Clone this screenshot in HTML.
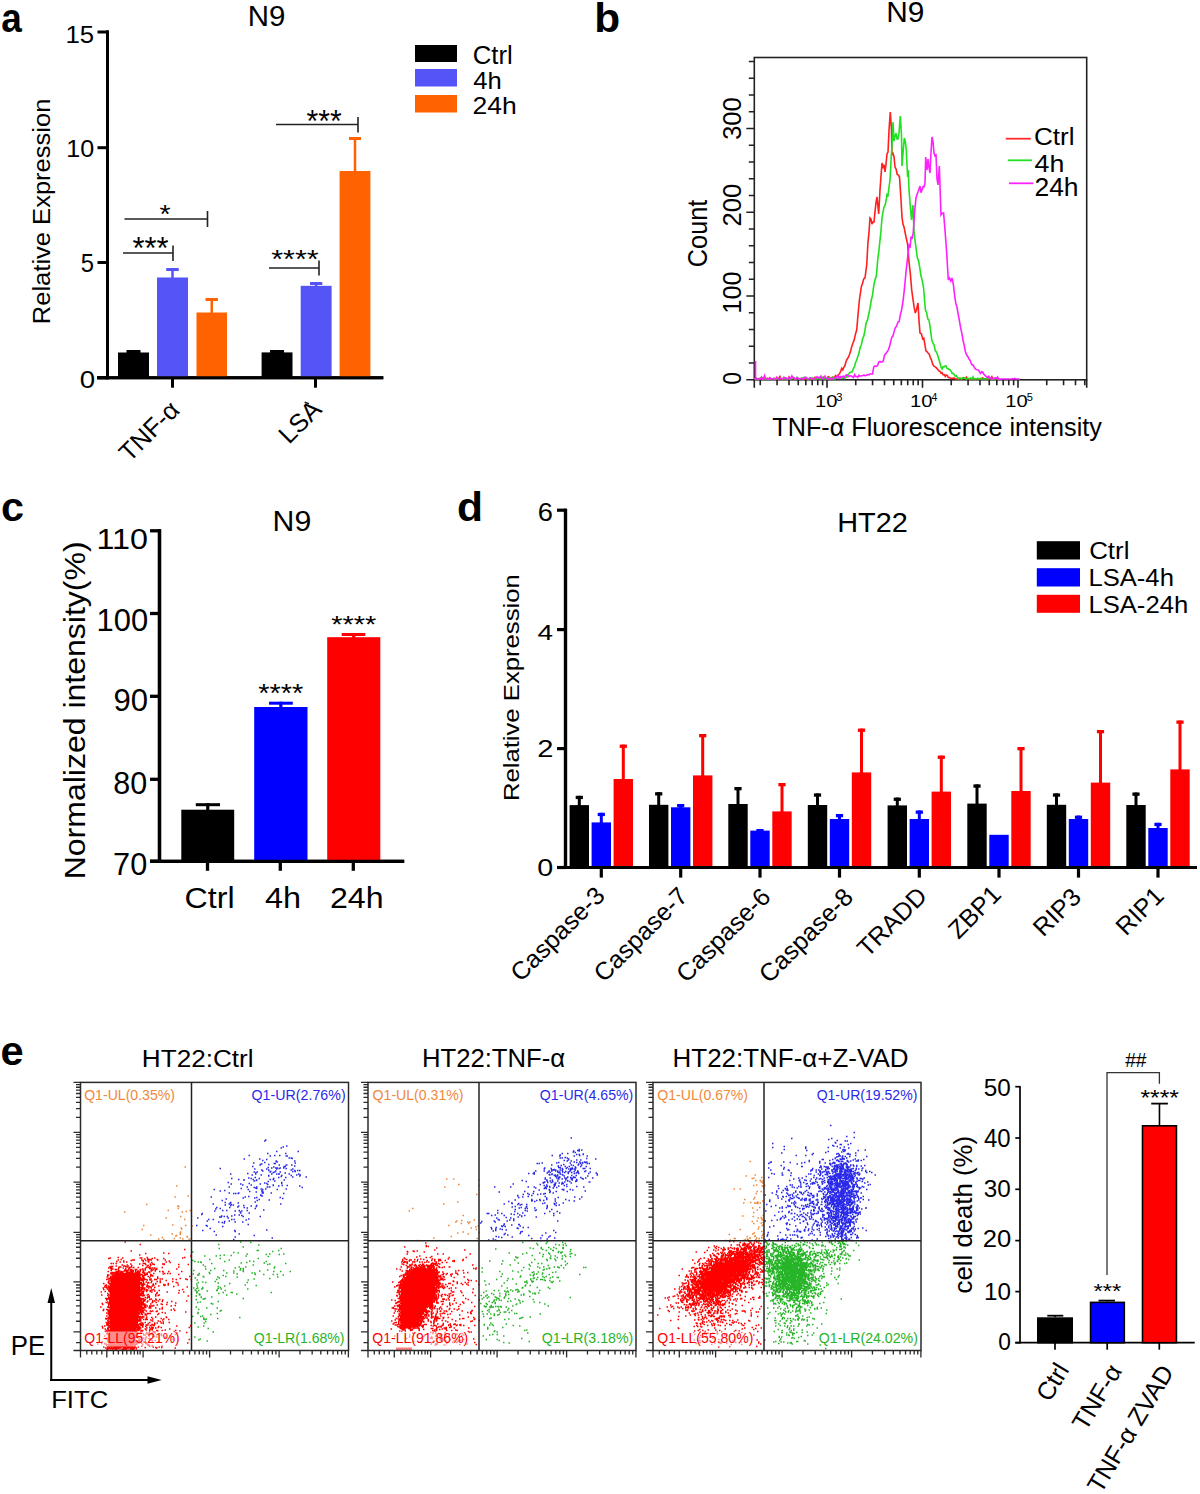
<!DOCTYPE html>
<html><head><meta charset="utf-8"><style>
html,body{margin:0;padding:0;background:#fff;width:1200px;height:1494px;overflow:hidden}
svg{display:block}
text{font-family:"Liberation Sans",sans-serif}
</style></head><body>
<svg width="1200" height="1494" viewBox="0 0 1200 1494">
<rect width="1200" height="1494" fill="#fff"/>
<text transform="translate(1.20 32.36) scale(0.913 1)" font-size="40.50" font-weight="bold" fill="#000">a</text>
<text transform="translate(594.14 32.38) scale(1.047 1)" font-size="40.50" font-weight="bold" fill="#000">b</text>
<text transform="translate(1.04 520.53) scale(1.024 1)" font-size="40.50" font-weight="bold" fill="#000">c</text>
<text transform="translate(456.89 520.68) scale(1.052 1)" font-size="40.50" font-weight="bold" fill="#000">d</text>
<text transform="translate(0.48 1065.48) scale(1.027 1)" font-size="40.50" font-weight="bold" fill="#000">e</text>
<text transform="translate(247.87 26.08) scale(0.988 1)" font-size="29.79" fill="#000">N9</text>
<line x1="107.50" y1="30.50" x2="107.50" y2="379.30" stroke="#000" stroke-width="3.00"/>
<line x1="97.00" y1="377.80" x2="383.30" y2="377.80" stroke="#000" stroke-width="3.00"/>
<line x1="97.50" y1="32.00" x2="107.50" y2="32.00" stroke="#000" stroke-width="3.00"/>
<line x1="97.50" y1="147.70" x2="107.50" y2="147.70" stroke="#000" stroke-width="3.00"/>
<line x1="97.50" y1="262.50" x2="107.50" y2="262.50" stroke="#000" stroke-width="3.00"/>
<line x1="97.50" y1="377.80" x2="107.50" y2="377.80" stroke="#000" stroke-width="3.00"/>
<text transform="translate(65.50 42.82) scale(1.072 1)" font-size="24.03" fill="#000">15</text>
<text transform="translate(66.25 157.32) scale(1.049 1)" font-size="23.97" fill="#000">10</text>
<text transform="translate(80.79 272.11) scale(0.941 1)" font-size="25.32" fill="#000">5</text>
<text transform="translate(79.82 388.32) scale(1.182 1)" font-size="23.40" fill="#000">0</text>
<line x1="172.50" y1="377.80" x2="172.50" y2="387.70" stroke="#000" stroke-width="3.00"/>
<line x1="315.50" y1="377.80" x2="315.50" y2="387.70" stroke="#000" stroke-width="3.00"/>
<text transform="translate(49.59 324.21) rotate(-90) scale(1.079 1)" font-size="23.66" fill="#000">Relative Expression</text>
<rect x="132.25" y="350.00" width="2.50" height="3.50" fill="#000"/>
<rect x="126.50" y="350.00" width="14.00" height="3.00" fill="#000"/>
<rect x="118.00" y="352.50" width="31.00" height="25.30" fill="#000"/>
<rect x="171.25" y="268.00" width="2.50" height="10.50" fill="#5454F7"/>
<rect x="166.25" y="268.00" width="12.50" height="3.00" fill="#5454F7"/>
<rect x="157.00" y="277.50" width="31.00" height="100.30" fill="#5454F7"/>
<rect x="210.50" y="298.00" width="2.50" height="15.50" fill="#FF6200"/>
<rect x="205.50" y="298.00" width="12.50" height="3.00" fill="#FF6200"/>
<rect x="196.50" y="312.50" width="30.50" height="65.30" fill="#FF6200"/>
<rect x="275.80" y="350.00" width="2.50" height="3.40" fill="#000"/>
<rect x="270.05" y="350.00" width="14.00" height="3.00" fill="#000"/>
<rect x="261.60" y="352.40" width="30.90" height="25.40" fill="#000"/>
<rect x="314.90" y="282.00" width="2.50" height="4.80" fill="#5454F7"/>
<rect x="310.00" y="282.00" width="12.30" height="3.00" fill="#5454F7"/>
<rect x="300.70" y="285.80" width="30.90" height="92.00" fill="#5454F7"/>
<rect x="353.75" y="137.00" width="2.50" height="35.00" fill="#FF6200"/>
<rect x="349.00" y="137.00" width="12.00" height="3.00" fill="#FF6200"/>
<rect x="339.60" y="171.00" width="30.80" height="206.80" fill="#FF6200"/>
<line x1="123.00" y1="253.00" x2="173.00" y2="253.00" stroke="#222" stroke-width="1.60"/>
<line x1="173.00" y1="245.50" x2="173.00" y2="261.00" stroke="#222" stroke-width="1.60"/>
<line x1="124.50" y1="219.00" x2="207.50" y2="219.00" stroke="#222" stroke-width="1.60"/>
<line x1="207.50" y1="211.00" x2="207.50" y2="227.00" stroke="#222" stroke-width="1.60"/>
<line x1="269.00" y1="268.00" x2="319.00" y2="268.00" stroke="#222" stroke-width="1.60"/>
<line x1="319.00" y1="260.50" x2="319.00" y2="275.60" stroke="#222" stroke-width="1.60"/>
<line x1="276.00" y1="124.50" x2="358.00" y2="124.50" stroke="#222" stroke-width="1.60"/>
<line x1="358.00" y1="117.00" x2="358.00" y2="132.50" stroke="#222" stroke-width="1.60"/>
<text transform="translate(132.46 258.92) scale(0.971 1)" font-size="31.88" fill="#000">***</text>
<text transform="translate(159.50 222.93) scale(1.095 1)" font-size="26.09" fill="#000">*</text>
<text transform="translate(271.17 268.14) scale(1.185 1)" font-size="25.80" fill="#000">****</text>
<text transform="translate(306.47 131.92) scale(0.944 1)" font-size="31.88" fill="#000">***</text>
<line x1="107.50" y1="30.50" x2="107.50" y2="379.30" stroke="#000" stroke-width="3.00"/>
<line x1="97.00" y1="377.80" x2="383.30" y2="377.80" stroke="#000" stroke-width="3.00"/>
<rect x="415.00" y="45.00" width="42.00" height="17.00" fill="#000"/>
<rect x="415.00" y="69.00" width="42.00" height="17.50" fill="#5454F7"/>
<rect x="415.00" y="95.00" width="42.00" height="17.50" fill="#FF6200"/>
<text transform="translate(472.65 64.01) scale(1.034 1)" font-size="24.93" fill="#000">Ctrl</text>
<text transform="translate(473.30 89.06) scale(1.054 1)" font-size="24.31" fill="#000">4h</text>
<text transform="translate(472.61 114.06) scale(1.092 1)" font-size="24.31" fill="#000">24h</text>
<text transform="translate(129.50 463.08) rotate(-45)" font-size="25.50" fill="#000">TNF-α</text>
<text transform="translate(289.01 445.05) rotate(-45)" font-size="25.50" fill="#000">LSA</text>
<path d="M304.6 402.3 L309 403.7" stroke="#222" stroke-width="1.7" fill="none"/>
<text transform="translate(886.29 22.48)" font-size="29.83" fill="#000">N9</text>
<rect x="754.30" y="57.50" width="332.40" height="322.30" fill="none" stroke="#222" stroke-width="1.6"/>
<path d="M746.30 379.80H754.30M748.80 363.05H754.30M748.80 346.30H754.30M748.80 329.55H754.30M748.80 312.80H754.30M746.30 296.05H754.30M748.80 279.30H754.30M748.80 262.55H754.30M748.80 245.80H754.30M748.80 229.05H754.30M746.30 212.30H754.30M748.80 195.55H754.30M748.80 178.80H754.30M748.80 162.05H754.30M748.80 145.30H754.30M746.30 128.55H754.30M748.80 111.80H754.30M748.80 95.05H754.30M748.80 78.30H754.30M748.80 61.55H754.30" stroke="#222" stroke-width="1.6" fill="none"/>
<path d="M760.25 379.80V385.30M777.07 379.80V385.30M789.00 379.80V385.30M798.25 379.80V385.30M805.81 379.80V385.30M812.21 379.80V385.30M817.75 379.80V385.30M822.63 379.80V385.30M827.00 379.80V387.80M855.75 379.80V385.30M872.57 379.80V385.30M884.50 379.80V385.30M893.75 379.80V385.30M901.31 379.80V385.30M907.71 379.80V385.30M913.25 379.80V385.30M918.13 379.80V385.30M922.50 379.80V387.80M951.25 379.80V385.30M968.07 379.80V385.30M980.00 379.80V385.30M989.25 379.80V385.30M996.81 379.80V385.30M1003.21 379.80V385.30M1008.75 379.80V385.30M1013.63 379.80V385.30M1018.00 379.80V387.80M1046.75 379.80V385.30M1063.57 379.80V385.30M1075.50 379.80V385.30M1084.75 379.80V385.30M754.30 379.80V387.80M1086.70 379.80V387.80" stroke="#222" stroke-width="1.6" fill="none"/>
<text transform="translate(741.05 139.83) rotate(-90) scale(0.971 1)" font-size="26.24" fill="#000">300</text>
<text transform="translate(741.05 226.47) rotate(-90) scale(0.974 1)" font-size="26.24" fill="#000">200</text>
<text transform="translate(741.05 313.67) rotate(-90) scale(0.967 1)" font-size="26.24" fill="#000">100</text>
<text transform="translate(740.81 384.67) rotate(-90) scale(0.879 1)" font-size="25.89" fill="#000">0</text>
<text transform="translate(706.50 267.13) rotate(-90) scale(0.927 1)" font-size="27.23" fill="#000">Count</text>
<text transform="translate(814.93 406.88) scale(1.295 1)" font-size="15.60" fill="#000">10</text>
<text transform="translate(836.32 400.91) scale(0.985 1)" font-size="11.35" fill="#000">3</text>
<text transform="translate(909.93 406.88) scale(1.295 1)" font-size="15.60" fill="#000">10</text>
<text transform="translate(931.51 401.03) scale(0.899 1)" font-size="11.68" fill="#000">4</text>
<text transform="translate(1005.23 406.88) scale(1.295 1)" font-size="15.60" fill="#000">10</text>
<text transform="translate(1026.63 400.91) scale(0.961 1)" font-size="11.51" fill="#000">5</text>
<text transform="translate(772.35 435.91) scale(0.989 1)" font-size="25.48" fill="#000">TNF-α Fluorescence intensity</text>
<line x1="1005.80" y1="138.70" x2="1030.80" y2="138.70" stroke="#FF2A2A" stroke-width="1.80"/>
<line x1="1007.80" y1="160.30" x2="1032.00" y2="160.30" stroke="#22E022" stroke-width="1.80"/>
<line x1="1009.00" y1="183.30" x2="1033.30" y2="183.30" stroke="#FF22FF" stroke-width="1.80"/>
<text transform="translate(1033.93 145.12) scale(1.072 1)" font-size="24.38" fill="#000">Ctrl</text>
<text transform="translate(1034.56 171.76) scale(1.090 1)" font-size="24.58" fill="#000">4h</text>
<text transform="translate(1034.41 196.36) scale(1.059 1)" font-size="25.00" fill="#000">24h</text>
<path d="M754.5 379.0 755.5 379.0 756.5 378.2 757.5 379.0 758.6 379.0 759.6 379.0 760.6 378.6 761.6 378.5 762.6 378.4 763.6 379.0 764.6 378.7 765.7 379.0 766.7 378.5 767.7 378.3 768.7 379.0 769.7 378.5 770.7 378.4 771.7 379.0 772.8 379.0 773.8 378.2 774.8 379.0 775.8 379.0 776.8 379.0 777.8 379.0 778.8 378.0 779.9 376.4 780.9 379.0 781.9 378.8 782.9 379.0 783.9 379.0 784.9 378.8 785.9 379.0 787.0 379.0 788.0 378.6 789.0 377.0 790.0 379.0 791.0 379.0 792.0 378.3 793.0 378.5 794.0 379.0 795.0 379.0 796.0 378.8 797.0 377.7 798.0 379.0 799.0 378.8 800.0 379.0 801.0 378.7 802.0 378.7 803.0 378.8 804.0 379.0 805.0 379.0 806.0 377.9 807.0 379.0 808.0 379.0 809.0 379.0 810.0 379.0 811.0 379.0 812.0 379.0 813.0 379.0 814.0 378.6 815.0 377.4 816.0 378.9 817.0 378.6 818.0 378.3 819.0 377.6 820.0 378.5 821.0 377.3 822.1 378.1 823.1 377.8 824.1 377.9 825.2 378.8 826.2 379.0 827.2 378.1 828.2 376.6 829.3 377.4 830.3 378.4 831.3 378.2 832.4 377.1 833.4 378.2 834.4 377.5 835.5 375.6 836.5 377.0 837.5 375.5 838.6 374.7 839.6 373.6 840.7 371.3 841.7 368.3 842.8 370.0 843.8 367.3 844.9 365.8 846.0 361.6 847.1 359.2 848.2 357.5 849.3 355.0 850.5 351.6 851.8 346.4 853.0 343.0 854.2 339.9 855.5 333.9 856.7 330.0 858.0 314.8 859.4 300.0 861.3 287.0 862.5 283.5 863.8 278.7 865.0 278.0 866.8 264.0 867.9 242.9 868.9 233.7 870.0 218.0 871.0 219.1 872.0 224.1 873.0 222.0 874.0 222.0 875.0 211.7 876.0 202.7 877.0 197.0 878.7 214.0 880.0 190.0 881.0 176.1 882.0 163.0 883.0 168.4 884.0 164.7 885.0 172.0 886.0 164.4 887.0 154.0 888.0 152.0 889.1 128.5 890.3 112.0 891.5 130.0 892.0 155.0 893.0 153.5 894.0 156.7 895.0 167.0 896.1 169.1 897.2 174.4 898.4 175.0 899.5 177.0 900.8 196.4 902.0 217.0 903.0 224.4 904.0 226.9 905.0 232.0 906.0 237.0 907.6 244.0 909.0 262.0 910.4 274.4 911.7 290.0 912.9 298.6 914.1 307.2 915.3 313.0 916.6 309.2 918.0 303.0 919.0 320.6 920.0 333.0 921.4 333.7 922.7 339.0 923.8 338.3 924.8 343.8 925.9 350.8 926.9 351.5 928.0 353.0 929.1 354.0 930.3 357.5 931.4 359.8 932.6 364.0 933.7 366.0 934.8 366.6 935.9 367.4 937.0 368.6 938.1 369.7 939.2 371.0 940.2 371.5 941.2 373.3 942.2 372.8 943.2 374.9 944.3 374.6 945.3 376.5 946.3 375.0 947.3 375.3 948.3 377.5 949.3 377.6 950.3 377.9 951.3 378.5 952.3 378.5 953.3 378.1 954.3 378.0 955.3 378.9 956.3 379.0 957.3 379.0 958.3 379.0 959.3 379.2 960.3 378.2 961.3 379.0 962.4 378.8 963.4 377.7 964.4 378.1 965.4 379.0 966.4 377.2 967.4 379.0 968.5 379.0 969.5 379.0 970.5 378.7 971.5 379.0 972.5 379.0 973.5 378.7 974.6 379.0 975.6 379.0 976.6 378.8 977.6 379.0 978.6 379.0 979.6 379.0 980.7 379.0 981.7 379.0 982.7 377.8 983.7 378.6 984.7 378.8 985.8 379.0 986.8 379.0 987.8 378.2 988.8 379.0 989.8 379.0 990.8 378.5 991.9 376.7 992.9 379.0 993.9 379.0 994.9 378.7 995.9 379.0 996.9 378.0 998.0 379.0 999.0 379.0 1000.0 379.5" fill="none" stroke="#FF2020" stroke-width="1.6" stroke-linejoin="miter" stroke-miterlimit="3"/>
<path d="M754.5 379.0 755.5 379.0 756.5 379.0 757.5 378.6 758.5 379.0 759.6 379.0 760.6 377.9 761.6 378.7 762.6 378.3 763.6 379.0 764.6 379.0 765.6 379.0 766.6 379.0 767.6 378.7 768.7 379.0 769.7 379.0 770.7 379.0 771.7 379.0 772.7 379.0 773.7 379.0 774.7 379.0 775.7 379.0 776.7 378.8 777.8 379.0 778.8 378.6 779.8 378.0 780.8 378.2 781.8 379.0 782.8 379.0 783.8 377.3 784.8 379.0 785.8 379.0 786.9 378.9 787.9 379.0 788.9 378.3 789.9 379.0 790.9 378.7 791.9 378.8 792.9 378.2 793.9 377.9 794.9 379.0 796.0 379.0 797.0 377.3 798.0 378.3 799.0 379.0 800.0 379.0 801.0 378.4 802.0 378.0 803.0 378.7 804.0 377.7 805.0 377.1 806.0 377.8 807.0 379.0 808.0 379.0 809.0 379.0 810.0 377.7 811.0 378.9 812.0 377.8 813.0 379.0 814.0 378.5 815.0 378.5 816.0 379.0 817.0 379.0 818.0 378.9 819.0 378.5 820.0 378.8 821.0 379.0 822.0 379.0 823.0 377.1 824.0 379.0 825.0 379.0 826.0 378.5 827.0 379.0 828.0 378.5 829.0 377.8 830.0 378.5 831.0 378.9 832.1 378.5 833.1 377.1 834.2 379.0 835.2 379.0 836.3 377.8 837.3 378.5 838.4 378.3 839.4 377.3 840.5 377.0 841.5 377.7 842.6 378.5 843.6 377.6 844.7 378.5 845.7 377.6 846.8 376.9 847.8 374.6 848.9 374.0 849.9 372.4 851.0 372.2 852.0 372.0 853.2 369.2 854.4 366.9 855.5 362.7 856.7 360.0 857.9 356.3 859.0 353.1 860.1 347.8 861.3 345.0 862.5 339.0 863.8 336.2 865.0 330.0 866.2 322.5 867.4 320.4 868.6 315.0 870.0 308.2 871.3 300.0 872.5 295.1 873.8 285.3 875.0 280.0 876.4 275.6 877.7 260.0 878.9 250.8 880.0 240.0 881.0 230.5 882.0 218.2 883.0 212.2 884.0 207.0 885.0 205.5 886.0 201.0 887.0 194.6 888.0 195.4 889.0 187.5 890.0 180.0 891.2 157.9 892.5 137.0 893.0 122.0 894.0 141.0 895.0 136.6 896.0 133.2 897.0 139.0 898.0 139.0 899.0 133.0 900.3 116.0 901.5 135.0 902.0 166.0 903.1 152.2 904.3 138.0 905.3 141.2 906.3 150.0 907.6 177.0 908.3 170.0 909.0 190.0 910.2 204.9 911.5 220.0 913.0 205.0 914.0 232.0 915.1 240.6 916.3 250.0 917.4 258.0 918.5 260.6 919.7 267.2 920.8 275.0 922.2 280.3 923.6 288.0 925.4 310.0 926.6 312.4 927.8 319.0 929.0 320.0 930.4 329.1 931.8 340.0 932.9 342.9 934.1 345.1 935.2 350.7 936.4 352.0 937.5 354.7 938.7 358.8 939.9 362.7 941.0 367.0 942.0 369.1 943.0 366.6 944.0 366.8 945.0 366.0 946.0 365.8 947.1 368.5 948.1 368.6 949.2 369.6 950.2 370.0 951.2 371.3 952.2 373.4 953.2 373.4 954.2 374.5 955.3 376.2 956.3 375.6 957.3 377.3 958.3 378.5 959.3 378.0 960.3 378.5 961.4 379.0 962.4 377.7 963.5 378.3 964.5 378.1 965.6 378.2 966.6 379.0 967.7 377.9 968.8 378.6 969.8 379.0 970.9 378.0 971.9 379.0 973.0 376.9 974.0 379.0 975.0 379.0 976.0 379.0 977.0 378.8 978.0 378.2 979.0 379.0 980.0 378.9 981.0 378.2 982.0 378.9 983.0 379.0 984.0 379.0 985.0 379.0 986.0 378.7 987.0 377.4 988.0 379.0 989.0 378.1 990.0 378.2 991.0 379.0 992.0 379.0 993.0 378.5 994.0 379.0 995.0 379.0 996.0 378.0 997.0 379.0 998.0 379.0 999.0 379.0 1000.0 379.5" fill="none" stroke="#20E020" stroke-width="1.6" stroke-linejoin="miter" stroke-miterlimit="3"/>
<path d="M754.5 379.0 755.5 379.0 756.5 379.0 757.5 379.0 758.5 379.0 759.6 378.5 760.6 379.0 761.6 377.0 762.6 379.0 763.6 378.1 764.6 375.7 765.6 379.0 766.6 379.0 767.6 378.6 768.7 379.0 769.7 377.8 770.7 379.0 771.7 379.0 772.7 379.0 773.7 379.0 774.7 379.0 775.7 378.8 776.7 377.3 777.8 379.0 778.8 379.0 779.8 378.5 780.8 378.2 781.8 379.0 782.8 378.9 783.8 378.4 784.8 377.7 785.8 377.8 786.9 378.9 787.9 379.0 788.9 378.1 789.9 378.7 790.9 378.0 791.9 375.9 792.9 377.6 793.9 377.6 794.9 379.0 796.0 378.8 797.0 377.9 798.0 378.1 799.0 379.0 800.0 378.5 801.0 378.5 802.0 378.5 803.0 379.0 804.0 377.7 805.0 378.6 806.0 377.3 807.0 378.2 808.0 379.0 809.0 378.9 810.0 377.8 811.0 378.1 812.0 379.0 813.0 378.5 814.0 379.0 815.0 379.0 816.0 377.8 817.0 376.7 818.0 378.2 819.0 377.3 820.0 377.5 821.0 376.2 822.0 379.0 823.0 378.9 824.0 377.0 825.0 376.1 826.0 378.6 827.0 378.4 828.0 378.7 829.0 379.0 830.0 379.0 831.0 378.4 832.0 379.0 833.0 379.0 834.0 378.0 835.0 377.7 836.0 378.0 837.0 376.2 838.0 376.1 839.1 378.3 840.1 376.6 841.1 378.3 842.1 376.7 843.2 376.3 844.2 377.6 845.2 375.8 846.2 375.1 847.3 374.9 848.3 376.7 849.3 376.0 850.4 375.8 851.4 375.9 852.5 376.8 853.5 377.5 854.6 374.6 855.6 376.4 856.7 376.5 857.7 377.5 858.8 375.3 859.8 376.1 860.9 376.0 861.9 375.7 863.0 375.5 864.0 375.0 865.0 375.7 866.1 375.5 867.1 374.7 868.2 374.5 869.2 374.8 870.3 373.9 871.3 374.0 872.5 374.0 873.8 367.0 875.0 366.0 876.2 366.4 877.5 365.7 878.7 362.0 879.9 361.4 881.0 362.2 882.1 361.9 883.3 361.0 884.5 355.2 885.8 353.5 887.0 352.0 888.2 350.1 889.4 347.1 890.6 342.0 891.8 337.1 892.9 336.2 894.1 331.6 895.2 328.0 896.6 326.0 898.0 322.0 899.2 321.5 900.4 314.3 901.6 310.0 903.0 301.5 904.3 290.0 906.2 270.0 907.6 257.9 909.0 245.0 910.1 246.4 911.1 236.5 912.2 239.0 913.3 232.0 914.6 211.8 916.0 198.0 917.0 194.4 918.0 192.0 919.0 188.9 920.0 186.1 921.0 192.6 922.0 190.0 923.0 186.7 924.0 186.8 925.0 183.0 925.7 157.0 927.0 170.0 928.0 159.0 929.0 167.7 930.0 173.0 931.0 152.4 932.0 137.0 933.0 141.5 934.0 153.0 935.0 155.8 936.0 155.0 937.0 178.6 938.0 185.0 939.3 166.0 941.0 215.0 942.3 213.3 943.6 213.0 945.0 230.0 946.5 250.0 948.3 280.0 949.5 278.1 950.8 281.2 952.0 278.0 953.4 284.7 954.8 297.0 955.9 303.7 957.0 307.0 958.2 314.3 959.3 320.0 960.5 327.2 961.8 333.2 963.0 340.0 964.2 345.2 965.5 352.0 966.7 355.0 967.8 356.4 968.9 358.9 970.0 360.1 971.1 363.5 972.2 365.0 973.2 365.1 974.3 367.4 975.3 368.9 976.4 369.4 977.4 369.8 978.5 370.1 979.5 372.0 980.5 373.4 981.6 371.7 982.6 372.0 983.7 374.0 984.7 375.1 985.8 376.2 986.8 377.0 987.9 378.0 988.9 376.4 990.0 378.6 991.1 377.7 992.2 379.0 993.2 378.5 994.3 378.3 995.4 377.9 996.5 378.3 997.6 377.0 998.6 379.0 999.7 379.5 1000.7 379.0 1001.7 379.0 1002.7 379.0 1003.8 379.0 1004.8 379.0 1005.8 379.0 1006.8 379.0 1007.8 379.0 1008.8 379.0 1009.9 379.0 1010.9 379.0 1011.9 379.0 1012.9 378.6 1013.9 379.0 1014.9 378.4 1015.9 379.0 1017.0 379.0 1018.0 379.0 1019.0 379.0 1020.0 379.5" fill="none" stroke="#FF20FF" stroke-width="1.6" stroke-linejoin="miter" stroke-miterlimit="3"/>
<line x1="755.50" y1="361.00" x2="755.50" y2="379.50" stroke="#FF20FF" stroke-width="1.60"/>
<text transform="translate(272.50 531.48) scale(1.022 1)" font-size="29.65" fill="#000">N9</text>
<line x1="159.50" y1="529.20" x2="159.50" y2="863.00" stroke="#000" stroke-width="3.30"/>
<line x1="150.00" y1="861.30" x2="404.20" y2="861.30" stroke="#000" stroke-width="3.30"/>
<line x1="150.00" y1="530.80" x2="159.50" y2="530.80" stroke="#000" stroke-width="3.30"/>
<line x1="150.00" y1="613.50" x2="159.50" y2="613.50" stroke="#000" stroke-width="3.30"/>
<line x1="150.00" y1="696.30" x2="159.50" y2="696.30" stroke="#000" stroke-width="3.30"/>
<line x1="150.00" y1="779.30" x2="159.50" y2="779.30" stroke="#000" stroke-width="3.30"/>
<line x1="150.00" y1="861.30" x2="159.50" y2="861.30" stroke="#000" stroke-width="3.30"/>
<text transform="translate(96.49 548.97) scale(1.075 1)" font-size="30.07" fill="#000">110</text>
<text transform="translate(96.61 630.57)" font-size="30.92" fill="#000">100</text>
<text transform="translate(113.52 711.07) scale(1.005 1)" font-size="30.92" fill="#000">90</text>
<text transform="translate(113.25 794.27) scale(0.977 1)" font-size="31.21" fill="#000">80</text>
<text transform="translate(113.09 875.07) scale(0.982 1)" font-size="31.21" fill="#000">70</text>
<line x1="207.50" y1="861.30" x2="207.50" y2="870.80" stroke="#000" stroke-width="3.30"/>
<line x1="280.30" y1="861.30" x2="280.30" y2="870.80" stroke="#000" stroke-width="3.30"/>
<line x1="353.30" y1="861.30" x2="353.30" y2="870.80" stroke="#000" stroke-width="3.30"/>
<rect x="206.15" y="803.20" width="3.20" height="7.50" fill="#000"/>
<rect x="195.80" y="803.20" width="24.20" height="3.00" fill="#000"/>
<rect x="181.30" y="809.70" width="52.90" height="51.60" fill="#000"/>
<rect x="279.25" y="701.70" width="3.20" height="6.30" fill="#0000FF"/>
<rect x="269.00" y="701.70" width="23.80" height="3.00" fill="#0000FF"/>
<rect x="254.20" y="707.00" width="53.30" height="154.30" fill="#0000FF"/>
<rect x="352.15" y="633.00" width="3.20" height="5.20" fill="#FF0000"/>
<rect x="341.70" y="633.00" width="23.60" height="3.00" fill="#FF0000"/>
<rect x="327.20" y="637.20" width="53.10" height="224.10" fill="#FF0000"/>
<line x1="159.50" y1="529.20" x2="159.50" y2="863.00" stroke="#000" stroke-width="3.30"/>
<line x1="150.00" y1="861.30" x2="404.20" y2="861.30" stroke="#000" stroke-width="3.30"/>
<text transform="translate(258.19 702.34) scale(1.146 1)" font-size="25.22" fill="#000">****</text>
<text transform="translate(331.19 632.54) scale(1.187 1)" font-size="24.35" fill="#000">****</text>
<text transform="translate(184.61 907.78) scale(1.103 1)" font-size="29.18" fill="#000">Ctrl</text>
<text transform="translate(264.91 907.58) scale(1.075 1)" font-size="30.14" fill="#000">4h</text>
<text transform="translate(330.01 907.58) scale(1.065 1)" font-size="30.14" fill="#000">24h</text>
<text transform="translate(85.21 879.34) rotate(-90) scale(1.056 1)" font-size="30.32" fill="#000">Normalized intensity(%)</text>
<text transform="translate(837.21 531.87) scale(1.058 1)" font-size="27.34" fill="#000">HT22</text>
<line x1="565.50" y1="508.80" x2="565.50" y2="869.00" stroke="#000" stroke-width="3.20"/>
<line x1="557.00" y1="867.50" x2="1197.00" y2="867.50" stroke="#000" stroke-width="3.20"/>
<line x1="557.00" y1="510.20" x2="565.50" y2="510.20" stroke="#000" stroke-width="3.20"/>
<line x1="557.00" y1="629.60" x2="565.50" y2="629.60" stroke="#000" stroke-width="3.20"/>
<line x1="557.00" y1="748.60" x2="565.50" y2="748.60" stroke="#000" stroke-width="3.20"/>
<line x1="557.00" y1="867.50" x2="565.50" y2="867.50" stroke="#000" stroke-width="3.20"/>
<text transform="translate(537.87 521.41) scale(1.073 1)" font-size="25.39" fill="#000">6</text>
<text transform="translate(537.43 639.76) scale(1.240 1)" font-size="22.48" fill="#000">4</text>
<text transform="translate(537.37 757.06) scale(1.190 1)" font-size="24.46" fill="#000">2</text>
<text transform="translate(537.28 875.82) scale(1.191 1)" font-size="24.11" fill="#000">0</text>
<text transform="translate(518.56 801.12) rotate(-90) scale(1.148 1)" font-size="22.37" fill="#000">Relative Expression</text>
<rect x="1036.80" y="541.20" width="43.20" height="18.30" fill="#000"/>
<rect x="1036.80" y="568.20" width="43.20" height="18.30" fill="#0000FF"/>
<rect x="1036.80" y="594.80" width="43.20" height="18.00" fill="#FF0000"/>
<text transform="translate(1089.14 558.52) scale(1.081 1)" font-size="23.97" fill="#000">Ctrl</text>
<text transform="translate(1088.38 586.02) scale(1.070 1)" font-size="23.97" fill="#000">LSA-4h</text>
<text transform="translate(1088.38 612.82) scale(1.053 1)" font-size="24.38" fill="#000">LSA-24h</text>
<rect x="577.80" y="795.80" width="3.00" height="10.30" fill="#000"/>
<rect x="575.70" y="795.80" width="7.20" height="3.30" fill="#000"/>
<rect x="569.60" y="805.10" width="19.40" height="62.40" fill="#000"/>
<rect x="599.80" y="812.80" width="3.00" height="10.60" fill="#0000FF"/>
<rect x="597.70" y="812.80" width="7.20" height="3.30" fill="#0000FF"/>
<rect x="591.60" y="822.40" width="19.40" height="45.10" fill="#0000FF"/>
<rect x="621.80" y="744.60" width="3.00" height="35.40" fill="#FF0000"/>
<rect x="619.70" y="744.60" width="7.20" height="3.30" fill="#FF0000"/>
<rect x="613.60" y="779.00" width="19.40" height="88.50" fill="#FF0000"/>
<line x1="601.30" y1="867.50" x2="601.30" y2="877.60" stroke="#000" stroke-width="3.20"/>
<rect x="657.20" y="792.20" width="3.00" height="13.60" fill="#000"/>
<rect x="655.10" y="792.20" width="7.20" height="3.30" fill="#000"/>
<rect x="649.00" y="804.80" width="19.40" height="62.70" fill="#000"/>
<rect x="679.20" y="804.00" width="3.00" height="4.30" fill="#0000FF"/>
<rect x="677.10" y="804.00" width="7.20" height="3.30" fill="#0000FF"/>
<rect x="671.00" y="807.30" width="19.40" height="60.20" fill="#0000FF"/>
<rect x="701.20" y="734.00" width="3.00" height="42.40" fill="#FF0000"/>
<rect x="699.10" y="734.00" width="7.20" height="3.30" fill="#FF0000"/>
<rect x="693.00" y="775.40" width="19.40" height="92.10" fill="#FF0000"/>
<line x1="680.70" y1="867.50" x2="680.70" y2="877.60" stroke="#000" stroke-width="3.20"/>
<rect x="736.50" y="787.00" width="3.00" height="18.00" fill="#000"/>
<rect x="734.40" y="787.00" width="7.20" height="3.30" fill="#000"/>
<rect x="728.30" y="804.00" width="19.40" height="63.50" fill="#000"/>
<rect x="758.50" y="829.00" width="3.00" height="2.60" fill="#0000FF"/>
<rect x="756.40" y="829.00" width="7.20" height="3.30" fill="#0000FF"/>
<rect x="750.30" y="830.60" width="19.40" height="36.90" fill="#0000FF"/>
<rect x="780.50" y="783.00" width="3.00" height="29.40" fill="#FF0000"/>
<rect x="778.40" y="783.00" width="7.20" height="3.30" fill="#FF0000"/>
<rect x="772.30" y="811.40" width="19.40" height="56.10" fill="#FF0000"/>
<line x1="760.00" y1="867.50" x2="760.00" y2="877.60" stroke="#000" stroke-width="3.20"/>
<rect x="816.00" y="793.40" width="3.00" height="12.60" fill="#000"/>
<rect x="813.90" y="793.40" width="7.20" height="3.30" fill="#000"/>
<rect x="807.80" y="805.00" width="19.40" height="62.50" fill="#000"/>
<rect x="838.00" y="814.00" width="3.00" height="6.00" fill="#0000FF"/>
<rect x="835.90" y="814.00" width="7.20" height="3.30" fill="#0000FF"/>
<rect x="829.80" y="819.00" width="19.40" height="48.50" fill="#0000FF"/>
<rect x="860.00" y="728.60" width="3.00" height="44.80" fill="#FF0000"/>
<rect x="857.90" y="728.60" width="7.20" height="3.30" fill="#FF0000"/>
<rect x="851.80" y="772.40" width="19.40" height="95.10" fill="#FF0000"/>
<line x1="839.50" y1="867.50" x2="839.50" y2="877.60" stroke="#000" stroke-width="3.20"/>
<rect x="895.80" y="797.60" width="3.00" height="8.80" fill="#000"/>
<rect x="893.70" y="797.60" width="7.20" height="3.30" fill="#000"/>
<rect x="887.60" y="805.40" width="19.40" height="62.10" fill="#000"/>
<rect x="917.80" y="810.50" width="3.00" height="9.50" fill="#0000FF"/>
<rect x="915.70" y="810.50" width="7.20" height="3.30" fill="#0000FF"/>
<rect x="909.60" y="819.00" width="19.40" height="48.50" fill="#0000FF"/>
<rect x="939.80" y="755.60" width="3.00" height="37.00" fill="#FF0000"/>
<rect x="937.70" y="755.60" width="7.20" height="3.30" fill="#FF0000"/>
<rect x="931.60" y="791.60" width="19.40" height="75.90" fill="#FF0000"/>
<line x1="919.30" y1="867.50" x2="919.30" y2="877.60" stroke="#000" stroke-width="3.20"/>
<rect x="975.50" y="784.40" width="3.00" height="20.20" fill="#000"/>
<rect x="973.40" y="784.40" width="7.20" height="3.30" fill="#000"/>
<rect x="967.30" y="803.60" width="19.40" height="63.90" fill="#000"/>
<rect x="989.30" y="834.80" width="19.40" height="32.70" fill="#0000FF"/>
<rect x="1019.50" y="747.00" width="3.00" height="45.00" fill="#FF0000"/>
<rect x="1017.40" y="747.00" width="7.20" height="3.30" fill="#FF0000"/>
<rect x="1011.30" y="791.00" width="19.40" height="76.50" fill="#FF0000"/>
<line x1="999.00" y1="867.50" x2="999.00" y2="877.60" stroke="#000" stroke-width="3.20"/>
<rect x="1055.00" y="793.40" width="3.00" height="12.40" fill="#000"/>
<rect x="1052.90" y="793.40" width="7.20" height="3.30" fill="#000"/>
<rect x="1046.80" y="804.80" width="19.40" height="62.70" fill="#000"/>
<rect x="1077.00" y="815.60" width="3.00" height="4.40" fill="#0000FF"/>
<rect x="1074.90" y="815.60" width="7.20" height="3.30" fill="#0000FF"/>
<rect x="1068.80" y="819.00" width="19.40" height="48.50" fill="#0000FF"/>
<rect x="1099.00" y="730.00" width="3.00" height="53.60" fill="#FF0000"/>
<rect x="1096.90" y="730.00" width="7.20" height="3.30" fill="#FF0000"/>
<rect x="1090.80" y="782.60" width="19.40" height="84.90" fill="#FF0000"/>
<line x1="1078.50" y1="867.50" x2="1078.50" y2="877.60" stroke="#000" stroke-width="3.20"/>
<rect x="1134.50" y="792.50" width="3.00" height="13.50" fill="#000"/>
<rect x="1132.40" y="792.50" width="7.20" height="3.30" fill="#000"/>
<rect x="1126.30" y="805.00" width="19.40" height="62.50" fill="#000"/>
<rect x="1156.50" y="822.80" width="3.00" height="6.20" fill="#0000FF"/>
<rect x="1154.40" y="822.80" width="7.20" height="3.30" fill="#0000FF"/>
<rect x="1148.30" y="828.00" width="19.40" height="39.50" fill="#0000FF"/>
<rect x="1178.50" y="720.50" width="3.00" height="49.90" fill="#FF0000"/>
<rect x="1176.40" y="720.50" width="7.20" height="3.30" fill="#FF0000"/>
<rect x="1170.30" y="769.40" width="19.40" height="98.10" fill="#FF0000"/>
<line x1="1158.00" y1="867.50" x2="1158.00" y2="877.60" stroke="#000" stroke-width="3.20"/>
<line x1="565.50" y1="508.80" x2="565.50" y2="869.00" stroke="#000" stroke-width="3.20"/>
<line x1="557.00" y1="867.50" x2="1197.00" y2="867.50" stroke="#000" stroke-width="3.20"/>
<text transform="translate(520.81 982.71) rotate(-45)" font-size="25.00" fill="#000">Caspase-3</text>
<text transform="translate(603.96 983.19) rotate(-45)" font-size="25.00" fill="#000">Caspase-7</text>
<text transform="translate(686.54 983.81) rotate(-45)" font-size="25.00" fill="#000">Caspase-6</text>
<text transform="translate(769.20 984.16) rotate(-45)" font-size="25.00" fill="#000">Caspase-8</text>
<text transform="translate(867.55 958.33) rotate(-45)" font-size="25.00" fill="#000">TRADD</text>
<text transform="translate(958.45 940.09) rotate(-45)" font-size="25.00" fill="#000">ZBP1</text>
<text transform="translate(1043.21 937.85) rotate(-45)" font-size="25.00" fill="#000">RIP3</text>
<text transform="translate(1126.04 936.68) rotate(-45)" font-size="25.00" fill="#000">RIP1</text>
<text transform="translate(141.84 1066.81) scale(1.054 1)" font-size="24.79" fill="#000">HT22:Ctrl</text>
<path d="M110 1347 L110 1285 L112 1276 L116 1273 L138 1273 L140 1277 L140 1300 L137.5 1322 L133 1347 Z" fill="#FF0000"/>
<path d="M135.5 1326h1.5M126.5 1271h1.5M135.5 1342.5h1.5M134.5 1307h1.5M110 1328h1.5M114.5 1347h1.5M137.5 1325.5h1.5M134 1325.5h1.5M107.5 1322.5h1.5M131 1272h1.5M107.5 1271.5h1.5M122.5 1346h1.5M139 1300.5h1.5M134.5 1337.5h1.5M125.5 1271h1.5M111 1299h1.5M141 1283.5h1.5M109.5 1338h1.5M133.5 1341h1.5M139.5 1295.5h1.5M137.5 1320.5h1.5M110 1278.5h1.5M117 1345.5h1.5M133 1349.5h1.5M140 1328h1.5M113 1304.5h1.5M130.5 1271h1.5M110.5 1337h1.5M109.5 1321h1.5M138.5 1309h1.5M137 1320.5h1.5M116.5 1348h1.5M113 1286.5h1.5M114 1276.5h1.5M129.5 1273h1.5M112 1311.5h1.5M110.5 1323.5h1.5M134 1275.5h1.5M110.5 1301.5h1.5M140 1299.5h1.5M126.5 1265h1.5M131 1338.5h1.5M139.5 1309h1.5M108.5 1288.5h1.5M133.5 1342h1.5M135.5 1333h1.5M119.5 1273.5h1.5M108 1290h1.5M139 1305h1.5M109.5 1318h1.5M112 1308h1.5M109.5 1345.5h1.5M137 1330h1.5M137.5 1302.5h1.5M141 1311.5h1.5M133.5 1328.5h1.5M131 1269.5h1.5M140.5 1287.5h1.5M111 1321h1.5M107 1325.5h1.5M138.5 1304.5h1.5M134 1276.5h1.5M144 1288h1.5M137 1325h1.5M141.5 1299h1.5M140.5 1285h1.5M140 1282.5h1.5M109 1288.5h1.5M110 1341.5h1.5M127 1272h1.5M111.5 1305.5h1.5M117 1276h1.5M133 1337.5h1.5M107.5 1299h1.5M110 1335h1.5M109.5 1293h1.5M110.5 1290h1.5M140.5 1305.5h1.5M135.5 1283h1.5M131.5 1328h1.5M139.5 1307h1.5M122 1273.5h1.5M134.5 1335h1.5M109 1314h1.5M112 1341.5h1.5M112 1331h1.5M136 1318h1.5M132 1273h1.5M108.5 1313.5h1.5M137 1274.5h1.5M108 1318h1.5M136 1310.5h1.5M127.5 1278.5h1.5M112 1277h1.5M110.5 1288.5h1.5M140.5 1299h1.5M111.5 1279.5h1.5M109 1332.5h1.5M108.5 1323.5h1.5M115 1348h1.5M131 1347h1.5M138.5 1309h1.5M109.5 1291.5h1.5M114 1347.5h1.5M139.5 1333h1.5M137 1318h1.5M128.5 1272.5h1.5M111 1293.5h1.5M110 1327h1.5M126 1343.5h1.5M130.5 1272.5h1.5M108.5 1307.5h1.5M111.5 1287.5h1.5M138.5 1290.5h1.5M113.5 1313.5h1.5M136 1344.5h1.5M140 1324.5h1.5M139.5 1316.5h1.5M122 1274.5h1.5M137 1295.5h1.5M143 1291h1.5M143 1301h1.5M107.5 1330h1.5M121.5 1273h1.5M112.5 1338h1.5M137.5 1271h1.5M111.5 1282.5h1.5M108.5 1318h1.5M109.5 1326h1.5M144 1289.5h1.5M109.5 1309h1.5M122.5 1346.5h1.5M138.5 1291.5h1.5M111 1282h1.5M140 1290.5h1.5M110 1342.5h1.5M122 1342h1.5M130 1272h1.5M136.5 1329h1.5M111 1330h1.5M137.5 1275.5h1.5M136.5 1275h1.5M123 1346h1.5M141.5 1286.5h1.5M132.5 1276h1.5M104.5 1291.5h1.5M108 1281h1.5M139 1273h1.5M123.5 1271h1.5M115.5 1346.5h1.5M134 1335.5h1.5M128 1343h1.5M109.5 1317.5h1.5M140 1279.5h1.5M108.5 1326h1.5M140 1307h1.5M107 1293.5h1.5M138 1305h1.5M138 1314h1.5M136.5 1326h1.5M111.5 1325.5h1.5M130 1349h1.5M109.5 1303.5h1.5M114.5 1344h1.5M137.5 1281h1.5M116.5 1272.5h1.5M132 1335.5h1.5M136.5 1332.5h1.5M108.5 1283.5h1.5M117.5 1345h1.5M115 1290.5h1.5M141 1274.5h1.5M109.5 1295h1.5M116.5 1344h1.5M106 1309.5h1.5M107.5 1341h1.5M125 1276h1.5M112.5 1348.5h1.5M129.5 1348h1.5M139 1320h1.5M132.5 1348h1.5M129.5 1344.5h1.5M137 1276.5h1.5M110.5 1283.5h1.5M137 1327h1.5M141 1307.5h1.5M116.5 1272.5h1.5M113.5 1327.5h1.5M140 1321h1.5M109 1291.5h1.5M122 1343.5h1.5M112 1303h1.5M108 1323.5h1.5M133 1335.5h1.5M111.5 1317h1.5M114 1311h1.5M142 1292h1.5M135 1344.5h1.5M110 1308h1.5M108 1287.5h1.5M138 1328h1.5M137 1274h1.5M108.5 1319h1.5M108.5 1348h1.5M111 1301.5h1.5M112.5 1316.5h1.5M134.5 1309h1.5M110 1323.5h1.5M135.5 1274h1.5M143 1312.5h1.5M140.5 1287.5h1.5M109 1303h1.5M136.5 1333.5h1.5M135 1313h1.5M135.5 1317h1.5M110 1316.5h1.5M111.5 1324.5h1.5M123.5 1341.5h1.5M115.5 1275.5h1.5M104 1287h1.5M133 1275h1.5M138 1305h1.5M109.5 1291.5h1.5M121.5 1349.5h1.5M108.5 1341h1.5M140 1280h1.5M140.5 1301h1.5M110.5 1322.5h1.5M109.5 1321h1.5M118 1270.5h1.5M118.5 1347.5h1.5M141 1295.5h1.5M124 1348.5h1.5M141.5 1331.5h1.5M129.5 1274h1.5M137.5 1327h1.5M107.5 1348.5h1.5M110.5 1324h1.5M137 1336.5h1.5M135.5 1331.5h1.5M107 1302h1.5M144 1279.5h1.5M139 1292h1.5M132.5 1343.5h1.5M139 1294.5h1.5M117 1275h1.5M113 1275.5h1.5M121 1276h1.5M142.5 1304.5h1.5M130 1346h1.5M129.5 1269.5h1.5M110 1299h1.5M111 1301h1.5M138.5 1324h1.5M138 1328h1.5M109.5 1326h1.5M106 1334h1.5M142.5 1288.5h1.5M110.5 1316.5h1.5M133.5 1339h1.5M109 1287h1.5M106 1323h1.5M127 1346.5h1.5M111.5 1311.5h1.5M112.5 1290.5h1.5M109.5 1316h1.5M108.5 1326h1.5M110.5 1344.5h1.5M110 1337.5h1.5M109 1317.5h1.5M106.5 1339.5h1.5M143 1288.5h1.5M144 1310h1.5M119 1273h1.5M109.5 1284h1.5M139 1277h1.5M133.5 1343.5h1.5M136 1343h1.5M111.5 1340h1.5M109.5 1309.5h1.5M108 1297h1.5M110.5 1298h1.5M139 1280h1.5M118.5 1275.5h1.5M108.5 1338h1.5M110.5 1278h1.5M139.5 1277.5h1.5M115 1330.5h1.5M134 1336h1.5M109.5 1338h1.5M124.5 1346h1.5M113 1327.5h1.5M139.5 1339.5h1.5M133 1348h1.5M116 1345.5h1.5M134 1332.5h1.5M139 1327h1.5M137 1297.5h1.5M133.5 1323h1.5M110 1323h1.5M140 1274.5h1.5M139 1275h1.5M138.5 1339h1.5M129.5 1277h1.5M116.5 1274.5h1.5M140.5 1300.5h1.5M111.5 1293h1.5M112 1316.5h1.5M134.5 1273.5h1.5M120 1273h1.5M108.5 1299h1.5M112 1273h1.5M113.5 1273h1.5M112 1280h1.5M113.5 1272.5h1.5M142 1309.5h1.5M109.5 1290h1.5M115.5 1347h1.5M131 1347.5h1.5M134.5 1274h1.5M112.5 1278h1.5M136.5 1280h1.5M132.5 1343.5h1.5M139 1298h1.5M133 1326h1.5M139.5 1278.5h1.5M139 1301h1.5M112.5 1290h1.5M133 1320h1.5M111 1308h1.5M141 1308h1.5M138 1340.5h1.5M111.5 1317.5h1.5M138 1298h1.5M109.5 1330h1.5M138.5 1316.5h1.5M113 1330h1.5M118.5 1345h1.5M111 1321h1.5M114.5 1345.5h1.5M134.5 1330.5h1.5M137 1289.5h1.5M135 1329.5h1.5M138 1329.5h1.5M119.5 1347.5h1.5M108 1295h1.5M138 1288.5h1.5M107.5 1328.5h1.5M141.5 1291.5h1.5M110 1313h1.5M141 1285h1.5M137 1284h1.5M131.5 1275.5h1.5M135 1277.5h1.5M139.5 1323.5h1.5M137 1329.5h1.5M136 1269.5h1.5M135 1294h1.5M121.5 1346h1.5M107 1320.5h1.5M109.5 1322.5h1.5M111 1331h1.5M140.5 1304h1.5M125.5 1270.5h1.5M136.5 1328.5h1.5M142 1303h1.5M110 1284.5h1.5M131 1347.5h1.5M136.5 1323h1.5M110.5 1293.5h1.5M112 1276h1.5M108.5 1286.5h1.5M116.5 1312h1.5M110.5 1316.5h1.5M124 1347h1.5M127.5 1275.5h1.5M115.5 1276h1.5M133 1321h1.5M141 1285h1.5M120 1345h1.5M137 1327h1.5M134.5 1275.5h1.5M110 1276.5h1.5M112.5 1346.5h1.5M135 1316h1.5M114.5 1348.5h1.5M106.5 1324h1.5M134 1343.5h1.5M139.5 1298h1.5M109 1326h1.5M141 1289h1.5M138.5 1305.5h1.5M111 1340.5h1.5M130.5 1273.5h1.5M140 1333.5h1.5M110 1293h1.5M132.5 1271.5h1.5M127 1273h1.5M110.5 1286h1.5M126 1343.5h1.5M137 1328.5h1.5M109.5 1321.5h1.5M113 1348h1.5M131.5 1345.5h1.5M106.5 1289h1.5M133.5 1341h1.5M108.5 1327.5h1.5M109 1347.5h1.5M139 1307h1.5M138.5 1298.5h1.5M107 1328h1.5M127.5 1348h1.5M109 1346.5h1.5M106 1300h1.5M107.5 1318h1.5M137 1321.5h1.5M110.5 1312.5h1.5M126.5 1347.5h1.5M142 1302.5h1.5M108.5 1335h1.5M111.5 1345.5h1.5M108 1337h1.5M138.5 1292h1.5M137 1328.5h1.5M112.5 1297h1.5M132.5 1345h1.5M112.5 1336h1.5M134 1330h1.5M124.5 1347h1.5M136.5 1325.5h1.5M138.5 1308h1.5M133.5 1340.5h1.5M107 1338.5h1.5M108 1307.5h1.5M109 1325.5h1.5M139.5 1271h1.5M139 1318.5h1.5M138.5 1298.5h1.5M133 1343h1.5M108.5 1315h1.5M136.5 1317h1.5M112.5 1310.5h1.5M114 1299h1.5M136 1313.5h1.5M111.5 1345.5h1.5M138.5 1292h1.5M107.5 1336h1.5M137.5 1297h1.5M108 1345h1.5M131.5 1347h1.5M135.5 1317h1.5M112.5 1313.5h1.5M107 1329.5h1.5M107.5 1314h1.5M115.5 1347h1.5M124.5 1271h1.5M138 1330.5h1.5M142.5 1295.5h1.5M140.5 1289h1.5M106.5 1318.5h1.5M121 1346.5h1.5M106 1287h1.5M139.5 1287.5h1.5M137.5 1310.5h1.5M139.5 1302.5h1.5M121 1346h1.5M110 1313.5h1.5M139.5 1274.5h1.5M119 1275h1.5M128.5 1268.5h1.5M110.5 1323.5h1.5M110.5 1319.5h1.5M111.5 1294.5h1.5M111 1286.5h1.5M119 1274.5h1.5M142.5 1295.5h1.5M138 1300.5h1.5M122.5 1276.5h1.5M118 1272.5h1.5M111.5 1304.5h1.5M137.5 1290.5h1.5M111.5 1285h1.5M110.5 1339.5h1.5M125 1271h1.5M131.5 1273h1.5M112 1299.5h1.5M137 1282h1.5M140 1283h1.5M138 1313.5h1.5M138.5 1302h1.5M139 1304h1.5M111 1283.5h1.5M136 1331h1.5M141 1279h1.5M126 1270.5h1.5M143 1299.5h1.5M112.5 1277h1.5M138.5 1276.5h1.5M137 1319.5h1.5M134 1346h1.5M124 1344.5h1.5M136 1269.5h1.5M141.5 1280.5h1.5M139 1327.5h1.5M111.5 1288.5h1.5M133.5 1338.5h1.5M132.5 1273.5h1.5M107.5 1324.5h1.5M106.5 1334h1.5M136.5 1337.5h1.5M107.5 1331.5h1.5M109.5 1290.5h1.5M107.5 1282.5h1.5M109 1310.5h1.5M109 1288h1.5M139 1319.5h1.5M111.5 1341.5h1.5M135 1336.5h1.5M133 1343h1.5M111.5 1276h1.5M111 1310.5h1.5M142.5 1285.5h1.5M108.5 1326h1.5M111.5 1272.5h1.5M116 1349.5h1.5M106.5 1349.5h1.5M136.5 1323h1.5M108.5 1283.5h1.5M141 1311h1.5M135 1312h1.5M114 1276h1.5M137 1303.5h1.5M110 1342.5h1.5M108.5 1304h1.5M137 1277.5h1.5M107.5 1310h1.5M109 1310.5h1.5M133 1336h1.5M140 1284h1.5M130.5 1337h1.5M112.5 1344.5h1.5M112 1316.5h1.5M127 1271.5h1.5M117 1271.5h1.5M109.5 1331h1.5M136 1323.5h1.5M125.5 1273h1.5M131 1275h1.5M109.5 1317h1.5M110 1315h1.5M125.5 1348.5h1.5M106 1338.5h1.5M113.5 1302.5h1.5M110.5 1288.5h1.5M136 1272.5h1.5M138.5 1289h1.5M137 1271.5h1.5M108 1327.5h1.5M111 1300.5h1.5M135 1341.5h1.5M140 1300.5h1.5M140.5 1301.5h1.5M138 1310.5h1.5M136 1322.5h1.5M111 1336h1.5M109.5 1278h1.5M140 1277.5h1.5M113.5 1282h1.5M131.5 1343.5h1.5M136 1273h1.5M140.5 1325.5h1.5M134 1339.5h1.5M139.5 1275h1.5M128 1345.5h1.5M140.5 1289.5h1.5M131 1337.5h1.5M112.5 1274.5h1.5M138 1272h1.5M143 1277.5h1.5M111.5 1325.5h1.5M118 1274.5h1.5M125 1349h1.5M138 1298.5h1.5M112 1313.5h1.5M115 1279h1.5M107 1307h1.5M111.5 1343h1.5M124.5 1344.5h1.5M129.5 1270.5h1.5M112.5 1293h1.5M141 1293h1.5M109 1341.5h1.5M108.5 1290h1.5M135.5 1316h1.5M140.5 1299.5h1.5M113 1346.5h1.5M142 1296h1.5M134.5 1272.5h1.5M136.5 1320.5h1.5M124.5 1346.5h1.5M138.5 1313h1.5M117 1347h1.5M132 1325.5h1.5M134.5 1345h1.5M107.5 1325h1.5M140 1319.5h1.5M126 1272h1.5M138.5 1284h1.5M140 1304h1.5M116 1349h1.5M113 1348.5h1.5M112 1288.5h1.5M134 1321.5h1.5M138 1317.5h1.5M109.5 1281h1.5M109.5 1321.5h1.5M113 1336.5h1.5M135 1327h1.5M136.5 1274h1.5M115 1347.5h1.5M132 1272.5h1.5M114.5 1347h1.5M121 1274.5h1.5M137.5 1330h1.5M108 1330.5h1.5M140 1283.5h1.5M140.5 1330.5h1.5M125.5 1349.5h1.5M135.5 1340.5h1.5M109 1340.5h1.5M112 1274h1.5M110.5 1339.5h1.5M110.5 1328.5h1.5M139 1306h1.5M144.5 1315h1.5M135 1324.5h1.5M131.5 1345.5h1.5M137 1319.5h1.5M135.5 1333h1.5M108 1335h1.5M110.5 1302.5h1.5M140.5 1294.5h1.5M135.5 1340.5h1.5M109 1344h1.5M142 1277h1.5M140.5 1310h1.5M116 1337.5h1.5M117 1271.5h1.5M128.5 1344.5h1.5M138.5 1303.5h1.5M110.5 1300.5h1.5M135 1342.5h1.5M112.5 1278h1.5M138.5 1342h1.5M106 1286h1.5M136 1290h1.5M117.5 1272h1.5M114.5 1294.5h1.5M134 1345h1.5M108 1310.5h1.5M110.5 1326.5h1.5M110.5 1280h1.5M138 1313h1.5M134.5 1332h1.5M110.5 1348.5h1.5M112.5 1288h1.5M119 1274h1.5M111.5 1319h1.5M141.5 1289.5h1.5M137 1312h1.5M140 1291h1.5M115.5 1269.5h1.5M127 1345.5h1.5M137.5 1271.5h1.5M107.5 1321h1.5M112.5 1277h1.5M115 1334.5h1.5M111 1305h1.5M107 1347h1.5M126.5 1270.5h1.5M140 1298.5h1.5M109 1279h1.5M125 1271h1.5M115 1349h1.5M138.5 1320.5h1.5M136.5 1279h1.5M110 1293.5h1.5M128 1347h1.5M111.5 1295.5h1.5M112.5 1280.5h1.5M128.5 1347.5h1.5M142.5 1279.5h1.5M132.5 1318h1.5M140.5 1290h1.5M141 1304.5h1.5M111.5 1288h1.5M106 1298.5h1.5M111 1281.5h1.5M111.5 1318.5h1.5M133.5 1338.5h1.5M107 1295.5h1.5M139 1280h1.5M139 1329.5h1.5M139 1328.5h1.5M127 1274h1.5M135 1278h1.5M113 1343.5h1.5M140 1309h1.5M138 1333h1.5M131.5 1349h1.5M142 1327h1.5M109 1310h1.5M139 1282.5h1.5M104 1326h1.5M140.5 1301.5h1.5M123 1347h1.5M142 1275.5h1.5M126.5 1273.5h1.5M113 1340h1.5M119 1348h1.5M109.5 1327.5h1.5M115 1338.5h1.5M111 1301.5h1.5M112.5 1334h1.5M124 1274h1.5M134.5 1279h1.5M110.5 1288h1.5M108 1333.5h1.5M110.5 1325h1.5M114.5 1273.5h1.5M116 1337h1.5M141 1313h1.5M113.5 1306h1.5M105.5 1287.5h1.5M119 1271h1.5M121 1271.5h1.5M113.5 1348.5h1.5M111.5 1326.5h1.5M133.5 1343.5h1.5M107.5 1342h1.5M139 1275h1.5M138.5 1276.5h1.5M114 1279.5h1.5M123.5 1274h1.5M142 1330.5h1.5M137 1338h1.5M108 1297.5h1.5M108 1283h1.5M109.5 1303h1.5M133 1267.5h1.5M140 1307h1.5M110 1302h1.5M110 1284h1.5M120.5 1346h1.5M111.5 1336h1.5M126.5 1274.5h1.5M141 1314h1.5M105.5 1319h1.5M106.5 1338.5h1.5M108 1317.5h1.5M125 1346.5h1.5M108.5 1346.5h1.5M109 1312h1.5M110.5 1339.5h1.5M108 1321.5h1.5M140.5 1295h1.5M105 1298.5h1.5M138 1289.5h1.5M136.5 1287h1.5M136.5 1343.5h1.5M108.5 1344.5h1.5M135.5 1336h1.5M136 1295h1.5M113.5 1314h1.5M137 1328.5h1.5M138.5 1340.5h1.5M110 1301h1.5M122.5 1349.5h1.5M126.5 1273h1.5M139.5 1290.5h1.5M111 1347.5h1.5M114 1276h1.5M135.5 1335h1.5M108 1286h1.5M137.5 1336.5h1.5M139 1291h1.5M111.5 1306.5h1.5M120 1272h1.5M111.5 1283h1.5M109 1332h1.5M112 1340h1.5M107 1275h1.5M107 1340.5h1.5M109.5 1312h1.5M136.5 1315h1.5M137.5 1316h1.5M139.5 1319h1.5M109 1284h1.5M132.5 1348.5h1.5M138 1291h1.5M105.5 1322.5h1.5M111.5 1318h1.5M143 1308.5h1.5M110.5 1313h1.5M138.5 1274h1.5M112 1349h1.5M113 1346h1.5M112 1342h1.5M113 1345.5h1.5M142.5 1294h1.5M109.5 1317.5h1.5M134.5 1347h1.5M142 1280.5h1.5M142.5 1298.5h1.5M113.5 1294h1.5M112 1336.5h1.5M138.5 1294.5h1.5M110.5 1291h1.5M140 1303h1.5M134.5 1341h1.5M111 1339.5h1.5M139.5 1295h1.5M109.5 1297.5h1.5M137.5 1347h1.5M110 1296.5h1.5M142.5 1293h1.5M142.5 1284h1.5M118 1273.5h1.5M139 1309.5h1.5M136 1313h1.5M141.5 1287h1.5M138.5 1324h1.5M112.5 1348.5h1.5M122 1272h1.5M138.5 1280h1.5M106 1345.5h1.5M132.5 1330h1.5M139 1272h1.5M120.5 1272h1.5M105.5 1330.5h1.5M118 1273h1.5M142 1312h1.5M112.5 1315.5h1.5M118 1348h1.5M106 1313h1.5M115 1309.5h1.5M137 1343h1.5M127 1348h1.5M108 1303h1.5M135 1276h1.5M136 1320.5h1.5M133 1347h1.5M115.5 1276.5h1.5M139.5 1279h1.5M138.5 1321h1.5M136 1322.5h1.5M137.5 1329.5h1.5M136.5 1284.5h1.5M112.5 1327h1.5M124.5 1349.5h1.5M132.5 1347h1.5M136 1331h1.5M112.5 1325.5h1.5M108 1306.5h1.5M139.5 1317h1.5M106.5 1344.5h1.5M113 1346h1.5M110 1273h1.5M138 1317.5h1.5M115.5 1271.5h1.5M113.5 1285h1.5M139 1293.5h1.5M143 1291.5h1.5M118.5 1273h1.5M140 1290h1.5M122.5 1347h1.5M134 1275.5h1.5M109.5 1308h1.5M115.5 1273h1.5M118.5 1273h1.5M108 1319h1.5M113 1314.5h1.5M142.5 1307.5h1.5M111.5 1286h1.5M116.5 1343h1.5M113 1297.5h1.5M110 1326.5h1.5M138 1320h1.5M132.5 1347.5h1.5M108 1291h1.5M109 1304h1.5M109 1311h1.5M139 1276h1.5M108 1286.5h1.5M140.5 1288h1.5M108 1278.5h1.5M115.5 1295.5h1.5M120 1267h1.5M117.5 1313.5h1.5M136 1277.5h1.5M138.5 1316.5h1.5M133 1283h1.5M111.5 1328h1.5M137 1333.5h1.5M112 1318h1.5M139.5 1325h1.5M111.5 1272.5h1.5M136 1334h1.5M109.5 1302h1.5M107.5 1311.5h1.5M135.5 1275.5h1.5M112.5 1345h1.5M117 1308h1.5M133.5 1312h1.5M134 1336h1.5M104.5 1329h1.5M130.5 1343.5h1.5M134.5 1336.5h1.5M139.5 1310h1.5M139.5 1308h1.5M142 1287.5h1.5M135.5 1306.5h1.5M127 1339h1.5M114 1333.5h1.5M105.5 1285h1.5M101.5 1326.5h1.5M126 1344.5h1.5M121.5 1274h1.5M136.5 1304.5h1.5M138 1333h1.5M107 1348h1.5M115 1321.5h1.5M132.5 1335.5h1.5M104.5 1344h1.5M134 1332h1.5M114.5 1272.5h1.5M137 1305.5h1.5M144.5 1275h1.5M110 1300h1.5M110.5 1314h1.5M106 1325h1.5M116 1335h1.5M144 1301h1.5M115.5 1275h1.5M109 1300.5h1.5M132.5 1311.5h1.5M140 1312.5h1.5M142.5 1281.5h1.5M125.5 1347h1.5M117.5 1269.5h1.5M136.5 1341.5h1.5M106.5 1332.5h1.5M134.5 1316.5h1.5M139.5 1342.5h1.5M150 1287h1.5M155 1296h1.5M113 1276h1.5M141 1312h1.5M136.5 1334h1.5M111.5 1348.5h1.5M132 1275h1.5M109.5 1332h1.5M136 1304.5h1.5M108.5 1316.5h1.5M106.5 1298.5h1.5M113.5 1285.5h1.5M141.5 1314.5h1.5M111.5 1306.5h1.5M107 1310h1.5M104 1343.5h1.5M139 1314h1.5M101 1343.5h1.5M111 1344.5h1.5M142 1279h1.5M102.5 1288h1.5M143 1295h1.5M118 1268h1.5M121.5 1345h1.5M103 1283.5h1.5M135 1308h1.5M104 1336h1.5M124 1340.5h1.5M135.5 1316.5h1.5M137 1271.5h1.5M115.5 1306h1.5M133.5 1336h1.5M139.5 1324h1.5M107.5 1303.5h1.5M128 1276.5h1.5M125.5 1278h1.5M137.5 1329.5h1.5M145 1319.5h1.5M145 1307.5h1.5M140 1293.5h1.5M101 1295h1.5M110.5 1270.5h1.5M109.5 1341h1.5M129 1326h1.5M132.5 1267.5h1.5M130 1270.5h1.5M112.5 1304.5h1.5M113.5 1310.5h1.5M134 1295h1.5M105.5 1302.5h1.5M111.5 1337h1.5M138.5 1320.5h1.5M107.5 1279h1.5M115.5 1279.5h1.5M124 1266h1.5M140 1332h1.5M112 1281h1.5M145.5 1318.5h1.5M120 1347.5h1.5M134 1305.5h1.5M132.5 1270.5h1.5M139.5 1307h1.5M129.5 1271.5h1.5M117 1278.5h1.5M138.5 1276.5h1.5M108 1275h1.5M104.5 1331.5h1.5M110.5 1269h1.5M108 1331.5h1.5M124 1270h1.5M146.5 1280h1.5M128.5 1340h1.5M115.5 1338h1.5M135 1295h1.5M131 1270.5h1.5M113 1340h1.5M113 1300h1.5M109.5 1321.5h1.5M111 1307h1.5M120.5 1298h1.5M123.5 1288.5h1.5M142.5 1280.5h1.5M113.5 1342h1.5M108 1312.5h1.5M113 1328h1.5M140.5 1287.5h1.5M115 1281.5h1.5M136.5 1287.5h1.5M114 1295.5h1.5M108.5 1343h1.5M111.5 1328.5h1.5M110.5 1318.5h1.5M108.5 1318.5h1.5M113.5 1337.5h1.5M138 1296h1.5M138.5 1293h1.5M115 1341.5h1.5M102 1328h1.5M114 1299.5h1.5M139 1298h1.5M123 1275.5h1.5M110.5 1274h1.5M106 1316h1.5M97 1344h1.5M112 1269h1.5M140.5 1301.5h1.5M105 1348h1.5M105.5 1338h1.5M118.5 1347h1.5M138.5 1287h1.5M139 1311h1.5M102.5 1310.5h1.5M137 1279h1.5M136 1309.5h1.5M128 1268h1.5M108.5 1317.5h1.5M111.5 1308.5h1.5M130.5 1341h1.5M112 1340h1.5M136 1305.5h1.5M107.5 1341.5h1.5M101.5 1341.5h1.5M105 1318.5h1.5M142.5 1302h1.5M108.5 1326h1.5M137.5 1292h1.5M143 1305h1.5M145.5 1282h1.5M106 1279.5h1.5M147 1313.5h1.5M140 1280h1.5M100 1307h1.5M138 1279.5h1.5M133.5 1347.5h1.5M144 1306h1.5M138.5 1273h1.5M109.5 1289h1.5M105 1344h1.5M112 1301h1.5M116.5 1339h1.5M117 1301.5h1.5M136 1327.5h1.5M112.5 1310.5h1.5M110.5 1290h1.5M131.5 1283h1.5M110.5 1283.5h1.5M134 1336h1.5M116.5 1345h1.5M138 1343h1.5M110 1309h1.5M140 1336h1.5M113.5 1325.5h1.5M123 1348h1.5M135 1275h1.5M114.5 1281.5h1.5M103 1309.5h1.5M103 1347h1.5M120.5 1305h1.5M140.5 1323h1.5M113 1320.5h1.5M143 1280h1.5M109 1302h1.5M140 1278.5h1.5M114.5 1289h1.5M116.5 1295.5h1.5M145.5 1290.5h1.5M111.5 1311.5h1.5M130.5 1267h1.5M135 1300.5h1.5M111 1329h1.5M144 1273h1.5M138 1333.5h1.5M146.5 1306h1.5M132.5 1314.5h1.5M146.5 1314h1.5M135.5 1348h1.5M135 1297.5h1.5M103 1289.5h1.5M115.5 1329.5h1.5M138.5 1295.5h1.5M109.5 1334h1.5M113.5 1296h1.5M110 1333.5h1.5M132 1277.5h1.5M118 1317.5h1.5M133.5 1286.5h1.5M135.5 1337h1.5M134 1342h1.5M112 1288.5h1.5M133.5 1286.5h1.5M138.5 1289h1.5M128.5 1274h1.5M141.5 1302h1.5M112 1304.5h1.5M115 1324h1.5M137.5 1333h1.5M134 1296h1.5M101.5 1303.5h1.5M136.5 1319.5h1.5M112 1333.5h1.5M132.5 1329.5h1.5M140.5 1284h1.5M109 1332h1.5M118.5 1335h1.5M131.5 1324h1.5M114.5 1293h1.5M135.5 1349h1.5M137 1320.5h1.5M129 1313h1.5M111 1295h1.5M132 1316.5h1.5M130.5 1347.5h1.5M109.5 1330.5h1.5M120.5 1278h1.5M111 1297h1.5M114 1273h1.5M144.5 1329h1.5M135 1271h1.5M152.5 1284h1.5M107 1276.5h1.5M117 1324h1.5M122 1287.5h1.5M141 1343h1.5M144 1284.5h1.5M121.5 1278h1.5M136 1332.5h1.5M106 1331.5h1.5M107.5 1288h1.5M114.5 1308h1.5M109.5 1348.5h1.5M137 1314.5h1.5M137 1291h1.5M115.5 1345.5h1.5M120 1311h1.5M135.5 1305h1.5M118 1277.5h1.5M131 1343.5h1.5M136.5 1323.5h1.5M121 1271.5h1.5M144.5 1322.5h1.5M108 1339h1.5M138.5 1272.5h1.5M136.5 1299h1.5M108 1305h1.5M111.5 1332h1.5M143.5 1304.5h1.5M138 1326.5h1.5M149.5 1290.5h1.5M137 1273h1.5M142 1293.5h1.5M111.5 1316.5h1.5M102 1304.5h1.5M104.5 1285.5h1.5M140.5 1294h1.5M129 1276h1.5M100.5 1292h1.5M143 1342h1.5M117 1271.5h1.5M127.5 1270h1.5M123 1273.5h1.5M108 1306h1.5M139.5 1311.5h1.5M130 1286h1.5M117 1347.5h1.5M116.5 1337.5h1.5M128.5 1340.5h1.5M134 1312.5h1.5M132.5 1339h1.5M122 1346.5h1.5M106.5 1277h1.5M136 1297h1.5M139 1293h1.5M113 1294h1.5M161.5 1330.5h1.5M161.5 1267.5h1.5M151.5 1270h1.5M145 1264.5h1.5M140.5 1302.5h1.5M142 1265.5h1.5M160.5 1323h1.5M141 1307.5h1.5M140.5 1333h1.5M147 1283h1.5M166 1304.5h1.5M156 1268.5h1.5M164.5 1337.5h1.5M146 1274h1.5M149 1267h1.5M147.5 1276.5h1.5M156.5 1330.5h1.5M147.5 1267.5h1.5M158 1313.5h1.5M147 1325h1.5M146 1325.5h1.5M150.5 1275h1.5M143.5 1263.5h1.5M150 1276h1.5M151.5 1321h1.5M151 1290h1.5M140.5 1298.5h1.5M152 1268h1.5M159 1309h1.5M150 1274.5h1.5M152 1319h1.5M150 1264.5h1.5M161 1346h1.5M146.5 1319.5h1.5M145 1274.5h1.5M148 1259.5h1.5M150.5 1288h1.5M148.5 1272h1.5M149 1277.5h1.5M152 1336.5h1.5M140.5 1312.5h1.5M148.5 1308h1.5M151 1281h1.5M161.5 1346h1.5M148 1261h1.5M154 1324h1.5M188.5 1327.5h1.5M152 1264h1.5M164 1273.5h1.5M156.5 1292.5h1.5M148.5 1336h1.5M149.5 1306.5h1.5M143 1317h1.5M151.5 1328.5h1.5M148.5 1332.5h1.5M147 1301h1.5M143 1304h1.5M149 1322.5h1.5M172 1281.5h1.5M143 1335h1.5M150.5 1260h1.5M144 1275.5h1.5M145.5 1330h1.5M140.5 1288.5h1.5M168 1271.5h1.5M141.5 1275h1.5M150.5 1306h1.5M150.5 1334h1.5M153.5 1264.5h1.5M142.5 1260.5h1.5M162 1300h1.5M146.5 1344h1.5M148 1283h1.5M142 1344.5h1.5M143 1338h1.5M141 1283.5h1.5M140 1331.5h1.5M168 1319.5h1.5M140.5 1304h1.5M148.5 1296h1.5M173.5 1331.5h1.5M149 1329.5h1.5M142 1326h1.5M174.5 1348h1.5M157.5 1301h1.5M140.5 1330.5h1.5M161 1335.5h1.5M157 1277h1.5M165.5 1262h1.5M155 1294.5h1.5M143 1335h1.5M155 1284h1.5M157.5 1321h1.5M163 1258.5h1.5M147 1290h1.5M148 1313.5h1.5M150.5 1269.5h1.5M149.5 1338.5h1.5M148 1272h1.5M144.5 1340h1.5M142.5 1277.5h1.5M155 1347.5h1.5M161.5 1312.5h1.5M150 1265.5h1.5M149.5 1264h1.5M178 1264.5h1.5M156.5 1311h1.5M149 1331h1.5M147.5 1294.5h1.5M146.5 1298h1.5M152 1311h1.5M152 1306h1.5M162 1320h1.5M143.5 1300.5h1.5M162.5 1322h1.5M156 1348h1.5M146 1289.5h1.5M144 1259h1.5M156 1269.5h1.5M150 1308h1.5M142.5 1289h1.5M148 1342.5h1.5M157 1314.5h1.5M156.5 1305h1.5M151.5 1330h1.5M156.5 1281.5h1.5M153 1332h1.5M151.5 1258.5h1.5M144.5 1314h1.5M157.5 1342h1.5M150 1329h1.5M160.5 1335h1.5M156 1293.5h1.5M140.5 1332h1.5M148.5 1307.5h1.5M146.5 1313.5h1.5M144.5 1263.5h1.5M152 1276h1.5M144 1307.5h1.5M142.5 1263.5h1.5M142.5 1324.5h1.5M142.5 1333.5h1.5M151.5 1341h1.5M178 1267h1.5M145.5 1342.5h1.5M163.5 1264h1.5M142.5 1300.5h1.5M145.5 1333.5h1.5M163.5 1264.5h1.5M156.5 1259.5h1.5M157 1260h1.5M160.5 1304h1.5M179 1331h1.5M155 1269.5h1.5M142 1269h1.5M161.5 1309h1.5M159.5 1279h1.5M162.5 1323.5h1.5M145 1343.5h1.5M151 1327h1.5M141 1337h1.5M145 1305h1.5M148 1333h1.5M146.5 1274.5h1.5M162 1264h1.5M146 1317h1.5M145 1338.5h1.5M150 1320h1.5M141 1343.5h1.5M151.5 1286h1.5M146.5 1302h1.5M190.5 1325h1.5M149.5 1280h1.5M141 1307h1.5M141.5 1317.5h1.5M141 1346h1.5M145.5 1325h1.5M144.5 1268.5h1.5M186 1301h1.5M142.5 1311h1.5M154.5 1271h1.5M147 1297h1.5M155 1283.5h1.5M144.5 1268.5h1.5M141 1304h1.5M143 1273h1.5M145.5 1311h1.5M169.5 1273.5h1.5M156.5 1323h1.5M143 1275.5h1.5M148 1338.5h1.5M145 1260.5h1.5M140.5 1305h1.5M142 1287h1.5M157 1278.5h1.5M152 1300.5h1.5M146.5 1334h1.5M154.5 1340.5h1.5M163.5 1285.5h1.5M162.5 1272h1.5M142 1323h1.5M174 1310.5h1.5M142.5 1276h1.5M158 1326.5h1.5M141.5 1304.5h1.5M143 1317h1.5M158.5 1290.5h1.5M144.5 1297.5h1.5M144 1274h1.5M176 1326h1.5M142.5 1272h1.5M152.5 1328h1.5M164.5 1330h1.5M152.5 1325h1.5M147 1259.5h1.5M140.5 1282.5h1.5M155.5 1300h1.5M155.5 1311.5h1.5M151.5 1340.5h1.5M151 1292h1.5M156 1337h1.5M142 1272.5h1.5M146 1291.5h1.5M169.5 1262.5h1.5M141 1325h1.5M181 1271.5h1.5M159.5 1281h1.5M146 1328h1.5M149 1306h1.5M156.5 1259.5h1.5M141 1258h1.5M150 1304h1.5M153 1285.5h1.5M162.5 1274h1.5M164.5 1313h1.5M179.5 1278.5h1.5M150.5 1311.5h1.5M166.5 1292h1.5M144 1275h1.5M151 1270.5h1.5M154 1279.5h1.5M148 1260.5h1.5M152 1285.5h1.5M172.5 1339h1.5M154.5 1333h1.5M149.5 1291.5h1.5M170.5 1310h1.5M173 1309h1.5M151.5 1332.5h1.5M149 1279.5h1.5M163 1284.5h1.5M177.5 1285h1.5M147.5 1261.5h1.5M148.5 1286.5h1.5M164.5 1337h1.5M149.5 1340h1.5M150 1268h1.5M155 1299h1.5M142 1292.5h1.5M152 1302h1.5M141.5 1308h1.5M141 1260h1.5M160.5 1334h1.5M151.5 1345.5h1.5M140.5 1317h1.5M151 1317.5h1.5M153 1305.5h1.5M143 1288h1.5M143 1271.5h1.5M141 1310.5h1.5M148 1262h1.5M154 1332h1.5M187.5 1296h1.5M143.5 1295.5h1.5M154 1287.5h1.5M147 1345h1.5M153 1273.5h1.5M159 1271.5h1.5M146.5 1273h1.5M141 1317.5h1.5M161 1347.5h1.5M150.5 1279h1.5M172.5 1339.5h1.5M143 1283h1.5M142 1316.5h1.5M142.5 1261.5h1.5M165.5 1317h1.5M144.5 1306.5h1.5M145 1279.5h1.5M154 1332.5h1.5M148 1345.5h1.5M144.5 1299.5h1.5M145.5 1315h1.5M169 1329h1.5M155.5 1279.5h1.5M169 1336h1.5M177 1283h1.5M155 1328h1.5M154 1268h1.5M142 1284h1.5M150 1306h1.5M145 1305h1.5M174.5 1334.5h1.5M144.5 1347.5h1.5M145.5 1267.5h1.5M175.5 1282.5h1.5M154 1301h1.5M151.5 1302.5h1.5M144.5 1335h1.5M160.5 1327.5h1.5M149.5 1259.5h1.5M150.5 1299h1.5M149.5 1313.5h1.5M149 1299.5h1.5M144.5 1270h1.5M158.5 1295h1.5M146.5 1287h1.5M149.5 1311h1.5M161.5 1304.5h1.5M145.5 1337h1.5M176 1269h1.5M149 1268.5h1.5M146.5 1285h1.5M147.5 1297h1.5M141 1285h1.5M145 1326.5h1.5M147.5 1265.5h1.5M146.5 1295h1.5M152.5 1327.5h1.5M152 1334.5h1.5M141.5 1324h1.5M155 1308h1.5M141.5 1323h1.5M143 1319.5h1.5M141 1279h1.5M161.5 1307.5h1.5M157.5 1327.5h1.5M146 1286.5h1.5M155 1317h1.5M171 1301.5h1.5M142.5 1303.5h1.5M146.5 1266h1.5M141.5 1318h1.5M140 1336h1.5M142.5 1270.5h1.5M154 1291h1.5M151 1262.5h1.5M147.5 1260.5h1.5M152.5 1347h1.5M166.5 1302.5h1.5M151.5 1290h1.5M159.5 1282.5h1.5M149 1346h1.5M140.5 1280.5h1.5M147.5 1323.5h1.5M167.5 1283.5h1.5M153 1264.5h1.5M154 1258h1.5M163 1319h1.5M165.5 1280.5h1.5M151 1325h1.5M149 1327.5h1.5M154 1323h1.5M164.5 1260h1.5M159.5 1321.5h1.5M158.5 1347h1.5M142.5 1280h1.5M147.5 1282.5h1.5M157 1331h1.5M149 1272.5h1.5M149.5 1325.5h1.5M184 1257.5h1.5M146.5 1257.5h1.5M173 1286.5h1.5M176.5 1333h1.5M155.5 1302.5h1.5M154 1336.5h1.5M145 1253.5h1.5M175 1303h1.5M147.5 1286h1.5M190 1326h1.5M172 1279h1.5M186 1332.5h1.5M168.5 1261h1.5M151.5 1275.5h1.5M147 1259h1.5M182 1258h1.5M163 1253h1.5M146 1332.5h1.5M188.5 1339.5h1.5M184 1249.5h1.5M152 1321h1.5M160.5 1318.5h1.5M148 1344.5h1.5M167 1273.5h1.5M178.5 1290.5h1.5M175 1330.5h1.5M183 1292h1.5M153 1269.5h1.5M166 1317.5h1.5M156 1330.5h1.5M164.5 1285h1.5M185 1312h1.5M167.5 1285h1.5M178 1293h1.5M148.5 1297.5h1.5M168.5 1322.5h1.5M187 1343h1.5M182 1289.5h1.5M161.5 1279h1.5M150.5 1282.5h1.5M178 1274.5h1.5M168 1253.5h1.5M148 1288h1.5M175.5 1279.5h1.5M151.5 1324.5h1.5M141.5 1269.5h1.5M170.5 1306h1.5M149 1335h1.5M161.5 1301.5h1.5M187.5 1264.5h1.5M186.5 1279.5h1.5M144 1304h1.5M157.5 1295.5h1.5M153 1289.5h1.5M159 1299.5h1.5M162 1271.5h1.5M141 1306h1.5M143.5 1278.5h1.5M153.5 1325.5h1.5M150.5 1271h1.5M174.5 1305.5h1.5M158 1286h1.5M189 1276.5h1.5M139 1255h1.5M119.5 1262h1.5M116 1261.5h1.5M139 1264h1.5M133.5 1260h1.5M131 1265.5h1.5M109.5 1258h1.5M112.5 1263.5h1.5M129.5 1269.5h1.5M115 1269.5h1.5M115.5 1266h1.5M134.5 1269.5h1.5M117.5 1269.5h1.5M110.5 1266.5h1.5M109 1267h1.5M123 1262h1.5M129 1267.5h1.5M137.5 1267.5h1.5M112 1266.5h1.5M114.5 1269.5h1.5M126 1262h1.5M120.5 1259.5h1.5M124.5 1242h1.5M139.5 1258h1.5M126.5 1267h1.5M122 1258h1.5M110 1268h1.5M139.5 1244.5h1.5M125 1266.5h1.5M125 1269.5h1.5M139.5 1269.5h1.5M125 1268.5h1.5M123 1261h1.5M117.5 1260h1.5M130.5 1260.5h1.5M127.5 1266h1.5M115.5 1263.5h1.5M132 1260h1.5M130 1264h1.5M121.5 1265h1.5M108 1268h1.5M123 1266h1.5M108 1258.5h1.5M110.5 1263.5h1.5M122.5 1268h1.5M111 1268h1.5M117.5 1257.5h1.5M130.5 1251h1.5M118.5 1267h1.5M190.5 1279.5h1.5M190 1256h1.5M185 1279h1.5M186.5 1287h1.5" stroke="#FF0000" stroke-width="1.5" fill="none"/>
<path d="M141.5 1229.5h1.5M185.5 1211.5h1.5M191.5 1226h1.5M184.5 1167h1.5M181.5 1212h1.5M146 1204.5h1.5M180 1216.5h1.5M176 1186h1.5M176 1235.5h1.5M167.5 1210.5h1.5M186.5 1237h1.5M189.5 1210.5h1.5M179.5 1233h1.5M188.5 1239h1.5M177.5 1208.5h1.5M158 1239h1.5M178 1206.5h1.5M175 1236h1.5M172 1225h1.5M163 1239.5h1.5M173.5 1238.5h1.5M179.5 1234.5h1.5M180 1232h1.5M186.5 1236.5h1.5M179.5 1238h1.5M161.5 1237.5h1.5M180.5 1228h1.5M182 1239h1.5M174.5 1197h1.5M187.5 1196h1.5M189 1239h1.5M165.5 1218h1.5M184 1219.5h1.5M185 1225.5h1.5M150 1235h1.5M143 1225.5h1.5M177 1206h1.5M171.5 1234h1.5M124 1212h1.5M181 1229h1.5" stroke="#F0883A" stroke-width="1.5" fill="none"/>
<path d="M280.5 1148h1.5M255.5 1206.5h1.5M259.5 1165h1.5M278.5 1168.5h1.5M221 1216h1.5M283.5 1180h1.5M248.5 1183.5h1.5M235 1193.5h1.5M223.5 1216.5h1.5M248.5 1213h1.5M219.5 1191h1.5M261 1191h1.5M212.5 1204h1.5M298 1174h1.5M255 1173h1.5M273.5 1163.5h1.5M260.5 1175h1.5M244.5 1197h1.5M274 1181h1.5M243.5 1207.5h1.5M283 1167.5h1.5M224 1190.5h1.5M233.5 1219.5h1.5M202 1230.5h1.5M268.5 1200h1.5M240.5 1188.5h1.5M227.5 1182.5h1.5M237.5 1203h1.5M285.5 1189h1.5M285.5 1168.5h1.5M253.5 1187.5h1.5M255 1174h1.5M238.5 1234h1.5M201.5 1213.5h1.5M216 1207.5h1.5M239.5 1212h1.5M245.5 1220h1.5M261.5 1196h1.5M292 1177h1.5M260.5 1195.5h1.5M279.5 1168h1.5M243 1180h1.5M232.5 1205h1.5M197 1218h1.5M213.5 1231.5h1.5M246.5 1210.5h1.5M263 1210h1.5M243 1205.5h1.5M281.5 1185.5h1.5M222 1210.5h1.5M224.5 1205h1.5M261.5 1193h1.5M229.5 1203h1.5M234.5 1211h1.5M253.5 1172h1.5M279 1155.5h1.5M246.5 1208h1.5M234.5 1222h1.5M248 1178h1.5M256.5 1200.5h1.5M286.5 1156h1.5M283 1168h1.5M234.5 1231.5h1.5M215.5 1235h1.5M278 1186h1.5M301.5 1187.5h1.5M215 1209h1.5M251.5 1175h1.5M275.5 1161h1.5M230.5 1204.5h1.5M265 1140h1.5M212.5 1219.5h1.5M253.5 1181h1.5M297 1170.5h1.5M284.5 1173h1.5M196 1225.5h1.5M292 1171.5h1.5M281 1182.5h1.5M233 1193.5h1.5M250.5 1185h1.5M243.5 1159h1.5M274 1155.5h1.5M262 1171h1.5M267.5 1181.5h1.5M256.5 1172h1.5M219.5 1208.5h1.5M276 1151.5h1.5M209.5 1228.5h1.5M238.5 1210.5h1.5M254 1198h1.5M220.5 1217h1.5M259 1159h1.5M214 1211h1.5M230 1202.5h1.5M206.5 1221h1.5M279.5 1172h1.5M241 1215.5h1.5M228.5 1193h1.5M258.5 1199.5h1.5M294 1170.5h1.5M225.5 1199h1.5M299 1170.5h1.5M229 1207.5h1.5M230.5 1184h1.5M290.5 1170h1.5M294.5 1163h1.5M230 1205.5h1.5M256 1188.5h1.5M285 1153.5h1.5M231 1219.5h1.5M283.5 1166.5h1.5M218 1222h1.5M221.5 1222.5h1.5M264 1162.5h1.5M221.5 1200.5h1.5M248.5 1155.5h1.5M288.5 1174h1.5M259.5 1164.5h1.5M266 1183.5h1.5M280.5 1176.5h1.5M222 1226.5h1.5M282.5 1147h1.5M219 1217h1.5M282 1198.5h1.5M299 1186h1.5M296 1175h1.5M266.5 1187h1.5M240 1184h1.5M294.5 1171.5h1.5M291.5 1158.5h1.5M241 1211h1.5M224.5 1202.5h1.5M271 1174h1.5M255.5 1192h1.5M226.5 1216.5h1.5M260 1195h1.5M238 1193h1.5M238 1179.5h1.5M247.5 1224.5h1.5M253.5 1235.5h1.5M292 1169h1.5M228.5 1187h1.5M262.5 1193h1.5M248 1219h1.5M254 1169h1.5M206.5 1226h1.5M260.5 1189h1.5M270.5 1193h1.5M247.5 1189.5h1.5M210.5 1197h1.5M285 1177.5h1.5M299.5 1175h1.5M242.5 1198h1.5M224 1221.5h1.5M258.5 1178.5h1.5M250.5 1178.5h1.5M254.5 1208.5h1.5M294 1166h1.5M272.5 1185h1.5M279.5 1197.5h1.5M243.5 1180h1.5M246.5 1187h1.5M238 1206h1.5M237.5 1193.5h1.5M281 1183.5h1.5M205.5 1225.5h1.5M201 1214.5h1.5M248 1196.5h1.5M237 1207h1.5M256 1205.5h1.5M262 1191.5h1.5M256 1197.5h1.5M281 1175.5h1.5M268 1176h1.5M254.5 1177.5h1.5M262 1189.5h1.5M288.5 1158h1.5M259.5 1216.5h1.5M234 1230.5h1.5M240 1213h1.5M267 1187h1.5M255 1188h1.5M247 1173.5h1.5M268 1175.5h1.5M294 1161h1.5M267 1184.5h1.5M223.5 1223h1.5M276.5 1189.5h1.5M275.5 1161.5h1.5M252.5 1179.5h1.5M283 1193.5h1.5M290.5 1175.5h1.5M228.5 1204h1.5M226 1210.5h1.5M256 1187h1.5M276 1174h1.5M234 1215h1.5M291 1165h1.5M254.5 1202h1.5M231 1178.5h1.5M255.5 1180.5h1.5M242 1222h1.5M231 1216h1.5M238.5 1215h1.5M280 1204h1.5M230 1174h1.5M305.5 1177h1.5M219.5 1168.5h1.5M242.5 1216.5h1.5M284.5 1166.5h1.5M264 1141h1.5M269 1187h1.5M299 1176h1.5M227.5 1218h1.5M228.5 1221h1.5M208 1219.5h1.5M213.5 1189.5h1.5M250.5 1206h1.5M234.5 1237h1.5M286.5 1185.5h1.5M267 1153.5h1.5M242 1185h1.5M253 1163h1.5M274 1172h1.5M264 1183h1.5M274.5 1163.5h1.5M262 1160.5h1.5M269.5 1172h1.5M275 1171h1.5M273 1167h1.5M278.5 1174h1.5M272.5 1172.5h1.5M267.5 1167.5h1.5M273.5 1163.5h1.5M275 1168h1.5M268 1170h1.5M261 1164h1.5M276 1169h1.5M276.5 1162h1.5M285.5 1156h1.5M261 1170h1.5M265 1189h1.5M285.5 1165h1.5M272.5 1185.5h1.5M268 1170.5h1.5M286 1165h1.5M290.5 1158h1.5M266 1169h1.5M256 1180h1.5M283.5 1166.5h1.5M268 1164.5h1.5M278 1174h1.5M276 1168.5h1.5M269.5 1179.5h1.5M249 1191.5h1.5M286 1146h1.5M270 1171.5h1.5M273 1178.5h1.5M276.5 1168h1.5M278.5 1165h1.5M297.5 1151.5h1.5M266 1159.5h1.5M272.5 1179.5h1.5M252 1166.5h1.5M278 1177.5h1.5M271 1168h1.5M259.5 1184h1.5M269.5 1156h1.5M266 1230h1.5M233 1239.5h1.5M271.5 1238h1.5" stroke="#2A2AE8" stroke-width="1.5" fill="none"/>
<path d="M242.5 1298.5h1.5M192.5 1274h1.5M200.5 1262.5h1.5M197 1302.5h1.5M194.5 1290h1.5M199 1294h1.5M197 1275h1.5M203 1326h1.5M196.5 1280h1.5M204 1319.5h1.5M212.5 1332h1.5M219.5 1255.5h1.5M192 1260.5h1.5M216.5 1313.5h1.5M216 1290.5h1.5M208.5 1272.5h1.5M218.5 1248.5h1.5M251.5 1273h1.5M219.5 1311h1.5M204 1256h1.5M247.5 1280h1.5M203 1318h1.5M257.5 1258.5h1.5M194 1261.5h1.5M228.5 1260h1.5M192 1252h1.5M219.5 1258.5h1.5M218 1244.5h1.5M233 1252.5h1.5M253.5 1279h1.5M217.5 1301.5h1.5M263 1274.5h1.5M226 1295h1.5M214 1268.5h1.5M216.5 1290h1.5M257.5 1250.5h1.5M234.5 1268h1.5M206 1308h1.5M219.5 1287.5h1.5M220.5 1310.5h1.5M267.5 1256.5h1.5M217 1318.5h1.5M278 1250.5h1.5M245 1267h1.5M230.5 1255.5h1.5M274 1267h1.5M193 1288h1.5M256.5 1250.5h1.5M212 1304h1.5M273.5 1268h1.5M246.5 1282.5h1.5M197 1288h1.5M265.5 1254.5h1.5M196 1293h1.5M211 1297h1.5M272.5 1274.5h1.5M236.5 1277h1.5M282.5 1275h1.5M254.5 1274.5h1.5M246 1262.5h1.5M224.5 1290.5h1.5M216.5 1308h1.5M289.5 1271.5h1.5M210.5 1303.5h1.5M239.5 1270h1.5M216 1279.5h1.5M220.5 1289h1.5M255.5 1285.5h1.5M265.5 1261.5h1.5M263.5 1263h1.5M269 1254h1.5M217 1277h1.5M233 1271h1.5M195.5 1296h1.5M269 1278.5h1.5M218.5 1278h1.5M242.5 1268.5h1.5M203 1277h1.5M269 1264h1.5M273 1271.5h1.5M280 1271.5h1.5M199 1295h1.5M283 1254h1.5M214.5 1281.5h1.5M224 1286h1.5M217.5 1286.5h1.5M217.5 1283h1.5M242.5 1270h1.5M217.5 1288.5h1.5M226 1273h1.5M249 1261h1.5M276.5 1274.5h1.5M270.5 1292.5h1.5M237.5 1253h1.5M198.5 1273.5h1.5M258 1245h1.5M196.5 1292h1.5M222.5 1292.5h1.5M202.5 1299h1.5M252.5 1265h1.5M229 1283.5h1.5M245.5 1256h1.5M222.5 1275.5h1.5M233 1273h1.5M223.5 1255h1.5M224 1261.5h1.5M254 1273h1.5M242.5 1271.5h1.5M204.5 1298.5h1.5M240 1242h1.5M211 1263.5h1.5M199.5 1302h1.5M244.5 1285h1.5M209 1259.5h1.5M259 1271h1.5M209 1273.5h1.5M267 1270h1.5M239 1317.5h1.5M267 1264.5h1.5M215.5 1256h1.5M200.5 1297.5h1.5M238.5 1267h1.5M280.5 1248.5h1.5M218 1293.5h1.5M250 1242.5h1.5M231.5 1292.5h1.5M205 1282.5h1.5M242.5 1247h1.5M247 1289h1.5M240 1268.5h1.5M277 1277h1.5M230.5 1292.5h1.5M246.5 1254h1.5M225 1276.5h1.5M198.5 1294.5h1.5M236 1294h1.5M278.5 1254.5h1.5M236.5 1274h1.5M202 1287.5h1.5M253 1261.5h1.5M285 1263.5h1.5M272 1251.5h1.5M240.5 1263h1.5M223 1270.5h1.5M203 1319h1.5M195.5 1291h1.5M204.5 1266.5h1.5M196 1288.5h1.5M197.5 1282.5h1.5M200 1262h1.5M195.5 1307h1.5M210 1270.5h1.5M196.5 1286h1.5M192 1316.5h1.5M194 1323h1.5M196 1284h1.5M201 1289h1.5M202 1282h1.5M206.5 1341h1.5M194.5 1278h1.5M202.5 1276.5h1.5M195.5 1299.5h1.5M198 1275h1.5M205 1269h1.5M210 1314.5h1.5M197 1313.5h1.5M202 1316h1.5M197.5 1327h1.5M202 1288.5h1.5M199.5 1339h1.5M203.5 1323h1.5M207.5 1328.5h1.5M205 1321.5h1.5M206.5 1291h1.5M200.5 1297h1.5M193 1270.5h1.5M203.5 1299h1.5M202.5 1265h1.5M197.5 1262h1.5M198 1340h1.5M205.5 1319h1.5M206 1308h1.5M198 1290.5h1.5M198 1309.5h1.5M194 1337h1.5M200 1316.5h1.5M197.5 1312.5h1.5" stroke="#28B428" stroke-width="1.5" fill="none"/>
<rect x="106.00" y="1347.50" width="29.00" height="3.00" fill="#FF0000" opacity="0.5"/>
<text transform="translate(84.16 1099.82) scale(1.016 1)" font-size="13.87" fill="#F0883A">Q1-UL(0.35%)</text>
<text transform="translate(251.55 1099.82) scale(1.026 1)" font-size="13.87" fill="#2A2AE8">Q1-UR(2.76%)</text>
<rect x="84.0" y="1331.5" width="96.2" height="15.0" fill="#fff" opacity="0.55"/>
<text transform="translate(84.26 1342.60)" font-size="13.98" fill="#FF0000">Q1-LL(95.21%)</text>
<text transform="translate(253.83 1342.74) scale(1.024 1)" font-size="13.76" fill="#28B428">Q1-LR(1.68%)</text>
<rect x="80.50" y="1082.40" width="268.00" height="268.10" fill="none" stroke="#2a2a2a" stroke-width="1.5"/>
<line x1="191.50" y1="1082.40" x2="191.50" y2="1350.50" stroke="#222" stroke-width="1.50"/>
<line x1="80.50" y1="1240.80" x2="348.50" y2="1240.80" stroke="#222" stroke-width="1.50"/>
<path d="M73.5 1082.40H80.5M73.5 1132.40H80.5M73.5 1182.10H80.5M73.5 1232.30H80.5M73.5 1281.90H80.5M73.5 1331.80H80.5M73.5 1350.50H80.5M76.0 1117.35H80.5M76.0 1108.54H80.5M76.0 1102.30H80.5M76.0 1097.45H80.5M76.0 1093.49H80.5M76.0 1090.15H80.5M76.0 1087.25H80.5M76.0 1084.69H80.5M76.0 1167.14H80.5M76.0 1158.39H80.5M76.0 1152.18H80.5M76.0 1147.36H80.5M76.0 1143.43H80.5M76.0 1140.10H80.5M76.0 1137.22H80.5M76.0 1134.67H80.5M76.0 1217.19H80.5M76.0 1208.35H80.5M76.0 1202.08H80.5M76.0 1197.21H80.5M76.0 1193.24H80.5M76.0 1189.88H80.5M76.0 1186.96H80.5M76.0 1184.40H80.5M76.0 1266.97H80.5M76.0 1258.23H80.5M76.0 1252.04H80.5M76.0 1247.23H80.5M76.0 1243.30H80.5M76.0 1239.98H80.5M76.0 1237.11H80.5M76.0 1234.57H80.5M76.0 1285.00H80.5M76.0 1287.90H80.5M76.0 1291.25H80.5M76.0 1295.40H80.5M76.0 1300.40H80.5M76.0 1305.80H80.5M76.0 1312.90H80.5M76.0 1321.25H80.5M76.0 1342.60H80.5" stroke="#2a2a2a" stroke-width="1.3" fill="none"/>
<path d="M80.50 1350.5V1357.5M106.80 1350.5V1357.5M143.10 1350.5V1357.5M209.60 1350.5V1357.5M279.10 1350.5V1357.5M348.40 1350.5V1357.5M86.80 1350.5V1354.5M91.80 1350.5V1354.5M96.80 1350.5V1354.5M101.80 1350.5V1354.5M113.40 1350.5V1354.5M118.40 1350.5V1354.5M122.60 1350.5V1354.5M126.80 1350.5V1354.5M130.90 1350.5V1354.5M134.30 1350.5V1354.5M137.60 1350.5V1354.5M140.10 1350.5V1354.5M163.12 1350.5V1354.5M174.83 1350.5V1354.5M183.14 1350.5V1354.5M189.58 1350.5V1354.5M194.85 1350.5V1354.5M199.30 1350.5V1354.5M203.16 1350.5V1354.5M206.56 1350.5V1354.5M230.52 1350.5V1354.5M242.76 1350.5V1354.5M251.44 1350.5V1354.5M258.18 1350.5V1354.5M263.68 1350.5V1354.5M268.33 1350.5V1354.5M272.36 1350.5V1354.5M275.92 1350.5V1354.5M299.96 1350.5V1354.5M312.16 1350.5V1354.5M320.82 1350.5V1354.5M327.54 1350.5V1354.5M333.03 1350.5V1354.5M337.67 1350.5V1354.5M341.68 1350.5V1354.5M345.23 1350.5V1354.5" stroke="#2a2a2a" stroke-width="1.3" fill="none"/>
<text transform="translate(421.88 1066.81) scale(0.990 1)" font-size="25.96" fill="#000">HT22:TNF-α</text>
<path d="M401 1327 L400.5 1292 L403 1281 L409 1272 L420 1268 L431 1269 L436 1276 L435 1289 L429 1303 L422 1316 L417 1327 Z" fill="#FF0000"/>
<path d="M416.5 1325h1.5M430 1299.5h1.5M416 1328h1.5M414 1327h1.5M402.5 1330h1.5M399.5 1308h1.5M424 1315.5h1.5M426.5 1313.5h1.5M434 1291.5h1.5M402 1286.5h1.5M406.5 1326h1.5M399.5 1291.5h1.5M432 1267h1.5M435.5 1269h1.5M401 1304h1.5M424.5 1306.5h1.5M400 1313h1.5M432.5 1299h1.5M421 1322h1.5M409.5 1277h1.5M431.5 1304.5h1.5M402.5 1298h1.5M426.5 1318h1.5M412 1327h1.5M403 1301h1.5M433 1296.5h1.5M435 1270.5h1.5M436 1268h1.5M430.5 1300.5h1.5M429.5 1271h1.5M434.5 1283.5h1.5M403.5 1285h1.5M413.5 1270h1.5M417 1323h1.5M403.5 1312h1.5M435 1285h1.5M402.5 1297.5h1.5M419 1318h1.5M437.5 1280h1.5M413.5 1265.5h1.5M403.5 1286h1.5M421.5 1271h1.5M405 1327h1.5M431.5 1271h1.5M429 1265.5h1.5M429 1307.5h1.5M412 1270.5h1.5M420.5 1269h1.5M408.5 1276h1.5M398.5 1305h1.5M433 1301h1.5M415.5 1323h1.5M416.5 1324.5h1.5M417.5 1321h1.5M424.5 1268.5h1.5M399 1282.5h1.5M435 1290.5h1.5M407.5 1325h1.5M427.5 1301h1.5M430 1269.5h1.5M431 1296h1.5M425 1314.5h1.5M412 1325.5h1.5M434 1308.5h1.5M417 1270h1.5M400.5 1285.5h1.5M430.5 1268h1.5M410 1277h1.5M412.5 1328h1.5M430.5 1271.5h1.5M429.5 1269h1.5M412.5 1275h1.5M435.5 1290h1.5M433 1268.5h1.5M400.5 1307h1.5M418 1323.5h1.5M409 1273.5h1.5M421.5 1268.5h1.5M397.5 1298.5h1.5M435.5 1275.5h1.5M430 1297.5h1.5M422 1327.5h1.5M402 1318.5h1.5M406.5 1327h1.5M430.5 1299.5h1.5M402 1282.5h1.5M401 1296h1.5M402 1282h1.5M416.5 1322h1.5M402 1278.5h1.5M427.5 1266h1.5M429 1302h1.5M417.5 1322.5h1.5M431.5 1294h1.5M429.5 1307.5h1.5M402 1299.5h1.5M417.5 1322h1.5M405.5 1285h1.5M399 1306.5h1.5M404 1324.5h1.5M401 1294h1.5M398.5 1302h1.5M431.5 1286.5h1.5M405.5 1275h1.5M402 1305.5h1.5M437 1283h1.5M425 1307h1.5M421.5 1313h1.5M398.5 1304.5h1.5M435 1279h1.5M420 1313h1.5M401.5 1304h1.5M404.5 1294h1.5M405 1326h1.5M436 1270h1.5M401.5 1290.5h1.5M427 1303h1.5M404 1328h1.5M402.5 1292.5h1.5M432 1290h1.5M398.5 1293h1.5M401 1323.5h1.5M431 1305h1.5M423.5 1265.5h1.5M409.5 1329.5h1.5M436.5 1272.5h1.5M402 1303h1.5M421.5 1269.5h1.5M405 1295.5h1.5M419.5 1325.5h1.5M428 1298h1.5M405 1273h1.5M438.5 1272h1.5M431 1296.5h1.5M423 1309h1.5M403.5 1314.5h1.5M397.5 1324.5h1.5M400 1312.5h1.5M413 1272.5h1.5M429.5 1266.5h1.5M400 1306h1.5M415 1269.5h1.5M421 1267.5h1.5M401 1310h1.5M414.5 1325.5h1.5M434 1283h1.5M413.5 1269.5h1.5M432.5 1265.5h1.5M403.5 1277h1.5M418 1324h1.5M436 1279.5h1.5M429 1269h1.5M412.5 1326.5h1.5M419 1317.5h1.5M417 1312h1.5M404 1293h1.5M403.5 1306h1.5M433 1296h1.5M423.5 1271h1.5M432 1301.5h1.5M426 1311.5h1.5M403 1283.5h1.5M406.5 1279.5h1.5M428.5 1266.5h1.5M399.5 1285h1.5M432.5 1293.5h1.5M429 1301h1.5M429.5 1268h1.5M430.5 1303.5h1.5M435 1270h1.5M425.5 1300.5h1.5M401 1288.5h1.5M429 1303h1.5M427 1302h1.5M401 1283.5h1.5M435 1279h1.5M420 1320.5h1.5M400.5 1288.5h1.5M432 1305h1.5M410 1328.5h1.5M416 1320h1.5M415 1268h1.5M433 1280h1.5M399 1326.5h1.5M435.5 1276.5h1.5M401 1307.5h1.5M403.5 1319.5h1.5M426 1311.5h1.5M415.5 1268h1.5M398.5 1287.5h1.5M406.5 1274h1.5M424 1306.5h1.5M426.5 1270.5h1.5M417.5 1322.5h1.5M429 1307h1.5M401.5 1325h1.5M424 1324.5h1.5M397.5 1285h1.5M427 1293h1.5M403 1321.5h1.5M401.5 1329h1.5M398 1282.5h1.5M432.5 1291.5h1.5M419.5 1316.5h1.5M401 1301h1.5M421.5 1320h1.5M401.5 1321.5h1.5M423 1267.5h1.5M426 1271h1.5M410 1274h1.5M439 1283h1.5M412.5 1322h1.5M409 1276.5h1.5M434 1282.5h1.5M416.5 1323h1.5M427 1306.5h1.5M400.5 1323h1.5M410.5 1330h1.5M403.5 1319.5h1.5M430 1279h1.5M437.5 1276h1.5M424 1311.5h1.5M404 1302h1.5M399 1298.5h1.5M428 1305.5h1.5M403 1301.5h1.5M426.5 1269.5h1.5M428 1305h1.5M434.5 1293h1.5M401 1294.5h1.5M403 1277.5h1.5M409 1328.5h1.5M420.5 1268.5h1.5M395.5 1318.5h1.5M402.5 1291.5h1.5M408 1267h1.5M400 1328h1.5M405 1281.5h1.5M400.5 1322.5h1.5M429 1270h1.5M398 1309.5h1.5M400 1287h1.5M401.5 1327.5h1.5M429.5 1295h1.5M403 1314h1.5M421.5 1268h1.5M401 1298h1.5M396.5 1305.5h1.5M434 1279.5h1.5M433.5 1267h1.5M429 1305h1.5M419.5 1325.5h1.5M403.5 1287.5h1.5M414.5 1323.5h1.5M426.5 1272h1.5M403 1287h1.5M419.5 1322.5h1.5M400 1322.5h1.5M437.5 1281h1.5M429 1300h1.5M399 1286h1.5M420.5 1323h1.5M408.5 1289.5h1.5M418 1318h1.5M398.5 1313.5h1.5M399.5 1300h1.5M409.5 1274.5h1.5M420.5 1320h1.5M402.5 1305h1.5M419 1325h1.5M401 1292h1.5M425 1268.5h1.5M408 1276h1.5M399.5 1309h1.5M411 1325.5h1.5M419.5 1267.5h1.5M430.5 1293.5h1.5M434 1280h1.5M434 1270.5h1.5M429.5 1287.5h1.5M416 1328h1.5M431 1298h1.5M433.5 1273h1.5M437.5 1290.5h1.5M438 1286.5h1.5M422 1264h1.5M437.5 1286h1.5M423.5 1266h1.5M424.5 1311h1.5M404 1329.5h1.5M407.5 1326h1.5M422 1312.5h1.5M435.5 1281h1.5M426.5 1307.5h1.5M401 1295h1.5M429.5 1268.5h1.5M400.5 1288h1.5M400.5 1324h1.5M410.5 1327h1.5M419 1321h1.5M435 1269.5h1.5M398 1285h1.5M434.5 1299.5h1.5M420 1271h1.5M425.5 1312.5h1.5M400.5 1328h1.5M406.5 1273h1.5M402 1284h1.5M402 1284h1.5M403 1308h1.5M413.5 1269h1.5M403 1324h1.5M405 1310.5h1.5M401.5 1284.5h1.5M400 1303.5h1.5M426 1301h1.5M402 1313h1.5M414 1325.5h1.5M400 1287.5h1.5M394 1306h1.5M401 1325h1.5M431.5 1299.5h1.5M399.5 1285.5h1.5M432 1270.5h1.5M399 1311.5h1.5M402 1325h1.5M399.5 1309.5h1.5M417 1267.5h1.5M422.5 1325h1.5M402 1291h1.5M404.5 1283h1.5M423 1311h1.5M402 1282h1.5M400 1325h1.5M419 1269.5h1.5M400.5 1320.5h1.5M413.5 1323.5h1.5M435 1291h1.5M436 1279h1.5M401 1294h1.5M428.5 1300h1.5M434.5 1297h1.5M399.5 1320h1.5M417 1326h1.5M434.5 1279.5h1.5M419 1311h1.5M402 1284.5h1.5M405 1305h1.5M429.5 1296.5h1.5M423 1314h1.5M416.5 1269h1.5M399.5 1320.5h1.5M425.5 1318h1.5M400.5 1291h1.5M404.5 1275h1.5M436.5 1283h1.5M400 1315h1.5M400.5 1319h1.5M402.5 1320.5h1.5M413.5 1326.5h1.5M402.5 1276h1.5M437 1290.5h1.5M405 1326h1.5M433 1295h1.5M432 1273.5h1.5M428 1272.5h1.5M406 1270.5h1.5M437.5 1284.5h1.5M404.5 1324.5h1.5M423 1311.5h1.5M414.5 1268.5h1.5M407.5 1274.5h1.5M419.5 1325h1.5M399.5 1301h1.5M420.5 1317.5h1.5M400.5 1287.5h1.5M433.5 1300.5h1.5M424.5 1310h1.5M428 1268.5h1.5M403.5 1295h1.5M420 1321.5h1.5M410 1269h1.5M411.5 1274.5h1.5M431.5 1271h1.5M421 1267.5h1.5M431.5 1295.5h1.5M398 1310h1.5M420 1269.5h1.5M417 1325h1.5M400 1317.5h1.5M424 1267.5h1.5M436 1290h1.5M416.5 1323h1.5M439 1280.5h1.5M423.5 1318.5h1.5M400.5 1288.5h1.5M405.5 1274.5h1.5M407.5 1328h1.5M418 1326h1.5M437 1274.5h1.5M425 1270.5h1.5M421.5 1262h1.5M402.5 1315h1.5M418.5 1329h1.5M422.5 1317.5h1.5M424.5 1272h1.5M400 1282.5h1.5M409 1273.5h1.5M403.5 1306.5h1.5M434.5 1306.5h1.5M436.5 1277.5h1.5M404 1287h1.5M432 1290h1.5M405 1326.5h1.5M400.5 1302h1.5M424 1266.5h1.5M432 1271h1.5M402 1301.5h1.5M430.5 1274.5h1.5M437 1287h1.5M405.5 1298h1.5M400 1300.5h1.5M420.5 1320.5h1.5M404.5 1280.5h1.5M432.5 1285.5h1.5M433 1286.5h1.5M418 1318h1.5M428 1302.5h1.5M423 1318.5h1.5M437.5 1287h1.5M423 1267h1.5M414.5 1271.5h1.5M411 1272h1.5M416 1270.5h1.5M399.5 1308.5h1.5M419 1272h1.5M411 1267h1.5M399.5 1318.5h1.5M399.5 1285h1.5M427.5 1305h1.5M435 1278.5h1.5M427 1312h1.5M432 1276.5h1.5M419.5 1325h1.5M423 1314h1.5M403.5 1310h1.5M403 1328.5h1.5M402.5 1321.5h1.5M433 1277h1.5M426 1311h1.5M406.5 1271.5h1.5M433 1282h1.5M408 1272h1.5M402 1322.5h1.5M401 1328h1.5M399 1308h1.5M400 1307.5h1.5M435.5 1283h1.5M429 1276.5h1.5M422.5 1264.5h1.5M433.5 1295.5h1.5M403.5 1322.5h1.5M401 1285h1.5M427 1311h1.5M415 1328h1.5M423 1268.5h1.5M400.5 1310.5h1.5M425.5 1312.5h1.5M417 1328h1.5M414 1272.5h1.5M401.5 1289h1.5M400 1316h1.5M435 1282.5h1.5M417 1326.5h1.5M427.5 1291.5h1.5M410 1275h1.5M438 1288h1.5M421 1318.5h1.5M425 1272.5h1.5M422.5 1316.5h1.5M413.5 1271.5h1.5M412 1273h1.5M439.5 1279h1.5M427 1269.5h1.5M402 1327.5h1.5M432.5 1269h1.5M414 1271h1.5M414.5 1270h1.5M435 1274.5h1.5M409 1271h1.5M435.5 1298.5h1.5M411 1269.5h1.5M417.5 1267.5h1.5M436 1286.5h1.5M401.5 1320h1.5M436.5 1291h1.5M432 1265.5h1.5M423.5 1266.5h1.5M429.5 1297.5h1.5M428 1303h1.5M421 1316.5h1.5M409.5 1273.5h1.5M407.5 1278.5h1.5M433.5 1298.5h1.5M439 1277h1.5M437 1287h1.5M434 1277.5h1.5M428 1311h1.5M401 1297h1.5M437 1277h1.5M402 1302h1.5M418.5 1265.5h1.5M433 1290h1.5M430.5 1272.5h1.5M411 1271h1.5M419.5 1320h1.5M424.5 1309.5h1.5M426.5 1270h1.5M411.5 1329.5h1.5M420 1270.5h1.5M425 1312h1.5M400 1300.5h1.5M401.5 1284.5h1.5M411 1278h1.5M400 1308h1.5M434 1270.5h1.5M401.5 1295h1.5M436 1286h1.5M402 1300h1.5M404.5 1309h1.5M403 1327.5h1.5M438.5 1290.5h1.5M411 1330.5h1.5M430.5 1274.5h1.5M399 1319.5h1.5M438.5 1276.5h1.5M435.5 1276.5h1.5M403.5 1326h1.5M420.5 1320.5h1.5M438 1295.5h1.5M429.5 1305h1.5M427 1267.5h1.5M434.5 1285h1.5M402 1290h1.5M408 1326.5h1.5M412.5 1272.5h1.5M400.5 1297h1.5M402.5 1320.5h1.5M429.5 1287h1.5M403.5 1328.5h1.5M416 1324.5h1.5M432.5 1297.5h1.5M403.5 1324.5h1.5M426.5 1303.5h1.5M408 1276.5h1.5M434 1281.5h1.5M404 1311h1.5M403.5 1294.5h1.5M420 1267h1.5M398.5 1294.5h1.5M405.5 1325h1.5M403 1328.5h1.5M408.5 1273h1.5M431.5 1303h1.5M418 1271.5h1.5M402 1307h1.5M404 1274.5h1.5M401 1289.5h1.5M407.5 1277.5h1.5M401.5 1292.5h1.5M399 1311.5h1.5M401.5 1290h1.5M415.5 1323h1.5M401 1313h1.5M405 1280h1.5M431 1274.5h1.5M413.5 1275h1.5M432.5 1268.5h1.5M398 1319h1.5M432.5 1289h1.5M435 1277h1.5M433.5 1292.5h1.5M434.5 1277.5h1.5M420.5 1272.5h1.5M409 1269.5h1.5M401.5 1292h1.5M430.5 1266h1.5M405 1320.5h1.5M408 1276.5h1.5M434 1299h1.5M402 1308.5h1.5M403.5 1315.5h1.5M434.5 1288.5h1.5M412.5 1270h1.5M424.5 1309h1.5M412 1325h1.5M411 1326h1.5M416.5 1268.5h1.5M400 1288h1.5M435.5 1284.5h1.5M436.5 1285.5h1.5M432 1288h1.5M403.5 1274.5h1.5M403 1318h1.5M397.5 1292h1.5M398.5 1306.5h1.5M403 1306.5h1.5M414 1324h1.5M399.5 1325h1.5M436.5 1283.5h1.5M410 1327h1.5M409 1271h1.5M432.5 1273h1.5M432 1298h1.5M402.5 1275h1.5M428.5 1272h1.5M423 1314h1.5M428.5 1302.5h1.5M426 1314h1.5M401.5 1326.5h1.5M409.5 1274.5h1.5M427.5 1305.5h1.5M436.5 1282h1.5M433.5 1294h1.5M425 1305h1.5M427.5 1306h1.5M418 1325.5h1.5M411.5 1270.5h1.5M433 1293h1.5M404 1283.5h1.5M442 1284h1.5M430 1305h1.5M422 1310.5h1.5M420 1269.5h1.5M432.5 1269.5h1.5M406 1275h1.5M402.5 1302h1.5M399.5 1287.5h1.5M413.5 1328h1.5M404 1282h1.5M404 1327.5h1.5M402.5 1286.5h1.5M429.5 1301h1.5M434.5 1278h1.5M433.5 1296.5h1.5M436 1291h1.5M427.5 1300.5h1.5M413 1328.5h1.5M434.5 1277.5h1.5M398 1316.5h1.5M404.5 1282h1.5M429 1300.5h1.5M431 1263.5h1.5M440 1276.5h1.5M437 1282.5h1.5M408.5 1272h1.5M424.5 1310h1.5M429 1302.5h1.5M428.5 1302.5h1.5M427.5 1306h1.5M423 1329.5h1.5M438.5 1282.5h1.5M409 1327h1.5M397 1311.5h1.5M437.5 1288.5h1.5M427 1299.5h1.5M423 1271h1.5M399 1282h1.5M433.5 1272h1.5M410.5 1271h1.5M417.5 1324h1.5M407 1266.5h1.5M395.5 1303h1.5M440.5 1279.5h1.5M413 1269h1.5M403 1310.5h1.5M436.5 1277.5h1.5M433 1272.5h1.5M401.5 1297h1.5M436.5 1282h1.5M436 1281.5h1.5M425.5 1311h1.5M405.5 1270.5h1.5M401.5 1292h1.5M404.5 1327h1.5M439.5 1275.5h1.5M400.5 1323.5h1.5M422.5 1319h1.5M401.5 1298.5h1.5M424 1309h1.5M430 1296.5h1.5M407 1326h1.5M405 1328h1.5M400 1285h1.5M425.5 1310.5h1.5M404.5 1279h1.5M435.5 1289.5h1.5M435.5 1279h1.5M403 1318h1.5M403 1328h1.5M399 1315.5h1.5M402 1306h1.5M404 1285.5h1.5M418 1328h1.5M433.5 1270.5h1.5M424.5 1315h1.5M421 1319.5h1.5M429 1304h1.5M418 1273h1.5M419.5 1322.5h1.5M426.5 1304h1.5M429 1306.5h1.5M418.5 1324.5h1.5M437.5 1283h1.5M431.5 1275.5h1.5M421 1326h1.5M425.5 1270h1.5M426 1316h1.5M398 1323h1.5M403.5 1325.5h1.5M431 1274h1.5M400 1316h1.5M406.5 1325.5h1.5M398.5 1327h1.5M428.5 1301.5h1.5M398.5 1287.5h1.5M408 1328.5h1.5M410.5 1268h1.5M401 1324h1.5M402 1321.5h1.5M436.5 1279.5h1.5M403.5 1323h1.5M404.5 1331.5h1.5M404 1275h1.5M427.5 1269h1.5M401 1313.5h1.5M433 1275h1.5M435 1282.5h1.5M400 1283h1.5M436 1290h1.5M418 1328.5h1.5M400 1326.5h1.5M403 1295h1.5M404 1295.5h1.5M401 1307.5h1.5M399 1297h1.5M432.5 1287.5h1.5M400 1307h1.5M428.5 1303.5h1.5M415 1324.5h1.5M412 1325.5h1.5M435.5 1288h1.5M396 1295.5h1.5M401 1314.5h1.5M399.5 1288h1.5M407 1326h1.5M410.5 1326.5h1.5M412.5 1276.5h1.5M405.5 1277.5h1.5M433.5 1272h1.5M404 1281h1.5M404.5 1325.5h1.5M401.5 1296.5h1.5M413.5 1272h1.5M421.5 1266h1.5M400 1309h1.5M416 1269h1.5M418.5 1326h1.5M401 1309h1.5M436 1281.5h1.5M415.5 1271.5h1.5M403.5 1297.5h1.5M400 1327h1.5M402 1282.5h1.5M403 1319.5h1.5M411 1271.5h1.5M420.5 1312h1.5M430 1301.5h1.5M407 1325.5h1.5M417 1269.5h1.5M426 1297h1.5M429 1294.5h1.5M396.5 1292.5h1.5M408 1283h1.5M429.5 1273.5h1.5M422 1309.5h1.5M424.5 1271.5h1.5M402 1289h1.5M403.5 1322h1.5M399 1306.5h1.5M408 1326.5h1.5M423 1313.5h1.5M421 1319.5h1.5M424.5 1311.5h1.5M401.5 1295.5h1.5M434 1288.5h1.5M430 1304h1.5M432 1302h1.5M401.5 1281.5h1.5M405.5 1297h1.5M405 1275h1.5M428 1268h1.5M435.5 1271h1.5M421.5 1318h1.5M428.5 1311.5h1.5M432 1297h1.5M399.5 1287h1.5M426.5 1266h1.5M406.5 1278h1.5M401.5 1293h1.5M399.5 1328h1.5M406 1275h1.5M402.5 1288h1.5M436.5 1277h1.5M403 1321h1.5M401 1280h1.5M402 1319h1.5M434.5 1291h1.5M435 1277.5h1.5M407 1278h1.5M400.5 1300.5h1.5M405 1327.5h1.5M433 1277h1.5M434 1297h1.5M433 1273.5h1.5M424 1315h1.5M418.5 1320.5h1.5M412 1272h1.5M430.5 1297h1.5M402.5 1290.5h1.5M437.5 1294h1.5M415 1269.5h1.5M394.5 1325h1.5M405 1327.5h1.5M419.5 1324h1.5M406.5 1281h1.5M406.5 1327.5h1.5M402.5 1276h1.5M423.5 1270h1.5M418 1319.5h1.5M404 1278h1.5M425 1270h1.5M436 1292.5h1.5M403.5 1303h1.5M415.5 1265.5h1.5M404.5 1281h1.5M431 1294h1.5M400 1306.5h1.5M400 1288.5h1.5M427 1298.5h1.5M403.5 1302.5h1.5M417 1271.5h1.5M429 1303.5h1.5M429.5 1308h1.5M397.5 1317h1.5M421 1319.5h1.5M431.5 1303.5h1.5M410.5 1273h1.5M427.5 1305h1.5M430.5 1302.5h1.5M436 1283h1.5M435.5 1274.5h1.5M430.5 1307h1.5M400 1328.5h1.5M436.5 1280h1.5M419.5 1311h1.5M426 1300h1.5M423 1321.5h1.5M408 1322h1.5M396.5 1296h1.5M405 1299h1.5M437.5 1280h1.5M423 1271h1.5M435 1277h1.5M427 1312.5h1.5M414.5 1325.5h1.5M421 1269.5h1.5M431 1301.5h1.5M399.5 1295.5h1.5M433 1275.5h1.5M400.5 1320h1.5M427.5 1265.5h1.5M436.5 1272h1.5M429.5 1304h1.5M434 1292h1.5M409.5 1265.5h1.5M400 1327h1.5M404.5 1312.5h1.5M402 1326h1.5M410 1330.5h1.5M408.5 1277h1.5M402.5 1289h1.5M423.5 1270.5h1.5M432.5 1296h1.5M410.5 1274h1.5M400.5 1315.5h1.5M418.5 1273.5h1.5M400 1285h1.5M407 1277.5h1.5M399.5 1305.5h1.5M412.5 1333.5h1.5M425 1274.5h1.5M435.5 1300.5h1.5M441.5 1274.5h1.5M422.5 1305.5h1.5M427.5 1321h1.5M395.5 1322.5h1.5M402 1312h1.5M419 1276h1.5M414 1333h1.5M413 1275h1.5M409.5 1323h1.5M430 1276.5h1.5M399 1276.5h1.5M419.5 1324h1.5M434.5 1281.5h1.5M406.5 1262h1.5M394.5 1320h1.5M391.5 1308h1.5M393.5 1313h1.5M421 1266.5h1.5M436.5 1279.5h1.5M403 1287.5h1.5M398.5 1315h1.5M397.5 1290.5h1.5M400.5 1267h1.5M402 1323.5h1.5M418.5 1276h1.5M393.5 1323h1.5M428.5 1286.5h1.5M414.5 1324.5h1.5M423 1310.5h1.5M422 1313h1.5M411.5 1323h1.5M429 1285h1.5M396 1325h1.5M403 1322.5h1.5M431 1306.5h1.5M422 1321h1.5M418.5 1330.5h1.5M426.5 1269.5h1.5M421 1314h1.5M391 1300h1.5M435.5 1281.5h1.5M408 1271h1.5M442 1299h1.5M438.5 1292h1.5M411 1277h1.5M396 1286h1.5M405.5 1281h1.5M425 1289.5h1.5M435.5 1295h1.5M435.5 1297.5h1.5M412.5 1299h1.5M412.5 1315h1.5M426 1296.5h1.5M400.5 1321h1.5M403 1277h1.5M424 1274h1.5M408.5 1267h1.5M392.5 1307.5h1.5M394 1287h1.5M403.5 1314h1.5M408 1313h1.5M402 1279.5h1.5M426 1315.5h1.5M430 1273.5h1.5M410.5 1260h1.5M428 1294.5h1.5M435 1279.5h1.5M396 1309h1.5M400 1287h1.5M402.5 1291h1.5M432.5 1283.5h1.5M424 1267.5h1.5M411.5 1264h1.5M436.5 1272.5h1.5M400.5 1326h1.5M409 1278.5h1.5M430 1268.5h1.5M431 1256.5h1.5M434 1291.5h1.5M422 1300.5h1.5M440 1311h1.5M404 1296.5h1.5M413.5 1269h1.5M420 1310h1.5M413.5 1268.5h1.5M408 1317.5h1.5M410.5 1267h1.5M428.5 1270.5h1.5M421.5 1269.5h1.5M419.5 1264.5h1.5M418 1318.5h1.5M397 1302.5h1.5M434.5 1275h1.5M443 1288.5h1.5M418.5 1320.5h1.5M430 1282.5h1.5M406 1321h1.5M421 1320.5h1.5M406.5 1270.5h1.5M434.5 1318h1.5M397.5 1319h1.5M405.5 1293h1.5M432 1291.5h1.5M406.5 1281.5h1.5M433 1292h1.5M405 1314h1.5M425.5 1302.5h1.5M428 1270h1.5M440 1284h1.5M402.5 1323.5h1.5M436 1301.5h1.5M431.5 1265.5h1.5M437 1287h1.5M403.5 1291h1.5M393 1308.5h1.5M416.5 1268.5h1.5M423 1322h1.5M397 1290.5h1.5M428.5 1299.5h1.5M398 1322.5h1.5M423 1292h1.5M400 1281h1.5M431 1260.5h1.5M405.5 1273.5h1.5M398 1301.5h1.5M418 1268.5h1.5M407.5 1272h1.5M436.5 1274h1.5M401.5 1325.5h1.5M425 1272.5h1.5M409 1337h1.5M421 1268.5h1.5M395 1303.5h1.5M396.5 1285.5h1.5M414.5 1264.5h1.5M409.5 1272.5h1.5M415 1320h1.5M437.5 1296.5h1.5M435 1272.5h1.5M424 1262.5h1.5M421.5 1272.5h1.5M431 1282.5h1.5M396.5 1302.5h1.5M403 1299.5h1.5M414.5 1285.5h1.5M407 1303h1.5M430.5 1298h1.5M399 1331h1.5M402.5 1303h1.5M417 1335.5h1.5M394 1336h1.5M428 1262h1.5M426.5 1260.5h1.5M429 1303.5h1.5M402 1327h1.5M416 1267h1.5M394.5 1309h1.5M428.5 1273.5h1.5M402.5 1324h1.5M427 1307h1.5M401.5 1329.5h1.5M423 1300.5h1.5M437 1278.5h1.5M431 1306h1.5M424.5 1293h1.5M417 1272h1.5M402 1290h1.5M438 1266.5h1.5M392 1282h1.5M422.5 1278h1.5M400.5 1308.5h1.5M434.5 1277h1.5M401.5 1293.5h1.5M405 1275h1.5M439 1267.5h1.5M398.5 1287h1.5M410 1327.5h1.5M423 1266h1.5M405.5 1271h1.5M403 1325.5h1.5M419.5 1323.5h1.5M434.5 1285h1.5M419 1262h1.5M402.5 1280h1.5M423 1295h1.5M409 1335h1.5M412 1274h1.5M412.5 1307.5h1.5M397 1306.5h1.5M401 1323h1.5M425.5 1309.5h1.5M409 1319h1.5M398 1324.5h1.5M428 1316h1.5M414 1299h1.5M402.5 1330h1.5M403 1275.5h1.5M405 1262h1.5M432.5 1295.5h1.5M407 1319h1.5M415.5 1315h1.5M391 1321h1.5M429 1308h1.5M430 1300h1.5M412.5 1268h1.5M405.5 1320h1.5M427.5 1319.5h1.5M433.5 1289.5h1.5M410 1321.5h1.5M404.5 1301h1.5M407 1279.5h1.5M415 1271.5h1.5M432.5 1298.5h1.5M421.5 1307.5h1.5M409.5 1327h1.5M401.5 1280h1.5M438 1266.5h1.5M398.5 1314h1.5M401.5 1290h1.5M415.5 1271.5h1.5M440.5 1286h1.5M432 1273.5h1.5M418 1271h1.5M428.5 1290.5h1.5M425.5 1324.5h1.5M407.5 1298.5h1.5M411 1275h1.5M423.5 1300.5h1.5M422.5 1310.5h1.5M422 1318.5h1.5M400 1298.5h1.5M421 1275h1.5M423 1336.5h1.5M418 1278.5h1.5M420.5 1268h1.5M406 1327h1.5M397 1306.5h1.5M425 1302h1.5M420.5 1318h1.5M398 1305.5h1.5M434 1295h1.5M419.5 1273.5h1.5M413 1323h1.5M424 1335h1.5M422.5 1326.5h1.5M412 1305h1.5M425 1311h1.5M412 1333h1.5M435 1287.5h1.5M434 1281h1.5M398 1321h1.5M416 1325.5h1.5M404 1325h1.5M399.5 1269.5h1.5M413 1341.5h1.5M415.5 1324h1.5M404.5 1330.5h1.5M420.5 1275.5h1.5M400 1298h1.5M429 1274.5h1.5M397 1302h1.5M420.5 1313h1.5M434.5 1283h1.5M419 1274.5h1.5M404 1326.5h1.5M413 1271.5h1.5M417 1327h1.5M430.5 1307.5h1.5M398 1321h1.5M403.5 1301.5h1.5M417 1271.5h1.5M402.5 1310h1.5M408 1325.5h1.5M425.5 1295.5h1.5M394.5 1311h1.5M428 1315h1.5M401.5 1271h1.5M403.5 1288.5h1.5M442.5 1274.5h1.5M390.5 1329h1.5M423 1259.5h1.5M420 1325h1.5M406 1338.5h1.5M403.5 1274.5h1.5M428.5 1290h1.5M400 1283.5h1.5M450 1274.5h1.5M399.5 1291.5h1.5M445 1284.5h1.5M394.5 1300.5h1.5M401 1331.5h1.5M409.5 1321h1.5M407 1277h1.5M424.5 1317h1.5M404.5 1315h1.5M422 1312.5h1.5M398.5 1291h1.5M411 1308h1.5M437.5 1280h1.5M425 1274h1.5M438.5 1267h1.5M431.5 1259h1.5M403 1308h1.5M406.5 1324.5h1.5M433 1286h1.5M434 1288.5h1.5M395 1322.5h1.5M404 1261.5h1.5M434.5 1284.5h1.5M435 1289h1.5M431 1317.5h1.5M419.5 1269.5h1.5M440.5 1278h1.5M438 1283.5h1.5M396 1269h1.5M400.5 1317.5h1.5M404 1326.5h1.5M424 1311.5h1.5M400.5 1288.5h1.5M437 1278.5h1.5M437.5 1272.5h1.5M413.5 1274h1.5M422.5 1309h1.5M427.5 1290.5h1.5M392.5 1324h1.5M428.5 1311.5h1.5M434.5 1270h1.5M406.5 1268h1.5M427 1295.5h1.5M427.5 1297h1.5M404 1293.5h1.5M397 1326.5h1.5M427 1289h1.5M433.5 1288.5h1.5M398.5 1315h1.5M400.5 1275.5h1.5M419 1266.5h1.5M435.5 1291h1.5M431 1269.5h1.5M418 1310h1.5M398.5 1289h1.5M437.5 1298h1.5M417.5 1315h1.5M428 1306h1.5M423 1311.5h1.5M420 1323.5h1.5M392.5 1316h1.5M436 1336h1.5M436.5 1343h1.5M441.5 1262.5h1.5M450.5 1327h1.5M439.5 1314h1.5M431 1280.5h1.5M470.5 1313.5h1.5M433.5 1269h1.5M439 1264h1.5M475.5 1344.5h1.5M470 1313.5h1.5M442.5 1280h1.5M448.5 1297h1.5M458 1340.5h1.5M435.5 1296h1.5M448.5 1336.5h1.5M435 1333.5h1.5M450.5 1288h1.5M437.5 1318.5h1.5M435 1315.5h1.5M456.5 1325h1.5M432.5 1290h1.5M446 1262.5h1.5M430 1273h1.5M439.5 1311.5h1.5M460 1325.5h1.5M454.5 1324h1.5M441 1309h1.5M436.5 1265.5h1.5M434 1259.5h1.5M432.5 1326h1.5M431 1306h1.5M435.5 1326h1.5M432.5 1272h1.5M450 1293.5h1.5M430 1338h1.5M455 1273h1.5M433.5 1263.5h1.5M459 1315h1.5M448.5 1309.5h1.5M433 1341h1.5M445.5 1337h1.5M438 1259.5h1.5M436 1300h1.5M448.5 1336h1.5M451.5 1295.5h1.5M441.5 1341.5h1.5M431 1315h1.5M430.5 1267.5h1.5M471 1302.5h1.5M442.5 1318.5h1.5M435.5 1263.5h1.5M442.5 1288h1.5M441.5 1320.5h1.5M430.5 1271.5h1.5M431.5 1288.5h1.5M436.5 1318h1.5M436 1303h1.5M445 1341h1.5M431 1338.5h1.5M436.5 1299h1.5M436.5 1272h1.5M448 1325h1.5M435 1279h1.5M467.5 1331.5h1.5M432 1309h1.5M461 1292.5h1.5M432 1306.5h1.5M459.5 1304.5h1.5M439.5 1338.5h1.5M431.5 1338.5h1.5M444.5 1260.5h1.5M442 1338h1.5M472 1292.5h1.5M432.5 1264.5h1.5M436 1328h1.5M435 1331.5h1.5M441.5 1287.5h1.5M437.5 1303h1.5M430.5 1328.5h1.5M445.5 1274.5h1.5M436.5 1312.5h1.5M474.5 1295.5h1.5M435 1273h1.5M451 1330.5h1.5M441.5 1286h1.5M463 1339.5h1.5M433.5 1307.5h1.5M431.5 1303h1.5M432.5 1295h1.5M431.5 1293h1.5M445.5 1329h1.5M435.5 1317h1.5M455.5 1325.5h1.5M441.5 1294.5h1.5M470.5 1280.5h1.5M436 1265.5h1.5M434 1325.5h1.5M448.5 1294h1.5M430 1302.5h1.5M430 1295.5h1.5M442.5 1317.5h1.5M445.5 1311h1.5M456 1342.5h1.5M435.5 1270h1.5M439 1308h1.5M434 1263.5h1.5M432 1328.5h1.5M451 1311.5h1.5M447 1295.5h1.5M468 1328h1.5M435 1297.5h1.5M433.5 1278h1.5M433.5 1299h1.5M430.5 1264h1.5M445.5 1336h1.5M430 1321.5h1.5M437 1324h1.5M439 1334h1.5M440.5 1327h1.5M430 1268.5h1.5M433 1290.5h1.5M449.5 1339.5h1.5M453.5 1340.5h1.5M459 1325h1.5M450.5 1276h1.5M435.5 1275h1.5M448.5 1334.5h1.5M458 1270.5h1.5M453.5 1309h1.5M432 1291h1.5M434 1284.5h1.5M432.5 1317h1.5M458.5 1341.5h1.5M441.5 1325.5h1.5M435.5 1300.5h1.5M432.5 1296.5h1.5M431 1337h1.5M449 1308.5h1.5M431.5 1301h1.5M443 1317.5h1.5M434.5 1278.5h1.5M432 1263.5h1.5M430 1332.5h1.5M436.5 1311h1.5M438 1272.5h1.5M466 1284h1.5M436.5 1344h1.5M432.5 1313h1.5M444 1313.5h1.5M430.5 1264.5h1.5M474 1342.5h1.5M461 1335.5h1.5M449.5 1305.5h1.5M467.5 1285h1.5M439 1318.5h1.5M456.5 1330.5h1.5M439.5 1326.5h1.5M441.5 1313.5h1.5M443 1286h1.5M441 1301.5h1.5M444.5 1329h1.5M432 1278h1.5M433 1321h1.5M441 1296.5h1.5M441.5 1329h1.5M436.5 1270.5h1.5M432 1287h1.5M453 1281.5h1.5M434 1318.5h1.5M454 1324h1.5M467.5 1299.5h1.5M433.5 1269.5h1.5M434.5 1319h1.5M436 1344.5h1.5M450 1325.5h1.5M453.5 1277.5h1.5M430.5 1312h1.5M438 1283.5h1.5M462 1260.5h1.5M443 1273.5h1.5M443.5 1267h1.5M434 1275h1.5M438 1327h1.5M448 1283.5h1.5M449.5 1324h1.5M460 1340.5h1.5M431.5 1308h1.5M445.5 1300h1.5M442.5 1323.5h1.5M432 1266.5h1.5M440.5 1295.5h1.5M440.5 1301.5h1.5M432 1330.5h1.5M436 1329h1.5M468.5 1332h1.5M462 1318.5h1.5M452 1304h1.5M436 1330h1.5M439.5 1334h1.5M478.5 1300h1.5M466.5 1344h1.5M456.5 1334h1.5M436.5 1302.5h1.5M433 1264h1.5M432.5 1277.5h1.5M430.5 1325.5h1.5M441.5 1267.5h1.5M443.5 1299h1.5M471.5 1310.5h1.5M444 1334.5h1.5M433.5 1331.5h1.5M453 1324.5h1.5M434 1293.5h1.5M462.5 1270.5h1.5M431 1316.5h1.5M434.5 1274h1.5M436.5 1343.5h1.5M430 1306h1.5M435.5 1314h1.5M437 1317h1.5M434 1330h1.5M449 1296h1.5M441.5 1301.5h1.5M446.5 1273.5h1.5M446 1311.5h1.5M430 1283.5h1.5M433.5 1302h1.5M460 1324.5h1.5M462.5 1259.5h1.5M440 1307h1.5M437 1273h1.5M438 1282.5h1.5M438 1261h1.5M467 1272.5h1.5M430.5 1344h1.5M443.5 1345h1.5M436 1320.5h1.5M461.5 1311h1.5M448 1325.5h1.5M439 1336h1.5M449 1303h1.5M435.5 1319.5h1.5M446 1343.5h1.5M470.5 1280.5h1.5M454 1298.5h1.5M431.5 1289.5h1.5M453 1292h1.5M445 1321h1.5M460 1291h1.5M439.5 1340h1.5M440 1326.5h1.5M453.5 1260.5h1.5M435.5 1329h1.5M442.5 1325h1.5M463 1303h1.5M431 1301h1.5M446 1330.5h1.5M442 1272h1.5M452 1285h1.5M475.5 1281h1.5M436 1317.5h1.5M430.5 1273.5h1.5M430.5 1314h1.5M435 1298.5h1.5M436 1300h1.5M473 1339h1.5M435.5 1336.5h1.5M451.5 1274h1.5M430.5 1317.5h1.5M442.5 1276.5h1.5M439 1329.5h1.5M431 1313.5h1.5M456.5 1283.5h1.5M441.5 1279.5h1.5M433.5 1295.5h1.5M445.5 1327.5h1.5M449 1327.5h1.5M434 1261h1.5M433 1284.5h1.5M445 1295h1.5M458 1309h1.5M455 1271h1.5M439.5 1287h1.5M440.5 1335h1.5M443 1299.5h1.5M430.5 1322.5h1.5M448.5 1300h1.5M447.5 1298.5h1.5M470 1312h1.5M436 1279.5h1.5M435 1344h1.5M438 1333.5h1.5M433.5 1322h1.5M433 1270h1.5M440 1260.5h1.5M456.5 1273.5h1.5M455.5 1339.5h1.5M436 1329h1.5M431 1303.5h1.5M431.5 1342.5h1.5M433 1271h1.5M446.5 1306.5h1.5M436.5 1274h1.5M462 1284.5h1.5M443 1340h1.5M432 1333.5h1.5M430.5 1267h1.5M444 1279.5h1.5M430.5 1309.5h1.5M437.5 1263.5h1.5M434.5 1306h1.5M438.5 1309h1.5M439.5 1283.5h1.5M449.5 1283.5h1.5M434 1278h1.5M451.5 1292h1.5M436.5 1309h1.5M430 1284h1.5M436 1319h1.5M448.5 1267h1.5M434 1264h1.5M433 1323h1.5M455 1321h1.5M452.5 1281h1.5M472.5 1289h1.5M433.5 1341.5h1.5M449 1267h1.5M434 1274h1.5M462.5 1295.5h1.5M467.5 1282.5h1.5M447 1314.5h1.5M431 1318h1.5M442 1304h1.5M431.5 1311h1.5M431 1295.5h1.5M433 1324h1.5M453.5 1261.5h1.5M438.5 1285h1.5M473 1317.5h1.5M446.5 1286.5h1.5M434.5 1265h1.5M455 1288h1.5M433.5 1320h1.5M432.5 1268.5h1.5M435.5 1321h1.5M463 1325.5h1.5M430.5 1279h1.5M443.5 1328h1.5M436.5 1276.5h1.5M458.5 1337h1.5M451.5 1319.5h1.5M432 1263h1.5M436.5 1327.5h1.5M430.5 1302h1.5M432.5 1297.5h1.5M444 1294.5h1.5M443.5 1311h1.5M471.5 1321h1.5M440 1336h1.5M432 1281.5h1.5M443 1313h1.5M447.5 1317.5h1.5M434.5 1316.5h1.5M467 1279.5h1.5M463 1273h1.5M452 1261h1.5M439 1260h1.5M475.5 1268h1.5M448.5 1257.5h1.5M434.5 1345h1.5M435.5 1271.5h1.5M455.5 1334.5h1.5M458 1306.5h1.5M467.5 1317h1.5M442.5 1301.5h1.5M455 1330h1.5M453.5 1328h1.5M468 1280.5h1.5M470 1321.5h1.5M435 1336h1.5M474 1325.5h1.5M464 1250h1.5M452 1342h1.5M473.5 1319.5h1.5M456.5 1310h1.5M435.5 1279.5h1.5M461.5 1333.5h1.5M462 1302h1.5M467 1312.5h1.5M457 1274.5h1.5M433 1286h1.5M439.5 1259.5h1.5M449.5 1314h1.5M448.5 1288.5h1.5M447 1322h1.5M435 1270h1.5M436 1248h1.5M445 1328h1.5M452.5 1295h1.5M435.5 1338.5h1.5M460.5 1283.5h1.5M459 1344.5h1.5M465 1298.5h1.5M432 1297.5h1.5M453.5 1300.5h1.5M457 1341.5h1.5M441.5 1278.5h1.5M459 1319h1.5M474 1306.5h1.5M444 1334h1.5M450.5 1290.5h1.5M464.5 1282.5h1.5M447.5 1259h1.5M456.5 1282h1.5M432.5 1332.5h1.5M444 1287.5h1.5M474 1319h1.5M442.5 1254h1.5M455.5 1303h1.5M475 1269h1.5M436 1280h1.5M463 1335h1.5M478 1284.5h1.5M457 1341.5h1.5M465.5 1257.5h1.5M444.5 1332.5h1.5M442 1278.5h1.5M443.5 1277h1.5M469.5 1254h1.5M473 1268.5h1.5M478.5 1320.5h1.5M471 1311h1.5M472 1265h1.5M440 1316h1.5M463.5 1277h1.5M444 1345h1.5M463 1318.5h1.5M441.5 1304.5h1.5M470.5 1332h1.5M449 1304.5h1.5M421 1265.5h1.5M409 1265h1.5M426 1262h1.5M414 1259.5h1.5M401.5 1264h1.5M431 1265.5h1.5M402 1261h1.5M425.5 1245.5h1.5M406 1259.5h1.5M416.5 1261h1.5M432.5 1264.5h1.5M403.5 1258h1.5M425.5 1265.5h1.5M423.5 1252h1.5M406.5 1251.5h1.5M430.5 1266h1.5M417 1259.5h1.5M416.5 1251h1.5M413.5 1251.5h1.5M414.5 1266h1.5M420 1259h1.5M404 1247h1.5M416 1257h1.5M425 1243h1.5M419 1256h1.5M406.5 1254h1.5M414 1262h1.5M425.5 1257.5h1.5M434 1250h1.5M421 1266h1.5M425.5 1246.5h1.5M403 1262.5h1.5M436.5 1265h1.5M412 1262h1.5M413.5 1261.5h1.5M408.5 1261h1.5M403 1264.5h1.5M430 1265h1.5M409 1260h1.5M410.5 1265h1.5M407 1252h1.5M437 1254h1.5M429.5 1257.5h1.5M435.5 1262h1.5M432.5 1265.5h1.5M434.5 1264h1.5M418 1265.5h1.5M406.5 1263.5h1.5M412.5 1251h1.5M411 1265h1.5M427.5 1246.5h1.5M401 1262h1.5M405.5 1265.5h1.5M426 1265h1.5M404.5 1259h1.5M402 1259.5h1.5M404 1262h1.5M426 1265.5h1.5" stroke="#FF0000" stroke-width="1.5" fill="none"/>
<path d="M433 1238h1.5M417 1240.5h1.5M476 1194.5h1.5M412 1208.5h1.5M443 1204h1.5M475.5 1229.5h1.5M473.5 1220h1.5M477.5 1226h1.5M468 1223.5h1.5M450.5 1236.5h1.5M478 1180h1.5M408.5 1211h1.5M476.5 1238.5h1.5M475 1227h1.5M461 1220.5h1.5M467 1222h1.5M444 1187h1.5M458 1184.5h1.5M478 1185.5h1.5M446 1179h1.5M456 1221h1.5M462.5 1232h1.5M478.5 1232.5h1.5M457 1202h1.5M467.5 1234h1.5M460.5 1223.5h1.5M448 1225.5h1.5M453 1179h1.5M457 1233h1.5M462.5 1215.5h1.5M470.5 1228h1.5M455 1222h1.5M469 1222h1.5" stroke="#F0883A" stroke-width="1.5" fill="none"/>
<path d="M585 1171h1.5M588 1173.5h1.5M535.5 1210h1.5M561.5 1182.5h1.5M524.5 1210.5h1.5M571.5 1178.5h1.5M584 1171.5h1.5M488 1240h1.5M592 1178h1.5M536 1200.5h1.5M539.5 1184.5h1.5M531 1201h1.5M587 1176h1.5M532.5 1173.5h1.5M559.5 1155h1.5M576 1186.5h1.5M574 1197h1.5M548.5 1171h1.5M558 1186h1.5M544 1188h1.5M567.5 1173.5h1.5M552.5 1193h1.5M566.5 1158h1.5M573.5 1156h1.5M537 1194.5h1.5M526 1204.5h1.5M549.5 1172.5h1.5M557.5 1197.5h1.5M503.5 1215.5h1.5M494.5 1222h1.5M513 1220.5h1.5M554.5 1185h1.5M566.5 1191.5h1.5M544.5 1179h1.5M572.5 1152h1.5M582 1162.5h1.5M524.5 1208.5h1.5M547.5 1172h1.5M558 1162.5h1.5M503 1225.5h1.5M543.5 1182.5h1.5M573 1151h1.5M572 1190h1.5M557 1175h1.5M522.5 1227.5h1.5M565 1180h1.5M574.5 1177.5h1.5M505.5 1217.5h1.5M494 1187h1.5M552.5 1170h1.5M564 1178h1.5M555.5 1191.5h1.5M561.5 1153.5h1.5M586.5 1163.5h1.5M553.5 1169.5h1.5M519 1215h1.5M544.5 1193.5h1.5M582.5 1179h1.5M535.5 1217h1.5M570.5 1183h1.5M501 1237.5h1.5M514.5 1209.5h1.5M551 1170h1.5M568 1169h1.5M516.5 1228h1.5M554.5 1199h1.5M566 1186.5h1.5M498 1237h1.5M551.5 1155.5h1.5M584.5 1191h1.5M581 1165h1.5M555.5 1205.5h1.5M512.5 1184h1.5M574 1177.5h1.5M518 1203.5h1.5M576 1181h1.5M569 1181.5h1.5M543 1200.5h1.5M517 1196h1.5M543 1194h1.5M520.5 1207.5h1.5M542 1203.5h1.5M517.5 1228.5h1.5M526.5 1208.5h1.5M577 1150.5h1.5M564 1182h1.5M540 1238h1.5M556.5 1211.5h1.5M492.5 1231h1.5M595.5 1173h1.5M540 1194h1.5M561.5 1174.5h1.5M545.5 1188.5h1.5M505.5 1230h1.5M581 1150h1.5M588.5 1182h1.5M553.5 1186.5h1.5M551 1174.5h1.5M596.5 1175h1.5M567 1153.5h1.5M551.5 1180h1.5M527.5 1196.5h1.5M501 1213.5h1.5M538.5 1163.5h1.5M556.5 1176h1.5M561.5 1189.5h1.5M518.5 1224.5h1.5M557 1221h1.5M519.5 1233.5h1.5M578 1173.5h1.5M557 1171h1.5M553 1213.5h1.5M543.5 1188.5h1.5M528.5 1194.5h1.5M578 1164h1.5M488 1213.5h1.5M570 1168.5h1.5M490.5 1227.5h1.5M504.5 1233.5h1.5M498.5 1220h1.5M563.5 1160.5h1.5M525.5 1181.5h1.5M539.5 1200.5h1.5M549.5 1191.5h1.5M532.5 1193.5h1.5M579 1162h1.5M589.5 1168.5h1.5M562.5 1203h1.5M542.5 1182.5h1.5M577.5 1172h1.5M507 1235h1.5M522 1197h1.5M495.5 1227.5h1.5M565.5 1178.5h1.5M486.5 1213.5h1.5M501.5 1226.5h1.5M495 1229h1.5M492.5 1239h1.5M527.5 1187h1.5M549 1190.5h1.5M527.5 1227.5h1.5M511.5 1237h1.5M503.5 1204h1.5M524 1215.5h1.5M561.5 1174.5h1.5M526.5 1211h1.5M549.5 1178h1.5M533.5 1174h1.5M558 1179h1.5M494.5 1240h1.5M504.5 1226.5h1.5M546 1199.5h1.5M513 1219h1.5M521 1216.5h1.5M563 1189.5h1.5M549 1186.5h1.5M561.5 1183.5h1.5M573.5 1201h1.5M495 1230.5h1.5M506.5 1221h1.5M503.5 1224h1.5M549 1187h1.5M550.5 1182.5h1.5M567 1181h1.5M493.5 1221h1.5M580 1166.5h1.5M527 1193.5h1.5M509 1220h1.5M575 1181.5h1.5M584.5 1162.5h1.5M528 1173.5h1.5M563 1190h1.5M501 1226h1.5M491 1215.5h1.5M585 1178h1.5M564.5 1157.5h1.5M596.5 1174h1.5M558.5 1183h1.5M536.5 1163.5h1.5M544.5 1196.5h1.5M586 1158.5h1.5M543.5 1185.5h1.5M573.5 1162h1.5M554.5 1184.5h1.5M531 1195.5h1.5M535 1171h1.5M583 1187h1.5M518.5 1208h1.5M553.5 1175.5h1.5M508 1201.5h1.5M503.5 1234.5h1.5M578.5 1149.5h1.5M562.5 1183.5h1.5M549.5 1181h1.5M514.5 1206.5h1.5M517 1195.5h1.5M555 1176.5h1.5M571 1175.5h1.5M499.5 1229h1.5M542.5 1183h1.5M548.5 1189.5h1.5M554.5 1201h1.5M544 1168h1.5M525.5 1207h1.5M551.5 1174h1.5M481 1221.5h1.5M517.5 1217h1.5M580 1160h1.5M578.5 1151h1.5M558.5 1205h1.5M546.5 1207h1.5M510 1187h1.5M543.5 1171h1.5M589.5 1172h1.5M584 1162h1.5M568.5 1200.5h1.5M534.5 1210.5h1.5M563.5 1185.5h1.5M497 1210.5h1.5M511 1225h1.5M574.5 1152.5h1.5M534 1208h1.5M559.5 1170h1.5M495.5 1240.5h1.5M531 1238.5h1.5M514 1211.5h1.5M544 1203h1.5M497.5 1219.5h1.5M585.5 1166.5h1.5M561.5 1158h1.5M510 1218h1.5M517 1213.5h1.5M581 1197h1.5M533 1173.5h1.5M575 1168h1.5M551 1209.5h1.5M531 1199.5h1.5M574.5 1170h1.5M582.5 1154h1.5M518 1197.5h1.5M533.5 1172.5h1.5M559.5 1173.5h1.5M480 1223h1.5M549 1192.5h1.5M535 1188h1.5M556 1178h1.5M558 1177.5h1.5M513.5 1214.5h1.5M517 1204.5h1.5M524 1191.5h1.5M570 1177.5h1.5M555.5 1203h1.5M561 1184h1.5M547 1182.5h1.5M491 1229h1.5M541.5 1163h1.5M531.5 1200.5h1.5M519.5 1205h1.5M514.5 1200h1.5M544 1182h1.5M545 1187h1.5M553.5 1203.5h1.5M554 1204.5h1.5M533.5 1187h1.5M538.5 1190h1.5M546 1185h1.5M546.5 1205.5h1.5M584 1168.5h1.5M582.5 1168.5h1.5M495.5 1236.5h1.5M496 1218h1.5M521.5 1231.5h1.5M526 1206.5h1.5M511.5 1203.5h1.5M555 1183h1.5M544 1213.5h1.5M551 1182.5h1.5M519.5 1226h1.5M511.5 1207h1.5M562 1169.5h1.5M581.5 1178.5h1.5M511 1203h1.5M569.5 1189.5h1.5M566 1184.5h1.5M497 1213h1.5M567 1177h1.5M572.5 1165.5h1.5M501.5 1229.5h1.5M528 1235.5h1.5M521 1204.5h1.5M580 1177.5h1.5M534 1201.5h1.5M588.5 1163.5h1.5M561.5 1179h1.5M494.5 1215h1.5M571.5 1180h1.5M563.5 1176h1.5M570.5 1161h1.5M546 1208.5h1.5M556 1187.5h1.5M549 1187h1.5M520 1232h1.5M521.5 1180.5h1.5M565 1199.5h1.5M579 1155.5h1.5M522 1213h1.5M559.5 1174h1.5M522.5 1194.5h1.5M549 1211.5h1.5M559 1213h1.5M510.5 1214h1.5M546 1198h1.5M576.5 1172.5h1.5M553 1215.5h1.5M498.5 1192h1.5M521 1216h1.5M546.5 1181h1.5M570.5 1138h1.5M546.5 1186.5h1.5M579 1199h1.5M533 1191.5h1.5M518 1224.5h1.5M589 1182h1.5M552.5 1188h1.5M539 1199.5h1.5M544.5 1178h1.5M574.5 1167h1.5M569.5 1170.5h1.5M586.5 1156h1.5M582 1163h1.5M578.5 1154.5h1.5M565.5 1168.5h1.5M570.5 1178.5h1.5M573 1177h1.5M555 1171h1.5M565 1171.5h1.5M559.5 1167.5h1.5M576 1162.5h1.5M580 1163.5h1.5M573.5 1171.5h1.5M557.5 1179h1.5M586 1162h1.5M577 1171h1.5M569 1171.5h1.5M573.5 1173.5h1.5M552 1181.5h1.5M561.5 1170.5h1.5M576 1160h1.5M553.5 1185h1.5M543.5 1169h1.5M575 1167.5h1.5M568.5 1166.5h1.5M546.5 1173h1.5M557.5 1166h1.5M566.5 1167.5h1.5M567.5 1172h1.5M571 1172.5h1.5M562 1175h1.5M559 1156h1.5M572 1169h1.5M566.5 1161h1.5M558 1167.5h1.5M568 1159h1.5M557 1181h1.5M555 1170h1.5M577.5 1172.5h1.5M575.5 1173h1.5M562 1172h1.5M559 1177h1.5M558 1172.5h1.5M575.5 1175.5h1.5M575.5 1180.5h1.5M551 1165h1.5M569.5 1163h1.5M556 1163h1.5M550.5 1168.5h1.5M559 1172h1.5M570.5 1179h1.5M566.5 1158h1.5M571.5 1169h1.5M564 1172.5h1.5M564.5 1166.5h1.5M567 1180.5h1.5M554 1170h1.5M560.5 1165.5h1.5M546 1180h1.5M580 1163h1.5M559.5 1158h1.5M570 1170h1.5M558.5 1177h1.5M563 1164.5h1.5M572.5 1177.5h1.5M559.5 1168h1.5M566 1178h1.5M554.5 1183h1.5M559 1177.5h1.5M557 1172h1.5M576 1154.5h1.5M576 1179.5h1.5M567.5 1160h1.5M549 1175h1.5M567.5 1172.5h1.5M548.5 1174.5h1.5M556 1176h1.5M582.5 1154.5h1.5M551 1171h1.5M571.5 1168h1.5M554.5 1175h1.5M558 1178.5h1.5M595 1159h1.5M561.5 1168.5h1.5M553.5 1184.5h1.5M570.5 1165h1.5M577.5 1165h1.5M574 1169h1.5M553 1230.5h1.5M554 1238h1.5M549.5 1236h1.5M546.5 1239h1.5M545 1233h1.5M540 1240.5h1.5M555 1232.5h1.5M548 1237h1.5M541.5 1235.5h1.5" stroke="#2A2AE8" stroke-width="1.5" fill="none"/>
<path d="M490 1323h1.5M492.5 1325.5h1.5M500.5 1276.5h1.5M483.5 1325h1.5M481.5 1299h1.5M480.5 1295.5h1.5M508.5 1343h1.5M484 1281h1.5M496 1297.5h1.5M490.5 1307h1.5M489 1261h1.5M486.5 1295h1.5M494 1331h1.5M506.5 1280.5h1.5M485.5 1339.5h1.5M516 1313.5h1.5M483 1316.5h1.5M501 1264h1.5M495.5 1300h1.5M527 1333h1.5M516.5 1258h1.5M519 1326h1.5M524 1330.5h1.5M503 1342.5h1.5M494.5 1302.5h1.5M488 1297h1.5M565 1338.5h1.5M528.5 1341.5h1.5M529.5 1317h1.5M481.5 1272h1.5M493.5 1331.5h1.5M503 1336h1.5M485.5 1291h1.5M526 1330h1.5M579 1274.5h1.5M512.5 1325.5h1.5M512 1271h1.5M556.5 1277.5h1.5M558.5 1267.5h1.5M499 1271.5h1.5M521 1338.5h1.5M501.5 1274h1.5M481.5 1268h1.5M549 1288.5h1.5M547.5 1287.5h1.5M498.5 1340.5h1.5M569.5 1297.5h1.5M539.5 1314h1.5M514 1260h1.5M508.5 1253h1.5M522 1242.5h1.5M495 1249h1.5M540.5 1248.5h1.5M569.5 1251.5h1.5M555 1260.5h1.5M508 1298.5h1.5M493.5 1314h1.5M491.5 1302.5h1.5M521.5 1288h1.5M585 1267.5h1.5M549.5 1278h1.5M531.5 1272.5h1.5M549 1254h1.5M502 1261h1.5M508.5 1312.5h1.5M508 1308.5h1.5M552.5 1250.5h1.5M485 1296h1.5M517.5 1272h1.5M536 1279.5h1.5M557.5 1252.5h1.5M569.5 1254h1.5M560.5 1253h1.5M515.5 1304.5h1.5M537 1277.5h1.5M505 1312h1.5M529.5 1248h1.5M542 1249.5h1.5M507.5 1292h1.5M555 1272h1.5M533.5 1302h1.5M550 1258.5h1.5M499 1296h1.5M526 1253h1.5M569.5 1256.5h1.5M537.5 1263.5h1.5M547.5 1306h1.5M520 1276h1.5M519 1318.5h1.5M571 1253.5h1.5M528.5 1264.5h1.5M518.5 1291.5h1.5M523 1295h1.5M549.5 1258h1.5M557 1267h1.5M507 1310h1.5M498.5 1314.5h1.5M516.5 1289.5h1.5M501 1286h1.5M533.5 1274h1.5M532.5 1278.5h1.5M556.5 1257.5h1.5M524 1282h1.5M491 1307h1.5M505 1295.5h1.5M559 1281h1.5M543.5 1269.5h1.5M536.5 1287.5h1.5M495 1306.5h1.5M532.5 1248.5h1.5M523 1294h1.5M548 1253h1.5M550 1256h1.5M548 1247.5h1.5M530 1279.5h1.5M574.5 1255h1.5M529.5 1292h1.5M551.5 1282.5h1.5M502 1327.5h1.5M488.5 1284h1.5M539 1253h1.5M483 1292.5h1.5M553.5 1267h1.5M519.5 1277h1.5M505.5 1292h1.5M503.5 1298h1.5M532.5 1281.5h1.5M546.5 1242h1.5M491 1293.5h1.5M532.5 1276h1.5M565 1265h1.5M497 1306.5h1.5M550 1249h1.5M522 1254h1.5M558 1267.5h1.5M484.5 1307h1.5M523 1267.5h1.5M545.5 1243.5h1.5M545.5 1250.5h1.5M500.5 1300.5h1.5M486.5 1298h1.5M547.5 1265.5h1.5M533 1272h1.5M522 1317.5h1.5M522 1287.5h1.5M517 1292h1.5M534 1259.5h1.5M536 1274h1.5M543.5 1277.5h1.5M490 1314h1.5M534.5 1294h1.5M517 1257.5h1.5M529.5 1266h1.5M514 1313.5h1.5M564.5 1261.5h1.5M561.5 1258.5h1.5M529 1296.5h1.5M496 1279.5h1.5M541.5 1279.5h1.5M511 1310.5h1.5M493.5 1300h1.5M544 1304h1.5M542.5 1270h1.5M541.5 1274h1.5M506.5 1288h1.5M566.5 1263.5h1.5M499.5 1312.5h1.5M481.5 1311.5h1.5M538 1293h1.5M552 1272.5h1.5M555 1244.5h1.5M562 1248h1.5M514.5 1299h1.5M494.5 1303.5h1.5M541 1263.5h1.5M543 1267h1.5M521 1270.5h1.5M516.5 1257.5h1.5M496.5 1311h1.5M531 1262.5h1.5M517.5 1263h1.5M570 1249.5h1.5M546.5 1260.5h1.5M492.5 1307h1.5M493.5 1290.5h1.5M504 1291h1.5M510 1301h1.5M515 1290h1.5M545.5 1276.5h1.5M560.5 1265.5h1.5M504 1297h1.5M537 1245h1.5M486.5 1304.5h1.5M562.5 1248.5h1.5M499 1293.5h1.5M493 1294.5h1.5M530 1279h1.5M583 1267.5h1.5M507 1291h1.5M525.5 1282h1.5M507.5 1278.5h1.5M534 1293h1.5M548.5 1274.5h1.5M528.5 1291h1.5M539 1290.5h1.5M505 1294h1.5M564.5 1243.5h1.5M496.5 1332h1.5M542 1276.5h1.5M485 1285h1.5M564 1255h1.5M493 1301.5h1.5M519 1301h1.5M548.5 1268h1.5M531 1281h1.5M524.5 1286h1.5M531.5 1282h1.5M565 1256.5h1.5M508 1319h1.5M493.5 1315.5h1.5M560 1252.5h1.5M532 1293.5h1.5M539 1302.5h1.5M516 1304h1.5M533.5 1278h1.5M548.5 1268.5h1.5M507 1301.5h1.5M537.5 1272h1.5M520.5 1318h1.5M553 1247.5h1.5M522 1301.5h1.5M565.5 1245.5h1.5M540.5 1247.5h1.5M508 1294.5h1.5M562 1242.5h1.5M520.5 1295h1.5M561.5 1252h1.5M512 1279h1.5M550.5 1282h1.5M519.5 1303h1.5M557.5 1277.5h1.5M500.5 1307h1.5M554.5 1256h1.5M540 1279.5h1.5M552 1250.5h1.5M554 1259h1.5M558 1251.5h1.5M531.5 1255.5h1.5M526.5 1283h1.5M515.5 1284h1.5M529.5 1275h1.5M542 1273h1.5M563 1268h1.5M488.5 1301.5h1.5M487 1310.5h1.5M542 1256.5h1.5M494.5 1297h1.5M496.5 1298.5h1.5M512 1291h1.5M561.5 1259h1.5M546 1269h1.5M498 1290.5h1.5M549 1280.5h1.5M543.5 1280h1.5M542.5 1254.5h1.5M552 1277h1.5M498.5 1310.5h1.5M562.5 1247.5h1.5M561.5 1256h1.5M526 1281h1.5M505.5 1307h1.5M525 1285h1.5M537 1267h1.5M536 1243.5h1.5M505.5 1307h1.5M510 1290h1.5M518 1300h1.5M529.5 1285.5h1.5M546 1259.5h1.5M544.5 1280.5h1.5M500.5 1307h1.5M500 1306.5h1.5M488.5 1312h1.5M505.5 1324h1.5M528.5 1269h1.5M562.5 1245h1.5M480 1303.5h1.5M503.5 1312h1.5M558.5 1245h1.5M490.5 1305.5h1.5M555.5 1248.5h1.5M517.5 1290h1.5M503.5 1283h1.5M549 1268h1.5M509.5 1265h1.5M512 1306h1.5M552.5 1281.5h1.5M539 1268h1.5M504 1319.5h1.5M533 1275h1.5M532.5 1299.5h1.5M489 1307h1.5M515 1257h1.5M485.5 1303.5h1.5M487 1329h1.5M483.5 1306h1.5M491.5 1324.5h1.5M498.5 1300h1.5M486.5 1314h1.5M490 1307.5h1.5M497 1315h1.5M489 1318.5h1.5M496.5 1339.5h1.5M489 1335h1.5M489 1325h1.5M483 1297.5h1.5M482.5 1336h1.5M492 1334.5h1.5M496.5 1334.5h1.5M482.5 1314h1.5M498 1298.5h1.5M487 1327.5h1.5M488.5 1309.5h1.5M498 1307h1.5M498 1309.5h1.5M490.5 1318h1.5M485.5 1306.5h1.5M483.5 1324.5h1.5" stroke="#28B428" stroke-width="1.5" fill="none"/>
<rect x="396.00" y="1347.50" width="16.00" height="3.00" fill="#FF0000" opacity="0.5"/>
<text transform="translate(372.56 1099.82) scale(1.018 1)" font-size="13.87" fill="#F0883A">Q1-UL(0.31%)</text>
<text transform="translate(539.83 1099.82) scale(1.020 1)" font-size="13.87" fill="#2A2AE8">Q1-UR(4.65%)</text>
<rect x="372.0" y="1331.5" width="96.5" height="15.0" fill="#fff" opacity="0.55"/>
<text transform="translate(372.33 1342.60) scale(1.005 1)" font-size="13.98" fill="#FF0000">Q1-LL(91.86%)</text>
<text transform="translate(541.83 1342.74) scale(1.032 1)" font-size="13.76" fill="#28B428">Q1-LR(3.18%)</text>
<rect x="368.00" y="1082.40" width="268.00" height="268.10" fill="none" stroke="#2a2a2a" stroke-width="1.5"/>
<line x1="479.00" y1="1082.40" x2="479.00" y2="1350.50" stroke="#222" stroke-width="1.50"/>
<line x1="368.00" y1="1240.80" x2="636.00" y2="1240.80" stroke="#222" stroke-width="1.50"/>
<path d="M361.0 1082.40H368.0M361.0 1132.40H368.0M361.0 1182.10H368.0M361.0 1232.30H368.0M361.0 1281.90H368.0M361.0 1331.80H368.0M361.0 1350.50H368.0M363.5 1117.35H368.0M363.5 1108.54H368.0M363.5 1102.30H368.0M363.5 1097.45H368.0M363.5 1093.49H368.0M363.5 1090.15H368.0M363.5 1087.25H368.0M363.5 1084.69H368.0M363.5 1167.14H368.0M363.5 1158.39H368.0M363.5 1152.18H368.0M363.5 1147.36H368.0M363.5 1143.43H368.0M363.5 1140.10H368.0M363.5 1137.22H368.0M363.5 1134.67H368.0M363.5 1217.19H368.0M363.5 1208.35H368.0M363.5 1202.08H368.0M363.5 1197.21H368.0M363.5 1193.24H368.0M363.5 1189.88H368.0M363.5 1186.96H368.0M363.5 1184.40H368.0M363.5 1266.97H368.0M363.5 1258.23H368.0M363.5 1252.04H368.0M363.5 1247.23H368.0M363.5 1243.30H368.0M363.5 1239.98H368.0M363.5 1237.11H368.0M363.5 1234.57H368.0M363.5 1285.00H368.0M363.5 1287.90H368.0M363.5 1291.25H368.0M363.5 1295.40H368.0M363.5 1300.40H368.0M363.5 1305.80H368.0M363.5 1312.90H368.0M363.5 1321.25H368.0M363.5 1342.60H368.0" stroke="#2a2a2a" stroke-width="1.3" fill="none"/>
<path d="M368.00 1350.5V1357.5M394.30 1350.5V1357.5M430.60 1350.5V1357.5M497.10 1350.5V1357.5M566.60 1350.5V1357.5M635.90 1350.5V1357.5M374.30 1350.5V1354.5M379.30 1350.5V1354.5M384.30 1350.5V1354.5M389.30 1350.5V1354.5M400.90 1350.5V1354.5M405.90 1350.5V1354.5M410.10 1350.5V1354.5M414.30 1350.5V1354.5M418.40 1350.5V1354.5M421.80 1350.5V1354.5M425.10 1350.5V1354.5M427.60 1350.5V1354.5M450.62 1350.5V1354.5M462.33 1350.5V1354.5M470.64 1350.5V1354.5M477.08 1350.5V1354.5M482.35 1350.5V1354.5M486.80 1350.5V1354.5M490.66 1350.5V1354.5M494.06 1350.5V1354.5M518.02 1350.5V1354.5M530.26 1350.5V1354.5M538.94 1350.5V1354.5M545.68 1350.5V1354.5M551.18 1350.5V1354.5M555.83 1350.5V1354.5M559.86 1350.5V1354.5M563.42 1350.5V1354.5M587.46 1350.5V1354.5M599.66 1350.5V1354.5M608.32 1350.5V1354.5M615.04 1350.5V1354.5M620.53 1350.5V1354.5M625.17 1350.5V1354.5M629.18 1350.5V1354.5M632.73 1350.5V1354.5" stroke="#2a2a2a" stroke-width="1.3" fill="none"/>
<text transform="translate(672.57 1066.81)" font-size="25.96" fill="#000">HT22:TNF-α+Z-VAD</text>
<path d="M703.5 1279h1.5M713.5 1280.5h1.5M719 1271h1.5M714.5 1271h1.5M725.5 1281h1.5M700 1290.5h1.5M746.5 1256h1.5M719 1283.5h1.5M707.5 1282.5h1.5M699 1271.5h1.5M716.5 1265.5h1.5M728.5 1279h1.5M755.5 1252.5h1.5M742.5 1263.5h1.5M709.5 1264h1.5M747 1247.5h1.5M749.5 1260.5h1.5M709 1284.5h1.5M712.5 1273h1.5M725 1270h1.5M747 1263.5h1.5M697.5 1293.5h1.5M721 1274h1.5M733 1277h1.5M737.5 1256.5h1.5M721 1270h1.5M695.5 1289.5h1.5M748 1241h1.5M723.5 1272h1.5M725 1263h1.5M694.5 1279h1.5M742.5 1251.5h1.5M724 1290.5h1.5M713 1282h1.5M746 1267h1.5M699 1282h1.5M737 1281h1.5M709 1277h1.5M733.5 1271.5h1.5M732 1259.5h1.5M716 1279h1.5M744 1256.5h1.5M719.5 1266h1.5M756 1252.5h1.5M742 1260.5h1.5M719.5 1261.5h1.5M693 1303.5h1.5M726 1272.5h1.5M699.5 1280h1.5M749 1271.5h1.5M716.5 1283h1.5M726.5 1269h1.5M753 1249h1.5M746.5 1261h1.5M729.5 1281h1.5M728.5 1268h1.5M752 1265h1.5M732 1268.5h1.5M726 1276h1.5M731 1273.5h1.5M725.5 1284.5h1.5M739.5 1267h1.5M737 1274h1.5M740.5 1260h1.5M741.5 1262.5h1.5M760.5 1258h1.5M723 1293.5h1.5M691.5 1299h1.5M720 1291.5h1.5M725 1264.5h1.5M716.5 1270.5h1.5M717.5 1273.5h1.5M712.5 1282h1.5M726.5 1261.5h1.5M697.5 1292h1.5M736 1271h1.5M739.5 1276h1.5M751.5 1278h1.5M687 1296h1.5M732 1266h1.5M734.5 1262.5h1.5M710 1276h1.5M724 1279.5h1.5M714.5 1275.5h1.5M733 1264.5h1.5M739 1254h1.5M706 1286.5h1.5M727 1262h1.5M754.5 1269.5h1.5M719.5 1288h1.5M688.5 1304.5h1.5M713.5 1287.5h1.5M707.5 1282h1.5M709.5 1279.5h1.5M754.5 1251.5h1.5M758 1246.5h1.5M742.5 1245.5h1.5M717 1271.5h1.5M750.5 1256.5h1.5M683.5 1286.5h1.5M711 1289h1.5M736.5 1261.5h1.5M717.5 1282.5h1.5M707 1287h1.5M729 1266h1.5M731 1268.5h1.5M727 1258h1.5M738.5 1272h1.5M732 1272.5h1.5M726 1279h1.5M720.5 1264h1.5M731 1253h1.5M727 1266.5h1.5M717 1278h1.5M714 1283h1.5M722.5 1267.5h1.5M747.5 1258.5h1.5M740.5 1274h1.5M750 1260.5h1.5M713 1266.5h1.5M732 1276.5h1.5M716 1246.5h1.5M742.5 1268.5h1.5M723 1281.5h1.5M731.5 1261h1.5M740 1250h1.5M722.5 1271.5h1.5M711.5 1283h1.5M751 1265.5h1.5M729 1253.5h1.5M702.5 1287.5h1.5M721.5 1269h1.5M756.5 1252h1.5M737 1272.5h1.5M735.5 1287.5h1.5M706 1278.5h1.5M714.5 1292h1.5M735 1260h1.5M715 1290h1.5M736 1277h1.5M725 1276h1.5M726.5 1265h1.5M716.5 1266h1.5M735.5 1271.5h1.5M743.5 1265.5h1.5M728 1283h1.5M744.5 1271h1.5M748 1255.5h1.5M733.5 1272.5h1.5M700 1277.5h1.5M702 1285.5h1.5M712.5 1266.5h1.5M726 1270h1.5M752 1272h1.5M729 1262.5h1.5M735 1265h1.5M716.5 1269h1.5M715.5 1276h1.5M739.5 1266.5h1.5M757.5 1256.5h1.5M730 1265.5h1.5M704.5 1279.5h1.5M702 1263.5h1.5M713.5 1293h1.5M728.5 1265.5h1.5M722.5 1255.5h1.5M734 1277h1.5M714.5 1262h1.5M722.5 1284.5h1.5M722.5 1260.5h1.5M715.5 1268h1.5M705 1280.5h1.5M740 1273h1.5M713.5 1270h1.5M734 1270h1.5M729 1271h1.5M722.5 1274h1.5M725.5 1280.5h1.5M762 1249h1.5M725 1273.5h1.5M716 1284h1.5M729.5 1264.5h1.5M739 1262.5h1.5M709 1285h1.5M732 1275.5h1.5M737.5 1262.5h1.5M716 1277h1.5M732 1271h1.5M728.5 1268h1.5M738 1257h1.5M706 1285.5h1.5M735.5 1261.5h1.5M694.5 1282h1.5M726 1255h1.5M702 1291h1.5M717.5 1270h1.5M709.5 1268h1.5M729 1261.5h1.5M716.5 1280h1.5M717 1270.5h1.5M692 1296h1.5M723 1268h1.5M706.5 1283.5h1.5M732.5 1267.5h1.5M754.5 1258.5h1.5M725 1278h1.5M725 1272h1.5M742 1252h1.5M729.5 1279h1.5M727.5 1266.5h1.5M686 1276.5h1.5M760 1251.5h1.5M715.5 1280.5h1.5M707 1280h1.5M702.5 1273.5h1.5M682 1285h1.5M737 1254.5h1.5M737 1272h1.5M723 1270h1.5M724.5 1268h1.5M752 1270.5h1.5M739.5 1242.5h1.5M716.5 1277h1.5M724.5 1256h1.5M700 1299h1.5M708.5 1268.5h1.5M707 1286.5h1.5M711 1282.5h1.5M700.5 1271.5h1.5M749.5 1259h1.5M716.5 1272.5h1.5M751 1260h1.5M741 1256h1.5M726.5 1274h1.5M714.5 1277.5h1.5M716 1281h1.5M704 1290h1.5M728.5 1267.5h1.5M730 1265h1.5M715 1282.5h1.5M732 1262.5h1.5M713.5 1277.5h1.5M721 1287.5h1.5M729.5 1268.5h1.5M711.5 1287h1.5M711 1274.5h1.5M738.5 1266h1.5M681.5 1298.5h1.5M724.5 1268.5h1.5M719.5 1259h1.5M672.5 1296.5h1.5M715.5 1248.5h1.5M702 1269h1.5M728 1287h1.5M720 1273.5h1.5M738 1263h1.5M724 1280h1.5M733 1268.5h1.5M720.5 1271.5h1.5M738 1260h1.5M740.5 1252h1.5M750 1259.5h1.5M710 1286h1.5M713 1279.5h1.5M715.5 1276.5h1.5M742 1265h1.5M701 1277.5h1.5M730 1271h1.5M719 1289.5h1.5M735 1259h1.5M711 1278.5h1.5M723.5 1283.5h1.5M740.5 1261.5h1.5M738.5 1270h1.5M726.5 1274h1.5M736 1268.5h1.5M708 1276h1.5M716.5 1270.5h1.5M702 1292.5h1.5M724.5 1260h1.5M719 1273.5h1.5M722.5 1263h1.5M703.5 1290h1.5M697.5 1287h1.5M718 1275h1.5M735 1279.5h1.5M701 1295h1.5M687.5 1308h1.5M699.5 1309.5h1.5M722.5 1284.5h1.5M740.5 1257.5h1.5M714.5 1270.5h1.5M735.5 1261h1.5M712.5 1284.5h1.5M707.5 1279.5h1.5M723 1267h1.5M722 1287h1.5M719 1272h1.5M723 1277h1.5M708.5 1286h1.5M721 1258h1.5M760 1261.5h1.5M706 1273.5h1.5M722 1260.5h1.5M745 1254h1.5M748 1249h1.5M727.5 1281h1.5M719.5 1277h1.5M740 1256.5h1.5M697 1276.5h1.5M735.5 1268h1.5M740.5 1258.5h1.5M690.5 1273h1.5M727.5 1272.5h1.5M696.5 1282.5h1.5M756 1257h1.5M706 1272.5h1.5M714 1275.5h1.5M757.5 1248.5h1.5M704 1284.5h1.5M723 1261h1.5M735.5 1275h1.5M723 1265.5h1.5M708.5 1267.5h1.5M723 1275.5h1.5M717 1294h1.5M730 1252h1.5M690.5 1285h1.5M754 1260.5h1.5M751.5 1254.5h1.5M715.5 1266.5h1.5M729 1267h1.5M726.5 1284.5h1.5M727.5 1281.5h1.5M708.5 1306h1.5M720.5 1280.5h1.5M736.5 1259.5h1.5M741.5 1268.5h1.5M709 1275.5h1.5M724.5 1271h1.5M750 1261h1.5M725.5 1276.5h1.5M687 1290.5h1.5M733.5 1276h1.5M733.5 1279h1.5M736.5 1259.5h1.5M723.5 1276h1.5M722.5 1286.5h1.5M706.5 1286h1.5M735 1262h1.5M714.5 1277.5h1.5M735.5 1260h1.5M711 1291h1.5M735 1274h1.5M745.5 1277.5h1.5M739.5 1255.5h1.5M729.5 1263.5h1.5M710.5 1268h1.5M721.5 1278.5h1.5M718.5 1266h1.5M707 1302h1.5M726 1263.5h1.5M740.5 1280.5h1.5M723 1247.5h1.5M716 1267h1.5M712.5 1282h1.5M689 1294h1.5M740 1254h1.5M700 1286.5h1.5M716 1272h1.5M706 1288h1.5M729.5 1259h1.5M709 1283h1.5M708.5 1283.5h1.5M748.5 1255.5h1.5M705 1287.5h1.5M720.5 1273h1.5M735 1271h1.5M724.5 1271h1.5M763.5 1257h1.5M738.5 1263.5h1.5M711.5 1290h1.5M724 1267h1.5M716 1268.5h1.5M744.5 1265h1.5M727 1270h1.5M704 1266h1.5M697.5 1282.5h1.5M710 1283.5h1.5M737 1262.5h1.5M744.5 1251.5h1.5M721.5 1273h1.5M743 1261h1.5M719.5 1260h1.5M713.5 1288.5h1.5M694.5 1303h1.5M729.5 1262h1.5M718 1293h1.5M747 1256h1.5M723.5 1266.5h1.5M723.5 1266.5h1.5M730 1284h1.5M718 1266.5h1.5M701.5 1287.5h1.5M712 1282h1.5M699.5 1294h1.5M706.5 1284h1.5M725.5 1286.5h1.5M735 1282.5h1.5M739 1275h1.5M722 1276.5h1.5M748 1264.5h1.5M731.5 1264h1.5M726 1281h1.5M744 1253.5h1.5M708 1274.5h1.5M734 1257h1.5M740 1266.5h1.5M721 1288h1.5M706.5 1298.5h1.5M721 1255.5h1.5M754.5 1261h1.5M713 1270.5h1.5M707.5 1304.5h1.5M703.5 1274h1.5M722 1259h1.5M711.5 1289h1.5M730 1264.5h1.5M722.5 1269h1.5M720 1268h1.5M712 1274.5h1.5M716 1286.5h1.5M733 1257.5h1.5M703.5 1284h1.5M756 1242h1.5M721.5 1274.5h1.5M720.5 1270.5h1.5M745 1262.5h1.5M740.5 1266.5h1.5M745.5 1272h1.5M756 1272h1.5M741.5 1254.5h1.5M741 1267h1.5M752.5 1245h1.5M730.5 1261.5h1.5M731.5 1265h1.5M726.5 1258h1.5M738 1264.5h1.5M734.5 1282.5h1.5M719 1278.5h1.5M726.5 1272h1.5M761.5 1248h1.5M722 1290h1.5M712.5 1265.5h1.5M706.5 1272h1.5M692.5 1289.5h1.5M727.5 1280h1.5M737 1269h1.5M712.5 1287.5h1.5M749 1259.5h1.5M726 1259.5h1.5M749 1271.5h1.5M727 1264.5h1.5M719.5 1271h1.5M720.5 1280h1.5M733 1275.5h1.5M726.5 1262.5h1.5M713.5 1274h1.5M728 1285.5h1.5M760 1256h1.5M720.5 1262h1.5M724.5 1264.5h1.5M745 1244h1.5M727 1262.5h1.5M726.5 1276.5h1.5M741 1260.5h1.5M734 1259.5h1.5M732 1275.5h1.5M727.5 1265h1.5M723.5 1281.5h1.5M702 1278h1.5M732.5 1262.5h1.5M705 1296.5h1.5M704.5 1282.5h1.5M712.5 1277h1.5M712 1286h1.5M730 1277h1.5M722.5 1292h1.5M685.5 1283h1.5M755.5 1256h1.5M731.5 1271h1.5M735 1267.5h1.5M711 1287.5h1.5M741 1274h1.5M755 1255h1.5M710.5 1296.5h1.5M708.5 1285h1.5M718 1272h1.5M738 1265h1.5M729.5 1261.5h1.5M718 1269h1.5M720 1273.5h1.5M754 1250.5h1.5M694 1304h1.5M731 1266.5h1.5M713 1271h1.5M756.5 1251h1.5M696 1293h1.5M745 1260h1.5M705 1275.5h1.5M715 1291.5h1.5M716 1262h1.5M731 1268.5h1.5M712.5 1270.5h1.5M710.5 1290.5h1.5M730 1272.5h1.5M729.5 1271.5h1.5M715.5 1276h1.5M749.5 1268h1.5M702.5 1284h1.5M746 1274.5h1.5M750.5 1247.5h1.5M745.5 1258.5h1.5M744.5 1265.5h1.5M705 1289h1.5M741 1261h1.5M713.5 1265h1.5M736.5 1266h1.5M707 1280h1.5M724.5 1267h1.5M717 1261h1.5M746.5 1257.5h1.5M695.5 1268.5h1.5M743.5 1264.5h1.5M731 1275h1.5M739 1264h1.5M718 1272h1.5M737 1276h1.5M728.5 1282.5h1.5M732 1270.5h1.5M749 1248.5h1.5M760.5 1247.5h1.5M711.5 1261h1.5M725 1261.5h1.5M726 1260h1.5M756.5 1256h1.5M742.5 1244h1.5M725 1266h1.5M714.5 1273.5h1.5M703.5 1274h1.5M717 1277.5h1.5M744.5 1261h1.5M737.5 1250h1.5M719.5 1281h1.5M726 1263h1.5M737.5 1258.5h1.5M713 1283.5h1.5M722 1268.5h1.5M710.5 1271.5h1.5M722 1283h1.5M732 1275.5h1.5M730 1262.5h1.5M692.5 1284h1.5M709.5 1274.5h1.5M744.5 1267.5h1.5M758 1243h1.5M757.5 1264.5h1.5M722 1277.5h1.5M744.5 1258h1.5M719 1269.5h1.5M684.5 1298h1.5M707.5 1273h1.5M725 1258.5h1.5M739.5 1266.5h1.5M717 1276h1.5M707 1289.5h1.5M728 1271.5h1.5M730 1262.5h1.5M702.5 1294.5h1.5M733.5 1261h1.5M736 1275.5h1.5M741 1256h1.5M693.5 1280h1.5M724.5 1284.5h1.5M709.5 1276h1.5M711.5 1275.5h1.5M718.5 1264h1.5M741.5 1259.5h1.5M756.5 1263.5h1.5M715.5 1274h1.5M705 1276.5h1.5M724 1272h1.5M706.5 1304h1.5M720 1275h1.5M712.5 1277h1.5M718 1276h1.5M727 1277h1.5M730.5 1274h1.5M725 1273.5h1.5M724 1281h1.5M729 1267.5h1.5M720.5 1273.5h1.5M724.5 1271.5h1.5M718 1283h1.5M745 1274h1.5M716.5 1283h1.5M695.5 1298h1.5M695.5 1281.5h1.5M727 1264.5h1.5M709.5 1277h1.5M732.5 1258h1.5M721.5 1270h1.5M741 1268.5h1.5M697.5 1298.5h1.5M714.5 1280h1.5M710 1284.5h1.5M715.5 1275.5h1.5M705.5 1297h1.5M725 1262h1.5M707 1283h1.5M735 1254.5h1.5M742.5 1259.5h1.5M706.5 1279h1.5M747.5 1244h1.5M715.5 1286h1.5M724.5 1264.5h1.5M744.5 1268h1.5M727 1264.5h1.5M717.5 1279h1.5M707.5 1294.5h1.5M751.5 1252h1.5M735 1275.5h1.5M763 1260.5h1.5M693.5 1289h1.5M730.5 1263.5h1.5M760.5 1263h1.5M709.5 1280h1.5M710.5 1279h1.5M724 1280.5h1.5M698.5 1265h1.5M693 1283h1.5M714 1280.5h1.5M701 1276h1.5M704 1275h1.5M712.5 1274.5h1.5M731.5 1258.5h1.5M716 1272.5h1.5M737 1262h1.5M737 1253.5h1.5M721 1269h1.5M703 1285h1.5M749.5 1248h1.5M716.5 1265h1.5M696.5 1283h1.5M715 1274.5h1.5M713.5 1264h1.5M715.5 1282h1.5M700 1284.5h1.5M725.5 1264h1.5M723.5 1258.5h1.5M740.5 1264.5h1.5M729.5 1278.5h1.5M716 1271.5h1.5M754.5 1268.5h1.5M712 1279h1.5M741 1260h1.5M737 1270.5h1.5M716.5 1281h1.5M719 1264.5h1.5M704.5 1278.5h1.5M743.5 1268h1.5M738.5 1266.5h1.5M732 1269h1.5M733 1270.5h1.5M697 1282.5h1.5M711.5 1290h1.5M750.5 1255.5h1.5M743 1264h1.5M749 1257.5h1.5M700.5 1286h1.5M732 1265h1.5M735 1264.5h1.5M709.5 1271.5h1.5M718.5 1277.5h1.5M688 1288.5h1.5M688 1290h1.5M739 1251.5h1.5M747.5 1282.5h1.5M749 1257h1.5M733 1254h1.5M697.5 1289.5h1.5M735 1274.5h1.5M715 1279.5h1.5M726 1269.5h1.5M719.5 1267.5h1.5M729.5 1270h1.5M719.5 1281h1.5M744 1265h1.5M707 1284h1.5M709 1282.5h1.5M714 1290h1.5M742 1270.5h1.5M740.5 1259h1.5M724 1287.5h1.5M715.5 1265.5h1.5M741.5 1262h1.5M750.5 1257h1.5M730 1282h1.5M696 1285h1.5M700 1268h1.5M736.5 1259h1.5M741 1264.5h1.5M732.5 1262.5h1.5M711.5 1281h1.5M739 1261.5h1.5M707.5 1272h1.5M725 1266.5h1.5M722 1271.5h1.5M717.5 1278.5h1.5M741.5 1278.5h1.5M743 1274h1.5M703.5 1271h1.5M727.5 1277.5h1.5M740.5 1272h1.5M686.5 1307.5h1.5M723.5 1258.5h1.5M737 1265h1.5M734.5 1274h1.5M725 1258h1.5M715 1263.5h1.5M740.5 1273.5h1.5M700.5 1281.5h1.5M707.5 1279h1.5M729 1264.5h1.5M739.5 1271.5h1.5M738 1253h1.5M753 1266h1.5M749.5 1254h1.5M707.5 1274h1.5M705.5 1284h1.5M743.5 1271h1.5M715.5 1277h1.5M719.5 1269h1.5M738 1266.5h1.5M728 1272.5h1.5M737 1269h1.5M713.5 1287h1.5M726.5 1266.5h1.5M729.5 1271.5h1.5M738 1253.5h1.5M746.5 1257.5h1.5M713.5 1274h1.5M700 1272h1.5M743.5 1277h1.5M693 1283.5h1.5M736.5 1263.5h1.5M737.5 1262.5h1.5M713.5 1277h1.5M679.5 1291h1.5M745 1269h1.5M749.5 1259.5h1.5M683.5 1292.5h1.5M753 1268h1.5M746 1255.5h1.5M702 1286h1.5M730.5 1281.5h1.5M728 1269.5h1.5M727 1273.5h1.5M731.5 1260.5h1.5M712 1292h1.5M703 1300h1.5M689.5 1289h1.5M740.5 1261.5h1.5M703.5 1289h1.5M724 1270h1.5M713.5 1278.5h1.5M724 1293.5h1.5M718.5 1272.5h1.5M722 1289h1.5M698 1292h1.5M714 1265.5h1.5M711.5 1283h1.5M710.5 1283h1.5M753.5 1254h1.5M696 1282.5h1.5M718 1273h1.5M728 1272.5h1.5M753 1253h1.5M709.5 1292h1.5M746 1259.5h1.5M722.5 1278.5h1.5M712 1261.5h1.5M737 1271.5h1.5M745 1251.5h1.5M729 1271h1.5M726 1272h1.5M725.5 1273h1.5M741.5 1271.5h1.5M710.5 1279h1.5M714.5 1273h1.5M697 1290h1.5M731.5 1266h1.5M725.5 1274.5h1.5M746 1254h1.5M704 1284h1.5M751 1244h1.5M739.5 1272h1.5M686 1300.5h1.5M733 1263.5h1.5M710.5 1275.5h1.5M717.5 1273.5h1.5M714.5 1275h1.5M739 1251.5h1.5M699.5 1298.5h1.5M719 1271.5h1.5M723 1274.5h1.5M717.5 1281h1.5M706.5 1280.5h1.5M691.5 1303.5h1.5M724 1278h1.5M734 1270.5h1.5M725.5 1274.5h1.5M703 1275h1.5M719.5 1269h1.5M749.5 1259h1.5M711 1278h1.5M726 1270h1.5M729 1269.5h1.5M692 1273.5h1.5M720 1279.5h1.5M723 1283.5h1.5M729 1281h1.5M747.5 1266h1.5M704 1285h1.5M745.5 1260.5h1.5M727.5 1257h1.5M753 1246h1.5M689 1291.5h1.5M678.5 1292h1.5M700 1287.5h1.5M712.5 1287h1.5M710 1283.5h1.5M715.5 1301h1.5M732 1265.5h1.5M717 1271.5h1.5M708 1275.5h1.5M750 1250h1.5M683.5 1288h1.5M738.5 1260.5h1.5M726.5 1281h1.5M713.5 1284.5h1.5M715 1283h1.5M716.5 1274.5h1.5M741 1268h1.5M719.5 1271h1.5M753 1258.5h1.5M715 1272h1.5M741.5 1261.5h1.5M721.5 1274.5h1.5M729.5 1268h1.5M749.5 1267h1.5M738.5 1275h1.5M727 1276h1.5M745 1267.5h1.5M742 1266h1.5M754.5 1247.5h1.5M720.5 1272.5h1.5M709.5 1263.5h1.5M743 1250.5h1.5M721 1261h1.5M731 1260.5h1.5M705.5 1285.5h1.5M710 1276h1.5M730 1275h1.5M706 1274.5h1.5M726.5 1275h1.5M744 1249.5h1.5M723.5 1283h1.5M753 1244.5h1.5M713 1282.5h1.5M711 1273.5h1.5M734.5 1279h1.5M708 1295.5h1.5M716 1280.5h1.5M752 1256.5h1.5M722 1280h1.5M723 1277h1.5M724 1279.5h1.5M696.5 1281h1.5M700 1287h1.5M695.5 1284.5h1.5M711.5 1293.5h1.5M702 1274.5h1.5M735 1280h1.5M722 1273h1.5M749 1263.5h1.5M729 1263.5h1.5M726 1258.5h1.5M719.5 1288h1.5M747.5 1260.5h1.5M686.5 1285.5h1.5M712 1278.5h1.5M702 1284h1.5M755.5 1255.5h1.5M723.5 1263h1.5M691.5 1282h1.5M696 1291h1.5M726.5 1261.5h1.5M732.5 1279.5h1.5M760 1255.5h1.5M724 1278.5h1.5M738.5 1244.5h1.5M746.5 1252.5h1.5M713.5 1275.5h1.5M725 1261.5h1.5M721.5 1278.5h1.5M729 1272h1.5M721.5 1280h1.5M746 1267h1.5M735 1273h1.5M749.5 1279.5h1.5M744 1258h1.5M707.5 1280.5h1.5M720.5 1279h1.5M717 1287h1.5M694 1277h1.5M718.5 1268h1.5M700.5 1281.5h1.5M711.5 1280.5h1.5M711.5 1275.5h1.5M728 1278.5h1.5M749.5 1257h1.5M727 1268.5h1.5M733.5 1269h1.5M738.5 1245.5h1.5M721.5 1276.5h1.5M719.5 1266.5h1.5M705.5 1291h1.5M704 1269h1.5M740 1265.5h1.5M718.5 1267.5h1.5M727 1281h1.5M690.5 1280h1.5M713.5 1278.5h1.5M718.5 1281.5h1.5M743.5 1262h1.5M734.5 1267.5h1.5M719 1264h1.5M701 1274.5h1.5M722.5 1275h1.5M700 1288h1.5M705 1275h1.5M709 1272h1.5M733.5 1264.5h1.5M736 1260.5h1.5M725 1288h1.5M702 1298h1.5M755 1259h1.5M724.5 1284.5h1.5M715.5 1271h1.5M715 1272.5h1.5M712.5 1289.5h1.5M711 1280h1.5M700 1288h1.5M700 1277h1.5M726.5 1280h1.5M733.5 1270.5h1.5M720.5 1271.5h1.5M735 1260h1.5M743 1270.5h1.5M707 1277h1.5M709 1268.5h1.5M721.5 1285.5h1.5M712 1291.5h1.5M725.5 1290h1.5M712 1278.5h1.5M706 1277.5h1.5M748.5 1260.5h1.5M736 1252.5h1.5M731 1259h1.5M702.5 1288h1.5M728 1270h1.5M739.5 1269.5h1.5M744 1248.5h1.5M757 1267.5h1.5M711 1265.5h1.5M699 1284h1.5M758 1250h1.5M711 1274.5h1.5M705.5 1292h1.5M731 1286h1.5M738 1270.5h1.5M715.5 1268h1.5M704 1273h1.5M737.5 1259.5h1.5M740.5 1262.5h1.5M714.5 1268h1.5M728 1267.5h1.5M736 1257.5h1.5M741 1275.5h1.5M732 1274h1.5M741.5 1277.5h1.5M733 1272.5h1.5M720 1267.5h1.5M709 1293h1.5M710 1287.5h1.5M734.5 1273h1.5M712 1272.5h1.5M729 1266h1.5M711.5 1297.5h1.5M706.5 1274.5h1.5M725 1282.5h1.5M692.5 1303h1.5M710 1283.5h1.5M721 1292h1.5M723 1266h1.5M719.5 1276h1.5M729 1273h1.5M718.5 1263.5h1.5M721 1279.5h1.5M715.5 1283.5h1.5M723.5 1270.5h1.5M737 1248h1.5M717.5 1287h1.5M726.5 1274.5h1.5M743 1271h1.5M733 1274.5h1.5M734 1270.5h1.5M707.5 1280h1.5M710.5 1270h1.5M694.5 1287.5h1.5M720 1275.5h1.5M734 1267h1.5M716 1269h1.5M738.5 1262h1.5M716 1275.5h1.5M709.5 1276.5h1.5M713.5 1276.5h1.5M736.5 1267.5h1.5M755 1263h1.5M759 1254h1.5M731 1263h1.5M735 1259h1.5M705.5 1297.5h1.5M705 1288.5h1.5M714 1288.5h1.5M747.5 1261.5h1.5M745 1258.5h1.5M709 1282h1.5M720.5 1272h1.5M698 1292.5h1.5M690.5 1271h1.5M715 1271h1.5M697 1262h1.5M709 1280h1.5M715 1281.5h1.5M749.5 1260h1.5M745.5 1268h1.5M708.5 1286h1.5M739 1258.5h1.5M713 1284h1.5M694.5 1281.5h1.5M714.5 1282h1.5M732 1276h1.5M704.5 1276h1.5M729.5 1261.5h1.5M706.5 1267h1.5M735 1278.5h1.5M711 1289.5h1.5M716 1261.5h1.5M705 1275.5h1.5M720.5 1278h1.5M749 1243h1.5M712 1271.5h1.5M703 1286.5h1.5M716.5 1260.5h1.5M719.5 1264h1.5M729.5 1280h1.5M732.5 1268h1.5M715.5 1278h1.5M735.5 1269h1.5M723 1274.5h1.5M699 1281.5h1.5M739.5 1269.5h1.5M731.5 1280.5h1.5M731.5 1265h1.5M709.5 1294.5h1.5M744.5 1275h1.5M691 1268h1.5M742 1266h1.5M720.5 1263h1.5M723.5 1274h1.5M738 1265h1.5M734.5 1264h1.5M746.5 1263h1.5M710 1293.5h1.5M746.5 1261.5h1.5M735.5 1279.5h1.5M701.5 1297.5h1.5M720.5 1284h1.5M721 1263h1.5M720 1284h1.5M718 1270.5h1.5M716 1283h1.5M732 1263h1.5M724.5 1273h1.5M703 1278.5h1.5M737.5 1249.5h1.5M730 1265h1.5M716 1295h1.5M703.5 1275.5h1.5M717.5 1269h1.5M724.5 1273h1.5M727.5 1268.5h1.5M715 1283.5h1.5M720 1270h1.5M748.5 1255h1.5M747.5 1268h1.5M748.5 1262.5h1.5M723.5 1271.5h1.5M711 1261h1.5M737 1265.5h1.5M737.5 1262.5h1.5M729.5 1256h1.5M694.5 1269h1.5M718.5 1268.5h1.5M710 1284h1.5M711 1267.5h1.5M703 1279.5h1.5M720.5 1273h1.5M745.5 1257.5h1.5M753.5 1249h1.5M735.5 1274h1.5M749.5 1267h1.5M719.5 1275h1.5M681.5 1298h1.5M746 1266h1.5M729.5 1283.5h1.5M714.5 1271.5h1.5M711.5 1270h1.5M735.5 1267h1.5M732.5 1262.5h1.5M714 1259h1.5M730.5 1268.5h1.5M705 1283.5h1.5M727 1286h1.5M707.5 1285.5h1.5M703.5 1280.5h1.5M728 1267.5h1.5M725.5 1274h1.5M719.5 1283h1.5M718.5 1274.5h1.5M731 1269.5h1.5M736 1267h1.5M730.5 1265h1.5M700 1274.5h1.5M703 1301.5h1.5M692 1303.5h1.5M715 1288.5h1.5M686 1294.5h1.5M751.5 1260.5h1.5M710.5 1263.5h1.5M707.5 1295h1.5M718 1275.5h1.5M723.5 1260.5h1.5M729 1265h1.5M726.5 1265h1.5M696 1286.5h1.5M736.5 1267.5h1.5M728 1277.5h1.5M721 1274.5h1.5M720 1283h1.5M726.5 1265.5h1.5M703.5 1295h1.5M712 1280.5h1.5M749 1251h1.5M742 1260.5h1.5M738.5 1280.5h1.5M719.5 1275h1.5M712.5 1287.5h1.5M719 1284.5h1.5M698.5 1293.5h1.5M716 1283.5h1.5M721.5 1269h1.5M714 1271h1.5M734 1256.5h1.5M721 1277h1.5M751 1254.5h1.5M721 1276.5h1.5M684.5 1287h1.5M715 1271.5h1.5M700.5 1295h1.5M729 1270h1.5M712.5 1280h1.5M731.5 1264.5h1.5M728 1262h1.5M730.5 1278h1.5M750 1267h1.5M729 1269h1.5M709 1265.5h1.5M701 1285.5h1.5M728 1282h1.5M743 1253.5h1.5M736 1260h1.5M738.5 1269.5h1.5M743 1255.5h1.5M733.5 1249h1.5M745.5 1257.5h1.5M715.5 1259h1.5M723 1285h1.5M720 1281h1.5M729 1278.5h1.5M723.5 1264h1.5M731.5 1281.5h1.5M732 1266h1.5M739 1265h1.5M739.5 1269h1.5M689 1298.5h1.5M719.5 1270.5h1.5M714.5 1264.5h1.5M699 1299.5h1.5M722 1252h1.5M718 1284h1.5M724.5 1283h1.5M736 1252h1.5M720 1270.5h1.5M695 1278h1.5M708 1276.5h1.5M733 1275.5h1.5M735.5 1271h1.5M722 1278.5h1.5M719.5 1271h1.5M694 1295h1.5M713.5 1266h1.5M702.5 1277.5h1.5M744 1270h1.5M745 1244h1.5M695 1278h1.5M747.5 1260.5h1.5M726.5 1272.5h1.5M718.5 1265.5h1.5M732 1265h1.5M706 1288.5h1.5M718 1278h1.5M725.5 1279h1.5M724 1264h1.5M731 1270.5h1.5M737 1273h1.5M716.5 1283h1.5M694.5 1290h1.5M725.5 1284h1.5M724 1277.5h1.5M693 1289h1.5M720 1297h1.5M713 1279.5h1.5M719.5 1260.5h1.5M717 1280.5h1.5M716 1256.5h1.5M718.5 1284.5h1.5M739 1273.5h1.5M712.5 1291h1.5M730 1282.5h1.5M715.5 1259h1.5M736.5 1260h1.5M712 1267h1.5M749 1251h1.5M748.5 1252h1.5M714 1290.5h1.5M722.5 1272.5h1.5M700.5 1283h1.5M726 1259h1.5M713 1275h1.5M731 1280.5h1.5M716 1271h1.5M719.5 1272h1.5M719.5 1275.5h1.5M741 1264.5h1.5M746.5 1267h1.5M729 1272h1.5M738 1253h1.5M764 1241.5h1.5M713 1268h1.5M708 1291h1.5M760 1243.5h1.5M730.5 1269.5h1.5M750 1275h1.5M748.5 1254h1.5M735.5 1270h1.5M719 1265.5h1.5M715.5 1288h1.5M744 1257h1.5M733.5 1276.5h1.5M693.5 1288h1.5M759 1252h1.5M705.5 1285h1.5M730.5 1245h1.5M725.5 1267.5h1.5M697 1290.5h1.5M721.5 1273.5h1.5M714 1269.5h1.5M697 1283.5h1.5M739.5 1264h1.5M718.5 1266h1.5M720.5 1280.5h1.5M730.5 1263.5h1.5M677.5 1296h1.5M712 1271.5h1.5M720.5 1281.5h1.5M727.5 1278.5h1.5M697.5 1286.5h1.5M689.5 1290.5h1.5M711.5 1291.5h1.5M735 1274h1.5M712.5 1270.5h1.5M707.5 1285h1.5M756 1255h1.5M717 1275h1.5M732 1285h1.5M746 1260h1.5M727 1272.5h1.5M730.5 1264h1.5M714 1287.5h1.5M728 1277.5h1.5M753.5 1257.5h1.5M743 1288h1.5M723 1263h1.5M725.5 1285h1.5M699 1281.5h1.5M741.5 1258h1.5M726.5 1280h1.5M706 1270.5h1.5M703 1291h1.5M725.5 1265h1.5M703.5 1283h1.5M739.5 1254.5h1.5M708 1271.5h1.5M719 1278h1.5M760.5 1250.5h1.5M726.5 1278h1.5M733.5 1261h1.5M762.5 1247h1.5M730 1273h1.5M736 1278h1.5M717.5 1283.5h1.5M731 1276.5h1.5M719 1272h1.5M737.5 1266.5h1.5M715.5 1289.5h1.5M736 1263.5h1.5M717.5 1279.5h1.5M728.5 1255h1.5M733 1272h1.5M685.5 1299h1.5M738 1268h1.5M736 1261h1.5M699 1272h1.5M745 1264.5h1.5M740.5 1254.5h1.5M731.5 1254h1.5M710 1282.5h1.5M742 1275.5h1.5M716.5 1269h1.5M706 1277.5h1.5M741.5 1258.5h1.5M727 1276.5h1.5M714.5 1275.5h1.5M711 1276.5h1.5M721.5 1266.5h1.5M730 1270.5h1.5M717.5 1268.5h1.5M723.5 1267.5h1.5M729.5 1278.5h1.5M712 1299.5h1.5M724.5 1275.5h1.5M716 1287.5h1.5M720.5 1271h1.5M713 1276.5h1.5M731.5 1268.5h1.5M720.5 1268h1.5M709 1277.5h1.5M734.5 1271h1.5M737.5 1263.5h1.5M729.5 1267h1.5M694 1289.5h1.5M713.5 1269.5h1.5M715 1279h1.5M702 1280h1.5M743.5 1245h1.5M716 1266.5h1.5M710.5 1279h1.5M710 1286.5h1.5M750 1262.5h1.5M735.5 1252h1.5M722 1277.5h1.5M746 1273.5h1.5M745.5 1266h1.5M720 1276.5h1.5M709 1282.5h1.5M693 1287.5h1.5M726 1279h1.5M738.5 1254h1.5M759.5 1250.5h1.5M721.5 1259h1.5M718 1285.5h1.5M727.5 1271h1.5M722 1260.5h1.5M728 1282h1.5M741.5 1259.5h1.5M745 1247h1.5M715.5 1294.5h1.5M732.5 1264h1.5M720 1267.5h1.5M729.5 1270h1.5M719.5 1264.5h1.5M726.5 1266h1.5M712.5 1290.5h1.5M734 1263h1.5M724.5 1275.5h1.5M722.5 1285h1.5M688.5 1292.5h1.5M734 1258h1.5M722.5 1278.5h1.5M744 1247.5h1.5M697 1281h1.5M692 1279.5h1.5M712.5 1290.5h1.5M719 1275.5h1.5M710.5 1286.5h1.5M752 1246h1.5M754.5 1255.5h1.5M726 1274.5h1.5M738 1279.5h1.5M735 1269.5h1.5M720.5 1282h1.5M708.5 1283h1.5M729 1271h1.5M719.5 1273h1.5M724.5 1269.5h1.5M725.5 1266.5h1.5M757 1248.5h1.5M731 1261.5h1.5M742.5 1266.5h1.5M727 1261h1.5M718.5 1291h1.5M714 1284.5h1.5M712.5 1288.5h1.5M708.5 1273.5h1.5M710 1276.5h1.5M731 1268h1.5M705.5 1284h1.5M707.5 1288.5h1.5M738 1263h1.5M735.5 1280h1.5M717.5 1268h1.5M729 1258.5h1.5M718 1270.5h1.5M711 1278h1.5M743.5 1269h1.5M741 1264h1.5M710 1260h1.5M721 1253.5h1.5M691 1292h1.5M726.5 1266.5h1.5M751.5 1258h1.5M725.5 1283.5h1.5M752.5 1258h1.5M708.5 1277h1.5M699.5 1287.5h1.5M705 1281.5h1.5M720.5 1256.5h1.5M700.5 1282.5h1.5M721 1269.5h1.5M716.5 1270.5h1.5M697.5 1284.5h1.5M719 1272.5h1.5M727.5 1273.5h1.5M733 1260.5h1.5M703 1297h1.5M726.5 1262h1.5M733 1275.5h1.5M754 1254.5h1.5M737 1253h1.5M722 1270.5h1.5M736.5 1278.5h1.5M724.5 1263.5h1.5M709.5 1296h1.5M734.5 1269h1.5M719.5 1277.5h1.5M709 1285h1.5M703 1282.5h1.5M700 1258.5h1.5M714.5 1270h1.5M720.5 1274.5h1.5M755 1254.5h1.5M731.5 1271.5h1.5M740.5 1265.5h1.5M731.5 1273.5h1.5M692 1311.5h1.5M751.5 1256h1.5M705 1295h1.5M714.5 1283h1.5M711.5 1300h1.5M700 1288h1.5M688 1295h1.5M721.5 1284h1.5M721.5 1284h1.5M705.5 1281.5h1.5M721.5 1278h1.5M733 1272.5h1.5M731 1273.5h1.5M710.5 1284h1.5M744 1244h1.5M735 1271h1.5M751.5 1260.5h1.5M727.5 1273.5h1.5M710 1277.5h1.5M707.5 1296h1.5M728 1261.5h1.5M733.5 1276.5h1.5M737 1255.5h1.5M673 1308.5h1.5M711.5 1285.5h1.5M744.5 1268.5h1.5M758.5 1261h1.5M759 1261.5h1.5M748.5 1256h1.5M712.5 1301.5h1.5M730 1279h1.5M718.5 1284h1.5M681.5 1296h1.5M724 1276h1.5M737.5 1253.5h1.5M740 1272.5h1.5M711 1269h1.5M757.5 1256.5h1.5M717 1262h1.5M711 1286h1.5M722 1256h1.5M728 1255h1.5M747.5 1258.5h1.5M720.5 1283.5h1.5M735.5 1276.5h1.5M726 1272h1.5M720.5 1277h1.5M750.5 1250.5h1.5M731.5 1259.5h1.5M690 1296h1.5M730 1267.5h1.5M700 1290h1.5M725 1263.5h1.5M700.5 1285h1.5M736.5 1267.5h1.5M710 1282.5h1.5M734 1255h1.5M730.5 1279.5h1.5M707.5 1293h1.5M750.5 1253h1.5M722.5 1282h1.5M711.5 1259h1.5M724.5 1276h1.5M733 1258.5h1.5M723.5 1281h1.5M716.5 1263h1.5M744 1257h1.5M736.5 1251.5h1.5M724 1276.5h1.5M717.5 1265.5h1.5M690 1307.5h1.5M733 1276.5h1.5M742 1265.5h1.5M720.5 1278.5h1.5M748.5 1257h1.5M750 1242h1.5M701 1295.5h1.5M718.5 1294h1.5M753 1267.5h1.5M735 1256.5h1.5M702.5 1299.5h1.5M705.5 1298.5h1.5M735 1264h1.5M733.5 1270h1.5M726.5 1283h1.5M748 1258h1.5M719.5 1287h1.5M692 1297h1.5M733 1258.5h1.5M740 1261h1.5M719 1284h1.5M709.5 1289.5h1.5M692 1295.5h1.5M722.5 1268h1.5M730 1267.5h1.5M744 1264h1.5M733 1269h1.5M715 1275h1.5M727.5 1268h1.5M743 1260.5h1.5M724.5 1259h1.5M737.5 1258h1.5M713 1293.5h1.5M739.5 1270.5h1.5M731 1266.5h1.5M722.5 1280h1.5M742.5 1259h1.5M758 1248h1.5M693.5 1276.5h1.5M694 1288h1.5M723 1279h1.5M727 1277.5h1.5M725 1271.5h1.5M720 1287h1.5M699.5 1290.5h1.5M724 1279h1.5M723.5 1272.5h1.5M725 1283.5h1.5M732 1284.5h1.5M728.5 1269h1.5M724 1277h1.5M714.5 1279.5h1.5M725.5 1274h1.5M731.5 1270.5h1.5M732 1281h1.5M741.5 1284h1.5M729 1277.5h1.5M717.5 1288.5h1.5M714 1282.5h1.5M721.5 1277.5h1.5M717 1269.5h1.5M725.5 1284.5h1.5M726.5 1259h1.5M738.5 1254.5h1.5M738.5 1267.5h1.5M742 1277h1.5M712.5 1285h1.5M742.5 1254h1.5M710.5 1278.5h1.5M723.5 1259.5h1.5M727.5 1257h1.5M748 1261h1.5M759 1255.5h1.5M715.5 1270.5h1.5M728 1269h1.5M740 1253h1.5M763 1258h1.5M728 1285.5h1.5M711.5 1282h1.5M710 1297.5h1.5M690.5 1281h1.5M719 1287h1.5M740.5 1262.5h1.5M740.5 1260h1.5M738 1278h1.5M716.5 1270h1.5M735 1271.5h1.5M730 1277h1.5M721 1275h1.5M731.5 1269.5h1.5M752.5 1257h1.5M721 1278.5h1.5M744 1266h1.5M730 1254.5h1.5M687.5 1307h1.5M731.5 1267h1.5M743.5 1276.5h1.5M751.5 1262.5h1.5M706 1277h1.5M686.5 1302h1.5M747.5 1267.5h1.5M734.5 1263.5h1.5M711 1273h1.5M717.5 1267.5h1.5M748 1244.5h1.5M713 1262h1.5M729 1269h1.5M714 1270h1.5M722 1268.5h1.5M729.5 1286h1.5M729 1273.5h1.5M713 1272h1.5M734 1288h1.5M720.5 1277.5h1.5M699 1263.5h1.5M720.5 1295.5h1.5M740.5 1276h1.5M708.5 1261h1.5M707 1286.5h1.5M728 1269.5h1.5M719 1283.5h1.5M717 1279.5h1.5M726 1267.5h1.5M707.5 1279h1.5M760 1258.5h1.5M738 1256h1.5M704.5 1294.5h1.5M739.5 1263h1.5M712 1267h1.5M743.5 1270h1.5M709.5 1274.5h1.5M742 1254.5h1.5M753.5 1252h1.5M717.5 1276.5h1.5M722 1283.5h1.5M743.5 1269h1.5M725 1267h1.5M722 1269.5h1.5M752.5 1262.5h1.5M718.5 1267h1.5M750.5 1256h1.5M728 1283h1.5M714 1275.5h1.5M715 1266h1.5M726 1264h1.5M711.5 1274h1.5M710.5 1273h1.5M727.5 1268.5h1.5M734.5 1286.5h1.5M724 1277.5h1.5M736 1264h1.5M728.5 1269h1.5M725 1266h1.5M716 1277.5h1.5M697 1303h1.5M761 1249.5h1.5M739.5 1271.5h1.5M705.5 1292.5h1.5M726 1291h1.5M724.5 1280h1.5M730 1288h1.5M720 1285h1.5M736 1267.5h1.5M725 1265.5h1.5M685 1307h1.5M720.5 1284.5h1.5M735 1275.5h1.5M727.5 1248h1.5M733 1263h1.5M746 1263h1.5M733 1263.5h1.5M707 1279h1.5M691.5 1288h1.5M693.5 1279h1.5M728 1274h1.5M721.5 1269h1.5M707 1280.5h1.5M710 1280.5h1.5M701.5 1293h1.5M716 1280.5h1.5M740 1264.5h1.5M729 1250.5h1.5M720 1284.5h1.5M740 1278h1.5M754 1255.5h1.5M716 1268.5h1.5M714.5 1274.5h1.5M710.5 1272.5h1.5M737.5 1278.5h1.5M738.5 1260h1.5M742.5 1263h1.5M723 1272h1.5M723.5 1278.5h1.5M723.5 1266h1.5M712 1282.5h1.5M730 1265.5h1.5M710 1292h1.5M733.5 1248h1.5M745.5 1256h1.5M732 1277h1.5M756 1260.5h1.5M722.5 1260.5h1.5M693.5 1299.5h1.5M743 1252.5h1.5M717 1271.5h1.5M718.5 1285h1.5M726.5 1268h1.5M729 1259.5h1.5M722 1274.5h1.5M737 1261h1.5M716.5 1274h1.5M708.5 1287.5h1.5M730.5 1271.5h1.5M722 1271.5h1.5M748 1265.5h1.5M749.5 1259h1.5M745 1254.5h1.5M725.5 1281.5h1.5M737 1261h1.5M705.5 1282h1.5M719.5 1290.5h1.5M733.5 1259h1.5M703.5 1278.5h1.5M714 1277h1.5M738.5 1254h1.5M758.5 1241h1.5M707.5 1298h1.5M745.5 1256.5h1.5M732 1270.5h1.5M721 1262.5h1.5M679 1293.5h1.5M762 1264h1.5M715.5 1269h1.5M730.5 1271.5h1.5M724 1249.5h1.5M717.5 1269.5h1.5M742.5 1264.5h1.5M727.5 1274h1.5M724 1276h1.5M737.5 1266h1.5M734.5 1277.5h1.5M694 1284.5h1.5M721.5 1267h1.5M722.5 1284.5h1.5M714 1262h1.5M717 1277h1.5M727 1275h1.5M731.5 1266h1.5M702 1282h1.5M712.5 1277h1.5M737 1267h1.5M736.5 1260.5h1.5M752 1260h1.5M728.5 1274.5h1.5M704 1266h1.5M717 1283.5h1.5M725 1270.5h1.5M702 1269h1.5M747 1255h1.5M714 1272.5h1.5M748.5 1264h1.5M712.5 1290h1.5M719 1269.5h1.5M716 1270.5h1.5M705 1291.5h1.5M723 1278.5h1.5M731 1272.5h1.5M686 1289h1.5M728.5 1258h1.5M724.5 1259h1.5M731 1282h1.5M729.5 1252h1.5M745.5 1274h1.5M703 1289.5h1.5M750 1253.5h1.5M738 1255.5h1.5M720 1252.5h1.5M708 1282.5h1.5M712.5 1268h1.5M717 1279.5h1.5M723 1273.5h1.5M735 1262h1.5M743 1251h1.5M761 1258h1.5M717 1274h1.5M730 1273.5h1.5M737 1251.5h1.5M722.5 1254h1.5M727 1283h1.5M693.5 1277.5h1.5M733.5 1278.5h1.5M721.5 1256.5h1.5M696 1291h1.5M705 1285.5h1.5M725.5 1267h1.5M757 1256h1.5M748 1264.5h1.5M720.5 1272.5h1.5M722 1279.5h1.5M720 1290h1.5M712.5 1281.5h1.5M718.5 1271.5h1.5M758.5 1245.5h1.5M716 1271h1.5M724.5 1271h1.5M703.5 1281.5h1.5M738.5 1272h1.5M724.5 1272h1.5M716 1273h1.5M702 1272h1.5M716 1285.5h1.5M715.5 1274.5h1.5M723 1284h1.5M709.5 1284h1.5M723 1273h1.5M728.5 1269.5h1.5M737 1263h1.5M753.5 1253.5h1.5M698 1294.5h1.5M730.5 1268h1.5M711 1261.5h1.5M698 1303.5h1.5M718 1284.5h1.5M693 1283h1.5M735 1264h1.5M733 1266h1.5M717.5 1270h1.5M709.5 1294h1.5M746 1248.5h1.5M704 1282h1.5M729 1267h1.5M732 1266h1.5M732 1288.5h1.5M722 1288h1.5M750.5 1259.5h1.5M692 1293h1.5M715.5 1277.5h1.5M709.5 1288.5h1.5M745.5 1268.5h1.5M713.5 1269.5h1.5M737 1279h1.5M727 1274h1.5M718 1271.5h1.5M734.5 1264h1.5M733 1271h1.5M732 1271.5h1.5M706 1275.5h1.5M723 1272.5h1.5M716 1279h1.5M744 1269.5h1.5M742.5 1248.5h1.5M703.5 1283h1.5M724.5 1269.5h1.5M713.5 1276h1.5M726.5 1258.5h1.5M763.5 1246.5h1.5M739.5 1257h1.5M734 1266.5h1.5M737.5 1261.5h1.5M744 1245.5h1.5M740.5 1262.5h1.5M715 1295.5h1.5M730 1274.5h1.5M737.5 1276.5h1.5M747 1259.5h1.5M716 1272.5h1.5M741.5 1253.5h1.5M716 1275h1.5M729 1267h1.5M706.5 1293.5h1.5M725.5 1289h1.5M734.5 1276.5h1.5M740 1273.5h1.5M734.5 1267.5h1.5M752.5 1275.5h1.5M722.5 1280h1.5M726 1275h1.5M716 1258h1.5M724.5 1280.5h1.5M715 1286h1.5M726.5 1269h1.5M742 1266.5h1.5M735 1274h1.5M720.5 1259.5h1.5M710.5 1265h1.5M738.5 1270.5h1.5M742 1265h1.5M734 1251.5h1.5M716.5 1264.5h1.5M724.5 1286h1.5M745 1264.5h1.5M717 1267.5h1.5M731.5 1277h1.5M724.5 1257.5h1.5M718 1259h1.5M734.5 1259h1.5M707 1290.5h1.5M734.5 1267.5h1.5M763.5 1252h1.5M715.5 1282.5h1.5M724.5 1283h1.5M730.5 1271.5h1.5M700 1288h1.5M719 1266h1.5M722 1277h1.5M718 1263h1.5M717.5 1272h1.5M727.5 1270.5h1.5M715.5 1273.5h1.5M729 1277.5h1.5M734.5 1278h1.5M749 1269h1.5M753.5 1267h1.5M707.5 1288.5h1.5M750 1267.5h1.5M714 1284.5h1.5M733 1283h1.5M697.5 1282.5h1.5M694 1292.5h1.5M762 1247h1.5M728 1274.5h1.5M723.5 1275.5h1.5M727 1262.5h1.5M725.5 1277.5h1.5M745 1270h1.5M731 1270.5h1.5M734 1260h1.5M713 1278h1.5M704.5 1288.5h1.5M738.5 1256h1.5M728.5 1263.5h1.5M715.5 1296h1.5M702 1275h1.5M728.5 1271.5h1.5M743.5 1277.5h1.5M708.5 1277h1.5M755 1260.5h1.5M735 1259.5h1.5M746 1265h1.5M725 1266.5h1.5M732.5 1281h1.5M702.5 1279h1.5M712 1276.5h1.5M727.5 1278h1.5M732 1267.5h1.5M731 1273h1.5M700 1297h1.5M708.5 1278h1.5M729.5 1268h1.5M732.5 1267.5h1.5M725.5 1285h1.5M737 1266h1.5M732.5 1260h1.5M756 1241.5h1.5M724.5 1269h1.5M716.5 1272.5h1.5M716 1288h1.5M708 1291.5h1.5M733.5 1262.5h1.5M732.5 1265h1.5M701 1277h1.5M737.5 1268.5h1.5M726.5 1267h1.5M719.5 1272h1.5M695 1291.5h1.5M733 1266.5h1.5M749.5 1246.5h1.5M713.5 1280h1.5M720.5 1257.5h1.5M735 1267h1.5M688 1294.5h1.5M708.5 1278h1.5M703.5 1289h1.5M754.5 1254.5h1.5M689 1297.5h1.5M716 1267h1.5M733.5 1273.5h1.5M706 1269h1.5M687.5 1289.5h1.5M719.5 1270.5h1.5M715 1283h1.5M732.5 1268h1.5M735 1259h1.5M703.5 1280.5h1.5M705.5 1265.5h1.5M719.5 1285h1.5M739.5 1266.5h1.5M732 1279.5h1.5M702.5 1277.5h1.5M743 1260h1.5M715 1283h1.5M713 1271.5h1.5M711 1283.5h1.5M733.5 1279.5h1.5M718 1273h1.5M752 1262.5h1.5M720 1260.5h1.5M706 1274h1.5M722.5 1268.5h1.5M744.5 1244.5h1.5M705.5 1286h1.5M722 1250h1.5M694 1289h1.5M754.5 1269h1.5M716.5 1275.5h1.5M712.5 1285h1.5M755 1263.5h1.5M720 1267h1.5M730 1280.5h1.5M710 1265h1.5M717 1274h1.5M694.5 1293.5h1.5M740 1278h1.5M704.5 1291h1.5M742.5 1264.5h1.5M703 1276.5h1.5M726 1271.5h1.5M720 1286h1.5M709.5 1264.5h1.5M722 1277.5h1.5M731 1270.5h1.5M744.5 1248.5h1.5M723 1286.5h1.5M691 1293h1.5M749.5 1266h1.5M738 1269h1.5M712 1292h1.5M699 1278h1.5M728.5 1264.5h1.5M729 1272.5h1.5M755.5 1255.5h1.5M716.5 1283h1.5M714 1287h1.5M726.5 1274h1.5M685 1277h1.5M706 1299.5h1.5M707.5 1289h1.5M712.5 1277.5h1.5M730 1283h1.5M735.5 1268h1.5M743 1254h1.5M745.5 1266h1.5M738.5 1261.5h1.5M713 1271.5h1.5M706.5 1275h1.5M729 1266.5h1.5M733 1270.5h1.5M702 1276.5h1.5M717 1269.5h1.5M716 1292.5h1.5M706.5 1301.5h1.5M733 1275h1.5M741 1266.5h1.5M747.5 1247h1.5M718 1268.5h1.5M693 1286.5h1.5M754.5 1250.5h1.5M729 1271.5h1.5M724.5 1273h1.5M734.5 1261h1.5M702.5 1289.5h1.5M710 1276h1.5M720 1271h1.5M742 1259h1.5M744.5 1260.5h1.5M723 1274h1.5M703.5 1288h1.5M742.5 1269h1.5M695 1277h1.5M720.5 1286.5h1.5M724.5 1264.5h1.5M697 1283.5h1.5M715 1286h1.5M736.5 1254.5h1.5M739.5 1268h1.5M704 1284.5h1.5M730.5 1269.5h1.5M696 1291.5h1.5M741 1275h1.5M710.5 1276h1.5M721.5 1276h1.5M728 1274.5h1.5M706.5 1287h1.5M711 1279h1.5M747 1244.5h1.5M714 1267h1.5M731 1277h1.5M726.5 1269.5h1.5M747.5 1259.5h1.5M740.5 1267.5h1.5M675.5 1303h1.5M702.5 1278.5h1.5M747 1253.5h1.5M750 1242.5h1.5M709 1288.5h1.5M719.5 1277.5h1.5M721.5 1272.5h1.5M719.5 1276.5h1.5M741.5 1275h1.5M719 1271.5h1.5M721 1287h1.5M728 1252.5h1.5M688 1288h1.5M727.5 1269.5h1.5M732 1265.5h1.5M750.5 1261.5h1.5M730 1278.5h1.5M696 1289.5h1.5M729 1274.5h1.5M694 1289h1.5M732.5 1270.5h1.5M747 1264h1.5M725.5 1277h1.5M721 1275h1.5M737 1263h1.5M734 1274h1.5M741 1272h1.5M718.5 1280h1.5M734.5 1271h1.5M742 1245h1.5M757 1267h1.5M736 1269.5h1.5M720 1274.5h1.5M738.5 1268.5h1.5M738.5 1268h1.5M742.5 1267h1.5M710 1288.5h1.5M755 1251.5h1.5M745.5 1250h1.5M721 1268.5h1.5M754 1267.5h1.5M727 1280.5h1.5M751.5 1254h1.5M729 1275h1.5M710.5 1282h1.5M758 1245.5h1.5M740.5 1266h1.5M722 1275h1.5M755.5 1256.5h1.5M742.5 1274.5h1.5M715 1268.5h1.5M754 1253.5h1.5M736 1257.5h1.5M726 1261h1.5M722.5 1267h1.5M708 1279.5h1.5M681 1289.5h1.5M738.5 1265.5h1.5M708 1287h1.5M712 1286h1.5M720.5 1271h1.5M733 1289h1.5M712 1281.5h1.5M733 1257.5h1.5M695 1285.5h1.5M735.5 1261.5h1.5M724 1280h1.5M710 1280h1.5M700 1290.5h1.5M731 1274.5h1.5M704 1283.5h1.5M701.5 1284.5h1.5M747.5 1254h1.5M698.5 1282.5h1.5M691.5 1281.5h1.5M729.5 1255.5h1.5M729.5 1269h1.5M716 1279h1.5M711.5 1287.5h1.5M710.5 1277h1.5M718.5 1282h1.5M722.5 1249.5h1.5M721 1258.5h1.5M718 1275h1.5M720 1279h1.5M733 1259.5h1.5M710.5 1280.5h1.5M696 1286h1.5M740.5 1248h1.5M716 1272h1.5M755.5 1247h1.5M711.5 1270.5h1.5M725.5 1273.5h1.5M713 1288h1.5M732 1274.5h1.5M719.5 1277h1.5M726.5 1283.5h1.5M726 1271h1.5M714 1273.5h1.5M731.5 1274.5h1.5M713 1280.5h1.5M728.5 1272h1.5M691.5 1285h1.5M701 1287h1.5M707 1278.5h1.5M702.5 1282.5h1.5M708 1289h1.5M732.5 1267.5h1.5M710.5 1262.5h1.5M713 1272h1.5M730.5 1273h1.5M734.5 1276.5h1.5M712 1274.5h1.5M742 1261.5h1.5M727.5 1286.5h1.5M733 1264.5h1.5M718 1288h1.5M727.5 1270h1.5M739 1270h1.5M737 1271.5h1.5M734 1270.5h1.5M719 1291.5h1.5M704.5 1287.5h1.5M701 1286h1.5M715 1279h1.5M726 1262.5h1.5M729 1281h1.5M698.5 1281h1.5M739 1263h1.5M730.5 1277h1.5M708.5 1277.5h1.5M712 1277h1.5M739.5 1246.5h1.5M698.5 1276.5h1.5M745 1253h1.5M712 1265.5h1.5M723 1280.5h1.5M728 1268.5h1.5M696.5 1287h1.5M722.5 1264h1.5M738.5 1270.5h1.5M718 1282.5h1.5M727 1280.5h1.5M753.5 1243h1.5M742 1272h1.5M705.5 1279h1.5M713.5 1277.5h1.5M717 1274.5h1.5M730.5 1251h1.5M710.5 1287h1.5M729 1259.5h1.5M739 1274h1.5M719 1266h1.5M745.5 1273.5h1.5M709.5 1282h1.5M743 1261h1.5M696.5 1294h1.5M702.5 1274.5h1.5M700 1298.5h1.5M711.5 1283h1.5M734.5 1266.5h1.5M730.5 1271h1.5M723 1265.5h1.5M709.5 1280.5h1.5M723.5 1276h1.5M744 1262h1.5M701.5 1267h1.5M705.5 1272h1.5M712.5 1281.5h1.5M733 1283h1.5M740 1278.5h1.5M740.5 1271h1.5M713.5 1269h1.5M716.5 1277h1.5M709.5 1272.5h1.5M727 1261h1.5M693.5 1281.5h1.5M716 1268.5h1.5M722.5 1278.5h1.5M731 1261.5h1.5M700 1282.5h1.5M738.5 1270.5h1.5M735 1275.5h1.5M751 1250h1.5M748 1254h1.5M744 1265.5h1.5M687 1287.5h1.5M696 1274h1.5M747 1275.5h1.5M723 1280h1.5M750 1257h1.5M722.5 1270.5h1.5M736.5 1271.5h1.5M733.5 1269.5h1.5M716.5 1262.5h1.5M734 1254h1.5M737.5 1270h1.5M702.5 1280.5h1.5M759.5 1248.5h1.5M707 1290.5h1.5M703 1268.5h1.5M729 1260.5h1.5M726 1263.5h1.5M736.5 1265.5h1.5M682 1302.5h1.5M725 1284h1.5M733.5 1272.5h1.5M709 1275h1.5M722 1270h1.5M746 1256.5h1.5M700 1280h1.5M739.5 1260.5h1.5M724.5 1281h1.5M699.5 1268h1.5M710.5 1283h1.5M713.5 1265h1.5M741.5 1262h1.5M732 1270.5h1.5M703.5 1288h1.5M744 1269.5h1.5M738 1267.5h1.5M695 1291h1.5M713 1290.5h1.5M739 1253.5h1.5M724 1274h1.5M732.5 1251.5h1.5M687 1296.5h1.5M682 1300.5h1.5M739 1273.5h1.5M714 1280h1.5M730 1257.5h1.5M740.5 1264h1.5M714.5 1279.5h1.5M725 1278.5h1.5M719 1277.5h1.5M710 1273h1.5M723 1264.5h1.5M740 1267h1.5M712 1281.5h1.5M704.5 1270.5h1.5M714 1278h1.5M733.5 1267.5h1.5M735 1256h1.5M724.5 1286.5h1.5M690 1290h1.5M705 1282.5h1.5M719 1280.5h1.5M723 1261h1.5M714 1278.5h1.5M746.5 1279h1.5M731.5 1258h1.5M723 1274h1.5M717 1280.5h1.5M688 1300h1.5M715.5 1276.5h1.5M743.5 1248h1.5M732 1274h1.5M720.5 1260h1.5M746 1256h1.5M714 1276h1.5M712.5 1268.5h1.5M724.5 1266.5h1.5M737.5 1268h1.5M750.5 1253h1.5M704.5 1271.5h1.5M763.5 1252.5h1.5M719.5 1290h1.5M741 1248.5h1.5M711 1279.5h1.5M705.5 1283h1.5M730.5 1255.5h1.5M733.5 1276h1.5M730.5 1267h1.5M716 1284.5h1.5M705.5 1286.5h1.5M729 1279h1.5M712 1275h1.5M705 1288.5h1.5M713.5 1271h1.5M713.5 1283.5h1.5M701.5 1277.5h1.5M738.5 1261h1.5M738.5 1259.5h1.5M724.5 1273h1.5M752.5 1265h1.5M741 1255.5h1.5M710.5 1287.5h1.5M752 1264.5h1.5M727 1276.5h1.5M737 1265h1.5M727.5 1270.5h1.5M708 1276.5h1.5M705.5 1269.5h1.5M726 1270h1.5M742 1271.5h1.5M752 1266.5h1.5M705.5 1271h1.5M745.5 1270.5h1.5M752 1258h1.5M692 1296h1.5M738.5 1274h1.5M751.5 1262h1.5M710 1272h1.5M729.5 1261h1.5M742 1245h1.5M735 1268h1.5M717 1268.5h1.5M687 1291h1.5M720 1284.5h1.5M712.5 1283.5h1.5M704.5 1289h1.5M695 1309.5h1.5M710 1256h1.5M708.5 1274.5h1.5M711.5 1277h1.5M709.5 1274h1.5M708 1290h1.5M743 1257.5h1.5M719 1265h1.5M726 1272.5h1.5M722 1277h1.5M725 1262h1.5M743 1257.5h1.5M754 1256.5h1.5M762 1258h1.5M725 1265h1.5M714.5 1283h1.5M724 1266.5h1.5M738 1263h1.5M734 1256.5h1.5M743 1264.5h1.5M748 1265h1.5M722 1272h1.5M752.5 1251h1.5M735 1261.5h1.5M688 1284.5h1.5M733.5 1272h1.5M735.5 1275h1.5M727.5 1263h1.5M734.5 1266.5h1.5M716.5 1281h1.5M723 1267.5h1.5M727 1283h1.5M748 1258h1.5M719 1262.5h1.5M757 1260h1.5M727.5 1249.5h1.5M724 1271h1.5M733.5 1261.5h1.5M722.5 1278.5h1.5M708.5 1277h1.5M732.5 1278.5h1.5M742 1270h1.5M731 1280.5h1.5M703 1303.5h1.5M762 1251.5h1.5M738 1262.5h1.5M718 1270.5h1.5M725.5 1276h1.5M739 1280h1.5M719.5 1261.5h1.5M746.5 1246.5h1.5M715.5 1280h1.5M725 1258.5h1.5M705.5 1271h1.5M739.5 1272.5h1.5M707.5 1291.5h1.5M737 1257.5h1.5M686.5 1287h1.5M720.5 1288h1.5M718 1267h1.5M721 1262h1.5M728.5 1260h1.5M711.5 1283.5h1.5M762.5 1267h1.5M704 1279.5h1.5M737.5 1273.5h1.5M688 1296h1.5M708 1265h1.5M699.5 1283h1.5M729 1277.5h1.5M734 1274h1.5M721.5 1267.5h1.5M724 1278.5h1.5M740.5 1260h1.5M710 1284h1.5M737 1274.5h1.5M710 1275h1.5M735 1261h1.5M721.5 1285h1.5M709.5 1300h1.5M717.5 1284h1.5M723.5 1275h1.5M723 1280.5h1.5M716 1272h1.5M754.5 1252.5h1.5M706.5 1270h1.5M753 1248h1.5M760 1252h1.5M727 1271.5h1.5M726.5 1268h1.5M721 1275.5h1.5M720.5 1276h1.5M718 1264h1.5M733.5 1272.5h1.5M722.5 1289.5h1.5M750 1263h1.5M738 1263h1.5M749.5 1269.5h1.5M735 1259.5h1.5M725.5 1276h1.5M737.5 1262.5h1.5M721 1288h1.5M702 1278h1.5M698 1280.5h1.5M750 1266.5h1.5M725 1276h1.5M719 1264.5h1.5M726.5 1263h1.5M717.5 1270h1.5M727 1273h1.5M712.5 1266.5h1.5M760.5 1250.5h1.5M730 1264.5h1.5M697.5 1288.5h1.5M721.5 1280h1.5M742.5 1267h1.5M748 1272.5h1.5M735 1274.5h1.5M724.5 1254.5h1.5M718 1268h1.5M724.5 1264.5h1.5M738 1271.5h1.5M751 1269h1.5M691 1282.5h1.5M728 1270h1.5M715 1260.5h1.5M710.5 1279.5h1.5M709.5 1276h1.5M729.5 1270.5h1.5M732 1262.5h1.5M746.5 1261h1.5M702 1285.5h1.5M720 1272.5h1.5M735 1270.5h1.5M734 1268.5h1.5M716.5 1257.5h1.5M739 1266.5h1.5M708.5 1284.5h1.5M739.5 1272.5h1.5M734 1268.5h1.5M738.5 1260h1.5M728.5 1263.5h1.5M736 1250h1.5M738 1263h1.5M737 1256.5h1.5M726 1271.5h1.5M727 1260.5h1.5M727 1253.5h1.5M706.5 1269.5h1.5M739.5 1265.5h1.5M737.5 1276.5h1.5M721 1279.5h1.5M725 1270.5h1.5M754.5 1271h1.5M720 1282h1.5M730.5 1270.5h1.5M727 1267h1.5M670 1320.5h1.5M711.5 1278h1.5M717 1269.5h1.5M728 1269h1.5M712.5 1280.5h1.5M727 1278h1.5M698 1281.5h1.5M733.5 1260h1.5M706.5 1278h1.5M722 1272.5h1.5M716.5 1268h1.5M742.5 1272h1.5M685.5 1283h1.5M747 1271h1.5M691.5 1300.5h1.5M748 1248.5h1.5M750 1253.5h1.5M726.5 1264h1.5M744 1266.5h1.5M759 1262.5h1.5M736.5 1291.5h1.5M749 1260.5h1.5M701 1273h1.5M696 1282h1.5M749 1260h1.5M713 1278h1.5M723 1280h1.5M710.5 1284h1.5M725.5 1263.5h1.5M749.5 1253h1.5M711 1288h1.5M726.5 1274h1.5M707.5 1290h1.5M726.5 1263h1.5M723.5 1261h1.5M710.5 1287.5h1.5M695.5 1278.5h1.5M724.5 1272.5h1.5M728.5 1265h1.5M736 1256.5h1.5M735.5 1266.5h1.5M739 1273h1.5M713.5 1273h1.5M687.5 1277.5h1.5M720.5 1273h1.5M702 1278.5h1.5M753 1261h1.5M701 1283h1.5M728.5 1263.5h1.5M709 1278.5h1.5M747 1267.5h1.5M713.5 1283h1.5M720 1265.5h1.5M714 1267.5h1.5M750 1269h1.5M714.5 1272.5h1.5M746.5 1268h1.5M704.5 1283h1.5M720 1268h1.5M727.5 1263.5h1.5M714.5 1277h1.5M690.5 1275.5h1.5M736.5 1257.5h1.5M725 1292h1.5M737 1257.5h1.5M683.5 1304.5h1.5M726.5 1274.5h1.5M715.5 1267.5h1.5M719.5 1281h1.5M716.5 1273.5h1.5M699 1289h1.5M709 1290h1.5M710.5 1278h1.5M759 1246.5h1.5M719 1280.5h1.5M699 1299.5h1.5M743 1264.5h1.5M666.5 1307h1.5M707 1293h1.5M743 1263h1.5M710 1294.5h1.5M727 1286h1.5M730.5 1272.5h1.5M722 1286h1.5M740 1274.5h1.5M727 1270h1.5M740 1274.5h1.5M741.5 1262h1.5M696 1297.5h1.5M700 1288h1.5M716.5 1264.5h1.5M739 1281.5h1.5M722 1280h1.5M714 1280.5h1.5M738 1276h1.5M733 1241.5h1.5M709.5 1281h1.5M692 1260h1.5M712 1280h1.5M711 1271.5h1.5M726 1273.5h1.5M721.5 1285.5h1.5M721.5 1266h1.5M704.5 1283h1.5M739.5 1254.5h1.5M734.5 1266h1.5M759 1252.5h1.5M715.5 1284h1.5M735.5 1261h1.5M706.5 1288h1.5M719 1262h1.5M725.5 1265h1.5M697 1286.5h1.5M750.5 1265.5h1.5M741 1263.5h1.5M734.5 1266h1.5M702 1278.5h1.5M719.5 1287.5h1.5M737.5 1253.5h1.5M723.5 1269h1.5M719 1270.5h1.5M747.5 1256.5h1.5M728.5 1271h1.5M707 1284h1.5M748 1269.5h1.5M698.5 1275h1.5M729.5 1278.5h1.5M733 1272.5h1.5M699 1283h1.5M686.5 1295h1.5M693 1304h1.5M750.5 1256h1.5M700 1291h1.5M757 1254.5h1.5M742 1256h1.5M709 1281h1.5M701 1307h1.5M730 1276h1.5M710 1267.5h1.5M743.5 1249.5h1.5M731.5 1271h1.5M722 1266.5h1.5M717.5 1267.5h1.5M740 1267h1.5M721.5 1268.5h1.5M754 1241h1.5M698 1288.5h1.5M724 1281.5h1.5M735 1265h1.5M734.5 1269.5h1.5M760.5 1250.5h1.5M713.5 1280.5h1.5M680 1300.5h1.5M745 1264h1.5M731.5 1273h1.5M748.5 1269h1.5M730 1265h1.5M689 1303.5h1.5M733.5 1267.5h1.5M716.5 1285.5h1.5M719.5 1274.5h1.5M725 1275.5h1.5M707 1288h1.5M709 1275.5h1.5M735 1256h1.5M739 1263h1.5M702 1298.5h1.5M731 1271h1.5M747 1270.5h1.5M730 1273.5h1.5M729 1266h1.5M698.5 1290.5h1.5M749.5 1260.5h1.5M710.5 1290.5h1.5M710.5 1262h1.5M737 1255h1.5M758.5 1260h1.5M722 1277.5h1.5M740 1287.5h1.5M728.5 1274.5h1.5M701.5 1271.5h1.5M719.5 1275.5h1.5M723.5 1259.5h1.5M731.5 1259.5h1.5M738 1271h1.5M713.5 1270h1.5M753.5 1260.5h1.5M732.5 1279.5h1.5M723 1267h1.5M707 1282h1.5M742.5 1272.5h1.5M729.5 1279.5h1.5M717 1269.5h1.5M700 1283h1.5M711 1298.5h1.5M731 1266.5h1.5M747.5 1245h1.5M730 1286h1.5M731.5 1289h1.5M742.5 1271.5h1.5M746.5 1257.5h1.5M715.5 1276.5h1.5M707 1282.5h1.5M731 1282.5h1.5M743.5 1280.5h1.5M683 1288h1.5M724 1285.5h1.5M716 1264h1.5M715 1267h1.5M709 1300h1.5M719 1277h1.5M721.5 1271.5h1.5M708.5 1279h1.5M735.5 1277h1.5M735 1254h1.5M742.5 1264h1.5M714.5 1280h1.5M734 1266h1.5M728.5 1261.5h1.5M735 1268h1.5M732 1260.5h1.5M743 1258.5h1.5M699.5 1278h1.5M719.5 1260.5h1.5M758.5 1259h1.5M761.5 1263h1.5M714.5 1270.5h1.5M677.5 1298.5h1.5M750 1247.5h1.5M718 1271h1.5M735.5 1276h1.5M692.5 1280.5h1.5M752 1260.5h1.5M726.5 1285.5h1.5M705 1292.5h1.5M725.5 1276.5h1.5M683 1296.5h1.5M736 1263.5h1.5M750 1266h1.5M711.5 1287.5h1.5M707.5 1283h1.5M731.5 1259.5h1.5M735 1260h1.5M717 1283h1.5M706.5 1275.5h1.5M742 1261.5h1.5M703 1293h1.5M711.5 1267.5h1.5M685.5 1305h1.5M704.5 1273.5h1.5M738 1270h1.5M714.5 1286.5h1.5M764 1258h1.5M745.5 1261h1.5M716.5 1276.5h1.5M726.5 1259.5h1.5M705.5 1271.5h1.5M728.5 1270h1.5M716.5 1284.5h1.5M703.5 1279h1.5M741 1269.5h1.5M711.5 1282h1.5M710 1279h1.5M728.5 1274h1.5M730.5 1270.5h1.5M707.5 1286h1.5M736 1270.5h1.5M715.5 1285.5h1.5M700 1283.5h1.5M714 1267h1.5M720 1276.5h1.5M692 1289.5h1.5M703 1304h1.5M728 1270.5h1.5M730.5 1273.5h1.5M734 1251.5h1.5M751 1265.5h1.5M722.5 1272h1.5M667 1298h1.5M737.5 1274h1.5M736 1263.5h1.5M760.5 1257.5h1.5M726.5 1290h1.5M699.5 1274.5h1.5M714 1272h1.5M721 1281h1.5M723.5 1272.5h1.5M715.5 1257h1.5M697 1286h1.5M709 1279.5h1.5M747 1256h1.5M698.5 1281.5h1.5M759 1263h1.5M727.5 1255.5h1.5M730.5 1271h1.5M722 1268h1.5M715.5 1272h1.5M710.5 1293h1.5M737.5 1260.5h1.5M731.5 1270.5h1.5M738 1263h1.5M722.5 1285.5h1.5M731.5 1259.5h1.5M735 1272.5h1.5M685 1289h1.5M722 1256h1.5M693.5 1289.5h1.5M734.5 1270h1.5M751 1255.5h1.5M712.5 1268h1.5M720.5 1280.5h1.5M737.5 1265.5h1.5M738.5 1274h1.5M731 1280h1.5M711.5 1279.5h1.5M719 1282h1.5M705.5 1281h1.5M695 1296h1.5M748.5 1264h1.5M741 1268.5h1.5M738 1268h1.5M732.5 1260.5h1.5M721 1274.5h1.5M712 1266h1.5M704 1287h1.5M739 1262h1.5M737.5 1285.5h1.5M745.5 1271.5h1.5M742 1266h1.5M761 1270h1.5M706.5 1292.5h1.5M700.5 1312.5h1.5M733.5 1288.5h1.5M708 1263h1.5M708.5 1302h1.5M759 1251.5h1.5M720.5 1282.5h1.5M695.5 1286.5h1.5M754.5 1255.5h1.5M702 1285.5h1.5M730 1247.5h1.5M740.5 1298.5h1.5M763.5 1259h1.5M754 1274.5h1.5M724 1289h1.5M748 1245h1.5M734.5 1275h1.5M723 1278h1.5M727.5 1279h1.5M745.5 1269.5h1.5M712.5 1273.5h1.5M713.5 1287.5h1.5M713 1296.5h1.5M736 1284h1.5M703.5 1279.5h1.5M743.5 1266h1.5M721.5 1288h1.5M726 1259h1.5M745.5 1258h1.5M746 1245.5h1.5M726 1273.5h1.5M687 1310h1.5M682 1300.5h1.5M739 1260.5h1.5M708.5 1297.5h1.5M714 1278.5h1.5M738.5 1252.5h1.5M717.5 1293h1.5M708 1311h1.5M722 1290h1.5M737 1266.5h1.5M711.5 1284.5h1.5M729 1261h1.5M706.5 1308h1.5M709 1291.5h1.5M716 1280h1.5M748 1260.5h1.5M712.5 1281h1.5M707.5 1279h1.5M721.5 1300.5h1.5M732.5 1267h1.5M730.5 1252h1.5M755.5 1273.5h1.5M737 1285.5h1.5M706.5 1283h1.5M728 1292.5h1.5M698.5 1281h1.5M730 1282.5h1.5M711.5 1294h1.5M754.5 1273h1.5M727.5 1273.5h1.5M754.5 1257.5h1.5M751 1285.5h1.5M731 1259.5h1.5M695.5 1292h1.5M737.5 1274h1.5M708 1272.5h1.5M743.5 1264h1.5M692 1298h1.5M699 1287.5h1.5M715.5 1270.5h1.5M707 1278h1.5M701 1278.5h1.5M706.5 1277h1.5M733.5 1273.5h1.5M755.5 1281.5h1.5M737 1274.5h1.5M738 1274h1.5M722 1278h1.5M706.5 1299.5h1.5M729 1293h1.5M735 1262h1.5M750 1242.5h1.5M733 1276.5h1.5M740.5 1262h1.5M677.5 1303h1.5M704.5 1263h1.5M715.5 1268.5h1.5M732 1268.5h1.5M757.5 1252h1.5M728 1271.5h1.5M688.5 1297.5h1.5M739 1275h1.5M706.5 1269h1.5M736 1275h1.5M735.5 1266h1.5M691.5 1305h1.5M729 1292h1.5M721.5 1278h1.5M725.5 1268.5h1.5M708 1286h1.5M702 1288.5h1.5M736 1289.5h1.5M720 1312.5h1.5M724 1303.5h1.5M747.5 1258h1.5M713 1291h1.5M704.5 1296.5h1.5M704 1292.5h1.5M749 1266h1.5M717.5 1288.5h1.5M689 1289h1.5M717.5 1291.5h1.5M732 1279h1.5M716 1272h1.5M745.5 1254h1.5M728.5 1272.5h1.5M728 1266.5h1.5M749.5 1278.5h1.5M741 1268h1.5M729.5 1310.5h1.5M707 1299.5h1.5M727 1274.5h1.5M721.5 1272h1.5M731 1276.5h1.5M734.5 1278h1.5M750.5 1247h1.5M706 1263.5h1.5M737 1280h1.5M710.5 1304.5h1.5M705 1285h1.5M733 1292h1.5M706 1292.5h1.5M739.5 1274.5h1.5M737 1278.5h1.5M720.5 1301.5h1.5M717.5 1278h1.5M743 1256.5h1.5M723 1268.5h1.5M722 1285h1.5M719 1275.5h1.5M723 1277h1.5M693 1300.5h1.5M722 1282.5h1.5M717.5 1276.5h1.5M741 1273h1.5M751 1266h1.5M721 1287h1.5M695.5 1323h1.5M739.5 1295.5h1.5M697.5 1279.5h1.5M730 1278h1.5M728.5 1276.5h1.5M700 1273h1.5M719 1263.5h1.5M692 1292.5h1.5M741 1292h1.5M748.5 1280h1.5M736 1274h1.5M711 1281h1.5M732.5 1259h1.5M739 1275h1.5M741.5 1276h1.5M750.5 1259.5h1.5M727 1265.5h1.5M713 1307.5h1.5M709 1295h1.5M738.5 1283h1.5M694.5 1308h1.5M716.5 1274h1.5M722.5 1291.5h1.5M734.5 1268.5h1.5M692.5 1283.5h1.5M728 1258h1.5M735 1305h1.5M734.5 1280h1.5M693 1281h1.5M734.5 1266.5h1.5M744.5 1265.5h1.5M723.5 1267h1.5M746 1270h1.5M703 1288h1.5M757.5 1273h1.5M693.5 1292h1.5M757.5 1254.5h1.5M733 1286h1.5M692 1286.5h1.5M724.5 1294h1.5M747.5 1272.5h1.5M727.5 1291h1.5M724 1286h1.5M751.5 1283h1.5M720.5 1276h1.5M756.5 1275h1.5M706.5 1275.5h1.5M737 1248.5h1.5M689.5 1297.5h1.5M716.5 1268h1.5M727 1278.5h1.5M724 1304h1.5M736 1284h1.5M684 1283.5h1.5M741 1290.5h1.5M702.5 1293h1.5M693 1288h1.5M722 1272h1.5M688 1283h1.5M687.5 1307h1.5M736 1277h1.5M709.5 1299.5h1.5M734.5 1270h1.5M714 1275h1.5M734.5 1291.5h1.5M741.5 1262.5h1.5M725 1262h1.5M730 1262h1.5M752 1297.5h1.5M727.5 1313h1.5M726 1266h1.5M720 1311h1.5M727 1267.5h1.5M719.5 1285.5h1.5M723 1282.5h1.5M748.5 1246.5h1.5M733 1270.5h1.5M718 1295h1.5M678.5 1275.5h1.5M724.5 1275h1.5M684.5 1280h1.5M761 1259h1.5M734.5 1299h1.5M751.5 1282.5h1.5M691 1282.5h1.5M735.5 1275h1.5M735.5 1248.5h1.5M740.5 1279.5h1.5M736.5 1263.5h1.5M726.5 1265.5h1.5M709 1273h1.5M705 1286.5h1.5M707 1278h1.5M707.5 1313.5h1.5M713.5 1288.5h1.5M695 1313.5h1.5M721.5 1273h1.5M718 1292.5h1.5M659 1308.5h1.5M718 1279.5h1.5M751 1283.5h1.5M730 1264.5h1.5M700.5 1302h1.5M756 1263.5h1.5M760.5 1287.5h1.5M730.5 1258.5h1.5M730 1291h1.5M725 1296h1.5M721.5 1283h1.5M715 1285h1.5M715.5 1261.5h1.5M705 1273h1.5M708.5 1277h1.5M746.5 1276h1.5M724 1260.5h1.5M711 1268h1.5M722 1287h1.5M743 1271h1.5M747 1265.5h1.5M721.5 1290h1.5M735.5 1263h1.5M726.5 1271.5h1.5M685 1308h1.5M698 1298h1.5M687 1291.5h1.5M720 1295.5h1.5M704.5 1276h1.5M726.5 1272.5h1.5M730 1260h1.5M740 1299h1.5M717.5 1283.5h1.5M684 1292h1.5M728 1270h1.5M735.5 1275h1.5M701.5 1305h1.5M692.5 1287.5h1.5M735 1290.5h1.5M702.5 1293h1.5M728 1283h1.5M741.5 1260.5h1.5M748.5 1278.5h1.5M758.5 1261.5h1.5M721 1272.5h1.5M691 1294.5h1.5M722.5 1276.5h1.5M724 1258h1.5M729.5 1299.5h1.5M744 1272h1.5M726.5 1270.5h1.5M690 1305h1.5M672 1306.5h1.5M718.5 1275h1.5M735.5 1257.5h1.5M762 1260.5h1.5M703 1291h1.5M736 1261.5h1.5M725.5 1280h1.5M698 1290.5h1.5M706.5 1300h1.5M705 1293h1.5M687.5 1286h1.5M696.5 1291h1.5M726.5 1280h1.5M686 1299.5h1.5M709.5 1293.5h1.5M715.5 1281.5h1.5M717 1304h1.5M694 1291.5h1.5M721.5 1275.5h1.5M695.5 1272h1.5M702 1279h1.5M711.5 1266.5h1.5M729.5 1260.5h1.5M706.5 1280h1.5M709 1282h1.5M691.5 1289h1.5M740.5 1266h1.5M710 1257h1.5M735 1261h1.5M743.5 1266.5h1.5M700 1270.5h1.5M748.5 1285h1.5M733.5 1288.5h1.5M716 1292h1.5M706 1282h1.5M715.5 1266h1.5M725.5 1272h1.5M680 1299.5h1.5M719.5 1291h1.5M735 1289h1.5M727.5 1267.5h1.5M718 1276.5h1.5M731 1273.5h1.5M709 1287h1.5M724 1264h1.5M717.5 1260.5h1.5M745.5 1270h1.5M745.5 1248.5h1.5M748.5 1273.5h1.5M715 1278h1.5M692 1280h1.5M699 1277h1.5M743 1245h1.5M726.5 1281h1.5M730.5 1278.5h1.5M736.5 1263h1.5M721 1275h1.5M758.5 1282h1.5M686 1275h1.5M738.5 1281.5h1.5M763 1261.5h1.5M758 1277h1.5M754.5 1269h1.5M696 1295h1.5M726 1274.5h1.5M729.5 1294h1.5M711 1296h1.5M722 1267h1.5M690 1277h1.5M730 1272.5h1.5M694 1272h1.5M728.5 1272h1.5M701.5 1279h1.5M719 1286.5h1.5M707.5 1272h1.5M726 1289.5h1.5M722 1279h1.5M709.5 1275h1.5M693 1275h1.5M746.5 1268.5h1.5M724.5 1280.5h1.5M723 1268h1.5M712 1278.5h1.5M732.5 1289.5h1.5M736.5 1250.5h1.5M716.5 1281.5h1.5M731.5 1269.5h1.5M716.5 1276h1.5M732.5 1252.5h1.5M701.5 1267.5h1.5M703 1295h1.5M725.5 1272h1.5M751 1277.5h1.5M721 1282h1.5M716 1290.5h1.5M708.5 1310.5h1.5M736 1253.5h1.5M708.5 1293h1.5M717.5 1288.5h1.5M723 1297.5h1.5M735.5 1301h1.5M724.5 1259h1.5M732 1280h1.5M687.5 1277h1.5M728.5 1292h1.5M739 1290h1.5M746.5 1262.5h1.5M753 1278h1.5M718 1278h1.5M709.5 1255h1.5M730.5 1282h1.5M726 1280.5h1.5M708 1261h1.5M751 1255h1.5M717 1299.5h1.5M741.5 1269.5h1.5M729 1258.5h1.5M727 1292h1.5M702 1278.5h1.5M723 1279h1.5M725 1258h1.5M677.5 1319.5h1.5M696.5 1287h1.5M685 1316h1.5M729.5 1277.5h1.5M714.5 1256h1.5M699.5 1287h1.5M705 1286h1.5M732 1285h1.5M692.5 1297.5h1.5M729 1261.5h1.5M720 1285.5h1.5M725.5 1285h1.5M721 1275h1.5M700 1296h1.5M717 1268.5h1.5M740 1283.5h1.5M704 1280.5h1.5M696 1273h1.5M757 1249.5h1.5M697.5 1279.5h1.5M709.5 1277.5h1.5M741.5 1249.5h1.5M694.5 1303.5h1.5M717.5 1278.5h1.5M732.5 1273.5h1.5M711.5 1266.5h1.5M684.5 1293.5h1.5M701.5 1295h1.5M683.5 1297.5h1.5M717.5 1281h1.5M726.5 1271h1.5M715.5 1299h1.5M723.5 1296h1.5M714.5 1283h1.5M719.5 1283h1.5M713.5 1285h1.5M757 1269.5h1.5M733.5 1253.5h1.5M699.5 1296h1.5M733 1264.5h1.5M716 1300.5h1.5M740.5 1280h1.5M709.5 1279.5h1.5M737.5 1264.5h1.5M703.5 1278h1.5M716.5 1293.5h1.5M695.5 1303.5h1.5M706 1286h1.5M717 1279h1.5M713 1278.5h1.5M718 1298.5h1.5M720.5 1277.5h1.5M706 1283.5h1.5M713 1294h1.5M693 1267.5h1.5M720.5 1275.5h1.5M715 1294.5h1.5M677.5 1328h1.5M737.5 1260h1.5M715.5 1289.5h1.5M727.5 1266.5h1.5M702.5 1319h1.5M740.5 1268.5h1.5M728 1282.5h1.5M723 1250.5h1.5M711.5 1279h1.5M722.5 1288h1.5M678.5 1289h1.5M709 1289h1.5M747 1283.5h1.5M720.5 1290h1.5M738 1275h1.5M718 1275.5h1.5M693.5 1282h1.5M727.5 1274h1.5M717 1290.5h1.5M711.5 1273h1.5M721 1290h1.5M702.5 1294h1.5M715.5 1272.5h1.5M706 1268h1.5M715 1265h1.5M741 1264.5h1.5M717 1297h1.5M696.5 1285h1.5M693.5 1314h1.5M705.5 1290h1.5M711 1285h1.5M721 1284h1.5M703.5 1293h1.5M697 1289h1.5M685 1297h1.5M715.5 1295h1.5M720.5 1281h1.5M708 1259.5h1.5M680.5 1301h1.5M725 1273.5h1.5M703 1287.5h1.5M719.5 1290.5h1.5M731.5 1265h1.5M721.5 1282h1.5M739 1289h1.5M727.5 1290h1.5M695 1287.5h1.5M680.5 1307h1.5M718 1247.5h1.5M728.5 1282h1.5M724.5 1261h1.5M736 1269.5h1.5M731.5 1270.5h1.5M735 1284.5h1.5M719 1284h1.5M744.5 1262h1.5M703.5 1299.5h1.5M756.5 1273h1.5M720.5 1248.5h1.5M705 1281.5h1.5M732 1294h1.5M713.5 1313h1.5M709 1276.5h1.5M743 1277h1.5M729 1264h1.5M724.5 1263h1.5M705 1288h1.5M711.5 1299h1.5M708.5 1284h1.5M710 1299.5h1.5M715 1298h1.5M739 1261.5h1.5M718.5 1274.5h1.5M730.5 1270.5h1.5M713 1284.5h1.5M690 1298h1.5M734.5 1272h1.5M737 1263.5h1.5M705.5 1274.5h1.5M725 1302h1.5M723 1270h1.5M692 1277h1.5M709.5 1296.5h1.5M707 1275.5h1.5M708.5 1295.5h1.5M715.5 1274h1.5M728.5 1303h1.5M753.5 1277.5h1.5M686.5 1299.5h1.5M712 1292h1.5M743.5 1268.5h1.5M700 1284h1.5M737.5 1278h1.5M724.5 1278.5h1.5M723.5 1281h1.5M738.5 1276h1.5M721 1278.5h1.5M714.5 1273h1.5M709 1294h1.5M712 1295.5h1.5M725 1287h1.5M738.5 1279h1.5M714.5 1288.5h1.5M726 1255.5h1.5M744 1274.5h1.5M730.5 1268.5h1.5M724.5 1289.5h1.5M696 1281.5h1.5M717.5 1290h1.5M703 1288h1.5M713 1271h1.5M668 1300h1.5M729 1280h1.5M734 1278.5h1.5M704 1279h1.5M727 1272.5h1.5M741 1271h1.5M743 1258.5h1.5M754 1284.5h1.5M725 1283h1.5M708.5 1299h1.5M740 1260.5h1.5M734 1274h1.5M733.5 1281.5h1.5M730 1271h1.5M743.5 1279h1.5M710.5 1286h1.5M690.5 1306.5h1.5M743 1261.5h1.5M722.5 1275.5h1.5M715 1286h1.5M704.5 1286.5h1.5M707 1296h1.5M723 1272h1.5M720.5 1276.5h1.5M740.5 1260.5h1.5M729 1264.5h1.5M743 1278.5h1.5M750.5 1279h1.5M734 1287h1.5M745.5 1248.5h1.5M700.5 1273h1.5M732.5 1252h1.5M680 1291h1.5M689 1303.5h1.5M690 1277h1.5M720.5 1279.5h1.5M680.5 1296h1.5M717.5 1276.5h1.5M721.5 1294h1.5M760.5 1249h1.5M694 1293.5h1.5M724.5 1276h1.5M746 1292h1.5M685 1296h1.5M747.5 1255h1.5M740 1275h1.5M756.5 1281h1.5M717 1258.5h1.5M720.5 1308h1.5M696.5 1301.5h1.5M664.5 1298h1.5M738.5 1268h1.5M709 1276h1.5M686.5 1310.5h1.5M706.5 1268.5h1.5M725 1284h1.5M718 1282.5h1.5M717.5 1272h1.5M726.5 1285h1.5M745.5 1273.5h1.5M712 1293.5h1.5M725.5 1266.5h1.5M716 1291h1.5M736.5 1245h1.5M759.5 1269h1.5M723.5 1274.5h1.5M724.5 1268h1.5M708.5 1267.5h1.5M701.5 1322.5h1.5M723.5 1280h1.5M715.5 1271.5h1.5M715.5 1283.5h1.5M712.5 1274.5h1.5M731.5 1274.5h1.5M733 1280.5h1.5M716.5 1279.5h1.5M744 1251.5h1.5M688 1307.5h1.5M702.5 1277h1.5M737 1266.5h1.5M708 1312.5h1.5M689.5 1298.5h1.5M686 1305h1.5M713.5 1294.5h1.5M729 1291.5h1.5M703 1269.5h1.5M724 1273.5h1.5M679.5 1292h1.5M716 1302.5h1.5M732.5 1267h1.5M718 1254.5h1.5M712.5 1290h1.5M721 1272h1.5M722.5 1282.5h1.5M726 1287h1.5M730 1279.5h1.5M759 1265h1.5M750.5 1251h1.5M689.5 1297.5h1.5M725.5 1295.5h1.5M698.5 1292.5h1.5M729.5 1275h1.5M720 1284.5h1.5M751 1279.5h1.5M716.5 1271h1.5M744 1250h1.5M763.5 1269h1.5M754 1266.5h1.5M674 1296h1.5M723 1269h1.5M718.5 1288.5h1.5M710.5 1270h1.5M741 1272.5h1.5M720.5 1288.5h1.5M731 1290h1.5M732 1289.5h1.5M687.5 1306.5h1.5M708 1276h1.5M748.5 1272.5h1.5M686.5 1310.5h1.5M728 1265h1.5M695.5 1275h1.5M713.5 1281.5h1.5M738 1271.5h1.5M702 1294.5h1.5M710.5 1273.5h1.5M694 1304.5h1.5M733 1278.5h1.5M708 1289.5h1.5M688.5 1287h1.5M723 1281h1.5M683 1289.5h1.5M719.5 1292.5h1.5M706 1290.5h1.5M724 1273.5h1.5M718 1263h1.5M717 1300.5h1.5M755 1268h1.5M731.5 1248.5h1.5M701 1288h1.5M737.5 1273h1.5M727.5 1274.5h1.5M681.5 1269h1.5M742 1257.5h1.5M687.5 1306.5h1.5M733.5 1281h1.5M737 1256.5h1.5M702 1287h1.5M724.5 1249.5h1.5M729 1286h1.5M742.5 1274.5h1.5M754 1262h1.5M739.5 1251.5h1.5M698 1317.5h1.5M701.5 1287.5h1.5M736 1279.5h1.5M743 1267.5h1.5M705 1298.5h1.5M724 1253h1.5M737 1260h1.5M737.5 1275h1.5M723 1283.5h1.5M723.5 1286.5h1.5M657 1315h1.5M709.5 1281.5h1.5M708.5 1298.5h1.5M697 1300.5h1.5M735 1274h1.5M736 1281.5h1.5M720 1275h1.5M734 1278.5h1.5M728 1252h1.5M711 1271.5h1.5M736 1278.5h1.5M711.5 1275.5h1.5M731.5 1270.5h1.5M759 1277.5h1.5M741.5 1268.5h1.5M757.5 1258.5h1.5M707.5 1279h1.5M707.5 1288h1.5M721.5 1260h1.5M713.5 1286.5h1.5M733.5 1270.5h1.5M718.5 1264.5h1.5M703 1290h1.5M732 1274.5h1.5M703 1287.5h1.5M753.5 1265h1.5M711.5 1271.5h1.5M707.5 1288h1.5M729.5 1281h1.5M726.5 1270.5h1.5M723.5 1304.5h1.5M702.5 1274h1.5M687.5 1296.5h1.5M735.5 1262h1.5M749.5 1260.5h1.5M738 1258h1.5M707 1289h1.5M729 1271.5h1.5M730 1281h1.5M691.5 1293.5h1.5M708 1281h1.5M726 1269h1.5M681 1302h1.5M703.5 1297h1.5M723.5 1249h1.5M708 1292h1.5M698.5 1304h1.5M740.5 1264.5h1.5M692 1267.5h1.5M748.5 1287.5h1.5M754.5 1254.5h1.5M705 1300.5h1.5M721.5 1285h1.5M727.5 1276h1.5M747 1276h1.5M705.5 1277h1.5M670.5 1307h1.5M702.5 1296.5h1.5M713 1281h1.5M739 1272.5h1.5M729 1296h1.5M732.5 1266h1.5M718.5 1291h1.5M718 1266h1.5M746 1279.5h1.5M753 1278.5h1.5M726.5 1273h1.5M686 1302h1.5M731.5 1273h1.5M683 1300h1.5M727.5 1261.5h1.5M727 1281h1.5M753 1281h1.5M715 1285.5h1.5M729 1282.5h1.5M740 1285.5h1.5M678.5 1312h1.5M729 1270.5h1.5M677 1307h1.5M717.5 1303.5h1.5M723.5 1267h1.5M685 1310h1.5M733 1268.5h1.5M730.5 1268h1.5M747.5 1275h1.5M681 1286.5h1.5M687 1280.5h1.5M718 1266h1.5M714.5 1282.5h1.5M726 1290.5h1.5M753.5 1251.5h1.5M701.5 1297h1.5M750 1255h1.5M732.5 1260.5h1.5M714.5 1268h1.5M720.5 1278h1.5M743.5 1288h1.5M701.5 1265.5h1.5M719 1284.5h1.5M724 1275h1.5M750.5 1261.5h1.5M714.5 1273h1.5M689.5 1304h1.5M719.5 1266h1.5M719.5 1278h1.5M704 1279.5h1.5M727.5 1272h1.5M704.5 1278.5h1.5M724 1289h1.5M723.5 1274h1.5M735 1287.5h1.5M732 1275.5h1.5M732.5 1269.5h1.5M721.5 1272h1.5M693 1301.5h1.5M726 1272h1.5M736.5 1259.5h1.5M682.5 1295h1.5M693.5 1301.5h1.5M712.5 1297.5h1.5M734 1258.5h1.5M708.5 1294h1.5M728 1248h1.5M713.5 1255h1.5M717 1296h1.5M694 1290h1.5M718.5 1272h1.5M700.5 1286.5h1.5M727.5 1272.5h1.5M700 1284h1.5M707 1275h1.5M711 1294h1.5M706 1265.5h1.5M743.5 1270h1.5M692 1293h1.5M710 1295h1.5M713.5 1283h1.5M708.5 1267.5h1.5M752 1267.5h1.5M707.5 1290h1.5M740 1267.5h1.5M715 1275h1.5M688.5 1271h1.5M743 1260h1.5M744.5 1278h1.5M694.5 1284h1.5M754 1256.5h1.5M702 1277.5h1.5M727.5 1294.5h1.5M735.5 1272h1.5M760 1272h1.5M744 1300.5h1.5M723 1292h1.5M719 1292.5h1.5M719 1286.5h1.5M725.5 1266h1.5M718.5 1267.5h1.5M743.5 1276h1.5M727.5 1296.5h1.5M751.5 1261.5h1.5M728.5 1266.5h1.5M709.5 1272.5h1.5M711 1284h1.5M692.5 1305h1.5M740.5 1266h1.5M667.5 1310.5h1.5M690.5 1291h1.5M710 1297h1.5M703 1280.5h1.5M762.5 1257h1.5M742 1272h1.5M731.5 1288.5h1.5M720 1279h1.5M718.5 1293.5h1.5M737.5 1293.5h1.5M750.5 1278h1.5M693 1286.5h1.5M715 1300.5h1.5M696.5 1282.5h1.5M716 1318.5h1.5M721.5 1285.5h1.5M704.5 1302h1.5M681 1292h1.5M708 1290h1.5M715 1303h1.5M726.5 1266.5h1.5M738 1263h1.5M715 1294.5h1.5M678 1316.5h1.5M703 1281.5h1.5M755.5 1249.5h1.5M741 1269.5h1.5M727 1272h1.5M724.5 1297h1.5M736 1262.5h1.5M697.5 1286.5h1.5M747 1277.5h1.5M722 1257h1.5M743.5 1281.5h1.5M736 1295h1.5M699.5 1302h1.5M707.5 1301.5h1.5M743.5 1288h1.5M728 1269h1.5M710 1283h1.5M719 1298h1.5M736.5 1249h1.5M722 1279h1.5M708.5 1293h1.5M754.5 1269h1.5M742.5 1255.5h1.5M717 1271.5h1.5M727.5 1279h1.5M747.5 1279h1.5M729 1262.5h1.5M698 1300.5h1.5M750 1260h1.5M704 1317.5h1.5M731.5 1274.5h1.5M698.5 1294h1.5M737.5 1275h1.5M707.5 1287h1.5M719 1302h1.5M735 1263h1.5M700 1296h1.5M709 1281.5h1.5M693 1284h1.5M722.5 1274.5h1.5M689.5 1279.5h1.5M726.5 1270.5h1.5M748.5 1265h1.5M676.5 1294.5h1.5M710.5 1291.5h1.5M701.5 1293.5h1.5M695.5 1296h1.5M737 1288h1.5M721 1268.5h1.5M748.5 1258.5h1.5M732 1263.5h1.5M718 1270.5h1.5M732 1282.5h1.5M708 1280h1.5M723 1267h1.5M694 1301.5h1.5M718 1279h1.5M735 1278.5h1.5M711 1270.5h1.5M712 1292.5h1.5M720.5 1272h1.5M709.5 1294.5h1.5M721 1288.5h1.5M736 1265h1.5M740 1268.5h1.5M713 1255.5h1.5M697 1282.5h1.5M715.5 1284h1.5M725.5 1279.5h1.5M712 1294h1.5M754 1253h1.5M704 1281h1.5M719.5 1273h1.5M679 1287h1.5M748.5 1278h1.5M753 1261h1.5M699.5 1287.5h1.5M683 1283.5h1.5M729 1281h1.5M758.5 1253.5h1.5M694 1295h1.5M712.5 1278h1.5M720.5 1263.5h1.5M727.5 1283.5h1.5M750 1264h1.5M738.5 1262h1.5M723 1295h1.5M692 1292.5h1.5M741.5 1263h1.5M714 1280h1.5M730 1287.5h1.5M739 1267.5h1.5M744 1268.5h1.5M731.5 1259h1.5M756 1259.5h1.5M678 1328.5h1.5M718.5 1275.5h1.5M712 1290.5h1.5M700.5 1285h1.5M708.5 1283h1.5M716 1293.5h1.5M728.5 1279h1.5M732 1270.5h1.5M712 1308.5h1.5M748.5 1282.5h1.5M738 1262h1.5M668.5 1297h1.5M732.5 1270h1.5M698 1261h1.5M714.5 1269h1.5M712 1296h1.5M695.5 1283.5h1.5M730 1284.5h1.5M722 1297.5h1.5M687.5 1281.5h1.5M681.5 1283h1.5M721.5 1266h1.5M696 1300h1.5M743 1278.5h1.5M732.5 1259.5h1.5M729.5 1280h1.5M713 1286.5h1.5M693 1289h1.5M737 1288.5h1.5M747 1270.5h1.5M722 1277.5h1.5M688 1289.5h1.5M709 1294.5h1.5M743.5 1274h1.5M744 1265h1.5M701.5 1291h1.5M711 1294h1.5M713.5 1282.5h1.5M730 1263.5h1.5M731.5 1254.5h1.5M726.5 1274.5h1.5M728.5 1256h1.5M696 1305h1.5M713 1283h1.5M713.5 1295.5h1.5M728 1277.5h1.5M701.5 1298.5h1.5M698 1285.5h1.5M693.5 1294.5h1.5M743 1268h1.5M713 1285.5h1.5M723.5 1278.5h1.5M718 1267h1.5M712.5 1261.5h1.5M725.5 1261.5h1.5M729 1241.5h1.5M743.5 1243h1.5M699.5 1297h1.5M731 1268.5h1.5M733.5 1260.5h1.5M711.5 1281h1.5M699 1268h1.5M720 1278h1.5M734 1253.5h1.5M716 1298h1.5M730 1280.5h1.5M732.5 1277.5h1.5M756.5 1257h1.5M705.5 1297.5h1.5M709.5 1285h1.5M723 1267h1.5M714 1290h1.5M716 1295h1.5M696 1282h1.5M748.5 1241h1.5M731.5 1296.5h1.5M728.5 1292h1.5M733.5 1271h1.5M706 1261h1.5M716 1285h1.5M740 1299h1.5M730 1281.5h1.5M746.5 1269.5h1.5M719 1279.5h1.5M717 1287.5h1.5M721.5 1287h1.5M702.5 1293h1.5M749.5 1257.5h1.5M757.5 1257.5h1.5M720.5 1281h1.5M703 1264.5h1.5M751 1288h1.5M733.5 1278h1.5M724.5 1292h1.5M722 1282h1.5M687.5 1293.5h1.5M733.5 1283h1.5M729.5 1252.5h1.5M696 1303h1.5M712 1296.5h1.5M689 1298.5h1.5M723 1284h1.5M689.5 1274h1.5M727.5 1281.5h1.5M738.5 1263h1.5M739 1274h1.5M746 1262h1.5M687 1300h1.5M726 1282.5h1.5M689.5 1295.5h1.5M737 1267h1.5M726.5 1300.5h1.5M707.5 1304h1.5M739.5 1264h1.5M720 1279h1.5M721 1271h1.5M710.5 1281h1.5M713 1280h1.5M678.5 1308h1.5M699.5 1268.5h1.5M712 1280h1.5M742.5 1258h1.5M742 1283.5h1.5M708.5 1286.5h1.5M755.5 1259.5h1.5M726 1270.5h1.5M734 1270h1.5M683.5 1298.5h1.5M699 1295h1.5M706 1295h1.5M714.5 1267h1.5M715 1291h1.5M737.5 1256.5h1.5M711.5 1310.5h1.5M721.5 1280h1.5M708 1290h1.5M755.5 1260h1.5M741.5 1266h1.5M697 1285.5h1.5M700.5 1295h1.5M745.5 1265h1.5M710.5 1275.5h1.5M720.5 1263h1.5M704.5 1301.5h1.5M714 1279.5h1.5M722 1288h1.5M719.5 1270h1.5M706 1286h1.5M726.5 1275h1.5M719 1281h1.5M715.5 1272.5h1.5M739.5 1260.5h1.5M711 1258.5h1.5M710.5 1271.5h1.5M716.5 1313.5h1.5M733 1287h1.5M743.5 1277.5h1.5M727 1296.5h1.5M737.5 1269h1.5M725.5 1274.5h1.5M721.5 1278h1.5M739 1290.5h1.5M704.5 1304.5h1.5M721.5 1295.5h1.5M717 1287h1.5M707.5 1265h1.5M749 1248.5h1.5M716.5 1268h1.5M694 1294h1.5M702.5 1275.5h1.5M711.5 1266h1.5M722.5 1276.5h1.5M670 1305h1.5M723.5 1263.5h1.5M733.5 1276.5h1.5M701.5 1291.5h1.5M731.5 1260.5h1.5M724 1292h1.5M707 1294h1.5M699 1291h1.5M715 1251h1.5M713.5 1289.5h1.5M722 1271.5h1.5M703.5 1298.5h1.5M718 1288h1.5M725.5 1270h1.5M738 1260h1.5M752 1276.5h1.5M740 1264h1.5M725.5 1276h1.5M707 1305h1.5M715.5 1294.5h1.5M747 1270h1.5M705.5 1284.5h1.5M668.5 1311.5h1.5M735 1267h1.5M708 1283.5h1.5M744 1263.5h1.5M753.5 1250.5h1.5M722.5 1272.5h1.5M762 1254.5h1.5M759.5 1248.5h1.5M751 1261h1.5M730 1257.5h1.5M721.5 1265h1.5M717 1262h1.5M725.5 1290.5h1.5M724 1261h1.5M687.5 1307.5h1.5M745.5 1250.5h1.5M761.5 1252.5h1.5M674 1289h1.5M736.5 1270.5h1.5M742.5 1249.5h1.5M723.5 1277.5h1.5M716 1277.5h1.5M715 1285h1.5M728.5 1277.5h1.5M737 1253h1.5M692 1311h1.5M700.5 1287.5h1.5M705.5 1281h1.5M689.5 1292h1.5M733.5 1271h1.5M728 1268h1.5M735.5 1263h1.5M682 1308.5h1.5M732.5 1264h1.5M739 1256h1.5M744.5 1286.5h1.5M720.5 1276.5h1.5M728.5 1295.5h1.5M741 1344.5h1.5M736.5 1311h1.5M704 1252.5h1.5M740.5 1291h1.5M705.5 1268.5h1.5M692.5 1296h1.5M762 1271h1.5M694 1331h1.5M716.5 1319.5h1.5M738 1338.5h1.5M718.5 1266h1.5M719.5 1285.5h1.5M744 1328h1.5M735.5 1284h1.5M729.5 1284.5h1.5M756 1346.5h1.5M700 1324.5h1.5M726 1334h1.5M709 1287.5h1.5M694.5 1306h1.5M762.5 1292h1.5M745 1292h1.5M707.5 1259h1.5M721 1332h1.5M708.5 1286h1.5M741.5 1305.5h1.5M717 1333.5h1.5M758 1325h1.5M707 1266h1.5M717 1309h1.5M759 1296.5h1.5M755.5 1272.5h1.5M713 1250h1.5M727 1310h1.5M755.5 1325.5h1.5M740.5 1342h1.5M738 1282h1.5M739.5 1286.5h1.5M758.5 1262.5h1.5M729 1346.5h1.5M705 1332.5h1.5M726 1343.5h1.5M744.5 1296.5h1.5M727.5 1267.5h1.5M714.5 1304.5h1.5M740 1284h1.5M724.5 1281.5h1.5M761.5 1254.5h1.5M717.5 1253.5h1.5M743.5 1284.5h1.5M732 1340.5h1.5M697.5 1319.5h1.5M726 1323.5h1.5M694 1270h1.5M749 1321h1.5M745 1287.5h1.5M695.5 1252h1.5M728 1286.5h1.5M761 1259.5h1.5M712.5 1333h1.5M757 1331.5h1.5M703 1275.5h1.5M692.5 1308.5h1.5M730 1283h1.5M709 1261.5h1.5M755.5 1312h1.5M740.5 1323.5h1.5M741.5 1325h1.5M740.5 1261h1.5M741 1298.5h1.5M746 1248.5h1.5M740 1255h1.5M752 1254.5h1.5M732 1252h1.5M717 1280h1.5M725.5 1282.5h1.5M723.5 1317h1.5M716 1279.5h1.5M722 1260.5h1.5M719.5 1342.5h1.5M700 1335.5h1.5M752 1258.5h1.5M746.5 1283h1.5M716.5 1263h1.5M760 1344h1.5M760.5 1282.5h1.5M753.5 1256h1.5M694 1320h1.5M718.5 1318.5h1.5M725 1270.5h1.5M743.5 1279h1.5M737.5 1288.5h1.5M741 1273.5h1.5M747 1275.5h1.5M760.5 1328h1.5M731.5 1322.5h1.5M757 1316.5h1.5M750.5 1316h1.5M716.5 1299h1.5M750.5 1282h1.5M700.5 1319.5h1.5M703.5 1258h1.5M763.5 1260.5h1.5M723 1259h1.5M725 1320.5h1.5M760.5 1306.5h1.5M718 1292h1.5M709 1294.5h1.5M697.5 1330.5h1.5M729.5 1258.5h1.5M706.5 1285h1.5M696.5 1323.5h1.5M750.5 1313h1.5M715.5 1290.5h1.5M733.5 1269h1.5M699.5 1342.5h1.5M728.5 1287.5h1.5M737.5 1335.5h1.5M724.5 1325.5h1.5M716.5 1334h1.5M714.5 1247.5h1.5M700 1294.5h1.5M700.5 1272.5h1.5M727.5 1274h1.5M702 1273.5h1.5M708 1285.5h1.5M704 1288h1.5M750 1310.5h1.5M724.5 1276.5h1.5M732 1274h1.5M734 1283h1.5M720.5 1316h1.5M713.5 1246h1.5M719.5 1322h1.5M730.5 1280.5h1.5M718 1305h1.5M702 1323.5h1.5M758 1298h1.5M744.5 1312h1.5M697 1340h1.5M757 1249h1.5M704.5 1281.5h1.5M699 1340.5h1.5M704.5 1331.5h1.5M759 1309h1.5M708 1269.5h1.5M748.5 1279.5h1.5M738.5 1333.5h1.5M729.5 1317h1.5M718.5 1275h1.5M698.5 1259.5h1.5M743 1325.5h1.5M720.5 1305h1.5M730.5 1344.5h1.5M695.5 1287.5h1.5M748 1281.5h1.5M742 1275.5h1.5M730 1295h1.5M727.5 1279h1.5M716.5 1253.5h1.5M716.5 1278h1.5M697 1268.5h1.5M741.5 1329h1.5M695 1270h1.5M692 1293h1.5M694 1314.5h1.5M706.5 1261h1.5M733 1300h1.5M741 1332.5h1.5M722.5 1305.5h1.5M721.5 1295h1.5M733.5 1331.5h1.5M735 1342.5h1.5M753 1329.5h1.5M751 1287.5h1.5M751.5 1308.5h1.5M753 1299.5h1.5M755.5 1277h1.5M732 1290.5h1.5M735 1330.5h1.5M744.5 1276.5h1.5M706.5 1336.5h1.5M718 1347h1.5M757.5 1277.5h1.5M729.5 1258.5h1.5M695.5 1343.5h1.5M721 1263.5h1.5M703.5 1324.5h1.5M717.5 1250h1.5M731 1270h1.5M728.5 1272.5h1.5M727.5 1276.5h1.5M693.5 1340h1.5M724 1264h1.5M694 1263.5h1.5M721 1316.5h1.5M738.5 1343h1.5M701 1285.5h1.5M758 1325h1.5M737.5 1249h1.5M707.5 1330h1.5M720.5 1320h1.5M699 1337.5h1.5M693.5 1311h1.5M758 1342h1.5M740.5 1286h1.5M748 1320.5h1.5M737 1320h1.5M757.5 1273.5h1.5M756.5 1340h1.5M696 1325.5h1.5M705.5 1334.5h1.5M720.5 1283h1.5M716.5 1332h1.5M730 1278h1.5M711 1344.5h1.5M749.5 1248.5h1.5M692.5 1309h1.5M749 1257.5h1.5M720.5 1319.5h1.5M692.5 1283h1.5M753 1335h1.5M724 1335h1.5M744 1283.5h1.5M755 1328.5h1.5M694.5 1315.5h1.5M711 1289.5h1.5M700.5 1281h1.5M699 1267.5h1.5M760 1252.5h1.5M750 1299h1.5M718.5 1301h1.5M741.5 1291.5h1.5M758 1343h1.5M708 1247.5h1.5M693 1332.5h1.5M751.5 1327.5h1.5M744 1323.5h1.5M703.5 1299.5h1.5M727.5 1265.5h1.5M703.5 1334h1.5M735.5 1322h1.5M738.5 1331h1.5M712 1270h1.5M748 1302.5h1.5M726 1288.5h1.5M743 1311h1.5M738 1323h1.5M724.5 1263.5h1.5M713 1264h1.5M706.5 1250.5h1.5M745.5 1262h1.5M738 1270.5h1.5M712 1253.5h1.5M761.5 1282.5h1.5M750.5 1315h1.5M701 1327h1.5M703.5 1281.5h1.5M731 1254.5h1.5M699.5 1323.5h1.5M711 1305.5h1.5M729.5 1283h1.5M732 1320.5h1.5M714 1324h1.5M710.5 1309.5h1.5M708 1320.5h1.5M706 1304h1.5M721.5 1322h1.5M705 1317h1.5M703 1270.5h1.5M706 1318.5h1.5M714 1296.5h1.5M714.5 1305.5h1.5M721 1279h1.5M713 1307h1.5M699 1283h1.5M710 1305h1.5M714 1296h1.5M707.5 1298.5h1.5M717.5 1325h1.5M689.5 1315h1.5M713 1313.5h1.5M727 1293h1.5M724.5 1285h1.5M715.5 1301h1.5M714.5 1289h1.5M719 1330.5h1.5M703.5 1308h1.5M723.5 1300.5h1.5M729 1298h1.5M712.5 1289h1.5M715.5 1305h1.5M721 1295h1.5M706.5 1312.5h1.5M729.5 1315h1.5M734.5 1314h1.5M719.5 1316h1.5M730.5 1325h1.5M702 1318h1.5M717 1302h1.5M694.5 1280.5h1.5M710 1281.5h1.5M710 1316.5h1.5M707.5 1306.5h1.5M702 1310h1.5M719.5 1282h1.5M705.5 1284.5h1.5M719.5 1307.5h1.5M713.5 1303h1.5M717.5 1310.5h1.5M708.5 1295h1.5M713.5 1302h1.5M736.5 1299h1.5M717 1312.5h1.5M729.5 1292h1.5M728.5 1302.5h1.5M741.5 1311h1.5M700.5 1302h1.5M728.5 1306.5h1.5M713.5 1316.5h1.5M710 1301.5h1.5M703.5 1332.5h1.5M700.5 1307.5h1.5M719.5 1305h1.5M700 1289h1.5M719.5 1292.5h1.5M691 1311h1.5M704.5 1315h1.5M712 1301h1.5M714.5 1287h1.5M705 1301h1.5M701.5 1316.5h1.5M710.5 1282h1.5M708 1306.5h1.5M709 1311.5h1.5M720.5 1343.5h1.5M726.5 1279h1.5M710 1300.5h1.5M720.5 1290h1.5M708 1285h1.5M707.5 1296h1.5M710.5 1286h1.5M725 1312.5h1.5M698 1305.5h1.5M697 1326.5h1.5M732 1304h1.5M704.5 1294.5h1.5M709 1303.5h1.5M729 1320.5h1.5M724.5 1307.5h1.5M701.5 1292.5h1.5M714.5 1286h1.5M717.5 1318h1.5M720 1313h1.5M693.5 1326.5h1.5M697 1302.5h1.5M721 1310.5h1.5M700 1287.5h1.5M717 1313h1.5M702 1311.5h1.5M697.5 1315h1.5M704.5 1306.5h1.5M713 1323.5h1.5M716.5 1295.5h1.5M718 1339.5h1.5M722 1304h1.5M705 1295h1.5M721.5 1291h1.5M714 1328h1.5M715.5 1287.5h1.5M738 1333h1.5M719.5 1325.5h1.5M711 1316.5h1.5M709.5 1283.5h1.5M742.5 1282.5h1.5M717.5 1309.5h1.5M719.5 1303.5h1.5M713 1307h1.5M719.5 1305h1.5M713 1284h1.5M736 1313.5h1.5M716.5 1295h1.5M703 1319h1.5M712 1315h1.5M699 1329.5h1.5M724 1303.5h1.5M719 1317h1.5M699.5 1332h1.5M719.5 1293.5h1.5M702 1321h1.5M716.5 1312.5h1.5M714.5 1289h1.5M719.5 1302h1.5M714 1343h1.5M723.5 1320h1.5M744 1311h1.5M715.5 1294h1.5M709 1272h1.5M722.5 1284.5h1.5M724 1304.5h1.5M715.5 1304.5h1.5M729 1324.5h1.5M713.5 1290.5h1.5M724 1289.5h1.5M697 1313h1.5M727.5 1298.5h1.5M718.5 1298.5h1.5M722 1322.5h1.5M711 1288.5h1.5M698 1320h1.5M701.5 1311h1.5M722.5 1297h1.5M712 1321h1.5M705 1290.5h1.5M711.5 1325.5h1.5M731.5 1303.5h1.5M706 1322h1.5M695.5 1309h1.5M713.5 1325.5h1.5M729.5 1290h1.5M716 1296h1.5M711 1315h1.5M710.5 1308h1.5M724.5 1329h1.5M717 1307h1.5M702 1330.5h1.5M719.5 1307h1.5M715 1311h1.5M722.5 1319.5h1.5M731.5 1309h1.5M733.5 1322h1.5M713.5 1278.5h1.5M715 1330h1.5M705.5 1306.5h1.5M716 1320h1.5M709.5 1291h1.5M720.5 1293h1.5M694 1334.5h1.5M724 1335h1.5M723.5 1316h1.5M718 1302h1.5M719.5 1296h1.5M702 1299.5h1.5M728 1285.5h1.5M700.5 1314.5h1.5M709.5 1313h1.5M725 1312.5h1.5M707 1325.5h1.5M722 1305.5h1.5M714 1311h1.5M710.5 1279h1.5M722.5 1316h1.5M688.5 1313h1.5M733.5 1287h1.5M713 1302h1.5M732.5 1323h1.5M704.5 1310.5h1.5M739.5 1295h1.5M714 1313h1.5M707.5 1333h1.5M709 1283h1.5M708 1315.5h1.5M705 1310h1.5M720 1285.5h1.5M708 1310.5h1.5M721.5 1296.5h1.5M715.5 1300.5h1.5M722 1313.5h1.5M710 1312.5h1.5M709.5 1312.5h1.5M719 1343h1.5M710.5 1302.5h1.5M707 1288.5h1.5M709 1315.5h1.5M722 1309.5h1.5M710.5 1297h1.5M704 1296h1.5M700 1326.5h1.5M734 1274h1.5M717 1309.5h1.5M716.5 1295.5h1.5M725 1311.5h1.5M725.5 1293h1.5M699 1312h1.5M703.5 1322h1.5M690.5 1297.5h1.5M707 1299.5h1.5M717 1311.5h1.5M721 1317h1.5M712 1338.5h1.5M729.5 1300h1.5M712.5 1299.5h1.5M718 1289.5h1.5M705.5 1270.5h1.5M709.5 1322h1.5M712.5 1303.5h1.5M717 1289h1.5M714.5 1319h1.5M717.5 1320.5h1.5M728 1315.5h1.5M706 1299.5h1.5M735 1310h1.5M716 1291h1.5M713 1316.5h1.5M714 1296.5h1.5M711 1324h1.5M721.5 1313.5h1.5M719 1286h1.5M717 1322h1.5M711 1320.5h1.5M760.5 1264h1.5M753 1285h1.5M762 1284.5h1.5M763 1263h1.5M763.5 1260.5h1.5M764 1278h1.5M763.5 1264.5h1.5M759 1275h1.5M758 1257h1.5M757 1275.5h1.5M750.5 1276h1.5M763 1270.5h1.5M756 1281h1.5M764 1242h1.5M750.5 1261h1.5M757.5 1312h1.5M752 1289h1.5M763 1281h1.5M759 1298h1.5M763 1294h1.5M763 1271.5h1.5M753.5 1265.5h1.5M754 1247h1.5M753 1297.5h1.5M759.5 1252h1.5M763.5 1288h1.5M758 1283.5h1.5M759.5 1263h1.5M749 1247.5h1.5M756 1274h1.5M761.5 1279.5h1.5M761.5 1272h1.5M764 1340h1.5M759.5 1252h1.5" stroke="#FF0000" stroke-width="1.5" fill="none"/>
<path d="M728.5 1234.5h1.5M758.5 1238.5h1.5M761 1231.5h1.5M758 1240.5h1.5M761 1237.5h1.5M743 1240.5h1.5M755 1240.5h1.5M744.5 1239.5h1.5M746.5 1236.5h1.5M762 1225h1.5M762.5 1234h1.5M746.5 1239h1.5M752 1234h1.5M755.5 1240.5h1.5M749.5 1238h1.5M729.5 1240h1.5M749 1238h1.5M761.5 1235.5h1.5M747 1240h1.5M725 1240.5h1.5M733.5 1238.5h1.5M755 1239.5h1.5M734.5 1238.5h1.5M747.5 1239.5h1.5M757.5 1218h1.5M761 1238h1.5M754.5 1236h1.5M760.5 1191.5h1.5M749.5 1161.5h1.5M759 1207.5h1.5M745.5 1176h1.5M760.5 1223h1.5M754 1197.5h1.5M761 1218.5h1.5M754 1236.5h1.5M760.5 1217.5h1.5M753 1223.5h1.5M764 1185.5h1.5M761.5 1186h1.5M753 1212.5h1.5M754 1203h1.5M760.5 1182h1.5M762.5 1222.5h1.5M764 1220.5h1.5M761.5 1181h1.5M753 1178h1.5M744 1199.5h1.5M742 1216h1.5M753.5 1233h1.5M759.5 1203h1.5M755 1180.5h1.5M739.5 1229.5h1.5M762 1183h1.5M752.5 1216.5h1.5M757 1202h1.5M763 1234h1.5M756.5 1221h1.5M754.5 1175h1.5M753 1199h1.5M762.5 1186.5h1.5M755.5 1193.5h1.5M762 1201h1.5M756.5 1210h1.5M758 1227h1.5M759.5 1180.5h1.5M757 1203.5h1.5M763 1230.5h1.5M743 1203h1.5M763.5 1209h1.5M761.5 1225.5h1.5M751.5 1221.5h1.5M752 1208h1.5M756 1238h1.5M761 1177.5h1.5M751.5 1178.5h1.5M755.5 1203h1.5M753 1185.5h1.5M733.5 1189h1.5M756 1185h1.5M761.5 1220h1.5M750 1202.5h1.5M757.5 1229h1.5M756.5 1191.5h1.5M762.5 1215.5h1.5M739.5 1189h1.5" stroke="#F0883A" stroke-width="1.5" fill="none"/>
<path d="M769 1227h1.5M768.5 1239.5h1.5M766.5 1236h1.5M787 1230h1.5M777.5 1239h1.5M780.5 1239.5h1.5M782 1239.5h1.5M794 1235h1.5M789.5 1235h1.5M797 1236.5h1.5M780 1240h1.5M799.5 1232h1.5M811.5 1240h1.5M767 1234.5h1.5M777 1236h1.5M781.5 1239.5h1.5M782 1239h1.5M786 1224.5h1.5M816.5 1226h1.5M792 1235h1.5M786 1228.5h1.5M831 1228h1.5M785 1235h1.5M771 1220.5h1.5M779.5 1232.5h1.5M764.5 1221h1.5M783.5 1240h1.5M764.5 1240h1.5M830 1240.5h1.5M844 1235h1.5M837 1236.5h1.5M825 1236.5h1.5M843.5 1174h1.5M858 1169h1.5M833.5 1176h1.5M842.5 1223.5h1.5M845 1234h1.5M834.5 1215h1.5M838.5 1205h1.5M850 1161h1.5M857 1196.5h1.5M828 1184h1.5M842 1184h1.5M824.5 1202h1.5M835 1215h1.5M845 1204.5h1.5M846 1158h1.5M838.5 1198.5h1.5M837.5 1233.5h1.5M839 1171h1.5M861.5 1168.5h1.5M840 1180.5h1.5M835.5 1175.5h1.5M836.5 1222.5h1.5M826 1229h1.5M849.5 1211.5h1.5M842 1206.5h1.5M852.5 1160h1.5M847 1183h1.5M847.5 1186h1.5M846.5 1164.5h1.5M827.5 1197.5h1.5M852.5 1212.5h1.5M845 1220h1.5M838 1214h1.5M836.5 1193h1.5M839.5 1187.5h1.5M840.5 1194h1.5M835.5 1197h1.5M842 1174.5h1.5M844.5 1188.5h1.5M842.5 1184.5h1.5M849.5 1222h1.5M832.5 1212h1.5M852.5 1178h1.5M834 1217h1.5M830.5 1182h1.5M833 1217h1.5M835.5 1193.5h1.5M835 1226.5h1.5M834 1167.5h1.5M829.5 1216h1.5M847 1228.5h1.5M831 1194.5h1.5M860.5 1193h1.5M836.5 1199.5h1.5M845 1212h1.5M836 1186.5h1.5M838.5 1183h1.5M837.5 1192h1.5M838.5 1198h1.5M844.5 1189.5h1.5M850 1213.5h1.5M839.5 1184.5h1.5M849.5 1196.5h1.5M831 1223.5h1.5M835 1220h1.5M821 1191.5h1.5M850.5 1200h1.5M846 1179.5h1.5M844 1200h1.5M851.5 1218h1.5M847.5 1179h1.5M837 1165h1.5M831 1179.5h1.5M841 1172h1.5M840.5 1196.5h1.5M832 1235h1.5M830.5 1225.5h1.5M823 1196.5h1.5M831.5 1185h1.5M855.5 1192h1.5M832 1211h1.5M838 1203.5h1.5M833.5 1180h1.5M834.5 1218.5h1.5M839 1176h1.5M842.5 1202h1.5M845.5 1189h1.5M840.5 1209.5h1.5M833 1220.5h1.5M841 1174.5h1.5M832 1197.5h1.5M836.5 1217.5h1.5M838.5 1207h1.5M834 1199.5h1.5M851.5 1196.5h1.5M836.5 1180h1.5M841 1232.5h1.5M830 1199h1.5M827.5 1190.5h1.5M843 1163.5h1.5M837.5 1206.5h1.5M842 1208h1.5M833 1206.5h1.5M836 1216.5h1.5M822.5 1193.5h1.5M842 1231h1.5M841.5 1204.5h1.5M844 1229h1.5M838 1167.5h1.5M828 1215.5h1.5M843 1194h1.5M836.5 1204h1.5M842.5 1211h1.5M832 1159.5h1.5M833.5 1169h1.5M830 1236h1.5M823 1211h1.5M848.5 1222.5h1.5M843 1230.5h1.5M855.5 1193h1.5M844.5 1229.5h1.5M834 1194.5h1.5M836 1210.5h1.5M826 1233h1.5M845.5 1213.5h1.5M822 1176h1.5M853 1196h1.5M827 1205h1.5M846.5 1212h1.5M840 1226h1.5M835.5 1212.5h1.5M842 1197h1.5M838 1192h1.5M841.5 1193.5h1.5M847 1187.5h1.5M853.5 1186.5h1.5M848.5 1222h1.5M842.5 1202h1.5M835 1188h1.5M843 1199h1.5M850.5 1189.5h1.5M838 1161.5h1.5M846 1212.5h1.5M849 1224h1.5M847.5 1219h1.5M846 1217.5h1.5M826.5 1174.5h1.5M831 1229h1.5M834.5 1185.5h1.5M841 1171.5h1.5M844 1151h1.5M831.5 1204.5h1.5M831 1230h1.5M841.5 1226h1.5M844 1199.5h1.5M833 1221.5h1.5M847.5 1191h1.5M843.5 1209.5h1.5M850.5 1230.5h1.5M839.5 1172h1.5M826 1174h1.5M836.5 1234.5h1.5M853 1222h1.5M851 1183.5h1.5M829 1177h1.5M824.5 1174.5h1.5M837 1204h1.5M842 1184h1.5M845.5 1184.5h1.5M841 1174.5h1.5M849.5 1200.5h1.5M846.5 1172h1.5M842.5 1213h1.5M824.5 1227h1.5M831 1205h1.5M855.5 1222h1.5M829 1196h1.5M851 1181h1.5M838 1191h1.5M845.5 1164.5h1.5M846 1185.5h1.5M841 1195h1.5M846 1199.5h1.5M852.5 1223h1.5M834.5 1231.5h1.5M843.5 1204h1.5M848 1176h1.5M830 1200.5h1.5M835 1201h1.5M842.5 1228.5h1.5M833 1163h1.5M852 1202h1.5M847.5 1219.5h1.5M849 1191.5h1.5M836 1154h1.5M833 1201.5h1.5M835.5 1174h1.5M841.5 1231h1.5M840.5 1174h1.5M851 1182h1.5M853 1194h1.5M842 1236h1.5M830 1176h1.5M838.5 1197h1.5M862 1179.5h1.5M830.5 1178.5h1.5M843 1211.5h1.5M835.5 1200.5h1.5M856.5 1201h1.5M835.5 1182.5h1.5M837 1188h1.5M826.5 1203h1.5M842.5 1195.5h1.5M843 1206h1.5M830.5 1206.5h1.5M845.5 1163.5h1.5M852.5 1171.5h1.5M832 1204.5h1.5M845.5 1218h1.5M845.5 1188h1.5M842 1192.5h1.5M842.5 1201.5h1.5M837 1192h1.5M826 1219h1.5M843.5 1147h1.5M847.5 1199h1.5M833.5 1176.5h1.5M835.5 1178.5h1.5M834.5 1239h1.5M843 1213.5h1.5M834 1196h1.5M840.5 1214.5h1.5M840.5 1208h1.5M843.5 1193h1.5M838 1184.5h1.5M849.5 1193h1.5M843.5 1196.5h1.5M849.5 1154.5h1.5M843.5 1171h1.5M844 1196.5h1.5M829 1208h1.5M843 1194.5h1.5M840 1203.5h1.5M850.5 1193h1.5M849 1199h1.5M851.5 1194.5h1.5M835.5 1175h1.5M840.5 1182h1.5M852 1180h1.5M835.5 1213.5h1.5M850.5 1217h1.5M849.5 1198h1.5M854.5 1216.5h1.5M850 1219.5h1.5M831.5 1199h1.5M853 1216.5h1.5M840.5 1234.5h1.5M844 1217.5h1.5M844 1212.5h1.5M846 1230h1.5M852.5 1189.5h1.5M844 1229h1.5M840 1170h1.5M833.5 1180.5h1.5M837.5 1183h1.5M849 1193.5h1.5M851 1174h1.5M838 1202.5h1.5M847.5 1226.5h1.5M836.5 1223h1.5M827.5 1220h1.5M830.5 1210.5h1.5M850 1220.5h1.5M828 1189.5h1.5M846.5 1216h1.5M843 1149.5h1.5M850.5 1231.5h1.5M842.5 1205.5h1.5M845 1233.5h1.5M843 1195.5h1.5M844 1199.5h1.5M841 1159.5h1.5M845 1227h1.5M849 1222h1.5M840.5 1203.5h1.5M850.5 1220h1.5M853 1184.5h1.5M835.5 1192.5h1.5M833.5 1169.5h1.5M844.5 1209h1.5M843 1208h1.5M829.5 1189h1.5M838.5 1201h1.5M829.5 1178.5h1.5M837.5 1224.5h1.5M843 1223.5h1.5M840 1200h1.5M845 1196h1.5M836 1165.5h1.5M836 1219h1.5M851 1182h1.5M827 1221.5h1.5M841.5 1169h1.5M816 1178h1.5M837.5 1173.5h1.5M846.5 1181.5h1.5M842 1197.5h1.5M840.5 1215.5h1.5M845.5 1177h1.5M837.5 1184.5h1.5M846 1198h1.5M851 1204.5h1.5M828 1238.5h1.5M839.5 1148h1.5M828 1226h1.5M828.5 1231h1.5M841.5 1216.5h1.5M839 1212h1.5M843.5 1199h1.5M832.5 1208h1.5M826.5 1221.5h1.5M842.5 1210.5h1.5M820 1174h1.5M837 1215.5h1.5M839 1176.5h1.5M839.5 1178h1.5M831.5 1223.5h1.5M845 1212h1.5M851 1211h1.5M832.5 1216.5h1.5M832 1189h1.5M840.5 1196.5h1.5M826.5 1177.5h1.5M841 1186h1.5M850 1230h1.5M832 1201.5h1.5M853.5 1197h1.5M837.5 1220h1.5M839 1229h1.5M836 1189h1.5M847.5 1202.5h1.5M842 1156h1.5M838 1220h1.5M834.5 1216h1.5M843 1195.5h1.5M852 1192h1.5M839 1195h1.5M841.5 1217.5h1.5M829 1220h1.5M841.5 1212.5h1.5M860 1188h1.5M831 1204.5h1.5M844 1220h1.5M836.5 1181h1.5M828.5 1168.5h1.5M837.5 1197.5h1.5M857.5 1161h1.5M843.5 1183.5h1.5M843 1187.5h1.5M849.5 1223.5h1.5M840 1233h1.5M847 1232h1.5M840.5 1222h1.5M835 1180h1.5M858.5 1175h1.5M837.5 1156.5h1.5M834 1177h1.5M835.5 1207h1.5M845.5 1177h1.5M834.5 1225h1.5M854.5 1229h1.5M828 1227.5h1.5M856 1161h1.5M849.5 1205h1.5M838.5 1202.5h1.5M844.5 1226.5h1.5M850 1165.5h1.5M836 1202h1.5M853.5 1137.5h1.5M836 1165h1.5M830 1222.5h1.5M836.5 1146.5h1.5M826.5 1212.5h1.5M853.5 1199h1.5M856.5 1185h1.5M852.5 1228h1.5M840.5 1166h1.5M833 1146h1.5M846 1211h1.5M841.5 1197h1.5M852 1207h1.5M836.5 1203.5h1.5M857.5 1214.5h1.5M838 1199h1.5M844.5 1190.5h1.5M837 1199.5h1.5M853 1218h1.5M837.5 1220h1.5M841 1208h1.5M843 1151.5h1.5M816.5 1205h1.5M834 1162.5h1.5M834.5 1221.5h1.5M844 1218h1.5M844.5 1179h1.5M847 1213.5h1.5M840 1201.5h1.5M847.5 1183h1.5M849.5 1213h1.5M841 1235h1.5M830.5 1189.5h1.5M835.5 1208h1.5M850.5 1177.5h1.5M867.5 1185h1.5M844 1200h1.5M841.5 1182h1.5M849.5 1180.5h1.5M827 1174h1.5M852.5 1229h1.5M825 1218.5h1.5M825 1199.5h1.5M831.5 1220.5h1.5M845.5 1222.5h1.5M838.5 1195.5h1.5M829 1176.5h1.5M848.5 1208.5h1.5M842 1229h1.5M830.5 1216.5h1.5M831.5 1234h1.5M845.5 1222h1.5M857 1210h1.5M850.5 1193h1.5M831 1218.5h1.5M833.5 1230h1.5M849.5 1205.5h1.5M842.5 1223h1.5M843 1190.5h1.5M829 1222h1.5M840 1207h1.5M843.5 1215h1.5M833.5 1198h1.5M847.5 1192.5h1.5M847.5 1202h1.5M844 1226.5h1.5M839 1166.5h1.5M839 1181h1.5M824 1197.5h1.5M842.5 1223.5h1.5M832 1202h1.5M850 1187h1.5M845.5 1236.5h1.5M826 1206.5h1.5M850.5 1192h1.5M852 1214.5h1.5M855 1213.5h1.5M856 1207h1.5M830 1185.5h1.5M849 1223h1.5M838 1210.5h1.5M844.5 1169.5h1.5M833.5 1214.5h1.5M832 1178.5h1.5M829.5 1221.5h1.5M834 1229h1.5M836.5 1203h1.5M844.5 1163h1.5M842.5 1208h1.5M850 1178h1.5M834.5 1215h1.5M852.5 1186.5h1.5M831 1192.5h1.5M833 1209h1.5M832.5 1222.5h1.5M842.5 1223h1.5M821.5 1159.5h1.5M851.5 1183.5h1.5M829.5 1195.5h1.5M843 1196.5h1.5M844.5 1207.5h1.5M843 1231h1.5M841 1199h1.5M847.5 1212.5h1.5M834 1198h1.5M844.5 1186.5h1.5M836.5 1168h1.5M818 1191.5h1.5M842 1175h1.5M852 1176h1.5M848.5 1209.5h1.5M858.5 1212.5h1.5M829.5 1224.5h1.5M854.5 1159h1.5M846 1220h1.5M839.5 1144.5h1.5M838.5 1186.5h1.5M853 1198h1.5M837.5 1186.5h1.5M843.5 1201.5h1.5M834.5 1206h1.5M836.5 1140.5h1.5M846.5 1213h1.5M842.5 1190h1.5M840.5 1219h1.5M836 1220h1.5M829 1204h1.5M841 1223h1.5M833.5 1181.5h1.5M830 1187h1.5M843 1158.5h1.5M837.5 1214h1.5M840 1201.5h1.5M829 1197.5h1.5M841 1196h1.5M842 1193h1.5M837.5 1176h1.5M849 1172h1.5M850 1211.5h1.5M843 1197h1.5M834 1194h1.5M845.5 1209h1.5M847.5 1228h1.5M839.5 1204.5h1.5M837.5 1215h1.5M837.5 1190h1.5M839 1171.5h1.5M821 1226.5h1.5M845.5 1179h1.5M844.5 1219h1.5M835.5 1209.5h1.5M849 1167h1.5M845.5 1208.5h1.5M856 1213h1.5M837.5 1193h1.5M857 1192h1.5M845.5 1194.5h1.5M849.5 1226h1.5M841 1190.5h1.5M837.5 1160.5h1.5M842 1202h1.5M834.5 1158h1.5M842.5 1207.5h1.5M844 1177h1.5M844 1196h1.5M848 1177.5h1.5M850 1234.5h1.5M842 1209.5h1.5M847.5 1176.5h1.5M837 1204h1.5M857 1172.5h1.5M854 1195.5h1.5M840.5 1228h1.5M857 1209.5h1.5M850.5 1179h1.5M837 1169h1.5M837 1213h1.5M842.5 1239.5h1.5M857.5 1197h1.5M835.5 1226.5h1.5M851 1210h1.5M846.5 1212.5h1.5M833 1172h1.5M840.5 1195.5h1.5M843 1197h1.5M827.5 1151.5h1.5M847 1185h1.5M839 1187h1.5M833.5 1178.5h1.5M849 1194.5h1.5M846 1217.5h1.5M843.5 1218.5h1.5M841 1231.5h1.5M847.5 1222h1.5M833.5 1206h1.5M826.5 1232h1.5M836 1189h1.5M830 1199h1.5M848 1188h1.5M827.5 1147.5h1.5M833 1169.5h1.5M844 1196.5h1.5M841 1178h1.5M842 1167.5h1.5M840.5 1219h1.5M838 1210h1.5M825 1152.5h1.5M843.5 1224h1.5M829.5 1184.5h1.5M842 1210.5h1.5M836.5 1175.5h1.5M846 1203h1.5M838 1211.5h1.5M840 1197h1.5M839.5 1181h1.5M833.5 1188h1.5M841.5 1157h1.5M848.5 1200.5h1.5M832.5 1237h1.5M841.5 1169.5h1.5M853.5 1231h1.5M833.5 1192.5h1.5M837.5 1156.5h1.5M843.5 1219.5h1.5M846.5 1201h1.5M848.5 1174h1.5M855.5 1182h1.5M835.5 1187h1.5M836 1195.5h1.5M839 1203h1.5M834.5 1204h1.5M832.5 1217h1.5M847 1200h1.5M836 1207h1.5M834 1201h1.5M831 1138.5h1.5M836 1160.5h1.5M835 1170h1.5M834 1175.5h1.5M848.5 1199h1.5M849.5 1201h1.5M848.5 1193h1.5M854 1211h1.5M835 1214h1.5M841 1195.5h1.5M842 1217.5h1.5M824 1192h1.5M846.5 1205.5h1.5M832 1145.5h1.5M854.5 1195.5h1.5M853 1218.5h1.5M834.5 1142.5h1.5M837.5 1199h1.5M844.5 1174.5h1.5M842.5 1204h1.5M849 1193h1.5M844.5 1206.5h1.5M848 1181h1.5M816.5 1194.5h1.5M839 1173.5h1.5M829 1187h1.5M840 1202h1.5M822.5 1159.5h1.5M850 1195.5h1.5M841 1169.5h1.5M841 1191.5h1.5M836 1166.5h1.5M838 1218h1.5M839.5 1193h1.5M836 1231h1.5M844 1182h1.5M838 1224.5h1.5M818.5 1207h1.5M845.5 1183h1.5M842 1211.5h1.5M831 1219.5h1.5M843.5 1196.5h1.5M842 1216.5h1.5M859.5 1214h1.5M847.5 1204.5h1.5M856 1166.5h1.5M827 1203.5h1.5M846.5 1141h1.5M841 1196h1.5M847 1210h1.5M826.5 1175h1.5M834.5 1217h1.5M844 1185.5h1.5M842 1175.5h1.5M857.5 1213h1.5M847.5 1231.5h1.5M849 1200.5h1.5M839.5 1229.5h1.5M841 1183h1.5M856.5 1178.5h1.5M827 1223h1.5M835 1210h1.5M855.5 1168.5h1.5M840.5 1234h1.5M846.5 1196h1.5M860 1198h1.5M844 1238h1.5M849 1230.5h1.5M834 1228h1.5M842.5 1183h1.5M843 1204.5h1.5M856 1209h1.5M835 1176.5h1.5M840.5 1169h1.5M835.5 1194.5h1.5M837.5 1216.5h1.5M835 1143h1.5M827.5 1199.5h1.5M836.5 1171.5h1.5M856.5 1219h1.5M840.5 1205.5h1.5M839 1171h1.5M849 1219.5h1.5M825 1205h1.5M843.5 1192.5h1.5M838 1195h1.5M838.5 1186h1.5M833.5 1211.5h1.5M856.5 1235.5h1.5M847.5 1144.5h1.5M826 1224.5h1.5M854 1212.5h1.5M838.5 1231h1.5M847 1226h1.5M826 1208h1.5M855 1212h1.5M848.5 1201h1.5M842 1232.5h1.5M835.5 1182.5h1.5M837 1200.5h1.5M828 1217h1.5M839.5 1219.5h1.5M824 1219.5h1.5M851.5 1210h1.5M841 1220h1.5M851 1212h1.5M846 1238h1.5M847 1181.5h1.5M851 1197h1.5M841.5 1202.5h1.5M849 1240h1.5M841 1240h1.5M842.5 1232h1.5M842.5 1188.5h1.5M856.5 1186.5h1.5M836 1171h1.5M851 1234.5h1.5M844 1177.5h1.5M841 1193h1.5M833 1189h1.5M845 1186h1.5M843.5 1159h1.5M854.5 1191h1.5M848 1204.5h1.5M844 1174h1.5M835 1183h1.5M841 1230.5h1.5M844.5 1179.5h1.5M841.5 1198h1.5M838 1199.5h1.5M847 1183.5h1.5M838 1222.5h1.5M845 1229.5h1.5M852.5 1168.5h1.5M843.5 1188.5h1.5M831.5 1182h1.5M838.5 1193h1.5M836 1199.5h1.5M860.5 1160.5h1.5M850 1199.5h1.5M837.5 1153.5h1.5M847 1167h1.5M847.5 1240h1.5M830.5 1227h1.5M841 1152h1.5M831.5 1204h1.5M844 1163.5h1.5M841.5 1219h1.5M849 1190.5h1.5M844.5 1224.5h1.5M848 1220.5h1.5M842 1198h1.5M843 1182.5h1.5M850 1165h1.5M837 1199h1.5M845 1215h1.5M853 1202h1.5M835.5 1196.5h1.5M838.5 1212h1.5M832.5 1196h1.5M854 1204h1.5M832.5 1192h1.5M823 1198.5h1.5M854 1172.5h1.5M829.5 1185h1.5M848.5 1239h1.5M844.5 1170.5h1.5M838.5 1203h1.5M843 1164.5h1.5M849 1219.5h1.5M825 1169.5h1.5M833 1217h1.5M835 1209h1.5M839.5 1201.5h1.5M845 1206.5h1.5M841 1207.5h1.5M842.5 1195h1.5M837.5 1231.5h1.5M835.5 1218.5h1.5M855.5 1192h1.5M835.5 1190h1.5M841 1207.5h1.5M840.5 1190.5h1.5M856.5 1195.5h1.5M836 1219h1.5M848 1232.5h1.5M856.5 1208h1.5M838.5 1156h1.5M833.5 1205h1.5M831.5 1163.5h1.5M841.5 1218h1.5M839 1220.5h1.5M846 1226.5h1.5M847 1189.5h1.5M841.5 1236h1.5M834 1233.5h1.5M839.5 1205h1.5M834.5 1169.5h1.5M839 1230h1.5M835.5 1237h1.5M836.5 1175.5h1.5M843 1215.5h1.5M842.5 1203.5h1.5M854 1202h1.5M837 1174h1.5M851 1190h1.5M838.5 1224h1.5M857.5 1206h1.5M840 1200h1.5M837.5 1192h1.5M838 1221h1.5M840.5 1231.5h1.5M840 1191.5h1.5M851 1200.5h1.5M840 1201h1.5M852.5 1207h1.5M851 1194.5h1.5M849.5 1205.5h1.5M848 1222h1.5M833.5 1201.5h1.5M848.5 1225.5h1.5M851 1202.5h1.5M853.5 1185h1.5M829 1193.5h1.5M850.5 1175h1.5M829 1160.5h1.5M847 1166.5h1.5M845.5 1192.5h1.5M835 1177h1.5M842.5 1182.5h1.5M841 1209h1.5M846 1221.5h1.5M842.5 1176h1.5M844.5 1215h1.5M839.5 1193.5h1.5M861 1170.5h1.5M845 1224h1.5M838.5 1196h1.5M838 1200h1.5M848 1195.5h1.5M866 1189.5h1.5M852 1212.5h1.5M842 1234h1.5M828 1210h1.5M835.5 1190h1.5M837 1178h1.5M828 1209h1.5M840.5 1193h1.5M847 1210.5h1.5M837.5 1205.5h1.5M831 1192.5h1.5M835.5 1194.5h1.5M829.5 1212.5h1.5M834 1221h1.5M826.5 1197h1.5M826 1188.5h1.5M838.5 1186h1.5M837 1222.5h1.5M858.5 1208h1.5M834 1201.5h1.5M838 1220.5h1.5M843.5 1163.5h1.5M850 1222h1.5M853 1188h1.5M843.5 1173h1.5M840.5 1209h1.5M836 1208h1.5M842.5 1189.5h1.5M852 1194.5h1.5M842 1166.5h1.5M845 1189h1.5M848.5 1170h1.5M844.5 1150h1.5M846 1196h1.5M844 1186h1.5M833.5 1190h1.5M842.5 1213.5h1.5M843.5 1178.5h1.5M855.5 1207.5h1.5M836 1210h1.5M843 1196h1.5M838.5 1222.5h1.5M855 1153h1.5M851 1200.5h1.5M843 1231h1.5M820 1218.5h1.5M851.5 1184h1.5M830 1237.5h1.5M827 1209.5h1.5M849 1209h1.5M845.5 1194h1.5M844.5 1183.5h1.5M836.5 1201h1.5M828.5 1213.5h1.5M821 1208.5h1.5M844.5 1181.5h1.5M831 1190.5h1.5M846 1208h1.5M832 1202.5h1.5M843 1205h1.5M833 1203.5h1.5M848.5 1212.5h1.5M844.5 1238h1.5M842.5 1180.5h1.5M834.5 1204h1.5M829.5 1193h1.5M844.5 1227h1.5M828.5 1202.5h1.5M840.5 1201h1.5M842 1199.5h1.5M852 1228.5h1.5M858 1200h1.5M837.5 1177.5h1.5M837 1216.5h1.5M848 1215.5h1.5M835.5 1185h1.5M856.5 1181h1.5M852.5 1209.5h1.5M835 1173h1.5M835.5 1209.5h1.5M833.5 1236h1.5M839.5 1216h1.5M846 1237.5h1.5M837.5 1202.5h1.5M830 1202.5h1.5M850 1205h1.5M859.5 1212h1.5M836.5 1210.5h1.5M829.5 1181.5h1.5M831.5 1200.5h1.5M840.5 1227.5h1.5M840 1177h1.5M853.5 1132.5h1.5M841.5 1205h1.5M841 1211.5h1.5M842 1211.5h1.5M836 1166.5h1.5M840.5 1176.5h1.5M835 1226.5h1.5M853.5 1226.5h1.5M848.5 1201.5h1.5M849 1208h1.5M856.5 1179h1.5M846.5 1171h1.5M846.5 1160.5h1.5M831.5 1170.5h1.5M843 1208h1.5M860.5 1198h1.5M847 1203.5h1.5M846.5 1203.5h1.5M850 1176h1.5M821.5 1209.5h1.5M826.5 1230h1.5M836.5 1176h1.5M862.5 1199.5h1.5M839.5 1217h1.5M847.5 1226h1.5M830.5 1212.5h1.5M838.5 1179h1.5M841.5 1158.5h1.5M848.5 1193.5h1.5M837 1197h1.5M839.5 1226h1.5M832 1191h1.5M839.5 1175.5h1.5M842.5 1183.5h1.5M830 1212h1.5M853.5 1201h1.5M840 1197h1.5M837 1227h1.5M842 1150h1.5M850.5 1222h1.5M846 1136.5h1.5M841 1220.5h1.5M844 1204.5h1.5M848 1203h1.5M850.5 1203.5h1.5M841.5 1220.5h1.5M838 1175h1.5M841 1213.5h1.5M848.5 1221.5h1.5M840.5 1196h1.5M836.5 1205.5h1.5M828 1200.5h1.5M864 1165.5h1.5M842.5 1208.5h1.5M845 1178h1.5M845 1187.5h1.5M829.5 1222h1.5M846.5 1178h1.5M836.5 1186.5h1.5M828 1217.5h1.5M847.5 1192.5h1.5M841 1202.5h1.5M843 1169h1.5M845 1173h1.5M846.5 1175.5h1.5M830.5 1199.5h1.5M840.5 1202.5h1.5M834 1204.5h1.5M843.5 1227h1.5M842.5 1186h1.5M830 1165h1.5M843.5 1218h1.5M834 1206h1.5M839.5 1216.5h1.5M848 1148h1.5M849.5 1206h1.5M836.5 1188.5h1.5M841.5 1188.5h1.5M833.5 1183.5h1.5M832.5 1231h1.5M844 1213.5h1.5M832.5 1195h1.5M841.5 1185.5h1.5M837.5 1209.5h1.5M844.5 1169.5h1.5M843.5 1212.5h1.5M836.5 1184h1.5M844.5 1141h1.5M841 1237.5h1.5M820 1219h1.5M845.5 1167h1.5M845 1223h1.5M831.5 1183.5h1.5M841 1222.5h1.5M836.5 1199h1.5M835.5 1200.5h1.5M849.5 1202.5h1.5M838 1199h1.5M834.5 1177h1.5M850.5 1237.5h1.5M826.5 1213.5h1.5M848 1172h1.5M837 1186.5h1.5M856 1238h1.5M833.5 1166.5h1.5M847 1212.5h1.5M851 1175.5h1.5M847 1183h1.5M846 1199h1.5M856 1210.5h1.5M838.5 1203h1.5M840 1173.5h1.5M856.5 1237h1.5M839.5 1216h1.5M857.5 1228.5h1.5M838.5 1198h1.5M827.5 1218h1.5M851 1228.5h1.5M846.5 1208h1.5M833 1207.5h1.5M836 1212h1.5M835 1212h1.5M851.5 1208.5h1.5M843.5 1221h1.5M855 1197.5h1.5M845 1235h1.5M846.5 1154h1.5M835.5 1217.5h1.5M838 1233h1.5M856 1186.5h1.5M832.5 1191.5h1.5M837.5 1235.5h1.5M832.5 1217h1.5M852 1219h1.5M844.5 1196.5h1.5M856 1194.5h1.5M848.5 1196.5h1.5M826.5 1194h1.5M839.5 1196.5h1.5M835.5 1214.5h1.5M847 1193h1.5M838.5 1176h1.5M843 1231.5h1.5M852 1186h1.5M857 1191.5h1.5M833 1168.5h1.5M832.5 1207.5h1.5M839 1185.5h1.5M834 1175h1.5M834 1223.5h1.5M846.5 1188.5h1.5M835.5 1217.5h1.5M839 1209.5h1.5M856.5 1205h1.5M859 1174h1.5M844.5 1207h1.5M833 1218.5h1.5M844.5 1156.5h1.5M845 1217h1.5M839 1205h1.5M837 1197h1.5M849 1232h1.5M831 1188h1.5M848 1154h1.5M840.5 1193.5h1.5M835 1224h1.5M849 1206h1.5M836 1185.5h1.5M841.5 1189.5h1.5M841 1213h1.5M828.5 1182.5h1.5M840.5 1236h1.5M848 1200h1.5M844 1197.5h1.5M849.5 1210h1.5M851 1169h1.5M834.5 1206.5h1.5M826.5 1199h1.5M840.5 1205.5h1.5M855 1220h1.5M828 1235.5h1.5M853 1206h1.5M828 1196.5h1.5M844.5 1223h1.5M827 1182.5h1.5M850 1234.5h1.5M844.5 1226.5h1.5M844.5 1222h1.5M842 1211h1.5M831 1216.5h1.5M831 1216.5h1.5M837.5 1208.5h1.5M833.5 1188.5h1.5M844 1217.5h1.5M850 1173.5h1.5M829 1177.5h1.5M832.5 1236h1.5M851.5 1177h1.5M854.5 1229.5h1.5M828 1176.5h1.5M827.5 1198h1.5M841 1200.5h1.5M825 1167h1.5M843 1214.5h1.5M825 1170.5h1.5M849 1172h1.5M841 1169.5h1.5M847.5 1153.5h1.5M838.5 1221.5h1.5M846 1189.5h1.5M835.5 1194.5h1.5M830.5 1197.5h1.5M840.5 1190.5h1.5M849 1175.5h1.5M827.5 1188h1.5M842 1197.5h1.5M840 1174h1.5M833 1189h1.5M836.5 1225.5h1.5M843 1188h1.5M850 1210.5h1.5M830 1125.5h1.5M830.5 1213.5h1.5M848 1162h1.5M846.5 1214.5h1.5M852 1222h1.5M852 1211h1.5M844.5 1192h1.5M847.5 1169.5h1.5M840 1212.5h1.5M852.5 1189h1.5M848.5 1195.5h1.5M849 1181.5h1.5M847 1198h1.5M831.5 1196.5h1.5M851.5 1176.5h1.5M829 1209h1.5M827.5 1236h1.5M853.5 1224h1.5M841 1238.5h1.5M852 1187.5h1.5M852.5 1179h1.5M839.5 1159h1.5M842 1193h1.5M837.5 1196h1.5M836.5 1201h1.5M851.5 1175.5h1.5M848 1205h1.5M844 1199.5h1.5M835.5 1210h1.5M845 1181.5h1.5M830.5 1202h1.5M847 1223h1.5M850.5 1208.5h1.5M839 1200h1.5M831 1184.5h1.5M840.5 1194h1.5M841.5 1168.5h1.5M832 1218h1.5M834.5 1184.5h1.5M842 1178.5h1.5M850 1171h1.5M841 1183h1.5M842 1188.5h1.5M841 1228h1.5M835.5 1184h1.5M838.5 1234h1.5M840.5 1228.5h1.5M839.5 1227.5h1.5M844.5 1213h1.5M829.5 1163.5h1.5M849.5 1224.5h1.5M860.5 1166h1.5M845 1176.5h1.5M835 1188.5h1.5M844 1184.5h1.5M841.5 1219h1.5M850 1216h1.5M844.5 1196.5h1.5M836.5 1212.5h1.5M832.5 1202.5h1.5M832.5 1199h1.5M832.5 1191h1.5M835.5 1181.5h1.5M840.5 1144.5h1.5M826.5 1218.5h1.5M842 1183.5h1.5M849 1185.5h1.5M836.5 1182h1.5M856.5 1205.5h1.5M842.5 1210.5h1.5M826 1186.5h1.5M844.5 1200h1.5M858.5 1187.5h1.5M848.5 1218.5h1.5M842 1207.5h1.5M838.5 1154.5h1.5M844 1210h1.5M845.5 1201.5h1.5M849 1180h1.5M852.5 1177.5h1.5M840 1215.5h1.5M837 1217h1.5M838.5 1202.5h1.5M839.5 1186.5h1.5M859 1180.5h1.5M822.5 1181.5h1.5M842 1191.5h1.5M849 1222.5h1.5M838.5 1161.5h1.5M830.5 1199.5h1.5M828.5 1191.5h1.5M852.5 1208h1.5M841.5 1176h1.5M842.5 1194h1.5M843 1216.5h1.5M848 1203h1.5M845 1188h1.5M850 1179.5h1.5M839.5 1228.5h1.5M833.5 1166h1.5M834.5 1190.5h1.5M810.5 1179h1.5M832 1176.5h1.5M835.5 1186.5h1.5M840.5 1187h1.5M856.5 1178.5h1.5M835.5 1181.5h1.5M847.5 1167.5h1.5M843 1175.5h1.5M834.5 1172h1.5M832 1189.5h1.5M835.5 1188.5h1.5M841.5 1168h1.5M842.5 1167.5h1.5M848 1176h1.5M851 1191h1.5M817.5 1174h1.5M824.5 1197.5h1.5M834.5 1166h1.5M869 1171.5h1.5M819 1167.5h1.5M842 1178.5h1.5M829 1173.5h1.5M840.5 1190h1.5M844.5 1173h1.5M837 1185h1.5M862 1168h1.5M854.5 1175h1.5M819 1161.5h1.5M857.5 1191h1.5M832.5 1176h1.5M817 1185h1.5M839.5 1164h1.5M842.5 1165.5h1.5M847 1168.5h1.5M844.5 1172h1.5M809 1187h1.5M853.5 1173.5h1.5M843.5 1182h1.5M846 1193.5h1.5M845.5 1175h1.5M845.5 1174h1.5M826 1189h1.5M847 1161h1.5M831 1185h1.5M819.5 1171h1.5M874.5 1175h1.5M854 1191.5h1.5M828 1180.5h1.5M867 1182h1.5M871 1172.5h1.5M863.5 1178h1.5M835.5 1184h1.5M838.5 1177h1.5M846.5 1161.5h1.5M829.5 1184.5h1.5M853 1181h1.5M843.5 1181.5h1.5M852.5 1165h1.5M833.5 1177.5h1.5M842.5 1159h1.5M823.5 1178h1.5M853 1174h1.5M831.5 1183h1.5M835.5 1186h1.5M837 1168h1.5M858.5 1189h1.5M827.5 1181.5h1.5M836 1183.5h1.5M828.5 1186h1.5M855.5 1169.5h1.5M841 1189h1.5M827 1172h1.5M848.5 1176.5h1.5M819.5 1175h1.5M862.5 1196.5h1.5M831.5 1170h1.5M834 1194h1.5M851 1191h1.5M853 1166h1.5M827.5 1171.5h1.5M833 1172h1.5M832.5 1184h1.5M842 1189h1.5M843.5 1172h1.5M842.5 1164.5h1.5M810 1184h1.5M853 1178.5h1.5M835 1166h1.5M855 1182.5h1.5M844 1178h1.5M834 1168h1.5M843.5 1173h1.5M834.5 1193.5h1.5M839.5 1156h1.5M833 1169h1.5M838 1165h1.5M845.5 1175.5h1.5M834 1179.5h1.5M839 1177h1.5M837 1178h1.5M844.5 1180h1.5M854.5 1173h1.5M843 1200h1.5M839.5 1178h1.5M823.5 1171.5h1.5M838.5 1183h1.5M848.5 1181h1.5M850.5 1169h1.5M846.5 1178h1.5M841.5 1174.5h1.5M827.5 1167h1.5M844 1182.5h1.5M838.5 1178h1.5M830.5 1182.5h1.5M841 1174.5h1.5M851.5 1184h1.5M820 1178.5h1.5M827.5 1179.5h1.5M799 1180h1.5M849.5 1177h1.5M825 1195.5h1.5M855 1173h1.5M836.5 1160h1.5M846 1165.5h1.5M848.5 1187h1.5M839 1168.5h1.5M856 1178h1.5M841 1169.5h1.5M842.5 1176h1.5M822.5 1190h1.5M863 1187h1.5M851.5 1194h1.5M826.5 1168.5h1.5M834.5 1180.5h1.5M836 1169h1.5M840 1177h1.5M851 1178.5h1.5M815 1181.5h1.5M860.5 1178.5h1.5M853 1173.5h1.5M847.5 1171.5h1.5M837 1176h1.5M846 1170.5h1.5M821 1182h1.5M845.5 1179h1.5M852 1176h1.5M843.5 1175h1.5M836.5 1181h1.5M869.5 1184.5h1.5M847 1185h1.5M809.5 1181h1.5M852 1179h1.5M839.5 1169.5h1.5M834.5 1170.5h1.5M853 1191.5h1.5M865 1170.5h1.5M831.5 1171.5h1.5M827 1169h1.5M833.5 1186h1.5M830.5 1187.5h1.5M858 1180.5h1.5M856 1165.5h1.5M832.5 1179.5h1.5M843 1191h1.5M827 1173h1.5M839 1173.5h1.5M826.5 1173.5h1.5M837 1191h1.5M826.5 1185.5h1.5M856.5 1173.5h1.5M843.5 1183h1.5M845.5 1178.5h1.5M831 1184h1.5M835 1178.5h1.5M842.5 1185.5h1.5M865 1171.5h1.5M840.5 1164.5h1.5M859.5 1178.5h1.5M836 1178.5h1.5M841.5 1171.5h1.5M855.5 1184h1.5M850 1172h1.5M830.5 1177h1.5M850.5 1182.5h1.5M830 1184h1.5M827.5 1172h1.5M842 1167.5h1.5M827.5 1192h1.5M858 1198.5h1.5M846 1184h1.5M838 1175h1.5M851.5 1190.5h1.5M850 1170.5h1.5M845 1171h1.5M836 1192.5h1.5M824.5 1197.5h1.5M847 1174h1.5M841 1172h1.5M833 1178.5h1.5M835.5 1169.5h1.5M837 1166h1.5M823.5 1166.5h1.5M861.5 1181.5h1.5M847.5 1178h1.5M846.5 1188.5h1.5M845.5 1193h1.5M839.5 1183.5h1.5M849 1169.5h1.5M840.5 1161.5h1.5M838.5 1175.5h1.5M835.5 1174.5h1.5M846.5 1170h1.5M864 1183h1.5M829.5 1184h1.5M853 1181.5h1.5M827 1198h1.5M848.5 1167h1.5M842.5 1176h1.5M840 1167.5h1.5M840.5 1170.5h1.5M835.5 1181.5h1.5M834 1175.5h1.5M850.5 1170h1.5M831.5 1166.5h1.5M829.5 1179h1.5M848.5 1170.5h1.5M848 1179h1.5M822 1179.5h1.5M855.5 1161h1.5M866 1172.5h1.5M818.5 1179h1.5M851 1175.5h1.5M844 1197h1.5M842.5 1205h1.5M856.5 1178.5h1.5M844 1175h1.5M843 1183h1.5M834.5 1165.5h1.5M857 1187h1.5M821.5 1179.5h1.5M853.5 1186.5h1.5M831 1187h1.5M840 1181.5h1.5M828 1139.5h1.5M830 1183h1.5M837.5 1184h1.5M854.5 1175h1.5M834.5 1158.5h1.5M820 1166h1.5M847 1175h1.5M833 1172h1.5M830 1186.5h1.5M841 1187h1.5M811.5 1183h1.5M833.5 1175.5h1.5M857.5 1174.5h1.5M846.5 1169h1.5M840.5 1163.5h1.5M839.5 1181.5h1.5M854.5 1170.5h1.5M833 1172h1.5M836.5 1169.5h1.5M812 1168.5h1.5M839.5 1176.5h1.5M847 1185.5h1.5M834 1163.5h1.5M845 1178h1.5M836.5 1189h1.5M846 1179h1.5M842 1185.5h1.5M831 1170h1.5M837 1167.5h1.5M839.5 1179h1.5M839 1174.5h1.5M861.5 1186.5h1.5M838.5 1179h1.5M858 1172.5h1.5M827.5 1180h1.5M845.5 1182.5h1.5M851 1171.5h1.5M821.5 1172.5h1.5M847.5 1169.5h1.5M815 1179.5h1.5M832.5 1162.5h1.5M841 1174.5h1.5M862 1179h1.5M847.5 1178h1.5M832 1173.5h1.5M854 1184.5h1.5M820.5 1167h1.5M824.5 1187.5h1.5M817.5 1185h1.5M845 1179.5h1.5M834 1188.5h1.5M841.5 1165h1.5M824.5 1163h1.5M855.5 1191h1.5M854 1176.5h1.5M776 1192h1.5M791 1210h1.5M842 1225h1.5M783 1162h1.5M797 1237h1.5M809 1196h1.5M795 1192h1.5M831 1177.5h1.5M779.5 1219.5h1.5M810 1219h1.5M813.5 1175.5h1.5M827 1190h1.5M816.5 1196h1.5M806 1150.5h1.5M814 1183.5h1.5M818.5 1230.5h1.5M787 1190h1.5M798.5 1198.5h1.5M791 1213.5h1.5M814 1213.5h1.5M787 1190.5h1.5M804 1200.5h1.5M799 1192h1.5M806.5 1183.5h1.5M803.5 1199.5h1.5M816.5 1229.5h1.5M768 1163.5h1.5M789.5 1185h1.5M822.5 1215.5h1.5M806.5 1215.5h1.5M807 1224.5h1.5M811 1203h1.5M819.5 1235h1.5M803 1182.5h1.5M817.5 1213h1.5M805 1205h1.5M790.5 1213.5h1.5M785.5 1207.5h1.5M804 1229.5h1.5M825.5 1172h1.5M805.5 1198.5h1.5M816.5 1204h1.5M802 1209.5h1.5M816.5 1239h1.5M796.5 1215h1.5M820 1211h1.5M813.5 1235h1.5M764.5 1195h1.5M812.5 1182.5h1.5M788.5 1201h1.5M799.5 1223h1.5M824 1201.5h1.5M815.5 1170h1.5M819.5 1232.5h1.5M835.5 1228.5h1.5M805 1227.5h1.5M805.5 1220h1.5M824 1180.5h1.5M815.5 1200h1.5M789.5 1162.5h1.5M807.5 1192.5h1.5M809 1205.5h1.5M813.5 1210.5h1.5M805.5 1207h1.5M813 1209.5h1.5M818 1208h1.5M834 1178.5h1.5M812.5 1225h1.5M808.5 1199.5h1.5M828.5 1209.5h1.5M783.5 1218h1.5M800.5 1237.5h1.5M852 1233h1.5M810.5 1193.5h1.5M806.5 1183.5h1.5M856.5 1215.5h1.5M820.5 1223.5h1.5M791.5 1185h1.5M771 1220.5h1.5M808.5 1217h1.5M812 1214.5h1.5M810.5 1170h1.5M819.5 1191h1.5M824.5 1223h1.5M826.5 1201.5h1.5M817.5 1222.5h1.5M775.5 1194.5h1.5M793 1179h1.5M801 1200h1.5M809 1203.5h1.5M830.5 1210.5h1.5M804.5 1198.5h1.5M807 1204.5h1.5M839.5 1159.5h1.5M784.5 1188.5h1.5M814.5 1208h1.5M805 1227h1.5M821.5 1222h1.5M812.5 1153.5h1.5M810 1174h1.5M811.5 1202h1.5M798.5 1180.5h1.5M815.5 1172h1.5M810 1171h1.5M836 1157h1.5M792 1198.5h1.5M845.5 1189.5h1.5M828.5 1204.5h1.5M773.5 1174h1.5M820.5 1225h1.5M781.5 1207h1.5M813 1177.5h1.5M800.5 1187h1.5M825 1208h1.5M826 1219h1.5M811.5 1227h1.5M802.5 1221.5h1.5M769 1201.5h1.5M852 1203.5h1.5M812 1184h1.5M787.5 1206.5h1.5M826 1201h1.5M815 1220.5h1.5M771 1173.5h1.5M821 1202h1.5M770 1170h1.5M819 1188.5h1.5M813 1197h1.5M803 1193h1.5M811 1217.5h1.5M801 1200h1.5M823.5 1215h1.5M788.5 1211.5h1.5M799 1208.5h1.5M835 1203.5h1.5M846.5 1196h1.5M805 1205.5h1.5M813 1211h1.5M789.5 1206.5h1.5M803.5 1230.5h1.5M776.5 1220h1.5M785.5 1223.5h1.5M787.5 1170h1.5M805 1147h1.5M812.5 1219.5h1.5M819 1163h1.5M807.5 1230.5h1.5M837 1224.5h1.5M847.5 1178.5h1.5M811.5 1195.5h1.5M774 1215.5h1.5M770.5 1206.5h1.5M786.5 1223h1.5M781.5 1173h1.5M818 1187h1.5M793.5 1187.5h1.5M829.5 1203.5h1.5M783 1169h1.5M865.5 1230.5h1.5M827 1181.5h1.5M802.5 1216.5h1.5M785.5 1190h1.5M832.5 1195h1.5M796 1231.5h1.5M783.5 1167.5h1.5M785 1201.5h1.5M813 1207h1.5M827 1192.5h1.5M809.5 1233.5h1.5M823 1194.5h1.5M809.5 1193.5h1.5M801 1214.5h1.5M788 1229.5h1.5M842.5 1205.5h1.5M808.5 1200.5h1.5M810.5 1214h1.5M817 1224.5h1.5M795 1192h1.5M817.5 1211.5h1.5M775 1205.5h1.5M766 1204.5h1.5M799.5 1215h1.5M790.5 1198.5h1.5M845.5 1239.5h1.5M800 1231.5h1.5M801.5 1166.5h1.5M772 1147.5h1.5M805.5 1180.5h1.5M829 1179.5h1.5M800.5 1238h1.5M798.5 1231.5h1.5M859.5 1202h1.5M836 1220h1.5M801 1214.5h1.5M801.5 1237.5h1.5M795 1226h1.5M823.5 1188h1.5M794.5 1206h1.5M794 1213.5h1.5M786 1193h1.5M822 1214.5h1.5M790.5 1173h1.5M824.5 1188.5h1.5M842 1189.5h1.5M807 1195h1.5M811.5 1233.5h1.5M818.5 1228.5h1.5M812 1197.5h1.5M824.5 1202.5h1.5M770.5 1162h1.5M837 1189h1.5M793.5 1197.5h1.5M829 1186h1.5M816.5 1194h1.5M793.5 1231.5h1.5M821.5 1184h1.5M808 1207h1.5M800 1200h1.5M798 1186.5h1.5M780 1218.5h1.5M817 1202h1.5M800 1187h1.5M813.5 1207h1.5M818.5 1209h1.5M824.5 1230h1.5M821.5 1211.5h1.5M786.5 1237.5h1.5M803.5 1208.5h1.5M801 1163h1.5M846.5 1203h1.5M765 1211h1.5M830 1237h1.5M781 1153h1.5M836.5 1206.5h1.5M773 1226h1.5M813 1195.5h1.5M789.5 1197.5h1.5M805 1214.5h1.5M805 1155.5h1.5M816 1213.5h1.5M808 1195.5h1.5M842 1224h1.5M801 1205.5h1.5M830.5 1227h1.5M786.5 1188.5h1.5M804 1180h1.5M769 1200h1.5M826.5 1234.5h1.5M795 1207h1.5M806 1190.5h1.5M798 1216.5h1.5M782 1196.5h1.5M807 1213h1.5M781.5 1211.5h1.5M781 1199h1.5M821 1198.5h1.5M835.5 1193h1.5M830.5 1215.5h1.5M798 1178h1.5M802 1194.5h1.5M799.5 1211.5h1.5M777 1196h1.5M789 1206h1.5M789.5 1195h1.5M807 1195h1.5M799.5 1182h1.5M780.5 1165.5h1.5M808.5 1188.5h1.5M811.5 1201.5h1.5M816.5 1199.5h1.5M813 1230h1.5M781.5 1175h1.5M795.5 1196h1.5M824 1197h1.5M801.5 1198.5h1.5M797 1230h1.5M819.5 1172.5h1.5M830.5 1181h1.5M799 1219.5h1.5M817 1200h1.5M811 1231.5h1.5M797 1207.5h1.5M826.5 1167h1.5M808 1229h1.5M823.5 1220h1.5M788 1220h1.5M821.5 1199.5h1.5M813 1204.5h1.5M813.5 1183h1.5M821 1169h1.5M805.5 1186.5h1.5M816 1225h1.5M778 1212h1.5M781.5 1208h1.5M785 1217h1.5M806.5 1223h1.5M829 1197.5h1.5M833.5 1228h1.5M803 1240.5h1.5M800 1185h1.5M812.5 1201.5h1.5M776 1191h1.5M838 1200.5h1.5M830 1187.5h1.5M782 1175h1.5M827.5 1207.5h1.5M795 1191h1.5M825.5 1194.5h1.5M800.5 1193.5h1.5M805 1219h1.5M784.5 1215.5h1.5M823.5 1197.5h1.5M836 1226h1.5M819 1188.5h1.5M810 1212.5h1.5M796.5 1197.5h1.5M811.5 1229h1.5M802 1208.5h1.5M785.5 1239.5h1.5M821.5 1172h1.5M818 1170h1.5M816.5 1195h1.5M832.5 1202h1.5M833 1225h1.5M803 1206h1.5M787 1205.5h1.5M846.5 1209h1.5M821 1220h1.5M819.5 1210.5h1.5M782.5 1240h1.5M777.5 1240h1.5M816 1221.5h1.5M818.5 1225.5h1.5M810.5 1210.5h1.5M808 1174h1.5M803 1221h1.5M824 1182.5h1.5M847 1195h1.5M805.5 1176.5h1.5M823.5 1189h1.5M793 1203h1.5M835 1206h1.5M789 1199.5h1.5M830 1191.5h1.5M823.5 1218h1.5M791 1203h1.5M845 1225.5h1.5M822 1217h1.5M835.5 1228.5h1.5M835 1197.5h1.5M793.5 1204.5h1.5M810 1203h1.5M794 1220.5h1.5M782 1216.5h1.5M811.5 1206.5h1.5M828 1214.5h1.5M841.5 1180.5h1.5M814.5 1207.5h1.5M801.5 1178h1.5M788 1212.5h1.5M779 1208h1.5M795 1203h1.5M819 1175.5h1.5M818.5 1188h1.5M804 1217.5h1.5M796.5 1188h1.5M788.5 1170.5h1.5M791 1138.5h1.5M827.5 1212.5h1.5M851.5 1240.5h1.5M819 1186.5h1.5M836 1167h1.5M804 1162.5h1.5M789 1224.5h1.5M788 1195.5h1.5M857.5 1237.5h1.5M809.5 1201h1.5M819 1188h1.5M813.5 1223.5h1.5M814.5 1221.5h1.5M834 1228h1.5M813 1209.5h1.5M805.5 1200h1.5M790 1239h1.5M798 1198h1.5M789 1180.5h1.5M810.5 1216h1.5M804 1231h1.5M790 1175.5h1.5M832.5 1200.5h1.5M829.5 1218h1.5M788 1200h1.5M839.5 1236.5h1.5M804.5 1191.5h1.5M831.5 1181.5h1.5M810.5 1194h1.5M805.5 1184h1.5M797 1194.5h1.5M820.5 1204.5h1.5M816.5 1182.5h1.5M809 1219h1.5M811.5 1170h1.5M807.5 1186h1.5M837.5 1238h1.5M812.5 1203.5h1.5M824.5 1201h1.5M791.5 1187h1.5M782.5 1197h1.5M801.5 1216.5h1.5M800.5 1192.5h1.5M785.5 1196.5h1.5M793 1193h1.5M829.5 1229h1.5M796.5 1235.5h1.5M821 1204.5h1.5M832.5 1192h1.5M815.5 1205h1.5M812.5 1214h1.5M812.5 1214.5h1.5M792 1196h1.5M794 1201.5h1.5M821.5 1189h1.5M863 1159.5h1.5M822 1172h1.5M849 1156.5h1.5M829 1164h1.5M795.5 1155.5h1.5M817.5 1202.5h1.5M857.5 1160h1.5M805 1148.5h1.5M801 1166.5h1.5M865.5 1208h1.5M800 1183h1.5M855 1155.5h1.5M783.5 1146.5h1.5M848 1213h1.5M829.5 1210.5h1.5M777.5 1186h1.5M771.5 1193h1.5M796.5 1164h1.5M834 1188.5h1.5M803 1213h1.5M793.5 1217h1.5M826 1174h1.5M865 1208h1.5M778 1188.5h1.5M832.5 1214h1.5M861 1209h1.5M822 1215h1.5M866 1156.5h1.5M828 1172h1.5M835.5 1166.5h1.5M848 1184.5h1.5M786 1186.5h1.5M824 1206.5h1.5M829.5 1197h1.5M777.5 1198h1.5M813 1203.5h1.5M846 1167.5h1.5M769.5 1162.5h1.5M808.5 1161.5h1.5M780.5 1218h1.5M783.5 1149.5h1.5M819 1171.5h1.5M768 1168h1.5M809.5 1199h1.5M767.5 1232.5h1.5M862 1228h1.5M857.5 1150.5h1.5M787 1194h1.5M772 1143.5h1.5M791.5 1219h1.5M768 1177.5h1.5M842 1161.5h1.5M825.5 1188.5h1.5M822 1183.5h1.5M854.5 1234.5h1.5M850 1143.5h1.5M808 1235h1.5M829 1163.5h1.5M811.5 1154.5h1.5M830.5 1214h1.5M781 1192.5h1.5M796.5 1229.5h1.5M791.5 1194.5h1.5M782.5 1190.5h1.5M808.5 1160.5h1.5M841.5 1235h1.5M806.5 1206.5h1.5M868 1200h1.5M796.5 1219h1.5M864.5 1150h1.5" stroke="#2A2AE8" stroke-width="1.5" fill="none"/>
<path d="M766 1258.5h1.5M768.5 1250h1.5M774.5 1244h1.5M771 1256h1.5M767.5 1245h1.5M765.5 1241.5h1.5M764 1266.5h1.5M764.5 1252.5h1.5M772 1243h1.5M766.5 1244h1.5M766.5 1251.5h1.5M766.5 1254.5h1.5M764.5 1252.5h1.5M768.5 1244h1.5M768.5 1260.5h1.5M766 1251h1.5M781.5 1244.5h1.5M773 1244.5h1.5M766 1253h1.5M766 1263.5h1.5M782 1251.5h1.5M765 1248.5h1.5M766 1251h1.5M767 1256.5h1.5M777 1246.5h1.5M766 1242.5h1.5M774 1250.5h1.5M768 1261h1.5M767 1252h1.5M768.5 1252h1.5M767 1252h1.5M772.5 1247h1.5M770 1260.5h1.5M766 1255.5h1.5M764.5 1264.5h1.5M779 1255.5h1.5M783.5 1268.5h1.5M767.5 1244.5h1.5M774 1268.5h1.5M767 1279h1.5M768 1259h1.5M775.5 1257h1.5M768 1263h1.5M767.5 1278.5h1.5M765.5 1246h1.5M771.5 1269h1.5M766 1262h1.5M768.5 1286.5h1.5M773 1258h1.5M772.5 1253h1.5M771 1248.5h1.5M799.5 1281h1.5M794.5 1283.5h1.5M775 1279h1.5M798.5 1274h1.5M800.5 1267h1.5M777 1255h1.5M789.5 1280.5h1.5M791.5 1253h1.5M798 1256.5h1.5M786 1266.5h1.5M794.5 1272.5h1.5M805 1293h1.5M791.5 1264.5h1.5M803.5 1295h1.5M801 1282h1.5M775 1283.5h1.5M784 1265.5h1.5M790.5 1274.5h1.5M784.5 1277.5h1.5M791.5 1282h1.5M794 1276.5h1.5M802.5 1276h1.5M780.5 1247.5h1.5M791.5 1260h1.5M791 1278h1.5M812 1290.5h1.5M774.5 1260.5h1.5M794.5 1274.5h1.5M777.5 1277.5h1.5M790.5 1255.5h1.5M777 1269h1.5M791 1282.5h1.5M787 1275h1.5M809 1253h1.5M786.5 1283.5h1.5M802 1274.5h1.5M810 1270h1.5M770 1281.5h1.5M790.5 1292h1.5M793 1250h1.5M808 1279.5h1.5M786.5 1273.5h1.5M795.5 1243.5h1.5M799.5 1284.5h1.5M792 1281h1.5M787.5 1263h1.5M785 1284.5h1.5M776.5 1257h1.5M789 1266.5h1.5M778 1278.5h1.5M798 1270.5h1.5M781 1283h1.5M810.5 1296h1.5M800.5 1255.5h1.5M800 1273h1.5M779.5 1281h1.5M815 1280.5h1.5M779.5 1277h1.5M787.5 1250h1.5M773 1281.5h1.5M783.5 1250h1.5M799 1285h1.5M788 1274.5h1.5M798 1276h1.5M768.5 1268h1.5M782 1264h1.5M808 1275h1.5M777.5 1274.5h1.5M799 1261h1.5M805 1286.5h1.5M803.5 1270.5h1.5M800.5 1262h1.5M817 1266.5h1.5M800 1264.5h1.5M797.5 1278h1.5M776 1265h1.5M793 1287.5h1.5M769.5 1275.5h1.5M798 1253h1.5M798 1254.5h1.5M780 1274.5h1.5M806.5 1258h1.5M766 1262.5h1.5M793.5 1253h1.5M802.5 1269.5h1.5M791 1277h1.5M782.5 1277.5h1.5M783.5 1294h1.5M781.5 1282h1.5M777 1270.5h1.5M799.5 1311h1.5M786 1263h1.5M778.5 1256.5h1.5M796.5 1296h1.5M797.5 1283h1.5M779.5 1274h1.5M789 1263.5h1.5M797 1279h1.5M795 1269h1.5M800 1265.5h1.5M793 1292h1.5M771 1256.5h1.5M783 1281h1.5M800.5 1260h1.5M809 1266.5h1.5M785 1263h1.5M809.5 1264h1.5M787 1308h1.5M797.5 1281.5h1.5M810 1274h1.5M800.5 1270h1.5M797.5 1270h1.5M790.5 1274.5h1.5M788 1280.5h1.5M799 1281h1.5M805.5 1295h1.5M800 1266.5h1.5M801 1288.5h1.5M789 1301h1.5M786 1287h1.5M790 1272.5h1.5M780.5 1289h1.5M770.5 1260h1.5M810 1290.5h1.5M787.5 1288h1.5M798 1269h1.5M803 1266h1.5M790 1255.5h1.5M782.5 1292h1.5M795 1269h1.5M818 1289h1.5M788 1253.5h1.5M785 1263h1.5M787 1261h1.5M767.5 1250h1.5M781.5 1244.5h1.5M790 1282.5h1.5M777.5 1262.5h1.5M785.5 1263h1.5M787.5 1259.5h1.5M787.5 1269h1.5M797 1293h1.5M794.5 1278.5h1.5M784.5 1278h1.5M787.5 1274.5h1.5M794.5 1264.5h1.5M783.5 1268.5h1.5M785.5 1277h1.5M793 1292.5h1.5M815 1256h1.5M797.5 1284.5h1.5M783 1262h1.5M811 1275h1.5M799.5 1289.5h1.5M797.5 1269.5h1.5M777.5 1270.5h1.5M805.5 1277h1.5M796 1295.5h1.5M793 1285.5h1.5M801 1296h1.5M798 1270.5h1.5M788 1273.5h1.5M776.5 1259h1.5M791 1265.5h1.5M784 1274h1.5M790.5 1273h1.5M811 1274.5h1.5M810 1259.5h1.5M796.5 1265.5h1.5M793.5 1301.5h1.5M772 1248.5h1.5M774 1251h1.5M776.5 1266h1.5M781.5 1248h1.5M794 1245.5h1.5M787 1269.5h1.5M800 1274h1.5M800.5 1264h1.5M787 1280h1.5M804.5 1279h1.5M794.5 1274.5h1.5M791.5 1278h1.5M810 1262.5h1.5M784.5 1269h1.5M784.5 1245.5h1.5M792.5 1284.5h1.5M785.5 1277.5h1.5M813.5 1269h1.5M784 1264h1.5M790 1269h1.5M797 1255.5h1.5M789 1276.5h1.5M794 1273.5h1.5M765.5 1283h1.5M792.5 1284h1.5M798.5 1273h1.5M799.5 1288.5h1.5M803 1272h1.5M809.5 1257.5h1.5M777.5 1277.5h1.5M775 1244.5h1.5M785 1279.5h1.5M786 1263.5h1.5M791 1274.5h1.5M794.5 1262.5h1.5M794 1256.5h1.5M792.5 1295.5h1.5M776.5 1269h1.5M773.5 1267.5h1.5M794.5 1281h1.5M788.5 1269h1.5M774 1269h1.5M777.5 1288h1.5M798 1269.5h1.5M798.5 1282h1.5M797 1289.5h1.5M778 1272.5h1.5M788 1282.5h1.5M781.5 1296h1.5M803.5 1292.5h1.5M787 1266.5h1.5M801.5 1283h1.5M773.5 1251.5h1.5M772.5 1283h1.5M800 1251.5h1.5M785.5 1270h1.5M820 1293.5h1.5M798.5 1282.5h1.5M793.5 1254h1.5M792.5 1258h1.5M793.5 1287.5h1.5M795.5 1286h1.5M795.5 1246.5h1.5M772.5 1295.5h1.5M803.5 1271.5h1.5M798 1282.5h1.5M797.5 1266h1.5M798.5 1265h1.5M793.5 1274.5h1.5M778 1267h1.5M809 1253.5h1.5M796.5 1278.5h1.5M792.5 1281.5h1.5M789.5 1261h1.5M793 1264.5h1.5M810 1271.5h1.5M784.5 1280h1.5M781.5 1279.5h1.5M784 1263.5h1.5M792 1306h1.5M789 1267.5h1.5M786 1281h1.5M778.5 1262h1.5M789.5 1272.5h1.5M781.5 1263.5h1.5M784 1268.5h1.5M785 1278.5h1.5M819 1281h1.5M807.5 1259h1.5M808.5 1269.5h1.5M802 1275h1.5M789.5 1283h1.5M787 1249.5h1.5M792.5 1284h1.5M795 1277.5h1.5M783.5 1279h1.5M788 1271h1.5M787 1286.5h1.5M794.5 1274.5h1.5M813.5 1271h1.5M803.5 1272h1.5M781.5 1261.5h1.5M794 1276h1.5M787.5 1272.5h1.5M783 1294.5h1.5M782 1262.5h1.5M796 1272.5h1.5M784 1268.5h1.5M796 1289.5h1.5M794.5 1271h1.5M799 1270h1.5M795 1273.5h1.5M794 1265.5h1.5M782.5 1288.5h1.5M800.5 1254h1.5M790 1267h1.5M800 1272.5h1.5M823 1257h1.5M813 1287h1.5M795.5 1271.5h1.5M791 1273h1.5M798 1258h1.5M787 1270h1.5M776 1290h1.5M798 1261.5h1.5M793.5 1250h1.5M789.5 1271.5h1.5M791.5 1273.5h1.5M787.5 1268.5h1.5M795 1290h1.5M794 1302.5h1.5M784.5 1278.5h1.5M794.5 1267.5h1.5M806.5 1274.5h1.5M794 1290.5h1.5M777 1270h1.5M799.5 1280.5h1.5M793 1270h1.5M792.5 1288h1.5M788.5 1261.5h1.5M787 1295h1.5M784 1279h1.5M806.5 1274.5h1.5M777.5 1263.5h1.5M804.5 1253h1.5M786 1279.5h1.5M790.5 1281h1.5M774 1276h1.5M800 1279h1.5M779.5 1262.5h1.5M786.5 1256h1.5M804 1270h1.5M778 1262.5h1.5M776.5 1256.5h1.5M791.5 1261.5h1.5M796.5 1278h1.5M801 1272.5h1.5M808 1285.5h1.5M794 1276h1.5M780 1263h1.5M806 1275.5h1.5M794.5 1263h1.5M806 1264h1.5M779 1269h1.5M801.5 1253.5h1.5M795 1311h1.5M796.5 1260.5h1.5M771.5 1256.5h1.5M794 1281.5h1.5M797.5 1244h1.5M776 1276.5h1.5M823 1273.5h1.5M788.5 1256.5h1.5M768.5 1281.5h1.5M788 1270h1.5M782.5 1265.5h1.5M786 1293.5h1.5M779.5 1273h1.5M792.5 1282h1.5M785.5 1288h1.5M783.5 1273h1.5M802.5 1255h1.5M802 1282.5h1.5M792.5 1270.5h1.5M812 1265h1.5M790.5 1268h1.5M796 1284h1.5M778 1248.5h1.5M790.5 1258h1.5M797.5 1270h1.5M795.5 1258h1.5M783 1271h1.5M779.5 1292h1.5M778 1292.5h1.5M793.5 1269h1.5M795 1275.5h1.5M787 1278h1.5M793.5 1258.5h1.5M772.5 1287h1.5M782 1264h1.5M787.5 1268.5h1.5M772.5 1256.5h1.5M773 1289.5h1.5M790 1286.5h1.5M787 1279h1.5M789 1274h1.5M789 1267h1.5M780.5 1287h1.5M814 1287.5h1.5M781 1266h1.5M783.5 1273h1.5M785 1261h1.5M775 1279h1.5M783.5 1286h1.5M805.5 1282h1.5M781.5 1260.5h1.5M783 1279.5h1.5M779 1296h1.5M789 1280.5h1.5M767.5 1268.5h1.5M775 1292.5h1.5M791 1280.5h1.5M792.5 1278.5h1.5M785.5 1272h1.5M791 1278.5h1.5M807 1305.5h1.5M799.5 1245h1.5M786.5 1268.5h1.5M802 1264.5h1.5M784.5 1242.5h1.5M783.5 1304.5h1.5M786 1260.5h1.5M788 1259h1.5M780.5 1256.5h1.5M780 1271h1.5M803.5 1274.5h1.5M796.5 1270.5h1.5M794.5 1259h1.5M784 1280.5h1.5M787 1274h1.5M794 1289h1.5M800.5 1260.5h1.5M768.5 1271h1.5M784.5 1286.5h1.5M795 1257h1.5M775.5 1258h1.5M791 1272h1.5M800.5 1276h1.5M789.5 1252h1.5M787.5 1287h1.5M777 1255h1.5M796 1263h1.5M801 1269h1.5M793 1290.5h1.5M783 1295.5h1.5M784 1277.5h1.5M790 1267h1.5M780.5 1271.5h1.5M788 1301h1.5M790 1289h1.5M802 1273.5h1.5M789.5 1276h1.5M796.5 1272h1.5M765.5 1256.5h1.5M791 1269.5h1.5M786.5 1258.5h1.5M794.5 1274h1.5M819 1264h1.5M797.5 1249.5h1.5M801.5 1272h1.5M794 1275.5h1.5M809 1269.5h1.5M779 1268.5h1.5M800.5 1275.5h1.5M776.5 1285h1.5M781 1282.5h1.5M780.5 1272.5h1.5M791 1293.5h1.5M800 1287h1.5M820 1262.5h1.5M802.5 1259h1.5M799.5 1258.5h1.5M792 1279.5h1.5M791.5 1255h1.5M784 1283.5h1.5M780 1257.5h1.5M788.5 1272h1.5M794 1279h1.5M791.5 1262h1.5M790 1286h1.5M782.5 1270h1.5M774.5 1278.5h1.5M785 1247.5h1.5M772.5 1259.5h1.5M789.5 1246.5h1.5M792.5 1282h1.5M790 1267h1.5M798 1284.5h1.5M779 1246h1.5M803.5 1273.5h1.5M781 1249h1.5M783 1263.5h1.5M777 1276h1.5M782.5 1269.5h1.5M799 1273.5h1.5M782 1267.5h1.5M784 1271.5h1.5M791.5 1258h1.5M807.5 1274.5h1.5M802.5 1274h1.5M785.5 1274h1.5M795.5 1281.5h1.5M772.5 1271h1.5M807 1267h1.5M819 1303.5h1.5M779.5 1260h1.5M792 1287.5h1.5M813 1296h1.5M792 1279h1.5M771.5 1245h1.5M784.5 1259h1.5M788.5 1247.5h1.5M783.5 1279h1.5M793.5 1271h1.5M816.5 1285h1.5M790 1295h1.5M807.5 1265h1.5M790 1272h1.5M781 1269h1.5M805.5 1273.5h1.5M780 1264h1.5M781.5 1274h1.5M795.5 1259h1.5M800 1272h1.5M796 1285h1.5M792.5 1252.5h1.5M778 1274.5h1.5M799.5 1288.5h1.5M798 1293.5h1.5M780.5 1269h1.5M783 1264h1.5M790 1289h1.5M791.5 1287.5h1.5M813 1265.5h1.5M813 1298h1.5M794 1271h1.5M804.5 1284h1.5M787.5 1267h1.5M806.5 1263h1.5M803.5 1271.5h1.5M805 1256h1.5M785 1286.5h1.5M779 1278.5h1.5M798 1245.5h1.5M799.5 1286.5h1.5M785.5 1262h1.5M783.5 1263.5h1.5M789.5 1269.5h1.5M787 1280.5h1.5M808 1271h1.5M811 1287h1.5M785 1278.5h1.5M779 1256.5h1.5M789 1259h1.5M788 1252h1.5M785 1253h1.5M795 1265.5h1.5M790 1288.5h1.5M787 1275.5h1.5M790 1280h1.5M804.5 1279.5h1.5M790.5 1289.5h1.5M777 1267.5h1.5M793.5 1286.5h1.5M782 1288.5h1.5M787.5 1268h1.5M798 1259h1.5M813 1262h1.5M798.5 1291.5h1.5M797 1287h1.5M768 1275h1.5M799 1284.5h1.5M801 1278.5h1.5M803 1275h1.5M774.5 1298.5h1.5M782.5 1280h1.5M792 1273h1.5M770 1253.5h1.5M783.5 1287h1.5M771 1267.5h1.5M790 1259h1.5M785 1276h1.5M788.5 1259h1.5M793 1277.5h1.5M778 1280.5h1.5M783 1277h1.5M796.5 1268h1.5M803 1279h1.5M801 1274.5h1.5M803 1273.5h1.5M769 1269.5h1.5M787.5 1272.5h1.5M790 1262h1.5M810.5 1264h1.5M787 1265h1.5M779 1275h1.5M790 1272h1.5M806.5 1265h1.5M792.5 1283.5h1.5M790.5 1280h1.5M771 1262.5h1.5M790 1269.5h1.5M782 1277.5h1.5M789 1263.5h1.5M785.5 1277.5h1.5M777 1269.5h1.5M795.5 1270.5h1.5M781 1264h1.5M779 1275h1.5M813.5 1272.5h1.5M779.5 1286.5h1.5M782 1276h1.5M793 1300h1.5M779.5 1281h1.5M786 1284.5h1.5M798.5 1287h1.5M794.5 1262h1.5M822.5 1269h1.5M785 1277.5h1.5M799 1278h1.5M799.5 1283h1.5M795 1259.5h1.5M820.5 1289h1.5M798.5 1270.5h1.5M789 1269h1.5M778.5 1247h1.5M811 1281.5h1.5M776.5 1290h1.5M789 1270.5h1.5M787.5 1250h1.5M790 1274h1.5M785 1256h1.5M799.5 1284.5h1.5M793 1268.5h1.5M813.5 1251.5h1.5M799 1273h1.5M812.5 1270h1.5M798.5 1277h1.5M775 1266.5h1.5M791.5 1285.5h1.5M791.5 1269.5h1.5M795.5 1243.5h1.5M765.5 1247.5h1.5M802 1267.5h1.5M799.5 1268h1.5M800 1267.5h1.5M795.5 1274.5h1.5M801 1292.5h1.5M773 1278.5h1.5M792.5 1273h1.5M783.5 1268h1.5M805.5 1266.5h1.5M817.5 1270.5h1.5M789.5 1281h1.5M797 1289h1.5M770 1255.5h1.5M797.5 1282h1.5M796 1280h1.5M789 1253h1.5M799 1288h1.5M786 1256.5h1.5M789 1281h1.5M800 1242.5h1.5M789.5 1260.5h1.5M798 1278.5h1.5M790.5 1281.5h1.5M801 1266.5h1.5M782.5 1295.5h1.5M801 1277h1.5M787 1287.5h1.5M810.5 1264h1.5M786 1259.5h1.5M778 1262.5h1.5M790 1268.5h1.5M790 1260.5h1.5M784 1262h1.5M784.5 1252.5h1.5M790.5 1269h1.5M784.5 1252h1.5M795.5 1267h1.5M784 1249.5h1.5M775.5 1273h1.5M806.5 1274.5h1.5M787 1261h1.5M780 1280.5h1.5M798 1273h1.5M804.5 1258h1.5M784.5 1251.5h1.5M798.5 1290h1.5M783 1287h1.5M802 1259h1.5M802 1290.5h1.5M796 1281.5h1.5M774.5 1287h1.5M789.5 1255h1.5M782.5 1284h1.5M792 1287.5h1.5M793.5 1272.5h1.5M789.5 1277h1.5M800.5 1276.5h1.5M791 1289.5h1.5M798.5 1275h1.5M793 1279h1.5M772 1283h1.5M808 1269.5h1.5M788 1265.5h1.5M794 1269h1.5M799.5 1257.5h1.5M782.5 1267.5h1.5M808 1264h1.5M775 1249.5h1.5M783 1283h1.5M792.5 1263h1.5M792 1298h1.5M823 1277h1.5M814 1289h1.5M811.5 1261h1.5M789 1298.5h1.5M775.5 1264h1.5M779 1275h1.5M778 1260.5h1.5M801 1269h1.5M798 1276.5h1.5M792.5 1286h1.5M793.5 1267.5h1.5M775 1285.5h1.5M778.5 1282.5h1.5M785 1256h1.5M793.5 1274.5h1.5M792.5 1274h1.5M786 1282.5h1.5M778 1262.5h1.5M801 1282h1.5M795.5 1268h1.5M776.5 1298.5h1.5M772.5 1287.5h1.5M812.5 1267h1.5M794.5 1276.5h1.5M802.5 1301h1.5M777 1264.5h1.5M794.5 1295.5h1.5M786 1280.5h1.5M804.5 1278.5h1.5M807 1286.5h1.5M791 1266.5h1.5M790 1268.5h1.5M813.5 1257h1.5M788.5 1253h1.5M790 1269h1.5M800 1279h1.5M810.5 1284h1.5M785 1261.5h1.5M783 1280h1.5M793 1275.5h1.5M791 1292.5h1.5M772 1271.5h1.5M778 1274.5h1.5M801.5 1265h1.5M794 1280.5h1.5M788 1279h1.5M787.5 1258h1.5M787 1279h1.5M809 1284h1.5M814 1271h1.5M785.5 1274h1.5M787 1268.5h1.5M796 1277h1.5M782.5 1290.5h1.5M770 1277h1.5M804.5 1276h1.5M795 1298.5h1.5M776.5 1250h1.5M787 1249.5h1.5M784 1283.5h1.5M788 1282h1.5M782 1288h1.5M778.5 1295.5h1.5M792 1293.5h1.5M790 1299.5h1.5M772 1254.5h1.5M796 1288h1.5M803.5 1284h1.5M794.5 1260h1.5M798.5 1271.5h1.5M783.5 1278h1.5M795.5 1290.5h1.5M782 1268h1.5M791 1299h1.5M789 1291.5h1.5M781.5 1283h1.5M798 1287h1.5M801.5 1270h1.5M791.5 1295h1.5M773.5 1247.5h1.5M806 1298h1.5M765.5 1271h1.5M798 1291.5h1.5M784.5 1283h1.5M799 1306h1.5M793 1277h1.5M789 1267.5h1.5M794.5 1255.5h1.5M768.5 1278.5h1.5M796 1263h1.5M786.5 1257.5h1.5M804 1277h1.5M791 1275h1.5M769.5 1262h1.5M791 1279.5h1.5M794 1266.5h1.5M804 1287.5h1.5M790.5 1277h1.5M787.5 1272h1.5M799.5 1293h1.5M803 1279.5h1.5M781.5 1263.5h1.5M799.5 1286.5h1.5M817 1269h1.5M791.5 1248.5h1.5M791 1284h1.5M765 1242h1.5M793 1271h1.5M804 1265.5h1.5M792 1282h1.5M797.5 1260.5h1.5M797.5 1263h1.5M793 1281h1.5M800 1273.5h1.5M770.5 1254h1.5M792.5 1285.5h1.5M795.5 1274.5h1.5M791.5 1277h1.5M783 1286.5h1.5M797 1265.5h1.5M787 1250.5h1.5M791.5 1270.5h1.5M802 1266h1.5M797 1265h1.5M765.5 1279h1.5M792.5 1274h1.5M789.5 1266h1.5M781.5 1260.5h1.5M769 1279h1.5M787 1289h1.5M768.5 1285h1.5M811 1263h1.5M792 1278h1.5M793.5 1266h1.5M782.5 1285h1.5M774 1290.5h1.5M786 1274.5h1.5M791 1292.5h1.5M791 1268h1.5M785.5 1272.5h1.5M809 1248h1.5M803.5 1276h1.5M808.5 1275h1.5M794.5 1285.5h1.5M795.5 1281.5h1.5M805 1269h1.5M783 1266.5h1.5M791 1260.5h1.5M782 1262.5h1.5M792 1262h1.5M772 1264.5h1.5M782 1269.5h1.5M792 1270h1.5M796 1277h1.5M789 1247h1.5M781 1284h1.5M796.5 1284h1.5M772 1273h1.5M787.5 1276h1.5M792.5 1278.5h1.5M795 1290h1.5M802.5 1253h1.5M794 1282.5h1.5M794 1266h1.5M785.5 1252.5h1.5M783.5 1255h1.5M790.5 1257.5h1.5M793 1276.5h1.5M788 1265h1.5M793 1288h1.5M785.5 1275h1.5M789 1287.5h1.5M787.5 1263.5h1.5M789 1270h1.5M804 1267h1.5M778 1284.5h1.5M814 1281h1.5M777.5 1274h1.5M789.5 1273h1.5M792.5 1267.5h1.5M785 1288h1.5M775 1267.5h1.5M781 1284.5h1.5M795 1283.5h1.5M776.5 1260.5h1.5M784.5 1272.5h1.5M784.5 1251.5h1.5M791 1260.5h1.5M788.5 1290h1.5M769 1285h1.5M789.5 1262h1.5M791 1289.5h1.5M815 1278.5h1.5M806.5 1257.5h1.5M773.5 1278.5h1.5M790 1247.5h1.5M777 1266.5h1.5M794.5 1274.5h1.5M783 1278h1.5M776.5 1272h1.5M776.5 1276h1.5M785 1284.5h1.5M788.5 1270.5h1.5M810 1271h1.5M783.5 1267.5h1.5M777.5 1276.5h1.5M784.5 1248.5h1.5M773.5 1272h1.5M779 1277.5h1.5M791.5 1271h1.5M793 1264h1.5M785 1261h1.5M793.5 1273h1.5M777 1275.5h1.5M791 1276.5h1.5M790 1263h1.5M800 1276.5h1.5M777.5 1262h1.5M777 1257.5h1.5M797.5 1286.5h1.5M800 1254.5h1.5M798.5 1271h1.5M791 1289.5h1.5M783.5 1283h1.5M782.5 1255.5h1.5M791 1294h1.5M792 1284.5h1.5M797 1264.5h1.5M771.5 1264h1.5M805.5 1269.5h1.5M776 1289.5h1.5M768 1269.5h1.5M802 1303.5h1.5M796.5 1264h1.5M794.5 1284h1.5M803.5 1264.5h1.5M784 1263.5h1.5M801.5 1283h1.5M768 1275.5h1.5M778 1279.5h1.5M771.5 1261.5h1.5M801 1267h1.5M791.5 1278.5h1.5M798 1264h1.5M784 1269.5h1.5M801 1268h1.5M788.5 1279h1.5M809.5 1267h1.5M796 1297.5h1.5M809 1282.5h1.5M782 1267.5h1.5M775.5 1291.5h1.5M783 1250.5h1.5M801 1264.5h1.5M781 1255.5h1.5M797.5 1277.5h1.5M787.5 1268h1.5M812 1248.5h1.5M785.5 1284.5h1.5M774.5 1263.5h1.5M804.5 1276h1.5M796 1273.5h1.5M781.5 1272.5h1.5M793 1283.5h1.5M790.5 1260h1.5M790.5 1249.5h1.5M781.5 1260.5h1.5M789.5 1300h1.5M771 1268.5h1.5M793 1265.5h1.5M798 1290h1.5M794.5 1265h1.5M791 1280h1.5M796.5 1271h1.5M795.5 1276h1.5M786.5 1266h1.5M799 1274h1.5M765 1270.5h1.5M784 1272.5h1.5M816.5 1307.5h1.5M766 1286h1.5M790 1270.5h1.5M796.5 1273h1.5M786.5 1274.5h1.5M798 1276.5h1.5M789.5 1265h1.5M820.5 1267h1.5M795.5 1264h1.5M793 1274.5h1.5M767 1271.5h1.5M779.5 1268.5h1.5M779 1277.5h1.5M805 1269.5h1.5M773 1265h1.5M780 1257h1.5M799 1288.5h1.5M784.5 1276h1.5M783 1267h1.5M789 1264h1.5M774.5 1256.5h1.5M795.5 1286h1.5M804 1288.5h1.5M787 1286h1.5M782 1286h1.5M809 1273h1.5M804.5 1259.5h1.5M784.5 1262.5h1.5M791.5 1276h1.5M788 1267h1.5M786.5 1279h1.5M783 1259.5h1.5M767.5 1273h1.5M772 1268h1.5M785 1273h1.5M793 1302.5h1.5M782.5 1292.5h1.5M785.5 1265.5h1.5M794 1265.5h1.5M789.5 1298h1.5M766 1278.5h1.5M798 1289.5h1.5M797.5 1307h1.5M787.5 1241h1.5M776 1281.5h1.5M780.5 1284h1.5M780 1260h1.5M784 1287h1.5M773.5 1293.5h1.5M799.5 1265h1.5M778 1285h1.5M778 1256.5h1.5M806 1255h1.5M776 1282h1.5M796 1291.5h1.5M784.5 1270h1.5M794.5 1274h1.5M793.5 1275.5h1.5M790 1267.5h1.5M797 1265.5h1.5M804.5 1287h1.5M793.5 1305h1.5M779.5 1267h1.5M797.5 1276.5h1.5M794.5 1282.5h1.5M802 1297.5h1.5M785.5 1263h1.5M786.5 1281h1.5M796 1273.5h1.5M786 1289.5h1.5M810 1266h1.5M812.5 1277h1.5M815 1270.5h1.5M795 1283h1.5M787.5 1279.5h1.5M807.5 1278h1.5M790.5 1275.5h1.5M801 1279h1.5M799.5 1274.5h1.5M778.5 1268h1.5M798.5 1281.5h1.5M794.5 1262h1.5M783 1259h1.5M776 1279h1.5M804.5 1269h1.5M809 1264h1.5M786 1261h1.5M781 1260h1.5M769 1264.5h1.5M787.5 1263.5h1.5M786.5 1280h1.5M774.5 1280h1.5M803 1281h1.5M795 1270.5h1.5M783 1274.5h1.5M808.5 1270h1.5M791.5 1280.5h1.5M791.5 1275.5h1.5M785.5 1269h1.5M791.5 1245.5h1.5M793 1265.5h1.5M766 1268.5h1.5M790 1274.5h1.5M801 1280h1.5M775.5 1283.5h1.5M798.5 1273h1.5M786.5 1247.5h1.5M786 1293.5h1.5M797 1301h1.5M783.5 1297h1.5M787.5 1286h1.5M787.5 1275.5h1.5M793.5 1263.5h1.5M797 1266.5h1.5M792 1289.5h1.5M801 1281h1.5M798 1293.5h1.5M790 1264h1.5M803 1281h1.5M794.5 1265.5h1.5M799 1289h1.5M788.5 1253h1.5M780.5 1267h1.5M773 1250h1.5M805.5 1255h1.5M773 1252.5h1.5M798.5 1268.5h1.5M785 1270.5h1.5M794 1265h1.5M777.5 1281.5h1.5M806 1287.5h1.5M776 1286.5h1.5M796.5 1311h1.5M812 1288.5h1.5M800 1274.5h1.5M783 1267h1.5M784.5 1283.5h1.5M804.5 1263h1.5M776 1257.5h1.5M798 1287h1.5M809.5 1285h1.5M794.5 1272.5h1.5M798.5 1254.5h1.5M793 1295.5h1.5M778.5 1276.5h1.5M797 1271.5h1.5M808.5 1287.5h1.5M801 1288h1.5M779.5 1274.5h1.5M823.5 1287.5h1.5M776.5 1277.5h1.5M793.5 1277.5h1.5M811.5 1290.5h1.5M795.5 1286.5h1.5M796.5 1270.5h1.5M777 1292h1.5M798 1275.5h1.5M788.5 1300.5h1.5M786.5 1258.5h1.5M779.5 1286h1.5M795.5 1264.5h1.5M798 1279.5h1.5M788.5 1264h1.5M803.5 1279.5h1.5M792 1260.5h1.5M776.5 1279h1.5M804 1282h1.5M794 1265.5h1.5M781.5 1276h1.5M795 1286.5h1.5M783.5 1270h1.5M818 1284h1.5M787.5 1294.5h1.5M776.5 1272h1.5M786.5 1273.5h1.5M797 1272h1.5M794.5 1266h1.5M794 1272.5h1.5M778 1284h1.5M788 1264h1.5M784 1269.5h1.5M795.5 1295.5h1.5M799.5 1283h1.5M792 1285h1.5M801 1250h1.5M800 1296.5h1.5M776.5 1276h1.5M790 1287.5h1.5M803 1270.5h1.5M782.5 1252h1.5M803 1263.5h1.5M793 1285.5h1.5M796.5 1284.5h1.5M797 1273h1.5M788 1258h1.5M793.5 1287h1.5M777.5 1267.5h1.5M781.5 1278h1.5M807 1274.5h1.5M770.5 1289h1.5M787.5 1281h1.5M784.5 1263h1.5M787.5 1268h1.5M789 1261h1.5M781.5 1286h1.5M804 1276h1.5M780 1266.5h1.5M787 1286.5h1.5M785.5 1287h1.5M802 1285.5h1.5M803.5 1275.5h1.5M777.5 1286h1.5M789.5 1268h1.5M803.5 1266h1.5M789.5 1288.5h1.5M783 1267.5h1.5M774.5 1267h1.5M785 1283.5h1.5M771 1254h1.5M790.5 1264h1.5M795.5 1288.5h1.5M797.5 1291h1.5M794 1285.5h1.5M785 1276.5h1.5M776.5 1266.5h1.5M782 1257.5h1.5M790.5 1268.5h1.5M786.5 1256h1.5M805 1291h1.5M814 1290.5h1.5M789 1268.5h1.5M794 1268.5h1.5M775.5 1289.5h1.5M781 1256h1.5M784 1272.5h1.5M790 1273h1.5M798.5 1252h1.5M784.5 1263h1.5M800.5 1261.5h1.5M791 1287h1.5M810 1286h1.5M775 1285h1.5M792.5 1271.5h1.5M796.5 1288.5h1.5M804.5 1280h1.5M802 1300h1.5M778.5 1255h1.5M787.5 1274.5h1.5M801 1262h1.5M788.5 1253h1.5M801.5 1270h1.5M796.5 1300h1.5M796.5 1256.5h1.5M801 1307h1.5M814.5 1277h1.5M777 1296h1.5M789.5 1291.5h1.5M784.5 1281.5h1.5M782 1271h1.5M790.5 1254.5h1.5M810 1251.5h1.5M781.5 1284.5h1.5M802 1264h1.5M775 1266h1.5M780.5 1280.5h1.5M791 1278.5h1.5M797.5 1281.5h1.5M782.5 1265.5h1.5M791.5 1271.5h1.5M789.5 1263.5h1.5M791.5 1256h1.5M790.5 1288.5h1.5M783 1290h1.5M768.5 1259h1.5M775 1280h1.5M803.5 1286h1.5M806.5 1279h1.5M777.5 1266h1.5M804.5 1287.5h1.5M785 1292.5h1.5M772 1285h1.5M788 1271h1.5M786.5 1262.5h1.5M795 1272h1.5M806.5 1289h1.5M787.5 1262.5h1.5M786 1298h1.5M810 1278h1.5M794 1282.5h1.5M800.5 1260.5h1.5M785.5 1259.5h1.5M795.5 1292.5h1.5M801.5 1270.5h1.5M790 1270h1.5M791.5 1276h1.5M784.5 1275h1.5M785.5 1265h1.5M807 1260h1.5M774.5 1303.5h1.5M785.5 1287h1.5M785.5 1282.5h1.5M794 1285.5h1.5M785 1266h1.5M791 1267.5h1.5M767.5 1273h1.5M791.5 1269h1.5M804 1252.5h1.5M794 1281h1.5M784.5 1264.5h1.5M788.5 1269.5h1.5M791 1285.5h1.5M796.5 1278h1.5M797.5 1283.5h1.5M802 1264.5h1.5M792.5 1254h1.5M775 1304h1.5M787.5 1277.5h1.5M771.5 1262h1.5M785.5 1283.5h1.5M783 1271h1.5M787.5 1290h1.5M797 1264h1.5M796 1267.5h1.5M786.5 1273.5h1.5M792.5 1259.5h1.5M806.5 1301.5h1.5M792 1272.5h1.5M791.5 1279h1.5M781 1300h1.5M797.5 1261.5h1.5M788 1266h1.5M793.5 1272.5h1.5M788 1259.5h1.5M790 1289h1.5M772.5 1242.5h1.5M799 1303h1.5M796 1262.5h1.5M792.5 1281.5h1.5M768 1269h1.5M801 1291h1.5M792.5 1294h1.5M800 1277h1.5M800.5 1278.5h1.5M791 1269h1.5M785.5 1268h1.5M778 1252.5h1.5M776.5 1275.5h1.5M786 1272.5h1.5M776 1245h1.5M799.5 1249.5h1.5M776 1260.5h1.5M805.5 1273.5h1.5M782.5 1268h1.5M786.5 1257h1.5M791.5 1265h1.5M797.5 1277h1.5M774.5 1250h1.5M781 1256h1.5M789.5 1269.5h1.5M778 1259.5h1.5M800.5 1263h1.5M814.5 1264.5h1.5M794 1272h1.5M798.5 1285h1.5M793.5 1247.5h1.5M801 1276h1.5M798 1294h1.5M812 1277.5h1.5M779 1260.5h1.5M804 1287h1.5M774 1294h1.5M779.5 1252h1.5M799 1282.5h1.5M781.5 1261.5h1.5M804.5 1258.5h1.5M795.5 1250h1.5M796 1276h1.5M805.5 1288h1.5M784 1282.5h1.5M769.5 1261.5h1.5M786 1280h1.5M815.5 1289.5h1.5M787.5 1278h1.5M803 1279h1.5M788.5 1274.5h1.5M788 1271h1.5M786 1273h1.5M781 1260.5h1.5M801 1276h1.5M811 1270.5h1.5M783 1267h1.5M793 1279.5h1.5M781 1256h1.5M782.5 1276h1.5M791 1252h1.5M793.5 1274.5h1.5M782.5 1267.5h1.5M783 1277.5h1.5M807 1283.5h1.5M777.5 1275h1.5M768 1282.5h1.5M803 1290h1.5M766.5 1266.5h1.5M784.5 1252.5h1.5M794.5 1280h1.5M777.5 1279.5h1.5M783.5 1294.5h1.5M789.5 1264.5h1.5M779 1282.5h1.5M800.5 1258.5h1.5M782 1265.5h1.5M797.5 1244h1.5M801.5 1263.5h1.5M787.5 1269h1.5M789 1263h1.5M806 1282.5h1.5M783 1285h1.5M786.5 1275h1.5M803 1259h1.5M801.5 1275h1.5M789.5 1278h1.5M787.5 1258h1.5M779 1262.5h1.5M793 1290.5h1.5M789.5 1253.5h1.5M788 1277h1.5M795 1262.5h1.5M777 1277h1.5M797 1273.5h1.5M788.5 1298h1.5M790 1275.5h1.5M788 1289h1.5M797.5 1274.5h1.5M783 1290.5h1.5M802.5 1282.5h1.5M790 1272h1.5M798.5 1301.5h1.5M779 1260.5h1.5M784 1268h1.5M797 1251.5h1.5M785 1277.5h1.5M806.5 1277h1.5M808.5 1271h1.5M791.5 1284h1.5M768.5 1257.5h1.5M801 1272h1.5M796 1259h1.5M806.5 1276.5h1.5M790.5 1275.5h1.5M790 1261h1.5M787.5 1278.5h1.5M779 1256.5h1.5M797 1282h1.5M803.5 1275.5h1.5M803 1282h1.5M781.5 1247h1.5M798 1257.5h1.5M773.5 1264h1.5M817.5 1269h1.5M776 1268.5h1.5M792.5 1279.5h1.5M789 1260.5h1.5M790.5 1264.5h1.5M801 1269.5h1.5M785 1284.5h1.5M792 1266h1.5M800.5 1278h1.5M805.5 1277h1.5M780.5 1253h1.5M793.5 1276.5h1.5M793 1259.5h1.5M804.5 1291h1.5M789.5 1279.5h1.5M792.5 1279.5h1.5M789 1266.5h1.5M787.5 1296h1.5M798 1281.5h1.5M798.5 1283.5h1.5M781 1277.5h1.5M801 1287h1.5M819.5 1268h1.5M778 1261h1.5M777 1267h1.5M797.5 1271h1.5M780 1254h1.5M803 1275.5h1.5M780 1246h1.5M787 1280h1.5M790.5 1275.5h1.5M798 1272.5h1.5M793 1260.5h1.5M779.5 1283.5h1.5M799.5 1277h1.5M790 1268.5h1.5M794 1277h1.5M806 1303h1.5M795 1316h1.5M778.5 1282.5h1.5M779 1281h1.5M800.5 1269.5h1.5M798 1264h1.5M771.5 1288.5h1.5M788 1267h1.5M787.5 1279.5h1.5M783 1280.5h1.5M811.5 1293.5h1.5M805 1269.5h1.5M791 1267h1.5M789 1285.5h1.5M788.5 1278.5h1.5M786 1293.5h1.5M791.5 1287.5h1.5M779.5 1266.5h1.5M801 1260.5h1.5M769 1266h1.5M802 1279h1.5M779.5 1268h1.5M803 1286.5h1.5M792 1280h1.5M808.5 1296h1.5M775 1269h1.5M788.5 1285h1.5M789 1278h1.5M791.5 1272.5h1.5M795.5 1285h1.5M779.5 1275h1.5M778.5 1280.5h1.5M792.5 1287h1.5M788 1267.5h1.5M795 1295h1.5M771 1271h1.5M787.5 1265h1.5M795 1270.5h1.5M793 1273.5h1.5M783 1257.5h1.5M784 1251h1.5M785 1281.5h1.5M812.5 1297h1.5M781.5 1264h1.5M803.5 1294h1.5M801 1254.5h1.5M792.5 1284h1.5M802 1277h1.5M788 1282h1.5M795.5 1258h1.5M808 1280h1.5M786.5 1287h1.5M802 1280.5h1.5M806 1267h1.5M806 1281.5h1.5M800 1256.5h1.5M804.5 1282h1.5M788 1288.5h1.5M787 1250.5h1.5M792.5 1261.5h1.5M774.5 1284h1.5M795.5 1290.5h1.5M795.5 1282h1.5M800 1283.5h1.5M781.5 1279h1.5M791.5 1281.5h1.5M790 1264.5h1.5M794 1294.5h1.5M775.5 1288h1.5M805.5 1275.5h1.5M814.5 1277h1.5M792 1266h1.5M797 1280h1.5M786.5 1264h1.5M778.5 1280h1.5M772.5 1273h1.5M768.5 1292.5h1.5M802.5 1269.5h1.5M815 1282.5h1.5M794.5 1270h1.5M789 1281h1.5M791 1280h1.5M795.5 1268h1.5M800.5 1266h1.5M786 1261h1.5M797 1300.5h1.5M782.5 1281.5h1.5M775.5 1247.5h1.5M793.5 1264h1.5M797.5 1284h1.5M794 1276h1.5M784 1285h1.5M779 1249.5h1.5M803.5 1283.5h1.5M815 1294h1.5M800.5 1276.5h1.5M797.5 1258h1.5M770.5 1273.5h1.5M800.5 1260h1.5M797.5 1278.5h1.5M787 1256.5h1.5M791.5 1266.5h1.5M812.5 1280.5h1.5M794 1296h1.5M786 1251.5h1.5M796.5 1293.5h1.5M781 1275.5h1.5M770.5 1263.5h1.5M776 1261h1.5M791.5 1296.5h1.5M793 1282.5h1.5M796.5 1255.5h1.5M785 1285.5h1.5M786.5 1284h1.5M801 1249h1.5M785.5 1272h1.5M782 1267.5h1.5M785 1274.5h1.5M796 1284h1.5M794.5 1287h1.5M778.5 1260.5h1.5M789 1280h1.5M805.5 1287.5h1.5M796.5 1281h1.5M800.5 1258.5h1.5M800 1307.5h1.5M801 1276h1.5M793.5 1253.5h1.5M779 1263h1.5M792.5 1267h1.5M789.5 1269h1.5M777 1290h1.5M768.5 1270.5h1.5M772.5 1267h1.5M797.5 1287.5h1.5M771.5 1272h1.5M769 1272h1.5M794 1282h1.5M770.5 1287.5h1.5M774.5 1262h1.5M793.5 1280.5h1.5M784 1260h1.5M785.5 1264.5h1.5M801 1284h1.5M800.5 1269h1.5M797 1256.5h1.5M804 1254h1.5M775 1297.5h1.5M783 1277h1.5M790 1306h1.5M815.5 1285h1.5M795.5 1284.5h1.5M794.5 1287h1.5M793 1294h1.5M783.5 1270.5h1.5M786 1277h1.5M788 1280.5h1.5M788.5 1284.5h1.5M806 1268h1.5M818 1278.5h1.5M812 1264h1.5M769.5 1270.5h1.5M779.5 1263.5h1.5M772 1294h1.5M775 1291.5h1.5M809 1255.5h1.5M792 1266.5h1.5M793 1255.5h1.5M793.5 1287h1.5M782.5 1253.5h1.5M797 1252.5h1.5M793.5 1280h1.5M802.5 1303.5h1.5M796.5 1268h1.5M797 1273.5h1.5M791.5 1276h1.5M786.5 1277h1.5M776.5 1251.5h1.5M799.5 1262h1.5M788 1263h1.5M778 1263h1.5M805 1284h1.5M788 1266.5h1.5M776 1289h1.5M778 1262h1.5M789 1269h1.5M768 1262h1.5M790.5 1263.5h1.5M796 1273h1.5M797 1259h1.5M795 1280h1.5M788.5 1289h1.5M769 1269h1.5M769 1270.5h1.5M792 1283.5h1.5M785.5 1266.5h1.5M768.5 1264h1.5M797 1282.5h1.5M791 1289.5h1.5M778.5 1272h1.5M793.5 1293h1.5M783.5 1250.5h1.5M808 1292h1.5M783.5 1263h1.5M807.5 1293.5h1.5M791.5 1250h1.5M799.5 1275h1.5M786 1292.5h1.5M800.5 1287.5h1.5M781 1282h1.5M782 1279.5h1.5M799 1250h1.5M780 1290h1.5M795 1287.5h1.5M782 1276.5h1.5M798 1273h1.5M784 1314h1.5M786 1256h1.5M795 1277h1.5M804.5 1280.5h1.5M780 1253h1.5M787.5 1251h1.5M799.5 1259.5h1.5M793.5 1262.5h1.5M781.5 1265h1.5M794.5 1262.5h1.5M795.5 1263h1.5M788 1274.5h1.5M787.5 1261h1.5M796 1267h1.5M795.5 1271h1.5M794 1266h1.5M783.5 1281h1.5M791.5 1292.5h1.5M784.5 1256h1.5M779.5 1263h1.5M804.5 1278.5h1.5M790.5 1277h1.5M793 1284h1.5M798.5 1279.5h1.5M785 1266h1.5M804 1289.5h1.5M808.5 1288h1.5M787.5 1260.5h1.5M787 1293h1.5M777.5 1298.5h1.5M790.5 1299.5h1.5M792.5 1282h1.5M813 1260h1.5M783.5 1266h1.5M778 1272.5h1.5M778.5 1260h1.5M790 1279.5h1.5M780 1274.5h1.5M798 1250.5h1.5M807 1257.5h1.5M798 1288h1.5M808.5 1273h1.5M779.5 1266h1.5M792.5 1298h1.5M787.5 1278.5h1.5M774 1263h1.5M789 1269h1.5M781 1256h1.5M796 1292h1.5M785 1287h1.5M775.5 1295.5h1.5M794.5 1257h1.5M798.5 1286.5h1.5M802 1263h1.5M807.5 1296h1.5M786.5 1266h1.5M816.5 1269h1.5M777 1276h1.5M800 1268.5h1.5M791 1250.5h1.5M772 1269.5h1.5M788.5 1278h1.5M807.5 1300.5h1.5M781 1272h1.5M787.5 1289h1.5M799.5 1263.5h1.5M808 1256.5h1.5M807 1287h1.5M778.5 1285h1.5M765.5 1293.5h1.5M781 1284h1.5M803 1284h1.5M799.5 1270.5h1.5M785.5 1273.5h1.5M777.5 1274.5h1.5M783.5 1264.5h1.5M766.5 1264h1.5M792 1270.5h1.5M776 1272h1.5M796.5 1257h1.5M792.5 1277h1.5M786 1288.5h1.5M793 1268.5h1.5M819 1276.5h1.5M771 1274.5h1.5M811 1251.5h1.5M796 1288h1.5M800.5 1280.5h1.5M797.5 1270.5h1.5M783.5 1281.5h1.5M783.5 1268.5h1.5M810 1266.5h1.5M818 1278.5h1.5M776 1245h1.5M822 1271h1.5M767.5 1314h1.5M784.5 1263h1.5M779.5 1279.5h1.5M821 1324h1.5M792 1293h1.5M831 1268h1.5M789.5 1254h1.5M814.5 1257h1.5M797.5 1285.5h1.5M790 1272.5h1.5M808.5 1317h1.5M823 1266.5h1.5M779.5 1267.5h1.5M831 1271h1.5M813 1290.5h1.5M821.5 1265.5h1.5M790.5 1326h1.5M808 1287h1.5M817.5 1284.5h1.5M816 1279h1.5M808.5 1288.5h1.5M786 1279.5h1.5M788.5 1289.5h1.5M789 1293.5h1.5M799 1284h1.5M791 1269h1.5M775.5 1249h1.5M783 1262h1.5M788 1266.5h1.5M780 1339h1.5M799.5 1313h1.5M797.5 1320h1.5M777 1291.5h1.5M796 1341.5h1.5M794.5 1300.5h1.5M798 1279h1.5M809.5 1307.5h1.5M802.5 1282h1.5M813.5 1319h1.5M772 1246h1.5M769 1266.5h1.5M773 1269h1.5M793.5 1287h1.5M790 1265.5h1.5M810 1288h1.5M820.5 1291.5h1.5M797 1311h1.5M802 1297h1.5M801 1275.5h1.5M792.5 1279h1.5M783.5 1289.5h1.5M813.5 1293h1.5M783 1269.5h1.5M782 1263h1.5M825.5 1313.5h1.5M802 1277h1.5M771 1286h1.5M807 1296h1.5M811 1303.5h1.5M816.5 1263.5h1.5M782.5 1290h1.5M798.5 1275.5h1.5M801.5 1330h1.5M776.5 1263.5h1.5M822 1291h1.5M809 1280.5h1.5M773 1291h1.5M772.5 1295h1.5M809.5 1301h1.5M796.5 1298h1.5M786.5 1306.5h1.5M795.5 1262h1.5M807.5 1302h1.5M787 1264.5h1.5M798.5 1292.5h1.5M772.5 1265.5h1.5M805.5 1296.5h1.5M827.5 1284.5h1.5M790.5 1330.5h1.5M774 1277h1.5M796 1299h1.5M798 1260h1.5M769.5 1270h1.5M786 1255.5h1.5M806.5 1279h1.5M792.5 1272.5h1.5M812 1305h1.5M792 1300h1.5M806 1286.5h1.5M810 1258.5h1.5M780 1268h1.5M800 1272.5h1.5M794.5 1320h1.5M815 1266h1.5M786.5 1327.5h1.5M802 1288.5h1.5M787.5 1265h1.5M791.5 1298h1.5M789 1293h1.5M784 1260h1.5M819.5 1286h1.5M801 1292h1.5M771.5 1292.5h1.5M797.5 1283h1.5M797.5 1245h1.5M784 1294.5h1.5M786 1253.5h1.5M820.5 1308h1.5M786.5 1248.5h1.5M797 1288h1.5M798.5 1311h1.5M806 1326h1.5M805 1283.5h1.5M816.5 1309h1.5M804 1276h1.5M774.5 1262h1.5M784 1277h1.5M805.5 1274.5h1.5M814.5 1260.5h1.5M769 1261h1.5M811 1302h1.5M775.5 1263h1.5M802.5 1244h1.5M802 1265h1.5M805.5 1302h1.5M796.5 1273.5h1.5M814 1281h1.5M775 1311.5h1.5M797.5 1298.5h1.5M777 1289h1.5M794.5 1268.5h1.5M785 1252.5h1.5M808.5 1310h1.5M765 1261.5h1.5M799 1248.5h1.5M804.5 1279h1.5M797 1314.5h1.5M807 1283h1.5M767 1308h1.5M775 1283h1.5M806.5 1321h1.5M777.5 1254h1.5M818 1289.5h1.5M814 1309h1.5M809.5 1254.5h1.5M778.5 1306.5h1.5M787 1280h1.5M780.5 1300h1.5M796.5 1276.5h1.5M781.5 1314h1.5M804 1304h1.5M782 1286.5h1.5M808 1285h1.5M792.5 1282h1.5M804 1266h1.5M814.5 1293h1.5M807 1284.5h1.5M784.5 1281h1.5M806 1265.5h1.5M790 1281h1.5M781.5 1255h1.5M798.5 1293.5h1.5M810 1292h1.5M791 1266.5h1.5M793 1253.5h1.5M780 1255.5h1.5M782 1261.5h1.5M806 1287h1.5M792 1307.5h1.5M778.5 1286h1.5M789 1300.5h1.5M811 1305.5h1.5M797.5 1316.5h1.5M773 1244h1.5M802.5 1290.5h1.5M780 1280.5h1.5M784 1297h1.5M784 1257.5h1.5M786.5 1267h1.5M819.5 1293h1.5M791 1284.5h1.5M805 1273h1.5M814 1308.5h1.5M797.5 1318.5h1.5M813 1280h1.5M787.5 1289h1.5M782.5 1267h1.5M792 1258h1.5M785 1277h1.5M777.5 1302.5h1.5M798.5 1310h1.5M785.5 1275h1.5M779.5 1287.5h1.5M798 1297h1.5M808.5 1325h1.5M791 1259.5h1.5M781 1298.5h1.5M782 1299.5h1.5M811.5 1296.5h1.5M786.5 1305.5h1.5M792 1268h1.5M793.5 1292.5h1.5M785 1291.5h1.5M819.5 1294.5h1.5M795 1286.5h1.5M780.5 1274h1.5M772 1295h1.5M801 1277h1.5M780 1288h1.5M817.5 1293.5h1.5M807 1324.5h1.5M826.5 1258h1.5M794 1297.5h1.5M785.5 1304h1.5M796 1289h1.5M778 1268.5h1.5M775 1323h1.5M810.5 1291h1.5M779.5 1280.5h1.5M764 1252.5h1.5M778.5 1288h1.5M799.5 1300.5h1.5M826 1285.5h1.5M803 1320h1.5M785.5 1303.5h1.5M786 1258h1.5M772.5 1260h1.5M786 1320.5h1.5M803.5 1319.5h1.5M783 1296.5h1.5M802 1299h1.5M803 1301h1.5M791.5 1256.5h1.5M801.5 1276h1.5M786.5 1300.5h1.5M801.5 1267.5h1.5M776.5 1255h1.5M764.5 1286h1.5M799 1266h1.5M810.5 1270.5h1.5M787 1277h1.5M798.5 1257h1.5M786 1271.5h1.5M784.5 1285.5h1.5M798.5 1304.5h1.5M796 1293.5h1.5M805 1310h1.5M785.5 1277.5h1.5M800 1271.5h1.5M816.5 1328h1.5M789.5 1318.5h1.5M795 1312h1.5M806 1291h1.5M788 1277.5h1.5M782 1286h1.5M791 1287h1.5M772.5 1289.5h1.5M817 1295h1.5M811.5 1335h1.5M783 1283h1.5M768.5 1281h1.5M814.5 1265.5h1.5M777 1308h1.5M803.5 1297h1.5M780 1262.5h1.5M793.5 1294.5h1.5M794 1290.5h1.5M787.5 1293.5h1.5M786.5 1267.5h1.5M791 1273.5h1.5M807.5 1297h1.5M787 1245.5h1.5M773.5 1274h1.5M776.5 1275h1.5M810.5 1291.5h1.5M790.5 1296.5h1.5M796.5 1279.5h1.5M803 1262.5h1.5M785 1260h1.5M767.5 1259h1.5M778.5 1289h1.5M785.5 1278h1.5M801 1320h1.5M766.5 1262h1.5M779.5 1285h1.5M804 1292h1.5M804.5 1275h1.5M798.5 1318h1.5M812 1318.5h1.5M765.5 1282h1.5M795.5 1300.5h1.5M805 1265h1.5M800 1274.5h1.5M808.5 1303h1.5M797.5 1305.5h1.5M780 1302h1.5M813.5 1296h1.5M773.5 1284h1.5M799.5 1289.5h1.5M804.5 1311h1.5M772 1283.5h1.5M773 1303.5h1.5M825 1348.5h1.5M809 1283.5h1.5M793 1274h1.5M796 1287h1.5M766 1296h1.5M806.5 1317.5h1.5M784.5 1267h1.5M796.5 1282h1.5M780.5 1256h1.5M785.5 1271h1.5M794.5 1298h1.5M781 1281h1.5M797.5 1273.5h1.5M830.5 1274h1.5M768 1271h1.5M772.5 1270h1.5M791 1256.5h1.5M796 1307.5h1.5M789.5 1298.5h1.5M765.5 1283h1.5M782 1292.5h1.5M793 1330h1.5M777.5 1314h1.5M806.5 1284h1.5M806.5 1320h1.5M825.5 1265h1.5M790 1270h1.5M779 1297.5h1.5M783.5 1247.5h1.5M800.5 1285.5h1.5M778.5 1271.5h1.5M810 1313h1.5M803.5 1296h1.5M777 1277.5h1.5M790.5 1251h1.5M798.5 1291h1.5M794 1289h1.5M788 1269h1.5M774.5 1286h1.5M818 1296.5h1.5M784.5 1276h1.5M782.5 1275h1.5M804 1302.5h1.5M817.5 1253h1.5M805.5 1290h1.5M779.5 1262.5h1.5M812 1324.5h1.5M790 1264.5h1.5M781 1259h1.5M797.5 1296h1.5M792 1270h1.5M775.5 1270h1.5M794.5 1271.5h1.5M812.5 1297h1.5M784.5 1272.5h1.5M792.5 1278.5h1.5M781.5 1330.5h1.5M798.5 1269h1.5M783.5 1284h1.5M785 1280h1.5M789 1284.5h1.5M809.5 1263.5h1.5M766 1251h1.5M774.5 1255.5h1.5M805 1275h1.5M816.5 1307.5h1.5M777 1279.5h1.5M812 1279h1.5M807 1300.5h1.5M807.5 1286h1.5M811 1273.5h1.5M798 1275.5h1.5M801 1262.5h1.5M773 1304h1.5M769 1264h1.5M817 1295.5h1.5M804.5 1293h1.5M803 1289h1.5M786.5 1274.5h1.5M771 1273.5h1.5M799 1287.5h1.5M792.5 1249h1.5M766 1282.5h1.5M779 1291h1.5M782.5 1313h1.5M792.5 1319h1.5M791.5 1257.5h1.5M823.5 1276.5h1.5M794 1280h1.5M802.5 1290.5h1.5M778 1282h1.5M798 1293.5h1.5M801.5 1282.5h1.5M779.5 1272.5h1.5M779.5 1300.5h1.5M782 1281h1.5M795.5 1281h1.5M785 1263.5h1.5M793.5 1274h1.5M799.5 1306.5h1.5M795 1267.5h1.5M802 1316h1.5M788 1284.5h1.5M803 1283h1.5M781 1268.5h1.5M797 1295.5h1.5M799.5 1245h1.5M814.5 1267h1.5M799.5 1262h1.5M791.5 1294.5h1.5M790.5 1276.5h1.5M808 1276.5h1.5M819.5 1345h1.5M786.5 1267.5h1.5M804.5 1294.5h1.5M797.5 1283.5h1.5M823 1302.5h1.5M785.5 1269.5h1.5M793 1266.5h1.5M807.5 1286h1.5M840.5 1299h1.5M773 1277h1.5M784.5 1257h1.5M824 1297.5h1.5M785.5 1276.5h1.5M826 1310h1.5M771 1265h1.5M791 1292.5h1.5M788 1294h1.5M809 1243h1.5M775.5 1255.5h1.5M778 1280h1.5M785.5 1296.5h1.5M796.5 1287.5h1.5M786 1279h1.5M785 1278.5h1.5M789.5 1262.5h1.5M775.5 1251.5h1.5M789 1289.5h1.5M789.5 1255h1.5M806.5 1303.5h1.5M785 1284.5h1.5M803 1300.5h1.5M803.5 1340.5h1.5M787 1254h1.5M800.5 1249.5h1.5M789.5 1261h1.5M780 1309h1.5M801.5 1319h1.5M766 1255h1.5M807 1344h1.5M808 1289h1.5M796.5 1269h1.5M834 1277.5h1.5M804.5 1300.5h1.5M767.5 1270.5h1.5M796 1304h1.5M773 1287.5h1.5M777 1250.5h1.5M789 1296h1.5M781.5 1319h1.5M801 1287h1.5M784 1259.5h1.5M785.5 1293h1.5M784 1289h1.5M782.5 1296h1.5M787 1245.5h1.5M781.5 1250h1.5M837.5 1283.5h1.5M816 1287.5h1.5M801.5 1299.5h1.5M786.5 1295h1.5M814 1290.5h1.5M811 1279.5h1.5M814.5 1269h1.5M826 1283h1.5M777.5 1259.5h1.5M773.5 1266.5h1.5M781 1256h1.5M811 1277.5h1.5M784 1257.5h1.5M804 1244.5h1.5M783.5 1318h1.5M798.5 1282.5h1.5M804 1300h1.5M782 1249.5h1.5M805.5 1287h1.5M799 1250h1.5M784.5 1294h1.5M801.5 1299.5h1.5M794.5 1294h1.5M798 1280h1.5M804 1309h1.5M784 1303h1.5M769.5 1271.5h1.5M800 1251h1.5M806.5 1332h1.5M801 1261.5h1.5M782.5 1281.5h1.5M803 1254.5h1.5M782.5 1302h1.5M790.5 1281.5h1.5M775.5 1296.5h1.5M795 1265.5h1.5M818 1280.5h1.5M790 1320.5h1.5M786 1288.5h1.5M790 1297.5h1.5M782 1276h1.5M786 1272.5h1.5M797.5 1250.5h1.5M792 1284h1.5M845.5 1259h1.5M811.5 1255h1.5M831.5 1256.5h1.5M823.5 1252.5h1.5M827 1259h1.5M820 1259h1.5M819.5 1257h1.5M841.5 1241.5h1.5M820.5 1275.5h1.5M804.5 1268h1.5M812.5 1245.5h1.5M833.5 1250.5h1.5M816 1245h1.5M836.5 1261h1.5M806 1262h1.5M826 1256.5h1.5M840 1245h1.5M822 1255h1.5M831 1262.5h1.5M834 1264.5h1.5M837 1261.5h1.5M808.5 1247h1.5M828 1254.5h1.5M816.5 1261.5h1.5M813 1253.5h1.5M815.5 1244h1.5M812.5 1248.5h1.5M797 1278.5h1.5M832 1244h1.5M826 1257h1.5M799.5 1262.5h1.5M807 1260.5h1.5M826.5 1253.5h1.5M824 1264.5h1.5M834 1254.5h1.5M819 1252.5h1.5M841 1253h1.5M793.5 1253.5h1.5M828.5 1260.5h1.5M812 1254h1.5M808.5 1255.5h1.5M848 1255.5h1.5M841 1248.5h1.5M802 1260h1.5M798 1275h1.5M840 1243.5h1.5M803 1267.5h1.5M848 1259.5h1.5M811 1271.5h1.5M821 1278.5h1.5M793 1259.5h1.5M821 1250h1.5M805 1270h1.5M819.5 1267.5h1.5M843.5 1244.5h1.5M808 1266h1.5M835.5 1279.5h1.5M804 1263.5h1.5M829.5 1264.5h1.5M812.5 1275h1.5M837.5 1277h1.5M837.5 1256h1.5M846 1263h1.5M843.5 1244.5h1.5M806 1262.5h1.5M798.5 1260h1.5M790.5 1249h1.5M804 1266.5h1.5M839.5 1257h1.5M845.5 1241.5h1.5M804.5 1277h1.5M806 1252h1.5M823 1260h1.5M816 1255.5h1.5M817 1260h1.5M806.5 1270.5h1.5M845.5 1258.5h1.5M833 1261h1.5M802.5 1268.5h1.5M789 1255h1.5M839 1263.5h1.5M790.5 1256.5h1.5M843 1251h1.5M822 1254.5h1.5M847 1254h1.5M835.5 1249.5h1.5M843.5 1250.5h1.5M839 1268h1.5M822.5 1245.5h1.5M802 1263h1.5M831.5 1244.5h1.5M828 1262.5h1.5M816.5 1252.5h1.5M824.5 1257.5h1.5M802.5 1251h1.5M818.5 1270.5h1.5M799.5 1264.5h1.5M816 1260.5h1.5M821 1265.5h1.5M839 1241.5h1.5M821 1252h1.5M845 1253h1.5M791 1251h1.5M824.5 1249.5h1.5M806.5 1251.5h1.5M840.5 1249.5h1.5M822 1262.5h1.5M798.5 1271.5h1.5M809 1278.5h1.5M831 1255h1.5M797 1266h1.5M814 1259.5h1.5M843.5 1255h1.5M794.5 1269h1.5M834.5 1263h1.5M833.5 1263h1.5M812 1265.5h1.5M802 1277.5h1.5M798 1264.5h1.5M847 1245h1.5M830 1251.5h1.5M813.5 1259h1.5M838 1243.5h1.5M796.5 1259h1.5M796.5 1254h1.5M804.5 1266h1.5M837 1257h1.5M811.5 1244h1.5M827.5 1250h1.5M810 1278h1.5M838.5 1259h1.5M839.5 1257h1.5M814.5 1253.5h1.5M805 1265h1.5M828.5 1256h1.5M805 1255h1.5M799.5 1259.5h1.5M826.5 1252h1.5M818 1245h1.5M834.5 1242h1.5M808.5 1259.5h1.5M803 1255h1.5M828.5 1253h1.5M829 1241h1.5M818 1266.5h1.5M822.5 1277h1.5M801.5 1273h1.5M822 1268.5h1.5M849.5 1256h1.5M799 1266.5h1.5M825 1257.5h1.5M791 1258h1.5M812.5 1267h1.5M837.5 1259.5h1.5M824 1253h1.5M798 1269.5h1.5M816.5 1253h1.5M795 1259.5h1.5M815.5 1266.5h1.5M837.5 1257.5h1.5M806.5 1260h1.5M817.5 1255.5h1.5M821.5 1259.5h1.5M797 1257.5h1.5M821 1246h1.5M794 1265.5h1.5M800 1274h1.5M806 1266.5h1.5M832.5 1250h1.5M792.5 1259h1.5M845 1244.5h1.5M821.5 1276.5h1.5M841 1253h1.5M805.5 1264h1.5M806.5 1242.5h1.5M831.5 1244h1.5M814 1259.5h1.5M820 1253.5h1.5M839.5 1254h1.5M830 1256.5h1.5M842 1258h1.5M792.5 1248.5h1.5M824.5 1246.5h1.5M826.5 1255.5h1.5M825.5 1250.5h1.5M825.5 1254h1.5M834 1255.5h1.5M839 1246h1.5M806 1264h1.5M799.5 1269h1.5M796.5 1265.5h1.5M803 1269.5h1.5M815 1254.5h1.5M814.5 1268h1.5M842.5 1244h1.5M842 1243h1.5M789 1332h1.5M796 1315.5h1.5M774 1320.5h1.5M789.5 1323h1.5M775 1320.5h1.5M797.5 1326h1.5M777.5 1296.5h1.5M780 1291.5h1.5M774.5 1318h1.5M773 1308h1.5M766.5 1318.5h1.5M784 1326h1.5M782 1296.5h1.5M787 1318.5h1.5M778 1296.5h1.5M813 1333h1.5M785.5 1321h1.5M786 1335h1.5M788.5 1329.5h1.5M801.5 1332.5h1.5M784.5 1308.5h1.5M795 1295h1.5M773 1342h1.5M791 1338h1.5M807 1335.5h1.5M791.5 1344h1.5M778 1324h1.5M783.5 1318.5h1.5M796 1332.5h1.5M787 1295h1.5M790.5 1332.5h1.5M792 1334h1.5M797 1319.5h1.5M784.5 1311h1.5M798.5 1324h1.5M780.5 1342h1.5M772 1300.5h1.5M792 1305.5h1.5M793 1326h1.5M792 1335h1.5M787 1326h1.5M783.5 1323h1.5M777 1295.5h1.5M780.5 1314.5h1.5M775 1341.5h1.5M783 1310h1.5M795.5 1309h1.5M798 1307h1.5M769 1312.5h1.5M779.5 1313h1.5M786 1333h1.5M780.5 1316h1.5M784.5 1323.5h1.5M780.5 1315h1.5M792 1337.5h1.5M772.5 1301.5h1.5M786 1296h1.5M792 1311h1.5M804.5 1341h1.5M789 1328h1.5M775 1326h1.5M788 1310.5h1.5M795 1304h1.5M787 1343h1.5M790 1312.5h1.5M773.5 1331.5h1.5M778.5 1336.5h1.5M798 1324h1.5M784 1302.5h1.5M789.5 1304.5h1.5M790.5 1289.5h1.5M790 1343h1.5M781 1337h1.5M785 1312h1.5M793.5 1338.5h1.5M801 1295h1.5M786.5 1291h1.5M776.5 1298.5h1.5M800.5 1336.5h1.5M770 1301h1.5M786 1293h1.5M780 1300.5h1.5M787.5 1312h1.5M795.5 1315.5h1.5M778.5 1303.5h1.5M793.5 1333.5h1.5M797 1341.5h1.5M804 1302h1.5M778 1343.5h1.5M788 1335h1.5M779 1340.5h1.5M775 1294.5h1.5M778.5 1337.5h1.5M791 1321.5h1.5M792.5 1290h1.5M781 1332.5h1.5M781.5 1303.5h1.5M792 1333h1.5M779.5 1325.5h1.5M782 1317.5h1.5M774.5 1292.5h1.5M798 1337.5h1.5M773 1299.5h1.5M788.5 1335.5h1.5M777.5 1329.5h1.5M772 1295.5h1.5M779.5 1321h1.5M790.5 1342.5h1.5M783 1342h1.5M771.5 1300h1.5M776.5 1300.5h1.5M779.5 1299h1.5M781.5 1332.5h1.5M786.5 1298h1.5M767 1296h1.5M799 1309h1.5M789.5 1343h1.5M786.5 1306.5h1.5M793 1329h1.5M832.5 1252h1.5M837 1241h1.5M831 1241.5h1.5M843 1247h1.5M844.5 1248h1.5M836 1247.5h1.5M843.5 1243.5h1.5M844 1247h1.5M840.5 1246.5h1.5M841 1254.5h1.5M838.5 1242h1.5M833.5 1258.5h1.5M839.5 1247h1.5M835.5 1250h1.5M844 1263.5h1.5M838.5 1241.5h1.5M840 1254.5h1.5M842.5 1241.5h1.5M826 1252h1.5M839 1242h1.5M839 1249.5h1.5M840 1260.5h1.5M834 1245.5h1.5M858 1245.5h1.5M841 1241h1.5M837.5 1243.5h1.5M858.5 1260h1.5M839 1270h1.5M849 1256h1.5M836.5 1269h1.5M841.5 1252h1.5M855.5 1243h1.5M853 1250.5h1.5M828.5 1242.5h1.5M845 1255h1.5M803 1255h1.5M770 1259.5h1.5M790.5 1254.5h1.5M814.5 1242.5h1.5M821.5 1242.5h1.5M815 1256.5h1.5M821.5 1245h1.5M805 1257.5h1.5M800 1247h1.5M804 1242h1.5M829.5 1257.5h1.5M838.5 1275.5h1.5M790 1257h1.5M830.5 1243h1.5M802 1256h1.5M777.5 1251h1.5M809.5 1252.5h1.5M820.5 1253.5h1.5M817.5 1261h1.5M806 1245.5h1.5M802.5 1245h1.5M829 1241.5h1.5M790 1255h1.5" stroke="#28B428" stroke-width="1.5" fill="none"/>
<text transform="translate(657.26 1099.82) scale(1.016 1)" font-size="13.87" fill="#F0883A">Q1-UL(0.67%)</text>
<text transform="translate(816.63 1099.82) scale(1.014 1)" font-size="13.87" fill="#2A2AE8">Q1-UR(19.52%)</text>
<rect x="657.0" y="1331.5" width="96.5" height="15.0" fill="#fff" opacity="0.55"/>
<text transform="translate(657.26 1342.60) scale(1.006 1)" font-size="13.98" fill="#FF0000">Q1-LL(55.80%)</text>
<text transform="translate(818.76 1342.74) scale(1.030 1)" font-size="13.76" fill="#28B428">Q1-LR(24.02%)</text>
<rect x="653.00" y="1082.40" width="268.00" height="268.10" fill="none" stroke="#2a2a2a" stroke-width="1.5"/>
<line x1="764.00" y1="1082.40" x2="764.00" y2="1350.50" stroke="#222" stroke-width="1.50"/>
<line x1="653.00" y1="1240.80" x2="921.00" y2="1240.80" stroke="#222" stroke-width="1.50"/>
<path d="M646.0 1082.40H653.0M646.0 1132.40H653.0M646.0 1182.10H653.0M646.0 1232.30H653.0M646.0 1281.90H653.0M646.0 1331.80H653.0M646.0 1350.50H653.0M648.5 1117.35H653.0M648.5 1108.54H653.0M648.5 1102.30H653.0M648.5 1097.45H653.0M648.5 1093.49H653.0M648.5 1090.15H653.0M648.5 1087.25H653.0M648.5 1084.69H653.0M648.5 1167.14H653.0M648.5 1158.39H653.0M648.5 1152.18H653.0M648.5 1147.36H653.0M648.5 1143.43H653.0M648.5 1140.10H653.0M648.5 1137.22H653.0M648.5 1134.67H653.0M648.5 1217.19H653.0M648.5 1208.35H653.0M648.5 1202.08H653.0M648.5 1197.21H653.0M648.5 1193.24H653.0M648.5 1189.88H653.0M648.5 1186.96H653.0M648.5 1184.40H653.0M648.5 1266.97H653.0M648.5 1258.23H653.0M648.5 1252.04H653.0M648.5 1247.23H653.0M648.5 1243.30H653.0M648.5 1239.98H653.0M648.5 1237.11H653.0M648.5 1234.57H653.0M648.5 1285.00H653.0M648.5 1287.90H653.0M648.5 1291.25H653.0M648.5 1295.40H653.0M648.5 1300.40H653.0M648.5 1305.80H653.0M648.5 1312.90H653.0M648.5 1321.25H653.0M648.5 1342.60H653.0" stroke="#2a2a2a" stroke-width="1.3" fill="none"/>
<path d="M653.00 1350.5V1357.5M679.30 1350.5V1357.5M715.60 1350.5V1357.5M782.10 1350.5V1357.5M851.60 1350.5V1357.5M920.90 1350.5V1357.5M659.30 1350.5V1354.5M664.30 1350.5V1354.5M669.30 1350.5V1354.5M674.30 1350.5V1354.5M685.90 1350.5V1354.5M690.90 1350.5V1354.5M695.10 1350.5V1354.5M699.30 1350.5V1354.5M703.40 1350.5V1354.5M706.80 1350.5V1354.5M710.10 1350.5V1354.5M712.60 1350.5V1354.5M735.62 1350.5V1354.5M747.33 1350.5V1354.5M755.64 1350.5V1354.5M762.08 1350.5V1354.5M767.35 1350.5V1354.5M771.80 1350.5V1354.5M775.66 1350.5V1354.5M779.06 1350.5V1354.5M803.02 1350.5V1354.5M815.26 1350.5V1354.5M823.94 1350.5V1354.5M830.68 1350.5V1354.5M836.18 1350.5V1354.5M840.83 1350.5V1354.5M844.86 1350.5V1354.5M848.42 1350.5V1354.5M872.46 1350.5V1354.5M884.66 1350.5V1354.5M893.32 1350.5V1354.5M900.04 1350.5V1354.5M905.53 1350.5V1354.5M910.17 1350.5V1354.5M914.18 1350.5V1354.5M917.73 1350.5V1354.5" stroke="#2a2a2a" stroke-width="1.3" fill="none"/>
<path d="M51.25 1381 V1300 M50 1380 H150" stroke="#000" stroke-width="2" fill="none"/>
<path d="M51.25 1287.9 L47.5 1303 L55 1303 Z M161.7 1380 L147.5 1376.3 L147.5 1383.7 Z" fill="#000"/>
<text transform="translate(10.77 1354.67) scale(0.963 1)" font-size="26.79" fill="#000">PE</text>
<text transform="translate(51.18 1407.52) scale(1.072 1)" font-size="23.97" fill="#000">FITC</text>
<line x1="1020.00" y1="1086.00" x2="1020.00" y2="1343.50" stroke="#000" stroke-width="1.70"/>
<line x1="1015.30" y1="1342.70" x2="1194.75" y2="1342.70" stroke="#000" stroke-width="1.80"/>
<line x1="1015.30" y1="1086.70" x2="1020.00" y2="1086.70" stroke="#000" stroke-width="1.70"/>
<line x1="1015.30" y1="1138.00" x2="1020.00" y2="1138.00" stroke="#000" stroke-width="1.70"/>
<line x1="1015.30" y1="1189.30" x2="1020.00" y2="1189.30" stroke="#000" stroke-width="1.70"/>
<line x1="1015.30" y1="1240.60" x2="1020.00" y2="1240.60" stroke="#000" stroke-width="1.70"/>
<line x1="1015.30" y1="1291.60" x2="1020.00" y2="1291.60" stroke="#000" stroke-width="1.70"/>
<line x1="1015.30" y1="1342.70" x2="1020.00" y2="1342.70" stroke="#000" stroke-width="1.70"/>
<text transform="translate(983.67 1096.12) scale(1.007 1)" font-size="24.11" fill="#000">50</text>
<text transform="translate(984.04 1146.51) scale(0.954 1)" font-size="25.11" fill="#000">40</text>
<text transform="translate(983.67 1197.12) scale(0.990 1)" font-size="24.54" fill="#000">30</text>
<text transform="translate(982.66 1247.12) scale(1.088 1)" font-size="23.55" fill="#000">20</text>
<text transform="translate(984.12 1299.82) scale(0.988 1)" font-size="24.54" fill="#000">10</text>
<text transform="translate(998.33 1349.82) scale(0.961 1)" font-size="23.69" fill="#000">0</text>
<text transform="translate(971.66 1293.39) rotate(-90) scale(1.019 1)" font-size="25.27" fill="#000">cell death (%)</text>
<line x1="1055.00" y1="1315.70" x2="1055.00" y2="1317.30" stroke="#000" stroke-width="1.60"/>
<line x1="1047.30" y1="1315.70" x2="1063.30" y2="1315.70" stroke="#000" stroke-width="1.80"/>
<rect x="1037.80" y="1318.10" width="34.40" height="24.60" fill="#000" stroke="#000" stroke-width="1.6"/>
<line x1="1107.42" y1="1300.60" x2="1107.42" y2="1301.60" stroke="#000" stroke-width="1.60"/>
<line x1="1098.50" y1="1300.60" x2="1115.00" y2="1300.60" stroke="#000" stroke-width="1.80"/>
<rect x="1090.55" y="1302.40" width="33.75" height="40.30" fill="#0000FF" stroke="#000" stroke-width="1.6"/>
<line x1="1159.47" y1="1103.60" x2="1159.47" y2="1125.00" stroke="#000" stroke-width="1.60"/>
<line x1="1151.20" y1="1103.60" x2="1167.90" y2="1103.60" stroke="#000" stroke-width="1.80"/>
<rect x="1142.50" y="1125.80" width="33.95" height="216.90" fill="#FF0000" stroke="#000" stroke-width="1.6"/>
<line x1="1055.00" y1="1342.70" x2="1055.00" y2="1349.70" stroke="#000" stroke-width="1.70"/>
<line x1="1107.20" y1="1342.70" x2="1107.20" y2="1349.70" stroke="#000" stroke-width="1.70"/>
<line x1="1159.30" y1="1342.70" x2="1159.30" y2="1349.70" stroke="#000" stroke-width="1.70"/>
<path d="M1107 1275 V1072.7 H1159.4 V1083.75" stroke="#333" stroke-width="1.3" fill="none"/>
<text transform="translate(1125.16 1066.85) scale(0.932 1)" font-size="20.59" fill="#000">##</text>
<text transform="translate(1140.47 1104.74) scale(1.124 1)" font-size="22.03" fill="#000">****</text>
<text transform="translate(1093.38 1298.45) scale(1.141 1)" font-size="20.87" fill="#000">***</text>
<text transform="translate(1049.77 1403.12) rotate(-59)" font-size="25.00" fill="#000">Ctrl</text>
<text transform="translate(1085.86 1432.05) rotate(-59)" font-size="25.00" fill="#000">TNF-α</text>
<text transform="translate(1100.94 1494.44) rotate(-59)" font-size="25.00" fill="#000">TNF-α ZVAD</text>
</svg></body></html>
